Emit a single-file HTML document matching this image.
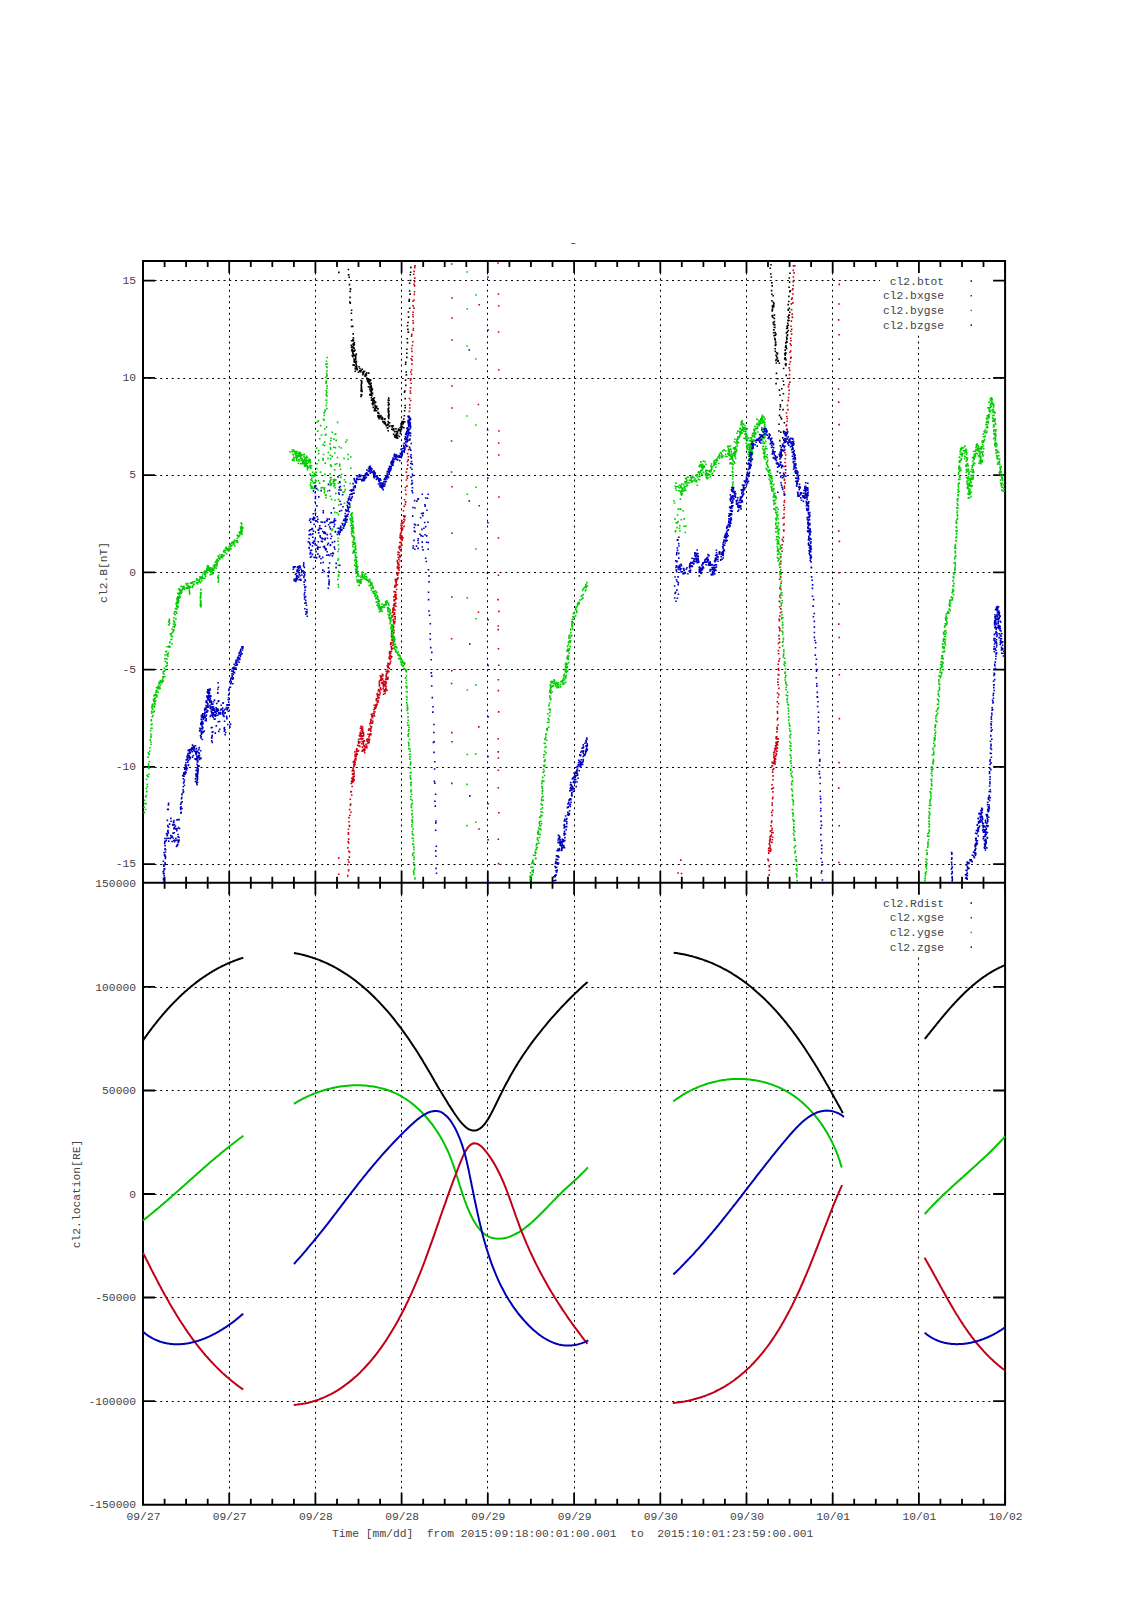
<!DOCTYPE html>
<html><head><meta charset="utf-8"><title>plot</title>
<style>html,body{margin:0;padding:0;background:#fff;}svg{display:block;}</style>
</head><body>
<svg width="1131" height="1600" viewBox="0 0 1131 1600"><path d="M229.5 261.0V882.8M229.5 882.8V1504.8M315.5 261.0V882.8M315.5 882.8V1504.8M401.5 261.0V882.8M401.5 882.8V1504.8M487.5 261.0V882.8M487.5 882.8V1504.8M574.5 261.0V882.8M574.5 882.8V1504.8M660.5 261.0V882.8M660.5 882.8V1504.8M746.5 261.0V882.8M746.5 882.8V1504.8M832.5 261.0V882.8M832.5 882.8V1504.8M918.5 261.0V882.8M918.5 882.8V1504.8M143.0 280.5H1005.1M143.0 378.5H1005.1M143.0 475.5H1005.1M143.0 572.5H1005.1M143.0 669.5H1005.1M143.0 767.5H1005.1M143.0 864.5H1005.1M143.0 987.5H1005.1M143.0 1090.5H1005.1M143.0 1194.5H1005.1M143.0 1297.5H1005.1M143.0 1401.5H1005.1" stroke="#000" stroke-width="1" stroke-dasharray="2 3.75" fill="none"/>
<rect x="880" y="270" width="124" height="62" fill="#fff"/>
<rect x="880" y="890" width="124" height="64" fill="#fff"/>
<path d="M143.0 261.0v12.0M143.0 882.8v-12.0M143.0 882.8v12.0M143.0 1504.8v-12.0M164.6 261.0v6.0M164.6 882.8v-6.0M164.6 882.8v6.0M164.6 1504.8v-6.0M186.1 261.0v6.0M186.1 882.8v-6.0M186.1 882.8v6.0M186.1 1504.8v-6.0M207.7 261.0v6.0M207.7 882.8v-6.0M207.7 882.8v6.0M207.7 1504.8v-6.0M229.2 261.0v12.0M229.2 882.8v-12.0M229.2 882.8v12.0M229.2 1504.8v-12.0M250.8 261.0v6.0M250.8 882.8v-6.0M250.8 882.8v6.0M250.8 1504.8v-6.0M272.3 261.0v6.0M272.3 882.8v-6.0M272.3 882.8v6.0M272.3 1504.8v-6.0M293.9 261.0v6.0M293.9 882.8v-6.0M293.9 882.8v6.0M293.9 1504.8v-6.0M315.4 261.0v12.0M315.4 882.8v-12.0M315.4 882.8v12.0M315.4 1504.8v-12.0M337.0 261.0v6.0M337.0 882.8v-6.0M337.0 882.8v6.0M337.0 1504.8v-6.0M358.5 261.0v6.0M358.5 882.8v-6.0M358.5 882.8v6.0M358.5 1504.8v-6.0M380.1 261.0v6.0M380.1 882.8v-6.0M380.1 882.8v6.0M380.1 1504.8v-6.0M401.6 261.0v12.0M401.6 882.8v-12.0M401.6 882.8v12.0M401.6 1504.8v-12.0M423.2 261.0v6.0M423.2 882.8v-6.0M423.2 882.8v6.0M423.2 1504.8v-6.0M444.7 261.0v6.0M444.7 882.8v-6.0M444.7 882.8v6.0M444.7 1504.8v-6.0M466.3 261.0v6.0M466.3 882.8v-6.0M466.3 882.8v6.0M466.3 1504.8v-6.0M487.8 261.0v12.0M487.8 882.8v-12.0M487.8 882.8v12.0M487.8 1504.8v-12.0M509.4 261.0v6.0M509.4 882.8v-6.0M509.4 882.8v6.0M509.4 1504.8v-6.0M530.9 261.0v6.0M530.9 882.8v-6.0M530.9 882.8v6.0M530.9 1504.8v-6.0M552.5 261.0v6.0M552.5 882.8v-6.0M552.5 882.8v6.0M552.5 1504.8v-6.0M574.1 261.0v12.0M574.1 882.8v-12.0M574.1 882.8v12.0M574.1 1504.8v-12.0M595.6 261.0v6.0M595.6 882.8v-6.0M595.6 882.8v6.0M595.6 1504.8v-6.0M617.2 261.0v6.0M617.2 882.8v-6.0M617.2 882.8v6.0M617.2 1504.8v-6.0M638.7 261.0v6.0M638.7 882.8v-6.0M638.7 882.8v6.0M638.7 1504.8v-6.0M660.3 261.0v12.0M660.3 882.8v-12.0M660.3 882.8v12.0M660.3 1504.8v-12.0M681.8 261.0v6.0M681.8 882.8v-6.0M681.8 882.8v6.0M681.8 1504.8v-6.0M703.4 261.0v6.0M703.4 882.8v-6.0M703.4 882.8v6.0M703.4 1504.8v-6.0M724.9 261.0v6.0M724.9 882.8v-6.0M724.9 882.8v6.0M724.9 1504.8v-6.0M746.5 261.0v12.0M746.5 882.8v-12.0M746.5 882.8v12.0M746.5 1504.8v-12.0M768.0 261.0v6.0M768.0 882.8v-6.0M768.0 882.8v6.0M768.0 1504.8v-6.0M789.6 261.0v6.0M789.6 882.8v-6.0M789.6 882.8v6.0M789.6 1504.8v-6.0M811.1 261.0v6.0M811.1 882.8v-6.0M811.1 882.8v6.0M811.1 1504.8v-6.0M832.7 261.0v12.0M832.7 882.8v-12.0M832.7 882.8v12.0M832.7 1504.8v-12.0M854.2 261.0v6.0M854.2 882.8v-6.0M854.2 882.8v6.0M854.2 1504.8v-6.0M875.8 261.0v6.0M875.8 882.8v-6.0M875.8 882.8v6.0M875.8 1504.8v-6.0M897.3 261.0v6.0M897.3 882.8v-6.0M897.3 882.8v6.0M897.3 1504.8v-6.0M918.9 261.0v12.0M918.9 882.8v-12.0M918.9 882.8v12.0M918.9 1504.8v-12.0M940.4 261.0v6.0M940.4 882.8v-6.0M940.4 882.8v6.0M940.4 1504.8v-6.0M962.0 261.0v6.0M962.0 882.8v-6.0M962.0 882.8v6.0M962.0 1504.8v-6.0M983.5 261.0v6.0M983.5 882.8v-6.0M983.5 882.8v6.0M983.5 1504.8v-6.0M1005.1 261.0v12.0M1005.1 882.8v-12.0M1005.1 882.8v12.0M1005.1 1504.8v-12.0M143.0 280.6h12M1005.1 280.6h-12M143.0 377.9h12M1005.1 377.9h-12M143.0 475.1h12M1005.1 475.1h-12M143.0 572.4h12M1005.1 572.4h-12M143.0 669.6h12M1005.1 669.6h-12M143.0 766.9h12M1005.1 766.9h-12M143.0 864.1h12M1005.1 864.1h-12M143.0 986.9h12M1005.1 986.9h-12M143.0 1090.5h12M1005.1 1090.5h-12M143.0 1194.0h12M1005.1 1194.0h-12M143.0 1297.5h12M1005.1 1297.5h-12M143.0 1401.1h12M1005.1 1401.1h-12" stroke="#000" stroke-width="1.8" fill="none"/>
<path d="M143.0 261.0H1005.1V1504.8H143.0ZM143.0 882.8H1005.1" stroke="#000" stroke-width="2" fill="none"/>
<g font-family="Liberation Mono, Courier New, monospace" font-size="11.3" fill="#444"><text x="136" y="283.8" text-anchor="end">15</text><text x="136" y="381.1" text-anchor="end">10</text><text x="136" y="478.3" text-anchor="end">5</text><text x="136" y="575.6" text-anchor="end">0</text><text x="136" y="672.9" text-anchor="end">-5</text><text x="136" y="770.1" text-anchor="end">-10</text><text x="136" y="867.4" text-anchor="end">-15</text><text x="136" y="887.0" text-anchor="end">150000</text><text x="136" y="990.5" text-anchor="end">100000</text><text x="136" y="1094.0" text-anchor="end">50000</text><text x="136" y="1197.6" text-anchor="end">0</text><text x="136" y="1301.1" text-anchor="end">-50000</text><text x="136" y="1404.7" text-anchor="end">-100000</text><text x="136" y="1508.2" text-anchor="end">-150000</text><text x="143.5" y="1520.2" text-anchor="middle">09/27</text><text x="229.7" y="1520.2" text-anchor="middle">09/27</text><text x="315.9" y="1520.2" text-anchor="middle">09/28</text><text x="402.1" y="1520.2" text-anchor="middle">09/28</text><text x="488.3" y="1520.2" text-anchor="middle">09/29</text><text x="574.6" y="1520.2" text-anchor="middle">09/29</text><text x="660.8" y="1520.2" text-anchor="middle">09/30</text><text x="747.0" y="1520.2" text-anchor="middle">09/30</text><text x="833.2" y="1520.2" text-anchor="middle">10/01</text><text x="919.4" y="1520.2" text-anchor="middle">10/01</text><text x="1005.6" y="1520.2" text-anchor="middle">10/02</text><text x="572.6" y="1537.3" text-anchor="middle" xml:space="preserve">Time [mm/dd]  from 2015:09:18:00:01:00.001  to  2015:10:01:23:59:00.001</text><text transform="translate(106.6 572.4) rotate(-90)" text-anchor="middle">cl2.B[nT]</text><text transform="translate(80 1194) rotate(-90)" text-anchor="middle">cl2.location[RE]</text><text transform="translate(568.7 246.1) scale(1.3 1)">-</text><text x="944" y="284.5" text-anchor="end">cl2.btot</text><text x="944" y="299.2" text-anchor="end">cl2.bxgse</text><text x="944" y="313.9" text-anchor="end">cl2.bygse</text><text x="944" y="328.6" text-anchor="end">cl2.bzgse</text><text x="944" y="906.5" text-anchor="end">cl2.Rdist</text><text x="944" y="921.2" text-anchor="end">cl2.xgse</text><text x="944" y="935.9" text-anchor="end">cl2.ygse</text><text x="944" y="950.6" text-anchor="end">cl2.zgse</text></g>
<rect x="970.5" y="280.3" width="1.5" height="1.5" fill="#000000"/>
<rect x="970.5" y="902.3" width="1.5" height="1.5" fill="#000000"/>
<rect x="970.5" y="295.0" width="1.5" height="1.5" fill="#c00018"/>
<rect x="970.5" y="917.0" width="1.5" height="1.5" fill="#c00018"/>
<rect x="970.5" y="309.7" width="1.5" height="1.5" fill="#00c400"/>
<rect x="970.5" y="931.7" width="1.5" height="1.5" fill="#00c400"/>
<rect x="970.5" y="324.4" width="1.5" height="1.5" fill="#0000b4"/>
<rect x="970.5" y="946.4" width="1.5" height="1.5" fill="#0000b4"/>
<path d="M142.8 1040.8L143.3 1040.1L143.7 1039.4L144.2 1038.7L144.7 1038.1L145.2 1037.4L145.6 1036.7L146.1 1036.0L146.6 1035.4L147.1 1034.7L147.6 1034.0L148.0 1033.4L148.5 1032.7L149.0 1032.0L149.5 1031.4L150.0 1030.7L150.5 1030.0L151.0 1029.4L151.5 1028.7L152.0 1028.0L152.5 1027.4L153.0 1026.7L153.5 1026.1L154.0 1025.4L154.6 1024.7L155.1 1024.1L155.6 1023.4L156.1 1022.8L156.6 1022.1L157.1 1021.5L157.7 1020.8L158.2 1020.2L158.7 1019.5L159.3 1018.9L159.8 1018.2L160.3 1017.6L160.9 1016.9L161.4 1016.3L161.9 1015.6L162.5 1015.0L163.0 1014.4L163.6 1013.7L164.1 1013.1L164.7 1012.5L165.2 1011.8L165.8 1011.2L166.4 1010.6L166.9 1009.9L167.5 1009.3L168.0 1008.7L168.6 1008.1L169.2 1007.5L169.7 1006.8L170.3 1006.2L170.9 1005.6L171.5 1005.0L172.1 1004.4L172.6 1003.8L173.2 1003.2L173.8 1002.6L174.4 1002.0L175.0 1001.4L175.6 1000.8L176.2 1000.2L176.8 999.6L177.4 999.0L178.0 998.4L178.6 997.8L179.2 997.2L179.8 996.6L180.4 996.1L181.0 995.5L181.6 994.9L182.2 994.3L182.8 993.8L183.5 993.2L184.1 992.6L184.7 992.1L185.3 991.5L185.9 991.0L186.6 990.4L187.2 989.9L187.8 989.3L188.5 988.8L189.1 988.2L189.8 987.7L190.4 987.1L191.0 986.6L191.7 986.1L192.3 985.5L193.0 985.0L193.6 984.5L194.3 984.0L195.0 983.5L195.6 982.9L196.3 982.4L197.0 981.9L197.6 981.4L198.3 980.9L199.0 980.4L199.6 979.9L200.3 979.4L201.0 978.9L201.7 978.5L202.3 978.0L203.0 977.5L203.7 977.0L204.4 976.6L205.1 976.1L205.8 975.6L206.5 975.2L207.2 974.7L207.9 974.3L208.6 973.8L209.3 973.4L210.0 972.9L210.7 972.5L211.4 972.1L212.1 971.6L212.8 971.2L213.6 970.8L214.3 970.4L215.0 969.9L215.7 969.5L216.5 969.1L217.2 968.7L217.9 968.3L218.7 967.9L219.4 967.5L220.1 967.2L220.9 966.8L221.6 966.4L222.4 966.0L223.1 965.7L223.9 965.3L224.6 964.9L225.4 964.6L226.1 964.2L226.9 963.9L227.6 963.5L228.4 963.2L229.2 962.9L229.9 962.5L230.7 962.2L231.5 961.9L232.3 961.6L233.0 961.3L233.8 961.0L234.6 960.7L235.4 960.4L236.2 960.1L237.0 959.8L237.7 959.5L238.5 959.2L239.3 959.0L240.1 958.7L240.9 958.4L241.7 958.2L242.5 957.9L243.3 957.7M293.9 953.0L296.8 953.6L299.7 954.1L302.5 954.8L305.3 955.5L308.1 956.3L310.8 957.1L313.5 958.0L316.2 958.9L318.9 959.9L321.5 961.0L324.2 962.1L326.7 963.2L329.3 964.5L331.8 965.7L334.4 967.0L336.8 968.4L339.3 969.8L341.7 971.3L344.1 972.8L346.5 974.3L348.8 975.9L351.2 977.5L353.5 979.2L355.8 980.9L358.0 982.7L360.2 984.5L362.4 986.3L364.6 988.2L366.8 990.1L368.9 992.0L371.0 994.0L373.1 996.0L375.1 998.0L377.2 1000.1L379.2 1002.1L381.2 1004.3L383.1 1006.4L385.1 1008.6L387.0 1010.7L388.9 1012.9L390.8 1015.2L392.6 1017.4L394.4 1019.7L396.2 1022.0L398.0 1024.3L399.8 1026.6L401.5 1028.9L403.2 1031.3L404.9 1033.6L406.6 1036.0L408.3 1038.4L409.9 1040.8L411.5 1043.2L413.1 1045.6L414.7 1048.0L416.3 1050.4L417.8 1052.8L419.3 1055.2L420.8 1057.6L422.3 1060.1L423.7 1062.5L425.2 1064.9L426.6 1067.3L428.0 1069.8L429.5 1072.2L430.9 1074.6L432.3 1077.1L433.7 1079.5L435.1 1082.0L436.6 1084.4L438.0 1086.9L439.5 1089.4L440.9 1091.8L442.4 1094.3L443.9 1096.8L445.5 1099.3L447.0 1101.8L448.6 1104.4L450.2 1106.9L451.8 1109.4L453.5 1112.0L455.2 1114.5L457.0 1117.0L458.8 1119.5L460.6 1121.8L462.4 1123.9L464.3 1125.8L466.2 1127.5L468.1 1128.8L470.1 1129.8L472.0 1130.4L474.0 1130.6L476.0 1130.4L477.9 1129.7L479.8 1128.6L481.7 1127.2L483.5 1125.4L485.2 1123.3L486.9 1120.9L488.5 1118.4L490.1 1115.6L491.6 1112.8L493.1 1109.9L494.6 1106.9L496.0 1104.0L497.4 1101.1L498.8 1098.3L500.1 1095.6L501.5 1092.9L502.8 1090.2L504.1 1087.6L505.4 1085.1L506.8 1082.6L508.1 1080.2L509.4 1077.7L510.7 1075.3L512.1 1073.0L513.5 1070.6L514.8 1068.3L516.2 1065.9L517.7 1063.6L519.1 1061.3L520.6 1059.0L522.1 1056.6L523.7 1054.3L525.3 1052.0L526.9 1049.7L528.5 1047.4L530.2 1045.0L531.9 1042.7L533.6 1040.4L535.3 1038.1L537.1 1035.9L538.9 1033.6L540.7 1031.3L542.5 1029.0L544.3 1026.8L546.2 1024.6L548.0 1022.3L549.9 1020.1L551.8 1017.9L553.7 1015.8L555.7 1013.6L557.6 1011.5L559.6 1009.3L561.5 1007.2L563.5 1005.1L565.5 1003.1L567.5 1001.0L569.5 999.0L571.5 997.0L573.5 995.0L575.5 993.1L577.5 991.2L579.5 989.3L581.5 987.4L583.5 985.6L585.6 983.8L587.6 982.0M673.7 952.7L675.3 952.9L676.9 953.1L678.5 953.4L680.1 953.7L681.7 954.0L683.3 954.3L684.8 954.6L686.4 954.9L687.9 955.3L689.5 955.7L691.0 956.0L692.5 956.4L694.0 956.9L695.5 957.3L697.0 957.7L698.5 958.2L700.0 958.7L701.4 959.1L702.9 959.6L704.3 960.2L705.8 960.7L707.2 961.2L708.6 961.8L710.1 962.4L711.5 962.9L712.9 963.5L714.2 964.1L715.6 964.8L717.0 965.4L718.4 966.1L719.7 966.7L721.1 967.4L722.4 968.1L723.7 968.8L725.1 969.5L726.4 970.2L727.7 970.9L729.0 971.7L730.3 972.4L731.6 973.2L732.8 974.0L734.1 974.8L735.4 975.6L736.6 976.4L737.9 977.2L739.1 978.1L740.3 978.9L741.6 979.8L742.8 980.7L744.0 981.5L745.2 982.4L746.4 983.3L747.6 984.2L748.8 985.2L749.9 986.1L751.1 987.0L752.3 988.0L753.4 988.9L754.6 989.9L755.7 990.9L756.8 991.9L758.0 992.9L759.1 993.9L760.2 994.9L761.3 995.9L762.4 996.9L763.5 998.0L764.6 999.0L765.7 1000.1L766.7 1001.1L767.8 1002.2L768.9 1003.3L769.9 1004.4L771.0 1005.5L772.0 1006.6L773.0 1007.7L774.1 1008.8L775.1 1009.9L776.1 1011.0L777.1 1012.2L778.1 1013.3L779.2 1014.5L780.1 1015.6L781.1 1016.8L782.1 1018.0L783.1 1019.1L784.1 1020.3L785.0 1021.5L786.0 1022.7L787.0 1023.9L787.9 1025.1L788.9 1026.3L789.8 1027.5L790.7 1028.7L791.7 1030.0L792.6 1031.2L793.5 1032.4L794.4 1033.6L795.4 1034.9L796.3 1036.1L797.2 1037.4L798.1 1038.6L799.0 1039.9L799.8 1041.2L800.7 1042.4L801.6 1043.7L802.5 1045.0L803.4 1046.2L804.2 1047.5L805.1 1048.8L805.9 1050.1L806.8 1051.4L807.6 1052.7L808.5 1054.0L809.3 1055.3L810.1 1056.6L811.0 1057.9L811.8 1059.2L812.6 1060.5L813.4 1061.8L814.3 1063.1L815.1 1064.4L815.9 1065.7L816.7 1067.0L817.5 1068.3L818.3 1069.7L819.1 1071.0L819.9 1072.3L820.6 1073.6L821.4 1074.9L822.2 1076.3L823.0 1077.6L823.8 1078.9L824.5 1080.2L825.3 1081.5L826.0 1082.9L826.8 1084.2L827.6 1085.5L828.3 1086.8L829.1 1088.1L829.8 1089.5L830.6 1090.8L831.3 1092.1L832.0 1093.4L832.8 1094.7L833.5 1096.0L834.2 1097.4L835.0 1098.7L835.7 1100.0L836.4 1101.3L837.1 1102.6L837.8 1103.9L838.6 1105.2L839.3 1106.5L840.0 1107.8L840.7 1109.1L841.4 1110.4L842.1 1111.7L842.8 1113.0M924.8 1039.0L925.2 1038.5L925.6 1037.9L926.0 1037.4L926.5 1036.8L926.9 1036.3L927.3 1035.8L927.8 1035.2L928.2 1034.7L928.6 1034.2L929.1 1033.6L929.5 1033.1L929.9 1032.5L930.3 1032.0L930.8 1031.5L931.2 1030.9L931.6 1030.4L932.1 1029.8L932.5 1029.3L932.9 1028.8L933.4 1028.2L933.8 1027.7L934.2 1027.1L934.7 1026.6L935.1 1026.1L935.6 1025.5L936.0 1025.0L936.4 1024.4L936.9 1023.9L937.3 1023.4L937.7 1022.8L938.2 1022.3L938.6 1021.7L939.1 1021.2L939.5 1020.7L939.9 1020.1L940.4 1019.6L940.8 1019.0L941.3 1018.5L941.7 1018.0L942.2 1017.4L942.6 1016.9L943.0 1016.4L943.5 1015.8L943.9 1015.3L944.4 1014.8L944.8 1014.2L945.3 1013.7L945.7 1013.2L946.2 1012.6L946.6 1012.1L947.1 1011.6L947.6 1011.0L948.0 1010.5L948.5 1010.0L948.9 1009.5L949.4 1008.9L949.8 1008.4L950.3 1007.9L950.8 1007.4L951.2 1006.9L951.7 1006.3L952.2 1005.8L952.6 1005.3L953.1 1004.8L953.6 1004.3L954.0 1003.8L954.5 1003.2L955.0 1002.7L955.4 1002.2L955.9 1001.7L956.4 1001.2L956.9 1000.7L957.3 1000.2L957.8 999.7L958.3 999.2L958.8 998.7L959.3 998.2L959.7 997.7L960.2 997.2L960.7 996.7L961.2 996.2L961.7 995.7L962.2 995.2L962.7 994.7L963.2 994.3L963.7 993.8L964.2 993.3L964.7 992.8L965.2 992.3L965.7 991.8L966.2 991.4L966.7 990.9L967.2 990.4L967.7 990.0L968.2 989.5L968.7 989.0L969.2 988.6L969.7 988.1L970.3 987.6L970.8 987.2L971.3 986.7L971.8 986.3L972.3 985.8L972.9 985.4L973.4 984.9L973.9 984.5L974.5 984.1L975.0 983.6L975.5 983.2L976.1 982.7L976.6 982.3L977.1 981.9L977.7 981.5L978.2 981.0L978.8 980.6L979.3 980.2L979.9 979.8L980.4 979.4L981.0 979.0L981.5 978.5L982.1 978.1L982.7 977.7L983.2 977.3L983.8 976.9L984.4 976.5L984.9 976.2L985.5 975.8L986.1 975.4L986.6 975.0L987.2 974.6L987.8 974.2L988.4 973.9L989.0 973.5L989.6 973.1L990.1 972.8L990.7 972.4L991.3 972.0L991.9 971.7L992.5 971.3L993.1 971.0L993.7 970.6L994.3 970.3L994.9 970.0L995.6 969.6L996.2 969.3L996.8 969.0L997.4 968.6L998.0 968.3L998.7 968.0L999.3 967.7L999.9 967.4L1000.5 967.1L1001.2 966.8L1001.8 966.5L1002.4 966.2L1003.1 965.9L1003.7 965.6L1004.4 965.3L1005.0 965.0" stroke="#000000" stroke-width="2" fill="none" stroke-linejoin="round"/>
<path d="M143.0 1220.5L143.6 1220.0L144.3 1219.5L144.9 1219.0L145.6 1218.4L146.2 1217.9L146.9 1217.4L147.5 1216.9L148.2 1216.4L148.8 1215.9L149.4 1215.3L150.1 1214.8L150.7 1214.3L151.4 1213.8L152.0 1213.2L152.6 1212.7L153.3 1212.2L153.9 1211.7L154.6 1211.1L155.2 1210.6L155.8 1210.1L156.5 1209.6L157.1 1209.0L157.7 1208.5L158.4 1208.0L159.0 1207.4L159.6 1206.9L160.2 1206.4L160.9 1205.8L161.5 1205.3L162.1 1204.8L162.8 1204.2L163.4 1203.7L164.0 1203.1L164.6 1202.6L165.3 1202.1L165.9 1201.5L166.5 1201.0L167.1 1200.4L167.8 1199.9L168.4 1199.4L169.0 1198.8L169.6 1198.3L170.2 1197.7L170.9 1197.2L171.5 1196.6L172.1 1196.1L172.7 1195.5L173.3 1195.0L174.0 1194.4L174.6 1193.9L175.2 1193.4L175.8 1192.8L176.4 1192.3L177.1 1191.7L177.7 1191.2L178.3 1190.6L178.9 1190.1L179.5 1189.5L180.2 1189.0L180.8 1188.4L181.4 1187.9L182.0 1187.3L182.6 1186.8L183.2 1186.2L183.9 1185.7L184.5 1185.1L185.1 1184.6L185.7 1184.0L186.3 1183.5L186.9 1182.9L187.5 1182.4L188.2 1181.8L188.8 1181.3L189.4 1180.7L190.0 1180.2L190.6 1179.6L191.2 1179.1L191.9 1178.5L192.5 1178.0L193.1 1177.4L193.7 1176.9L194.3 1176.3L194.9 1175.8L195.6 1175.2L196.2 1174.7L196.8 1174.1L197.4 1173.6L198.0 1173.0L198.7 1172.5L199.3 1171.9L199.9 1171.4L200.5 1170.8L201.1 1170.3L201.8 1169.7L202.4 1169.2L203.0 1168.6L203.6 1168.1L204.2 1167.6L204.9 1167.0L205.5 1166.5L206.1 1165.9L206.7 1165.4L207.3 1164.8L208.0 1164.3L208.6 1163.8L209.2 1163.2L209.8 1162.7L210.5 1162.1L211.1 1161.6L211.7 1161.1L212.4 1160.5L213.0 1160.0L213.6 1159.4L214.2 1158.9L214.9 1158.4L215.5 1157.8L216.1 1157.3L216.8 1156.8L217.4 1156.2L218.0 1155.7L218.7 1155.2L219.3 1154.7L219.9 1154.1L220.6 1153.6L221.2 1153.1L221.8 1152.6L222.5 1152.0L223.1 1151.5L223.7 1151.0L224.4 1150.5L225.0 1149.9L225.7 1149.4L226.3 1148.9L227.0 1148.4L227.6 1147.9L228.2 1147.4L228.9 1146.8L229.5 1146.3L230.2 1145.8L230.8 1145.3L231.5 1144.8L232.1 1144.3L232.8 1143.8L233.4 1143.3L234.1 1142.8L234.8 1142.3L235.4 1141.8L236.1 1141.3L236.7 1140.8L237.4 1140.3L238.0 1139.8L238.7 1139.3L239.4 1138.8L240.0 1138.3L240.7 1137.8L241.4 1137.3L242.0 1136.8L242.7 1136.3L243.4 1135.8M293.8 1103.9L296.0 1102.6L298.3 1101.2L300.6 1100.0L302.9 1098.7L305.2 1097.6L307.6 1096.4L310.0 1095.4L312.4 1094.3L314.8 1093.4L317.3 1092.5L319.8 1091.6L322.3 1090.8L324.8 1090.0L327.3 1089.3L329.9 1088.6L332.4 1088.0L335.0 1087.5L337.5 1087.0L340.1 1086.6L342.7 1086.2L345.3 1085.9L347.9 1085.7L350.4 1085.5L353.0 1085.3L355.6 1085.3L358.2 1085.3L360.7 1085.3L363.3 1085.4L365.9 1085.6L368.4 1085.9L370.9 1086.2L373.4 1086.6L375.9 1087.0L378.4 1087.6L380.9 1088.2L383.3 1088.8L385.7 1089.5L388.1 1090.3L390.5 1091.2L392.8 1092.1L395.1 1093.2L397.4 1094.2L399.7 1095.4L401.9 1096.6L404.1 1098.0L406.2 1099.3L408.3 1100.8L410.4 1102.3L412.5 1103.9L414.5 1105.5L416.4 1107.2L418.4 1109.0L420.3 1110.8L422.1 1112.6L423.9 1114.5L425.7 1116.5L427.4 1118.5L429.1 1120.5L430.8 1122.6L432.4 1124.7L433.9 1126.8L435.5 1129.0L436.9 1131.2L438.4 1133.4L439.8 1135.7L441.1 1138.0L442.4 1140.3L443.6 1142.6L444.8 1144.9L446.0 1147.2L447.1 1149.5L448.2 1151.9L449.2 1154.2L450.1 1156.6L451.1 1158.9L451.9 1161.3L452.8 1163.6L453.6 1166.0L454.4 1168.4L455.2 1170.8L456.0 1173.2L456.7 1175.6L457.5 1178.0L458.2 1180.4L459.0 1182.8L459.7 1185.2L460.5 1187.7L461.3 1190.1L462.1 1192.6L462.9 1195.1L463.8 1197.5L464.6 1200.0L465.6 1202.6L466.5 1205.1L467.5 1207.6L468.6 1210.2L469.7 1212.7L470.9 1215.2L472.1 1217.6L473.3 1220.0L474.7 1222.3L476.1 1224.6L477.5 1226.7L479.1 1228.7L480.7 1230.5L482.4 1232.2L484.1 1233.7L485.9 1235.1L487.8 1236.2L489.8 1237.1L491.9 1237.8L494.0 1238.3L496.2 1238.6L498.5 1238.7L500.7 1238.6L503.0 1238.4L505.3 1237.9L507.6 1237.4L509.8 1236.6L512.1 1235.7L514.3 1234.7L516.5 1233.5L518.7 1232.3L520.9 1230.9L523.1 1229.4L525.2 1227.8L527.3 1226.1L529.5 1224.4L531.6 1222.6L533.6 1220.7L535.7 1218.8L537.8 1216.8L539.8 1214.8L541.8 1212.8L543.8 1210.8L545.8 1208.7L547.8 1206.7L549.7 1204.6L551.7 1202.6L553.6 1200.6L555.5 1198.7L557.4 1196.7L559.2 1194.9L561.1 1193.1L562.9 1191.3L564.7 1189.6L566.5 1187.9L568.3 1186.3L570.1 1184.7L571.9 1183.1L573.7 1181.5L575.4 1179.8L577.2 1178.2L579.0 1176.5L580.7 1174.8L582.5 1173.1L584.3 1171.2L586.1 1169.4L587.9 1167.4M673.2 1101.5L674.3 1100.6L675.5 1099.8L676.7 1098.9L677.9 1098.1L679.1 1097.3L680.3 1096.5L681.6 1095.7L682.8 1094.9L684.0 1094.2L685.3 1093.4L686.5 1092.7L687.8 1092.0L689.0 1091.4L690.3 1090.7L691.6 1090.1L692.8 1089.5L694.1 1088.9L695.4 1088.3L696.7 1087.7L698.0 1087.2L699.3 1086.6L700.6 1086.1L701.9 1085.6L703.2 1085.2L704.5 1084.7L705.8 1084.3L707.1 1083.8L708.4 1083.4L709.8 1083.0L711.1 1082.7L712.4 1082.3L713.7 1082.0L715.1 1081.7L716.4 1081.4L717.7 1081.1L719.1 1080.8L720.4 1080.6L721.7 1080.3L723.1 1080.1L724.4 1079.9L725.8 1079.8L727.1 1079.6L728.4 1079.5L729.8 1079.3L731.1 1079.2L732.5 1079.1L733.8 1079.1L735.1 1079.0L736.5 1079.0L737.8 1079.0L739.2 1078.9L740.5 1079.0L741.8 1079.0L743.2 1079.0L744.5 1079.1L745.8 1079.2L747.1 1079.3L748.5 1079.4L749.8 1079.5L751.1 1079.7L752.4 1079.9L753.7 1080.1L755.0 1080.3L756.3 1080.5L757.6 1080.7L758.9 1081.0L760.2 1081.3L761.5 1081.5L762.8 1081.9L764.0 1082.2L765.3 1082.5L766.6 1082.9L767.8 1083.3L769.1 1083.7L770.3 1084.1L771.6 1084.5L772.8 1084.9L774.0 1085.4L775.2 1085.9L776.5 1086.4L777.7 1086.9L778.9 1087.4L780.1 1088.0L781.3 1088.5L782.4 1089.1L783.6 1089.7L784.8 1090.3L785.9 1090.9L787.1 1091.6L788.2 1092.3L789.3 1092.9L790.5 1093.6L791.6 1094.4L792.7 1095.1L793.8 1095.8L794.8 1096.6L795.9 1097.4L797.0 1098.2L798.0 1099.0L799.1 1099.8L800.1 1100.7L801.2 1101.5L802.2 1102.4L803.2 1103.3L804.2 1104.2L805.2 1105.1L806.1 1106.0L807.1 1107.0L808.1 1107.9L809.0 1108.9L809.9 1109.9L810.9 1110.9L811.8 1111.9L812.7 1112.9L813.6 1113.9L814.5 1114.9L815.4 1116.0L816.2 1117.1L817.1 1118.1L817.9 1119.2L818.7 1120.3L819.6 1121.4L820.4 1122.5L821.2 1123.7L822.0 1124.8L822.7 1125.9L823.5 1127.1L824.3 1128.3L825.0 1129.4L825.7 1130.6L826.5 1131.8L827.2 1133.0L827.9 1134.2L828.5 1135.4L829.2 1136.6L829.9 1137.9L830.5 1139.1L831.2 1140.3L831.8 1141.6L832.4 1142.8L833.0 1144.1L833.6 1145.4L834.2 1146.6L834.7 1147.9L835.3 1149.2L835.8 1150.5L836.4 1151.8L836.9 1153.1L837.4 1154.4L837.9 1155.7L838.4 1157.0L838.8 1158.3L839.3 1159.6L839.7 1160.9L840.1 1162.3L840.5 1163.6L840.9 1164.9L841.3 1166.2L841.7 1167.6M924.7 1214.1L925.2 1213.6L925.6 1213.0L926.1 1212.5L926.6 1212.0L927.1 1211.5L927.5 1211.0L928.0 1210.4L928.5 1209.9L929.0 1209.4L929.4 1208.9L929.9 1208.4L930.4 1207.9L930.9 1207.4L931.4 1206.9L931.9 1206.3L932.3 1205.8L932.8 1205.3L933.3 1204.8L933.8 1204.3L934.3 1203.8L934.8 1203.3L935.3 1202.8L935.8 1202.3L936.3 1201.8L936.8 1201.3L937.3 1200.8L937.8 1200.3L938.3 1199.8L938.8 1199.4L939.3 1198.9L939.8 1198.4L940.3 1197.9L940.8 1197.4L941.3 1196.9L941.8 1196.4L942.3 1195.9L942.8 1195.4L943.3 1195.0L943.8 1194.5L944.3 1194.0L944.8 1193.5L945.3 1193.0L945.9 1192.5L946.4 1192.1L946.9 1191.6L947.4 1191.1L947.9 1190.6L948.4 1190.1L948.9 1189.7L949.4 1189.2L950.0 1188.7L950.5 1188.2L951.0 1187.8L951.5 1187.3L952.0 1186.8L952.5 1186.3L953.1 1185.9L953.6 1185.4L954.1 1184.9L954.6 1184.4L955.1 1184.0L955.7 1183.5L956.2 1183.0L956.7 1182.6L957.2 1182.1L957.8 1181.6L958.3 1181.1L958.8 1180.7L959.3 1180.2L959.8 1179.7L960.4 1179.3L960.9 1178.8L961.4 1178.3L961.9 1177.9L962.5 1177.4L963.0 1176.9L963.5 1176.4L964.0 1176.0L964.5 1175.5L965.1 1175.0L965.6 1174.6L966.1 1174.1L966.6 1173.6L967.2 1173.2L967.7 1172.7L968.2 1172.2L968.7 1171.8L969.3 1171.3L969.8 1170.8L970.3 1170.3L970.8 1169.9L971.3 1169.4L971.9 1168.9L972.4 1168.5L972.9 1168.0L973.4 1167.5L974.0 1167.1L974.5 1166.6L975.0 1166.1L975.5 1165.6L976.0 1165.2L976.6 1164.7L977.1 1164.2L977.6 1163.7L978.1 1163.3L978.6 1162.8L979.1 1162.3L979.7 1161.8L980.2 1161.4L980.7 1160.9L981.2 1160.4L981.7 1159.9L982.2 1159.5L982.8 1159.0L983.3 1158.5L983.8 1158.0L984.3 1157.5L984.8 1157.1L985.3 1156.6L985.8 1156.1L986.3 1155.6L986.8 1155.1L987.4 1154.6L987.9 1154.2L988.4 1153.7L988.9 1153.2L989.4 1152.7L989.9 1152.2L990.4 1151.7L990.9 1151.2L991.4 1150.7L991.9 1150.2L992.4 1149.7L992.9 1149.2L993.4 1148.7L993.9 1148.2L994.4 1147.8L994.9 1147.3L995.4 1146.8L995.9 1146.3L996.3 1145.7L996.8 1145.2L997.3 1144.7L997.8 1144.2L998.3 1143.7L998.8 1143.2L999.3 1142.7L999.8 1142.2L1000.2 1141.7L1000.7 1141.2L1001.2 1140.7L1001.7 1140.1L1002.2 1139.6L1002.6 1139.1L1003.1 1138.6L1003.6 1138.1L1004.1 1137.5L1004.5 1137.0L1005.0 1136.5" stroke="#00c400" stroke-width="2" fill="none" stroke-linejoin="round"/>
<path d="M143.0 1252.7L143.5 1253.7L143.9 1254.6L144.4 1255.6L144.9 1256.5L145.4 1257.5L145.8 1258.4L146.3 1259.4L146.8 1260.3L147.3 1261.3L147.8 1262.2L148.2 1263.2L148.7 1264.1L149.2 1265.1L149.7 1266.1L150.2 1267.0L150.6 1268.0L151.1 1268.9L151.6 1269.9L152.1 1270.8L152.6 1271.8L153.1 1272.7L153.6 1273.7L154.1 1274.7L154.6 1275.6L155.1 1276.6L155.6 1277.5L156.1 1278.5L156.6 1279.4L157.1 1280.4L157.6 1281.4L158.1 1282.3L158.6 1283.3L159.1 1284.2L159.6 1285.2L160.1 1286.1L160.6 1287.1L161.1 1288.0L161.6 1289.0L162.1 1289.9L162.7 1290.9L163.2 1291.9L163.7 1292.8L164.2 1293.8L164.7 1294.7L165.3 1295.7L165.8 1296.6L166.3 1297.6L166.9 1298.5L167.4 1299.4L167.9 1300.4L168.5 1301.3L169.0 1302.3L169.5 1303.2L170.1 1304.2L170.6 1305.1L171.2 1306.0L171.7 1307.0L172.3 1307.9L172.8 1308.8L173.4 1309.8L173.9 1310.7L174.5 1311.6L175.1 1312.6L175.6 1313.5L176.2 1314.4L176.8 1315.4L177.3 1316.3L177.9 1317.2L178.5 1318.1L179.1 1319.0L179.6 1320.0L180.2 1320.9L180.8 1321.8L181.4 1322.7L182.0 1323.6L182.6 1324.5L183.2 1325.4L183.8 1326.3L184.4 1327.2L185.0 1328.1L185.6 1329.0L186.2 1329.9L186.8 1330.8L187.4 1331.7L188.0 1332.6L188.7 1333.5L189.3 1334.4L189.9 1335.2L190.5 1336.1L191.2 1337.0L191.8 1337.9L192.4 1338.8L193.1 1339.6L193.7 1340.5L194.4 1341.4L195.0 1342.2L195.7 1343.1L196.3 1343.9L197.0 1344.8L197.6 1345.6L198.3 1346.5L199.0 1347.3L199.6 1348.2L200.3 1349.0L201.0 1349.8L201.7 1350.7L202.4 1351.5L203.1 1352.3L203.7 1353.2L204.4 1354.0L205.1 1354.8L205.8 1355.6L206.5 1356.4L207.3 1357.2L208.0 1358.0L208.7 1358.8L209.4 1359.6L210.1 1360.4L210.8 1361.2L211.6 1362.0L212.3 1362.8L213.0 1363.6L213.8 1364.3L214.5 1365.1L215.3 1365.9L216.0 1366.6L216.8 1367.4L217.6 1368.2L218.3 1368.9L219.1 1369.7L219.9 1370.4L220.6 1371.2L221.4 1371.9L222.2 1372.6L223.0 1373.4L223.8 1374.1L224.6 1374.8L225.4 1375.5L226.2 1376.2L227.0 1376.9L227.8 1377.6L228.6 1378.3L229.4 1379.0L230.3 1379.7L231.1 1380.4L231.9 1381.1L232.8 1381.8L233.6 1382.4L234.4 1383.1L235.3 1383.8L236.1 1384.4L237.0 1385.1L237.9 1385.7L238.7 1386.4L239.6 1387.0L240.5 1387.6L241.4 1388.3L242.3 1388.9L243.2 1389.5M293.7 1405.0L297.5 1404.6L301.1 1404.1L304.8 1403.5L308.3 1402.7L311.8 1401.8L315.2 1400.7L318.6 1399.6L321.9 1398.3L325.2 1396.9L328.3 1395.4L331.5 1393.8L334.6 1392.1L337.6 1390.3L340.6 1388.4L343.5 1386.4L346.3 1384.3L349.2 1382.1L351.9 1379.9L354.6 1377.6L357.3 1375.2L359.9 1372.7L362.4 1370.1L364.9 1367.5L367.4 1364.8L369.8 1362.1L372.1 1359.3L374.4 1356.5L376.7 1353.6L378.9 1350.6L381.1 1347.6L383.2 1344.6L385.3 1341.6L387.3 1338.5L389.3 1335.3L391.2 1332.2L393.1 1329.0L395.0 1325.9L396.8 1322.7L398.6 1319.4L400.3 1316.2L402.0 1313.0L403.7 1309.8L405.3 1306.5L406.8 1303.3L408.4 1300.1L409.9 1296.8L411.4 1293.6L412.8 1290.4L414.2 1287.1L415.6 1283.9L417.0 1280.6L418.3 1277.3L419.7 1274.1L421.0 1270.8L422.3 1267.5L423.5 1264.3L424.8 1261.0L426.0 1257.7L427.2 1254.4L428.4 1251.1L429.6 1247.7L430.8 1244.4L432.0 1241.1L433.2 1237.7L434.4 1234.3L435.5 1231.0L436.7 1227.6L437.9 1224.2L439.1 1220.8L440.2 1217.4L441.4 1214.0L442.6 1210.5L443.8 1207.1L445.1 1203.6L446.3 1200.1L447.5 1196.6L448.8 1193.1L450.1 1189.6L451.4 1186.0L452.7 1182.4L454.0 1178.9L455.4 1175.3L456.8 1171.7L458.2 1168.0L459.6 1164.4L461.1 1160.7L462.6 1157.1L464.2 1153.7L465.9 1150.6L467.6 1147.9L469.5 1145.7L471.5 1144.1L473.7 1143.3L476.0 1143.4L478.4 1144.3L480.9 1146.0L483.3 1148.3L485.6 1151.1L487.8 1153.9L489.9 1156.9L491.9 1159.9L493.8 1162.9L495.6 1166.0L497.3 1169.2L498.9 1172.5L500.5 1175.7L502.0 1179.0L503.5 1182.4L504.9 1185.8L506.2 1189.2L507.5 1192.6L508.8 1196.1L510.1 1199.6L511.3 1203.0L512.5 1206.5L513.8 1210.0L515.0 1213.5L516.2 1217.0L517.5 1220.5L518.7 1223.9L520.0 1227.4L521.3 1230.8L522.7 1234.2L524.1 1237.6L525.5 1240.9L526.9 1244.3L528.4 1247.6L529.8 1250.9L531.4 1254.2L532.9 1257.4L534.5 1260.7L536.0 1263.9L537.7 1267.1L539.3 1270.3L541.0 1273.4L542.7 1276.6L544.4 1279.7L546.1 1282.8L547.9 1285.9L549.6 1288.9L551.4 1292.0L553.3 1295.0L555.1 1298.0L557.0 1301.0L558.9 1304.0L560.8 1306.9L562.7 1309.9L564.7 1312.8L566.7 1315.7L568.6 1318.6L570.7 1321.5L572.7 1324.3L574.7 1327.1L576.8 1329.9L578.9 1332.7L581.0 1335.5L583.1 1338.3L585.2 1341.0L587.4 1343.8M672.8 1403.0L674.8 1402.8L676.8 1402.6L678.8 1402.3L680.8 1402.0L682.7 1401.7L684.7 1401.4L686.6 1401.0L688.5 1400.7L690.3 1400.2L692.2 1399.8L694.0 1399.3L695.8 1398.8L697.6 1398.3L699.4 1397.8L701.2 1397.2L702.9 1396.6L704.7 1396.0L706.4 1395.4L708.1 1394.7L709.8 1394.0L711.4 1393.3L713.1 1392.6L714.7 1391.8L716.3 1391.0L717.9 1390.2L719.5 1389.4L721.1 1388.5L722.6 1387.7L724.2 1386.8L725.7 1385.9L727.2 1384.9L728.7 1384.0L730.2 1383.0L731.6 1382.0L733.1 1381.0L734.5 1380.0L735.9 1378.9L737.3 1377.8L738.7 1376.7L740.1 1375.6L741.4 1374.5L742.8 1373.3L744.1 1372.2L745.4 1371.0L746.7 1369.8L748.0 1368.6L749.3 1367.4L750.6 1366.1L751.8 1364.8L753.1 1363.6L754.3 1362.3L755.5 1360.9L756.7 1359.6L757.9 1358.3L759.1 1356.9L760.2 1355.5L761.4 1354.2L762.5 1352.8L763.7 1351.3L764.8 1349.9L765.9 1348.5L767.0 1347.0L768.1 1345.6L769.2 1344.1L770.2 1342.6L771.3 1341.1L772.3 1339.6L773.4 1338.0L774.4 1336.5L775.4 1335.0L776.4 1333.4L777.4 1331.8L778.4 1330.3L779.4 1328.7L780.3 1327.1L781.3 1325.5L782.2 1323.8L783.2 1322.2L784.1 1320.6L785.0 1319.0L785.9 1317.3L786.8 1315.6L787.7 1314.0L788.6 1312.3L789.5 1310.6L790.4 1308.9L791.2 1307.3L792.1 1305.6L792.9 1303.8L793.8 1302.1L794.6 1300.4L795.4 1298.7L796.3 1297.0L797.1 1295.2L797.9 1293.5L798.7 1291.8L799.5 1290.0L800.3 1288.3L801.0 1286.5L801.8 1284.8L802.6 1283.0L803.4 1281.3L804.1 1279.5L804.9 1277.7L805.6 1276.0L806.4 1274.2L807.1 1272.4L807.8 1270.7L808.6 1268.9L809.3 1267.1L810.0 1265.4L810.7 1263.6L811.4 1261.8L812.1 1260.1L812.8 1258.3L813.5 1256.5L814.2 1254.8L814.9 1253.0L815.6 1251.2L816.3 1249.5L817.0 1247.7L817.7 1246.0L818.3 1244.2L819.0 1242.4L819.7 1240.7L820.4 1239.0L821.0 1237.2L821.7 1235.5L822.4 1233.7L823.0 1232.0L823.7 1230.3L824.3 1228.6L825.0 1226.9L825.7 1225.2L826.3 1223.5L827.0 1221.8L827.6 1220.1L828.3 1218.4L828.9 1216.7L829.6 1215.1L830.2 1213.4L830.9 1211.7L831.5 1210.1L832.2 1208.5L832.8 1206.8L833.5 1205.2L834.1 1203.6L834.8 1202.0L835.4 1200.4L836.1 1198.8L836.7 1197.3L837.4 1195.7L838.1 1194.1L838.7 1192.6L839.4 1191.1L840.0 1189.6L840.7 1188.1L841.4 1186.6L842.0 1185.1M924.6 1257.6L925.0 1258.4L925.4 1259.1L925.9 1259.9L926.3 1260.6L926.7 1261.4L927.1 1262.1L927.6 1262.9L928.0 1263.7L928.4 1264.4L928.9 1265.2L929.3 1265.9L929.7 1266.7L930.1 1267.5L930.6 1268.2L931.0 1269.0L931.4 1269.7L931.8 1270.5L932.3 1271.3L932.7 1272.0L933.1 1272.8L933.5 1273.6L934.0 1274.3L934.4 1275.1L934.8 1275.9L935.2 1276.6L935.7 1277.4L936.1 1278.2L936.5 1279.0L936.9 1279.7L937.3 1280.5L937.8 1281.3L938.2 1282.0L938.6 1282.8L939.0 1283.6L939.5 1284.4L939.9 1285.1L940.3 1285.9L940.7 1286.7L941.2 1287.5L941.6 1288.2L942.0 1289.0L942.4 1289.8L942.9 1290.5L943.3 1291.3L943.7 1292.1L944.2 1292.9L944.6 1293.6L945.0 1294.4L945.4 1295.2L945.9 1295.9L946.3 1296.7L946.7 1297.5L947.2 1298.2L947.6 1299.0L948.0 1299.8L948.5 1300.6L948.9 1301.3L949.4 1302.1L949.8 1302.8L950.2 1303.6L950.7 1304.4L951.1 1305.1L951.6 1305.9L952.0 1306.7L952.5 1307.4L952.9 1308.2L953.4 1308.9L953.8 1309.7L954.3 1310.5L954.7 1311.2L955.2 1312.0L955.6 1312.7L956.1 1313.5L956.5 1314.2L957.0 1315.0L957.5 1315.7L957.9 1316.5L958.4 1317.2L958.9 1318.0L959.3 1318.7L959.8 1319.5L960.3 1320.2L960.8 1320.9L961.2 1321.7L961.7 1322.4L962.2 1323.1L962.7 1323.9L963.2 1324.6L963.6 1325.3L964.1 1326.1L964.6 1326.8L965.1 1327.5L965.6 1328.2L966.1 1329.0L966.6 1329.7L967.1 1330.4L967.6 1331.1L968.1 1331.8L968.6 1332.5L969.1 1333.3L969.7 1334.0L970.2 1334.7L970.7 1335.4L971.2 1336.1L971.7 1336.8L972.3 1337.5L972.8 1338.2L973.3 1338.9L973.9 1339.5L974.4 1340.2L975.0 1340.9L975.5 1341.6L976.0 1342.3L976.6 1343.0L977.1 1343.6L977.7 1344.3L978.3 1345.0L978.8 1345.6L979.4 1346.3L980.0 1347.0L980.5 1347.6L981.1 1348.3L981.7 1348.9L982.3 1349.6L982.8 1350.2L983.4 1350.9L984.0 1351.5L984.6 1352.2L985.2 1352.8L985.8 1353.4L986.4 1354.1L987.0 1354.7L987.6 1355.3L988.3 1355.9L988.9 1356.6L989.5 1357.2L990.1 1357.8L990.8 1358.4L991.4 1359.0L992.0 1359.6L992.7 1360.2L993.3 1360.8L994.0 1361.4L994.6 1362.0L995.3 1362.6L995.9 1363.1L996.6 1363.7L997.3 1364.3L998.0 1364.9L998.6 1365.4L999.3 1366.0L1000.0 1366.6L1000.7 1367.1L1001.4 1367.7L1002.1 1368.2L1002.8 1368.8L1003.5 1369.3L1004.2 1369.8L1004.9 1370.4" stroke="#c00018" stroke-width="2" fill="none" stroke-linejoin="round"/>
<path d="M142.8 1331.6L143.4 1332.1L144.0 1332.6L144.6 1333.1L145.2 1333.6L145.8 1334.0L146.4 1334.5L147.1 1334.9L147.7 1335.4L148.3 1335.8L148.9 1336.2L149.6 1336.6L150.2 1337.0L150.8 1337.3L151.5 1337.7L152.1 1338.1L152.7 1338.4L153.4 1338.7L154.0 1339.1L154.7 1339.4L155.3 1339.7L156.0 1340.0L156.6 1340.2L157.3 1340.5L157.9 1340.8L158.6 1341.0L159.2 1341.3L159.9 1341.5L160.5 1341.7L161.2 1341.9L161.9 1342.1L162.5 1342.3L163.2 1342.5L163.8 1342.7L164.5 1342.8L165.2 1343.0L165.8 1343.1L166.5 1343.3L167.2 1343.4L167.9 1343.5L168.5 1343.6L169.2 1343.7L169.9 1343.8L170.5 1343.9L171.2 1344.0L171.9 1344.0L172.6 1344.1L173.2 1344.2L173.9 1344.2L174.6 1344.2L175.3 1344.2L176.0 1344.3L176.6 1344.3L177.3 1344.3L178.0 1344.3L178.7 1344.3L179.3 1344.2L180.0 1344.2L180.7 1344.2L181.4 1344.1L182.1 1344.1L182.7 1344.0L183.4 1343.9L184.1 1343.9L184.8 1343.8L185.5 1343.7L186.1 1343.6L186.8 1343.5L187.5 1343.4L188.2 1343.3L188.9 1343.1L189.5 1343.0L190.2 1342.9L190.9 1342.7L191.6 1342.6L192.2 1342.4L192.9 1342.2L193.6 1342.1L194.3 1341.9L194.9 1341.7L195.6 1341.5L196.3 1341.3L197.0 1341.1L197.6 1340.9L198.3 1340.7L199.0 1340.5L199.6 1340.3L200.3 1340.0L201.0 1339.8L201.6 1339.6L202.3 1339.3L203.0 1339.1L203.6 1338.8L204.3 1338.6L205.0 1338.3L205.6 1338.0L206.3 1337.7L206.9 1337.5L207.6 1337.2L208.2 1336.9L208.9 1336.6L209.5 1336.3L210.2 1336.0L210.8 1335.7L211.5 1335.4L212.1 1335.1L212.8 1334.7L213.4 1334.4L214.0 1334.1L214.7 1333.8L215.3 1333.4L215.9 1333.1L216.6 1332.7L217.2 1332.4L217.8 1332.0L218.4 1331.7L219.1 1331.3L219.7 1331.0L220.3 1330.6L220.9 1330.2L221.5 1329.9L222.1 1329.5L222.7 1329.1L223.3 1328.7L223.9 1328.3L224.5 1327.9L225.1 1327.6L225.7 1327.2L226.3 1326.8L226.9 1326.4L227.5 1326.0L228.1 1325.6L228.7 1325.2L229.3 1324.8L229.8 1324.3L230.4 1323.9L231.0 1323.5L231.5 1323.1L232.1 1322.7L232.7 1322.3L233.2 1321.9L233.8 1321.4L234.3 1321.0L234.9 1320.6L235.4 1320.2L236.0 1319.7L236.5 1319.3L237.0 1318.9L237.6 1318.4L238.1 1318.0L238.6 1317.6L239.2 1317.1L239.7 1316.7L240.2 1316.2L240.7 1315.8L241.2 1315.4L241.7 1314.9L242.2 1314.5L242.7 1314.1L243.2 1313.6M294.0 1264.0L296.5 1261.1L299.0 1258.3L301.5 1255.6L303.8 1252.8L306.2 1250.1L308.4 1247.4L310.7 1244.7L312.9 1242.1L315.0 1239.5L317.1 1236.9L319.2 1234.3L321.2 1231.8L323.2 1229.3L325.2 1226.8L327.2 1224.3L329.1 1221.8L331.0 1219.4L332.9 1216.9L334.7 1214.5L336.6 1212.1L338.4 1209.7L340.2 1207.3L342.0 1204.9L343.8 1202.6L345.6 1200.2L347.4 1197.8L349.2 1195.5L351.0 1193.1L352.8 1190.8L354.7 1188.4L356.5 1186.1L358.3 1183.7L360.2 1181.4L362.1 1179.0L363.9 1176.6L365.9 1174.3L367.8 1171.9L369.8 1169.5L371.8 1167.1L373.8 1164.7L375.8 1162.3L377.9 1159.9L380.1 1157.4L382.2 1154.9L384.4 1152.5L386.7 1150.0L389.0 1147.4L391.4 1144.9L393.8 1142.3L396.3 1139.8L398.8 1137.1L401.4 1134.5L404.0 1131.9L406.7 1129.2L409.5 1126.5L412.3 1123.9L415.1 1121.4L417.9 1119.1L420.7 1117.0L423.5 1115.1L426.3 1113.5L429.1 1112.2L431.7 1111.4L434.4 1110.9L436.9 1110.9L439.3 1111.4L441.7 1112.4L443.9 1113.9L446.1 1115.7L448.2 1117.8L450.1 1120.2L452.0 1122.9L453.7 1125.8L455.4 1128.8L456.9 1131.9L458.3 1135.1L459.7 1138.3L460.9 1141.5L462.0 1144.7L463.0 1147.8L464.0 1151.0L464.9 1154.1L465.7 1157.3L466.5 1160.4L467.2 1163.5L467.9 1166.7L468.6 1169.8L469.2 1172.9L469.9 1176.1L470.5 1179.3L471.2 1182.5L471.8 1185.7L472.5 1188.9L473.1 1192.1L473.8 1195.3L474.4 1198.5L475.1 1201.7L475.8 1205.0L476.5 1208.2L477.2 1211.4L477.9 1214.7L478.6 1217.9L479.3 1221.1L480.1 1224.3L480.9 1227.5L481.7 1230.8L482.5 1234.0L483.3 1237.2L484.2 1240.3L485.1 1243.5L486.0 1246.7L487.0 1249.8L488.0 1253.0L489.0 1256.1L490.0 1259.2L491.1 1262.3L492.2 1265.3L493.4 1268.4L494.6 1271.4L495.8 1274.4L497.1 1277.4L498.4 1280.3L499.8 1283.3L501.2 1286.2L502.7 1289.0L504.2 1291.9L505.7 1294.7L507.4 1297.5L509.0 1300.2L510.8 1302.9L512.5 1305.6L514.4 1308.3L516.3 1310.9L518.2 1313.5L520.3 1316.0L522.4 1318.5L524.5 1320.9L526.7 1323.3L529.0 1325.7L531.4 1328.0L533.8 1330.2L536.3 1332.3L538.8 1334.4L541.5 1336.3L544.1 1338.0L546.9 1339.7L549.7 1341.1L552.6 1342.4L555.5 1343.5L558.5 1344.4L561.6 1345.0L564.7 1345.4L567.9 1345.6L571.2 1345.5L574.5 1345.1L577.8 1344.4L581.3 1343.4L584.8 1342.1L588.3 1340.4M673.4 1274.5L674.6 1273.3L675.8 1272.2L676.9 1271.0L678.1 1269.9L679.3 1268.7L680.4 1267.6L681.5 1266.4L682.7 1265.3L683.8 1264.1L684.9 1263.0L686.0 1261.8L687.1 1260.7L688.2 1259.5L689.3 1258.4L690.4 1257.2L691.5 1256.1L692.6 1254.9L693.6 1253.8L694.7 1252.6L695.7 1251.4L696.8 1250.3L697.8 1249.1L698.9 1248.0L699.9 1246.8L700.9 1245.7L702.0 1244.5L703.0 1243.3L704.0 1242.2L705.0 1241.0L706.0 1239.8L707.0 1238.7L708.0 1237.5L709.0 1236.3L710.0 1235.2L711.0 1234.0L712.0 1232.8L713.0 1231.7L713.9 1230.5L714.9 1229.3L715.9 1228.1L716.8 1227.0L717.8 1225.8L718.8 1224.6L719.7 1223.4L720.7 1222.3L721.6 1221.1L722.6 1219.9L723.5 1218.7L724.5 1217.5L725.4 1216.3L726.4 1215.2L727.3 1214.0L728.2 1212.8L729.2 1211.6L730.1 1210.4L731.1 1209.2L732.0 1208.0L732.9 1206.8L733.8 1205.7L734.8 1204.5L735.7 1203.3L736.6 1202.1L737.6 1200.9L738.5 1199.7L739.4 1198.5L740.4 1197.3L741.3 1196.1L742.2 1194.9L743.1 1193.7L744.1 1192.5L745.0 1191.2L745.9 1190.0L746.9 1188.8L747.8 1187.6L748.7 1186.4L749.7 1185.2L750.6 1184.0L751.5 1182.8L752.5 1181.5L753.4 1180.3L754.4 1179.1L755.3 1177.9L756.2 1176.7L757.2 1175.4L758.1 1174.2L759.1 1173.0L760.0 1171.8L761.0 1170.5L762.0 1169.3L762.9 1168.1L763.9 1166.8L764.9 1165.6L765.8 1164.4L766.8 1163.1L767.8 1161.9L768.8 1160.6L769.8 1159.4L770.8 1158.2L771.7 1156.9L772.7 1155.7L773.8 1154.4L774.8 1153.2L775.8 1151.9L776.8 1150.7L777.8 1149.4L778.8 1148.2L779.9 1146.9L780.9 1145.7L781.9 1144.4L783.0 1143.1L784.0 1141.9L785.1 1140.6L786.2 1139.3L787.2 1138.1L788.3 1136.8L789.4 1135.5L790.5 1134.3L791.6 1133.0L792.7 1131.8L793.8 1130.6L794.9 1129.4L796.0 1128.2L797.1 1127.0L798.3 1125.9L799.4 1124.8L800.5 1123.7L801.7 1122.6L802.9 1121.6L804.1 1120.6L805.2 1119.6L806.4 1118.7L807.6 1117.8L808.8 1116.9L810.1 1116.1L811.3 1115.4L812.5 1114.7L813.8 1114.0L815.1 1113.4L816.3 1112.8L817.6 1112.3L818.9 1111.9L820.2 1111.5L821.5 1111.2L822.8 1111.0L824.2 1110.8L825.5 1110.7L826.9 1110.6L828.3 1110.7L829.6 1110.8L831.0 1111.0L832.4 1111.2L833.9 1111.6L835.3 1112.1L836.7 1112.6L838.2 1113.2L839.6 1114.0L841.1 1114.8L842.5 1115.8L844.0 1116.8M924.7 1332.6L925.1 1333.0L925.6 1333.4L926.0 1333.8L926.4 1334.1L926.9 1334.5L927.4 1334.8L927.8 1335.1L928.3 1335.5L928.7 1335.8L929.2 1336.1L929.7 1336.4L930.1 1336.7L930.6 1337.0L931.1 1337.3L931.5 1337.6L932.0 1337.9L932.5 1338.1L933.0 1338.4L933.5 1338.7L933.9 1338.9L934.4 1339.1L934.9 1339.4L935.4 1339.6L935.9 1339.8L936.4 1340.1L936.9 1340.3L937.4 1340.5L937.9 1340.7L938.4 1340.9L938.9 1341.1L939.4 1341.3L939.9 1341.4L940.4 1341.6L940.9 1341.8L941.4 1341.9L942.0 1342.1L942.5 1342.2L943.0 1342.4L943.5 1342.5L944.0 1342.6L944.5 1342.8L945.1 1342.9L945.6 1343.0L946.1 1343.1L946.6 1343.2L947.2 1343.3L947.7 1343.4L948.2 1343.5L948.7 1343.6L949.3 1343.6L949.8 1343.7L950.3 1343.8L950.9 1343.8L951.4 1343.9L951.9 1343.9L952.5 1344.0L953.0 1344.0L953.5 1344.1L954.1 1344.1L954.6 1344.1L955.2 1344.1L955.7 1344.2L956.2 1344.2L956.8 1344.2L957.3 1344.2L957.9 1344.2L958.4 1344.1L958.9 1344.1L959.5 1344.1L960.0 1344.1L960.6 1344.1L961.1 1344.0L961.7 1344.0L962.2 1344.0L962.7 1343.9L963.3 1343.9L963.8 1343.8L964.4 1343.7L964.9 1343.7L965.5 1343.6L966.0 1343.5L966.5 1343.5L967.1 1343.4L967.6 1343.3L968.2 1343.2L968.7 1343.1L969.2 1343.0L969.8 1342.9L970.3 1342.8L970.9 1342.7L971.4 1342.6L971.9 1342.5L972.5 1342.3L973.0 1342.2L973.6 1342.1L974.1 1341.9L974.6 1341.8L975.2 1341.7L975.7 1341.5L976.2 1341.4L976.8 1341.2L977.3 1341.1L977.8 1340.9L978.4 1340.7L978.9 1340.6L979.4 1340.4L979.9 1340.2L980.5 1340.0L981.0 1339.9L981.5 1339.7L982.0 1339.5L982.6 1339.3L983.1 1339.1L983.6 1338.9L984.1 1338.7L984.6 1338.5L985.1 1338.3L985.7 1338.1L986.2 1337.9L986.7 1337.7L987.2 1337.5L987.7 1337.2L988.2 1337.0L988.7 1336.8L989.2 1336.6L989.7 1336.3L990.2 1336.1L990.7 1335.8L991.2 1335.6L991.7 1335.4L992.2 1335.1L992.7 1334.9L993.2 1334.6L993.6 1334.4L994.1 1334.1L994.6 1333.8L995.1 1333.6L995.6 1333.3L996.0 1333.1L996.5 1332.8L997.0 1332.5L997.4 1332.2L997.9 1332.0L998.4 1331.7L998.8 1331.4L999.3 1331.1L999.7 1330.8L1000.2 1330.6L1000.6 1330.3L1001.1 1330.0L1001.5 1329.7L1002.0 1329.4L1002.4 1329.1L1002.9 1328.8L1003.3 1328.5L1003.7 1328.2L1004.1 1327.9L1004.6 1327.6L1005.0 1327.3" stroke="#0000b4" stroke-width="2" fill="none" stroke-linejoin="round"/>
<path d="M347.6 268.7h1.6v1.6h-1.6zM347.8 274.1h1.6v1.6h-1.6zM348.4 276.5h1.6v1.6h-1.6zM348.7 283.8h1.6v1.6h-1.6zM349.7 288.1h1.6v1.6h-1.6zM349.4 290.6h1.6v1.6h-1.6zM349.3 296.6h1.6v1.6h-1.6zM349.0 301.3h1.6v1.6h-1.6zM349.5 302.3h1.6v1.6h-1.6zM350.8 309.4h1.6v1.6h-1.6zM350.6 312.4h1.6v1.6h-1.6zM350.8 319.1h1.6v1.6h-1.6zM350.7 325.7h1.6v1.6h-1.6zM351.9 325.6h1.6v1.6h-1.6zM352.4 333.1h1.6v1.6h-1.6zM350.8 339.9h1.6v1.6h-1.6zM352.6 337.1h1.6v1.6h-1.6zM352.2 339.0h1.6v1.6h-1.6zM352.1 339.3h1.6v1.6h-1.6zM352.5 340.1h1.6v1.6h-1.6zM352.6 343.1h1.6v1.6h-1.6zM352.7 339.6h1.6v1.6h-1.6zM350.5 344.4h1.6v1.6h-1.6zM353.0 344.7h1.6v1.6h-1.6zM352.2 343.6h1.6v1.6h-1.6zM353.5 341.9h1.6v1.6h-1.6zM353.3 347.6h1.6v1.6h-1.6zM353.5 343.6h1.6v1.6h-1.6zM350.9 349.8h1.6v1.6h-1.6zM351.5 348.8h1.6v1.6h-1.6zM351.2 345.7h1.6v1.6h-1.6zM352.9 347.7h1.6v1.6h-1.6zM351.2 348.6h1.6v1.6h-1.6zM350.8 346.5h1.6v1.6h-1.6zM352.8 347.6h1.6v1.6h-1.6zM352.5 346.5h1.6v1.6h-1.6zM352.4 350.0h1.6v1.6h-1.6zM354.2 349.5h1.6v1.6h-1.6zM352.9 354.3h1.6v1.6h-1.6zM351.4 354.7h1.6v1.6h-1.6zM351.8 350.9h1.6v1.6h-1.6zM355.0 354.6h1.6v1.6h-1.6zM353.3 354.8h1.6v1.6h-1.6zM353.5 350.4h1.6v1.6h-1.6zM352.0 351.9h1.6v1.6h-1.6zM353.7 354.4h1.6v1.6h-1.6zM352.2 352.7h1.6v1.6h-1.6zM355.5 353.3h1.6v1.6h-1.6zM352.5 352.9h1.6v1.6h-1.6zM354.9 358.8h1.6v1.6h-1.6zM352.0 356.0h1.6v1.6h-1.6zM353.7 359.2h1.6v1.6h-1.6zM354.7 355.9h1.6v1.6h-1.6zM354.9 356.8h1.6v1.6h-1.6zM353.2 358.2h1.6v1.6h-1.6zM353.5 359.0h1.6v1.6h-1.6zM355.6 360.8h1.6v1.6h-1.6zM354.6 358.5h1.6v1.6h-1.6zM353.3 361.1h1.6v1.6h-1.6zM355.5 364.6h1.6v1.6h-1.6zM354.3 361.1h1.6v1.6h-1.6zM352.3 364.2h1.6v1.6h-1.6zM353.4 360.3h1.6v1.6h-1.6zM354.2 361.4h1.6v1.6h-1.6zM352.7 364.0h1.6v1.6h-1.6zM355.1 362.3h1.6v1.6h-1.6zM353.5 364.3h1.6v1.6h-1.6zM355.8 365.4h1.6v1.6h-1.6zM354.5 368.1h1.6v1.6h-1.6zM356.0 367.4h1.6v1.6h-1.6zM355.6 363.8h1.6v1.6h-1.6zM356.2 368.7h1.6v1.6h-1.6zM355.9 366.8h1.6v1.6h-1.6zM354.4 370.4h1.6v1.6h-1.6zM356.2 368.9h1.6v1.6h-1.6zM354.7 366.1h1.6v1.6h-1.6zM356.2 368.1h1.6v1.6h-1.6zM358.2 365.9h1.6v1.6h-1.6zM356.6 368.8h1.6v1.6h-1.6zM357.6 371.4h1.6v1.6h-1.6zM359.1 367.7h1.6v1.6h-1.6zM358.8 370.7h1.6v1.6h-1.6zM360.5 369.3h1.6v1.6h-1.6zM359.0 370.1h1.6v1.6h-1.6zM361.5 368.5h1.6v1.6h-1.6zM362.6 371.6h1.6v1.6h-1.6zM362.8 371.9h1.6v1.6h-1.6zM360.0 370.9h1.6v1.6h-1.6zM362.1 374.0h1.6v1.6h-1.6zM362.4 373.0h1.6v1.6h-1.6zM362.0 371.9h1.6v1.6h-1.6zM361.9 372.0h1.6v1.6h-1.6zM362.5 370.8h1.6v1.6h-1.6zM365.6 374.1h1.6v1.6h-1.6zM363.8 370.4h1.6v1.6h-1.6zM364.8 373.3h1.6v1.6h-1.6zM365.3 374.0h1.6v1.6h-1.6zM364.2 375.5h1.6v1.6h-1.6zM366.0 377.3h1.6v1.6h-1.6zM364.9 375.1h1.6v1.6h-1.6zM365.9 372.1h1.6v1.6h-1.6zM367.9 372.3h1.6v1.6h-1.6zM364.4 374.9h1.6v1.6h-1.6zM364.5 373.9h1.6v1.6h-1.6zM366.8 378.3h1.6v1.6h-1.6zM367.8 378.4h1.6v1.6h-1.6zM366.3 378.0h1.6v1.6h-1.6zM366.4 378.2h1.6v1.6h-1.6zM369.1 380.7h1.6v1.6h-1.6zM367.0 381.0h1.6v1.6h-1.6zM369.3 379.1h1.6v1.6h-1.6zM368.6 380.2h1.6v1.6h-1.6zM367.6 378.5h1.6v1.6h-1.6zM368.1 382.7h1.6v1.6h-1.6zM369.9 379.2h1.6v1.6h-1.6zM367.0 379.8h1.6v1.6h-1.6zM370.0 386.1h1.6v1.6h-1.6zM366.6 380.0h1.6v1.6h-1.6zM370.3 382.4h1.6v1.6h-1.6zM368.2 381.2h1.6v1.6h-1.6zM369.7 385.4h1.6v1.6h-1.6zM369.7 382.9h1.6v1.6h-1.6zM368.6 382.9h1.6v1.6h-1.6zM369.3 383.7h1.6v1.6h-1.6zM367.6 385.9h1.6v1.6h-1.6zM370.4 384.7h1.6v1.6h-1.6zM370.7 386.4h1.6v1.6h-1.6zM370.5 390.7h1.6v1.6h-1.6zM370.9 388.6h1.6v1.6h-1.6zM369.0 386.4h1.6v1.6h-1.6zM371.6 388.2h1.6v1.6h-1.6zM370.4 387.0h1.6v1.6h-1.6zM371.3 389.1h1.6v1.6h-1.6zM369.6 390.1h1.6v1.6h-1.6zM369.1 388.3h1.6v1.6h-1.6zM370.8 391.6h1.6v1.6h-1.6zM369.0 393.8h1.6v1.6h-1.6zM370.4 392.3h1.6v1.6h-1.6zM369.5 394.5h1.6v1.6h-1.6zM371.0 394.8h1.6v1.6h-1.6zM371.8 392.6h1.6v1.6h-1.6zM371.0 393.2h1.6v1.6h-1.6zM372.3 398.1h1.6v1.6h-1.6zM372.6 399.2h1.6v1.6h-1.6zM371.7 398.1h1.6v1.6h-1.6zM369.7 393.8h1.6v1.6h-1.6zM373.5 397.1h1.6v1.6h-1.6zM370.7 399.3h1.6v1.6h-1.6zM370.5 396.9h1.6v1.6h-1.6zM372.2 400.2h1.6v1.6h-1.6zM373.5 399.8h1.6v1.6h-1.6zM373.6 402.2h1.6v1.6h-1.6zM374.4 401.2h1.6v1.6h-1.6zM372.7 403.0h1.6v1.6h-1.6zM372.3 402.3h1.6v1.6h-1.6zM374.2 404.4h1.6v1.6h-1.6zM374.5 405.6h1.6v1.6h-1.6zM372.1 401.2h1.6v1.6h-1.6zM374.4 405.7h1.6v1.6h-1.6zM371.5 402.8h1.6v1.6h-1.6zM374.8 401.6h1.6v1.6h-1.6zM374.7 406.8h1.6v1.6h-1.6zM375.5 406.7h1.6v1.6h-1.6zM375.6 405.6h1.6v1.6h-1.6zM374.1 408.1h1.6v1.6h-1.6zM372.1 403.9h1.6v1.6h-1.6zM372.5 406.6h1.6v1.6h-1.6zM375.9 405.4h1.6v1.6h-1.6zM376.0 407.2h1.6v1.6h-1.6zM373.5 409.8h1.6v1.6h-1.6zM376.9 408.1h1.6v1.6h-1.6zM374.6 406.9h1.6v1.6h-1.6zM374.3 408.3h1.6v1.6h-1.6zM377.3 407.9h1.6v1.6h-1.6zM377.7 411.7h1.6v1.6h-1.6zM374.6 409.5h1.6v1.6h-1.6zM374.8 409.9h1.6v1.6h-1.6zM377.7 414.9h1.6v1.6h-1.6zM375.9 410.0h1.6v1.6h-1.6zM378.1 412.9h1.6v1.6h-1.6zM377.1 412.1h1.6v1.6h-1.6zM378.8 415.8h1.6v1.6h-1.6zM378.1 415.8h1.6v1.6h-1.6zM380.1 414.7h1.6v1.6h-1.6zM377.1 414.9h1.6v1.6h-1.6zM378.6 415.7h1.6v1.6h-1.6zM378.4 415.2h1.6v1.6h-1.6zM379.3 416.6h1.6v1.6h-1.6zM377.5 416.3h1.6v1.6h-1.6zM379.8 416.0h1.6v1.6h-1.6zM380.6 418.0h1.6v1.6h-1.6zM378.2 417.8h1.6v1.6h-1.6zM381.8 418.8h1.6v1.6h-1.6zM381.7 417.1h1.6v1.6h-1.6zM382.1 421.0h1.6v1.6h-1.6zM381.4 418.5h1.6v1.6h-1.6zM381.4 416.4h1.6v1.6h-1.6zM382.0 417.9h1.6v1.6h-1.6zM382.2 421.2h1.6v1.6h-1.6zM383.4 421.0h1.6v1.6h-1.6zM384.7 423.7h1.6v1.6h-1.6zM384.1 418.0h1.6v1.6h-1.6zM384.0 418.6h1.6v1.6h-1.6zM384.5 421.8h1.6v1.6h-1.6zM383.4 422.7h1.6v1.6h-1.6zM384.5 422.2h1.6v1.6h-1.6zM387.3 420.8h1.6v1.6h-1.6zM386.3 424.6h1.6v1.6h-1.6zM385.4 425.0h1.6v1.6h-1.6zM386.5 427.0h1.6v1.6h-1.6zM388.4 425.7h1.6v1.6h-1.6zM386.9 423.5h1.6v1.6h-1.6zM388.1 422.2h1.6v1.6h-1.6zM388.8 422.0h1.6v1.6h-1.6zM386.9 427.2h1.6v1.6h-1.6zM389.2 425.2h1.6v1.6h-1.6zM387.4 430.0h1.6v1.6h-1.6zM387.6 424.0h1.6v1.6h-1.6zM391.4 426.2h1.6v1.6h-1.6zM391.2 425.1h1.6v1.6h-1.6zM391.6 428.5h1.6v1.6h-1.6zM392.3 425.1h1.6v1.6h-1.6zM392.5 429.2h1.6v1.6h-1.6zM392.5 429.3h1.6v1.6h-1.6zM392.8 427.8h1.6v1.6h-1.6zM393.8 430.9h1.6v1.6h-1.6zM391.0 428.5h1.6v1.6h-1.6zM393.1 428.6h1.6v1.6h-1.6zM393.8 430.7h1.6v1.6h-1.6zM395.1 428.1h1.6v1.6h-1.6zM395.3 433.8h1.6v1.6h-1.6zM392.8 433.5h1.6v1.6h-1.6zM395.9 432.9h1.6v1.6h-1.6zM394.2 436.5h1.6v1.6h-1.6zM395.5 431.0h1.6v1.6h-1.6zM393.9 435.2h1.6v1.6h-1.6zM394.4 434.8h1.6v1.6h-1.6zM393.9 434.6h1.6v1.6h-1.6zM396.8 437.5h1.6v1.6h-1.6zM395.7 437.1h1.6v1.6h-1.6zM396.5 436.8h1.6v1.6h-1.6zM395.7 435.5h1.6v1.6h-1.6zM398.6 435.7h1.6v1.6h-1.6zM396.7 432.1h1.6v1.6h-1.6zM396.3 430.4h1.6v1.6h-1.6zM395.6 434.4h1.6v1.6h-1.6zM397.0 434.6h1.6v1.6h-1.6zM399.3 430.0h1.6v1.6h-1.6zM399.9 430.6h1.6v1.6h-1.6zM397.6 428.3h1.6v1.6h-1.6zM399.5 432.6h1.6v1.6h-1.6zM400.4 426.0h1.6v1.6h-1.6zM397.9 429.8h1.6v1.6h-1.6zM400.7 428.7h1.6v1.6h-1.6zM399.1 428.8h1.6v1.6h-1.6zM398.1 429.6h1.6v1.6h-1.6zM401.1 423.9h1.6v1.6h-1.6zM400.9 426.8h1.6v1.6h-1.6zM401.0 426.6h1.6v1.6h-1.6zM399.4 426.7h1.6v1.6h-1.6zM400.2 423.0h1.6v1.6h-1.6zM401.7 425.9h1.6v1.6h-1.6zM402.4 422.8h1.6v1.6h-1.6zM403.1 427.0h1.6v1.6h-1.6zM400.5 424.6h1.6v1.6h-1.6zM402.7 421.7h1.6v1.6h-1.6zM400.3 425.4h1.6v1.6h-1.6zM401.5 422.7h1.6v1.6h-1.6zM404.0 421.0h1.6v1.6h-1.6zM401.2 421.8h1.6v1.6h-1.6zM401.2 420.7h1.6v1.6h-1.6zM402.5 420.8h1.6v1.6h-1.6zM402.7 421.0h1.6v1.6h-1.6zM402.9 418.2h1.6v1.6h-1.6zM360.3 379.7h1.6v1.6h-1.6zM360.8 381.4h1.6v1.6h-1.6zM361.0 380.4h1.6v1.6h-1.6zM360.6 383.3h1.6v1.6h-1.6zM361.0 382.2h1.6v1.6h-1.6zM360.4 384.7h1.6v1.6h-1.6zM360.8 386.0h1.6v1.6h-1.6zM360.8 388.1h1.6v1.6h-1.6zM360.5 386.8h1.6v1.6h-1.6zM360.5 388.6h1.6v1.6h-1.6zM361.0 389.6h1.6v1.6h-1.6zM360.2 390.2h1.6v1.6h-1.6zM361.3 390.6h1.6v1.6h-1.6zM360.4 393.7h1.6v1.6h-1.6zM360.9 394.3h1.6v1.6h-1.6zM360.2 395.6h1.6v1.6h-1.6zM387.9 397.3h1.6v1.6h-1.6zM388.2 399.4h1.6v1.6h-1.6zM387.4 399.2h1.6v1.6h-1.6zM387.7 401.6h1.6v1.6h-1.6zM387.5 401.6h1.6v1.6h-1.6zM388.2 403.3h1.6v1.6h-1.6zM388.3 403.2h1.6v1.6h-1.6zM387.6 404.0h1.6v1.6h-1.6zM387.7 405.0h1.6v1.6h-1.6zM388.0 407.2h1.6v1.6h-1.6zM387.5 408.2h1.6v1.6h-1.6zM387.3 408.5h1.6v1.6h-1.6zM387.5 409.3h1.6v1.6h-1.6zM388.3 410.6h1.6v1.6h-1.6zM387.5 411.3h1.6v1.6h-1.6zM388.1 413.1h1.6v1.6h-1.6zM387.8 414.3h1.6v1.6h-1.6zM388.2 414.8h1.6v1.6h-1.6zM387.5 415.6h1.6v1.6h-1.6zM387.9 416.3h1.6v1.6h-1.6zM388.0 417.5h1.6v1.6h-1.6zM388.0 417.7h1.6v1.6h-1.6zM403.5 415.0h1.6v1.6h-1.6zM403.8 409.9h1.6v1.6h-1.6zM404.5 407.0h1.6v1.6h-1.6zM404.3 404.7h1.6v1.6h-1.6zM404.4 397.8h1.6v1.6h-1.6zM403.6 391.3h1.6v1.6h-1.6zM404.1 390.2h1.6v1.6h-1.6zM405.0 384.6h1.6v1.6h-1.6zM404.8 379.3h1.6v1.6h-1.6zM405.6 374.1h1.6v1.6h-1.6zM405.4 371.2h1.6v1.6h-1.6zM404.7 363.4h1.6v1.6h-1.6zM405.0 361.6h1.6v1.6h-1.6zM406.0 356.6h1.6v1.6h-1.6zM406.0 352.5h1.6v1.6h-1.6zM406.1 348.4h1.6v1.6h-1.6zM406.7 341.8h1.6v1.6h-1.6zM406.5 338.0h1.6v1.6h-1.6zM407.5 331.3h1.6v1.6h-1.6zM407.1 328.6h1.6v1.6h-1.6zM406.7 325.0h1.6v1.6h-1.6zM407.2 321.7h1.6v1.6h-1.6zM407.8 316.3h1.6v1.6h-1.6zM407.6 311.2h1.6v1.6h-1.6zM408.9 307.5h1.6v1.6h-1.6zM408.3 300.4h1.6v1.6h-1.6zM408.5 298.8h1.6v1.6h-1.6zM409.3 293.3h1.6v1.6h-1.6zM408.8 290.2h1.6v1.6h-1.6zM408.8 282.5h1.6v1.6h-1.6zM409.7 279.7h1.6v1.6h-1.6zM409.5 274.0h1.6v1.6h-1.6zM409.8 271.5h1.6v1.6h-1.6zM410.1 266.6h1.6v1.6h-1.6zM338.0 271.6h1.6v1.6h-1.6zM770.2 264.0h1.6v1.6h-1.6zM769.4 267.5h1.6v1.6h-1.6zM770.0 273.2h1.6v1.6h-1.6zM770.5 276.2h1.6v1.6h-1.6zM771.0 282.1h1.6v1.6h-1.6zM771.4 285.1h1.6v1.6h-1.6zM770.8 289.8h1.6v1.6h-1.6zM771.0 293.5h1.6v1.6h-1.6zM772.4 294.9h1.6v1.6h-1.6zM771.0 300.0h1.6v1.6h-1.6zM773.1 302.5h1.6v1.6h-1.6zM772.5 301.5h1.6v1.6h-1.6zM772.9 304.1h1.6v1.6h-1.6zM771.6 305.1h1.6v1.6h-1.6zM773.0 305.8h1.6v1.6h-1.6zM771.5 308.7h1.6v1.6h-1.6zM771.8 306.8h1.6v1.6h-1.6zM771.7 308.9h1.6v1.6h-1.6zM771.4 310.2h1.6v1.6h-1.6zM773.6 314.3h1.6v1.6h-1.6zM771.4 315.1h1.6v1.6h-1.6zM771.6 314.7h1.6v1.6h-1.6zM771.9 316.5h1.6v1.6h-1.6zM773.6 317.7h1.6v1.6h-1.6zM773.4 317.4h1.6v1.6h-1.6zM773.6 320.8h1.6v1.6h-1.6zM772.7 323.6h1.6v1.6h-1.6zM772.4 321.7h1.6v1.6h-1.6zM773.5 323.6h1.6v1.6h-1.6zM773.9 324.1h1.6v1.6h-1.6zM774.1 326.6h1.6v1.6h-1.6zM773.5 326.4h1.6v1.6h-1.6zM772.9 329.0h1.6v1.6h-1.6zM773.1 329.1h1.6v1.6h-1.6zM772.8 331.9h1.6v1.6h-1.6zM774.4 331.7h1.6v1.6h-1.6zM773.3 334.8h1.6v1.6h-1.6zM775.2 333.2h1.6v1.6h-1.6zM774.6 334.3h1.6v1.6h-1.6zM774.3 338.6h1.6v1.6h-1.6zM774.4 339.2h1.6v1.6h-1.6zM773.9 337.6h1.6v1.6h-1.6zM774.7 341.7h1.6v1.6h-1.6zM774.7 341.9h1.6v1.6h-1.6zM774.9 341.3h1.6v1.6h-1.6zM775.1 343.8h1.6v1.6h-1.6zM774.5 344.6h1.6v1.6h-1.6zM774.4 347.9h1.6v1.6h-1.6zM774.5 350.4h1.6v1.6h-1.6zM775.7 351.9h1.6v1.6h-1.6zM776.7 352.4h1.6v1.6h-1.6zM775.2 354.4h1.6v1.6h-1.6zM775.9 355.8h1.6v1.6h-1.6zM776.6 353.1h1.6v1.6h-1.6zM776.6 357.6h1.6v1.6h-1.6zM775.1 359.6h1.6v1.6h-1.6zM775.6 358.7h1.6v1.6h-1.6zM777.5 359.8h1.6v1.6h-1.6zM777.0 360.5h1.6v1.6h-1.6zM775.5 362.2h1.6v1.6h-1.6zM778.5 362.4h1.6v1.6h-1.6zM775.7 372.6h1.6v1.6h-1.6zM776.9 378.0h1.6v1.6h-1.6zM775.3 382.8h1.6v1.6h-1.6zM778.6 389.3h1.6v1.6h-1.6zM779.1 394.5h1.6v1.6h-1.6zM779.6 404.1h1.6v1.6h-1.6zM779.6 406.0h1.6v1.6h-1.6zM779.0 408.7h1.6v1.6h-1.6zM778.7 414.6h1.6v1.6h-1.6zM778.3 423.4h1.6v1.6h-1.6zM778.1 430.2h1.6v1.6h-1.6zM780.0 431.5h1.6v1.6h-1.6zM779.0 439.8h1.6v1.6h-1.6zM779.5 444.9h1.6v1.6h-1.6zM781.1 454.3h1.6v1.6h-1.6zM778.6 454.1h1.6v1.6h-1.6zM779.2 464.5h1.6v1.6h-1.6zM781.1 465.7h1.6v1.6h-1.6zM789.1 272.5h1.6v1.6h-1.6zM788.5 277.2h1.6v1.6h-1.6zM788.8 281.3h1.6v1.6h-1.6zM788.3 286.4h1.6v1.6h-1.6zM789.5 289.9h1.6v1.6h-1.6zM789.0 290.8h1.6v1.6h-1.6zM788.1 295.6h1.6v1.6h-1.6zM788.0 300.7h1.6v1.6h-1.6zM787.4 303.8h1.6v1.6h-1.6zM788.6 307.6h1.6v1.6h-1.6zM787.5 308.8h1.6v1.6h-1.6zM787.5 309.5h1.6v1.6h-1.6zM789.0 311.4h1.6v1.6h-1.6zM788.0 314.5h1.6v1.6h-1.6zM788.5 314.3h1.6v1.6h-1.6zM787.3 316.0h1.6v1.6h-1.6zM788.0 317.1h1.6v1.6h-1.6zM787.2 319.4h1.6v1.6h-1.6zM788.2 319.7h1.6v1.6h-1.6zM787.2 319.8h1.6v1.6h-1.6zM786.9 322.6h1.6v1.6h-1.6zM787.5 324.5h1.6v1.6h-1.6zM786.4 325.3h1.6v1.6h-1.6zM786.6 327.3h1.6v1.6h-1.6zM786.7 326.5h1.6v1.6h-1.6zM785.8 327.7h1.6v1.6h-1.6zM787.5 329.7h1.6v1.6h-1.6zM785.6 332.1h1.6v1.6h-1.6zM786.6 331.1h1.6v1.6h-1.6zM786.7 334.0h1.6v1.6h-1.6zM785.8 336.4h1.6v1.6h-1.6zM786.6 334.6h1.6v1.6h-1.6zM786.0 338.5h1.6v1.6h-1.6zM786.2 337.7h1.6v1.6h-1.6zM785.8 340.5h1.6v1.6h-1.6zM785.1 342.1h1.6v1.6h-1.6zM785.7 340.5h1.6v1.6h-1.6zM786.2 341.5h1.6v1.6h-1.6zM785.5 346.4h1.6v1.6h-1.6zM785.1 344.7h1.6v1.6h-1.6zM785.0 345.7h1.6v1.6h-1.6zM784.7 346.5h1.6v1.6h-1.6zM785.8 348.0h1.6v1.6h-1.6zM784.4 349.3h1.6v1.6h-1.6zM784.8 351.9h1.6v1.6h-1.6zM785.1 352.6h1.6v1.6h-1.6zM783.9 352.9h1.6v1.6h-1.6zM784.4 354.4h1.6v1.6h-1.6zM784.4 357.1h1.6v1.6h-1.6zM785.1 359.2h1.6v1.6h-1.6zM785.0 358.5h1.6v1.6h-1.6zM783.9 358.1h1.6v1.6h-1.6zM785.3 363.1h1.6v1.6h-1.6zM785.1 364.6h1.6v1.6h-1.6zM784.6 363.6h1.6v1.6h-1.6zM782.8 367.7h1.6v1.6h-1.6zM785.4 374.6h1.6v1.6h-1.6zM782.5 380.4h1.6v1.6h-1.6zM783.0 384.0h1.6v1.6h-1.6zM781.0 388.0h1.6v1.6h-1.6zM782.6 393.0h1.6v1.6h-1.6zM781.5 399.7h1.6v1.6h-1.6zM782.2 408.8h1.6v1.6h-1.6zM779.9 416.4h1.6v1.6h-1.6zM780.7 418.1h1.6v1.6h-1.6zM783.6 422.0h1.6v1.6h-1.6zM782.8 430.6h1.6v1.6h-1.6zM781.9 437.1h1.6v1.6h-1.6z" fill="#000000"/>
<path d="M346.9 875.1h1.6v1.6h-1.6zM346.9 874.7h1.6v1.6h-1.6zM347.8 869.8h1.6v1.6h-1.6zM347.9 869.2h1.6v1.6h-1.6zM347.0 863.9h1.6v1.6h-1.6zM348.1 861.3h1.6v1.6h-1.6zM347.4 858.9h1.6v1.6h-1.6zM348.5 856.3h1.6v1.6h-1.6zM348.8 851.5h1.6v1.6h-1.6zM348.1 850.4h1.6v1.6h-1.6zM347.1 847.1h1.6v1.6h-1.6zM347.8 842.1h1.6v1.6h-1.6zM347.4 840.8h1.6v1.6h-1.6zM347.9 838.3h1.6v1.6h-1.6zM347.6 833.5h1.6v1.6h-1.6zM347.6 832.1h1.6v1.6h-1.6zM347.7 828.5h1.6v1.6h-1.6zM348.7 825.3h1.6v1.6h-1.6zM348.6 824.8h1.6v1.6h-1.6zM348.1 820.9h1.6v1.6h-1.6zM348.2 816.8h1.6v1.6h-1.6zM349.1 814.5h1.6v1.6h-1.6zM350.2 811.4h1.6v1.6h-1.6zM348.8 808.8h1.6v1.6h-1.6zM349.5 804.4h1.6v1.6h-1.6zM349.9 803.3h1.6v1.6h-1.6zM349.5 798.4h1.6v1.6h-1.6zM350.9 794.2h1.6v1.6h-1.6zM350.1 791.1h1.6v1.6h-1.6zM350.5 790.7h1.6v1.6h-1.6zM351.4 785.7h1.6v1.6h-1.6zM350.4 782.7h1.6v1.6h-1.6zM350.8 780.3h1.6v1.6h-1.6zM351.8 780.5h1.6v1.6h-1.6zM351.2 781.9h1.6v1.6h-1.6zM352.6 781.0h1.6v1.6h-1.6zM351.8 779.0h1.6v1.6h-1.6zM350.9 777.4h1.6v1.6h-1.6zM353.3 778.4h1.6v1.6h-1.6zM353.2 779.5h1.6v1.6h-1.6zM353.4 775.4h1.6v1.6h-1.6zM352.6 776.0h1.6v1.6h-1.6zM352.2 777.4h1.6v1.6h-1.6zM352.4 776.1h1.6v1.6h-1.6zM353.3 772.2h1.6v1.6h-1.6zM352.1 773.6h1.6v1.6h-1.6zM353.1 773.7h1.6v1.6h-1.6zM351.7 773.0h1.6v1.6h-1.6zM353.0 772.9h1.6v1.6h-1.6zM351.5 770.1h1.6v1.6h-1.6zM352.3 769.9h1.6v1.6h-1.6zM352.3 768.9h1.6v1.6h-1.6zM353.3 770.2h1.6v1.6h-1.6zM352.3 767.3h1.6v1.6h-1.6zM353.1 765.6h1.6v1.6h-1.6zM353.4 764.1h1.6v1.6h-1.6zM353.4 764.9h1.6v1.6h-1.6zM354.3 763.7h1.6v1.6h-1.6zM353.2 763.6h1.6v1.6h-1.6zM354.4 761.4h1.6v1.6h-1.6zM353.1 763.6h1.6v1.6h-1.6zM353.5 761.3h1.6v1.6h-1.6zM353.7 759.7h1.6v1.6h-1.6zM353.8 762.2h1.6v1.6h-1.6zM352.5 761.1h1.6v1.6h-1.6zM354.8 757.5h1.6v1.6h-1.6zM354.3 758.6h1.6v1.6h-1.6zM355.1 758.0h1.6v1.6h-1.6zM354.9 759.2h1.6v1.6h-1.6zM355.3 755.6h1.6v1.6h-1.6zM355.9 752.8h1.6v1.6h-1.6zM355.2 754.6h1.6v1.6h-1.6zM354.3 755.6h1.6v1.6h-1.6zM354.1 751.1h1.6v1.6h-1.6zM354.2 753.7h1.6v1.6h-1.6zM356.5 753.6h1.6v1.6h-1.6zM356.0 750.6h1.6v1.6h-1.6zM355.5 752.7h1.6v1.6h-1.6zM357.6 749.8h1.6v1.6h-1.6zM357.1 750.5h1.6v1.6h-1.6zM355.5 748.7h1.6v1.6h-1.6zM357.8 749.7h1.6v1.6h-1.6zM356.1 748.1h1.6v1.6h-1.6zM355.7 748.8h1.6v1.6h-1.6zM358.1 744.9h1.6v1.6h-1.6zM356.9 744.6h1.6v1.6h-1.6zM359.1 745.6h1.6v1.6h-1.6zM358.3 741.9h1.6v1.6h-1.6zM358.3 742.0h1.6v1.6h-1.6zM357.7 744.7h1.6v1.6h-1.6zM359.1 741.3h1.6v1.6h-1.6zM357.8 742.5h1.6v1.6h-1.6zM357.9 741.1h1.6v1.6h-1.6zM357.8 738.7h1.6v1.6h-1.6zM357.6 740.7h1.6v1.6h-1.6zM359.4 735.4h1.6v1.6h-1.6zM359.3 738.0h1.6v1.6h-1.6zM358.6 734.8h1.6v1.6h-1.6zM360.7 738.0h1.6v1.6h-1.6zM359.9 735.7h1.6v1.6h-1.6zM359.8 734.2h1.6v1.6h-1.6zM359.5 733.5h1.6v1.6h-1.6zM359.4 731.9h1.6v1.6h-1.6zM359.5 734.3h1.6v1.6h-1.6zM359.8 732.2h1.6v1.6h-1.6zM359.7 731.9h1.6v1.6h-1.6zM361.7 732.3h1.6v1.6h-1.6zM359.6 727.4h1.6v1.6h-1.6zM361.5 726.6h1.6v1.6h-1.6zM361.9 728.5h1.6v1.6h-1.6zM361.6 729.3h1.6v1.6h-1.6zM361.1 727.9h1.6v1.6h-1.6zM360.2 725.7h1.6v1.6h-1.6zM361.1 728.3h1.6v1.6h-1.6zM361.4 726.9h1.6v1.6h-1.6zM360.6 725.4h1.6v1.6h-1.6zM361.8 726.2h1.6v1.6h-1.6zM361.5 730.0h1.6v1.6h-1.6zM362.0 730.7h1.6v1.6h-1.6zM362.6 732.0h1.6v1.6h-1.6zM361.9 730.3h1.6v1.6h-1.6zM360.3 733.1h1.6v1.6h-1.6zM362.8 734.8h1.6v1.6h-1.6zM360.3 730.2h1.6v1.6h-1.6zM361.3 735.0h1.6v1.6h-1.6zM362.1 735.7h1.6v1.6h-1.6zM362.9 733.5h1.6v1.6h-1.6zM361.3 734.9h1.6v1.6h-1.6zM360.8 737.8h1.6v1.6h-1.6zM360.5 735.6h1.6v1.6h-1.6zM362.1 737.9h1.6v1.6h-1.6zM361.5 740.8h1.6v1.6h-1.6zM363.2 739.9h1.6v1.6h-1.6zM362.7 742.8h1.6v1.6h-1.6zM360.7 738.6h1.6v1.6h-1.6zM360.9 743.0h1.6v1.6h-1.6zM363.6 740.3h1.6v1.6h-1.6zM362.3 741.1h1.6v1.6h-1.6zM362.4 741.0h1.6v1.6h-1.6zM362.7 743.3h1.6v1.6h-1.6zM363.7 745.5h1.6v1.6h-1.6zM361.6 746.3h1.6v1.6h-1.6zM363.2 745.1h1.6v1.6h-1.6zM362.3 750.0h1.6v1.6h-1.6zM361.3 750.3h1.6v1.6h-1.6zM364.2 749.2h1.6v1.6h-1.6zM362.3 748.6h1.6v1.6h-1.6zM363.9 751.9h1.6v1.6h-1.6zM363.7 748.2h1.6v1.6h-1.6zM363.5 750.2h1.6v1.6h-1.6zM364.4 746.6h1.6v1.6h-1.6zM363.8 748.9h1.6v1.6h-1.6zM363.5 745.4h1.6v1.6h-1.6zM363.9 745.3h1.6v1.6h-1.6zM364.1 745.2h1.6v1.6h-1.6zM366.1 746.8h1.6v1.6h-1.6zM364.3 746.8h1.6v1.6h-1.6zM365.9 745.3h1.6v1.6h-1.6zM365.2 743.4h1.6v1.6h-1.6zM366.3 740.3h1.6v1.6h-1.6zM367.4 742.0h1.6v1.6h-1.6zM367.0 742.7h1.6v1.6h-1.6zM367.7 740.2h1.6v1.6h-1.6zM366.1 738.6h1.6v1.6h-1.6zM368.4 741.6h1.6v1.6h-1.6zM368.5 739.5h1.6v1.6h-1.6zM367.4 738.3h1.6v1.6h-1.6zM368.2 736.1h1.6v1.6h-1.6zM368.7 738.4h1.6v1.6h-1.6zM367.3 733.4h1.6v1.6h-1.6zM369.4 733.3h1.6v1.6h-1.6zM368.9 734.2h1.6v1.6h-1.6zM369.0 733.4h1.6v1.6h-1.6zM370.0 733.1h1.6v1.6h-1.6zM368.7 734.6h1.6v1.6h-1.6zM370.2 733.8h1.6v1.6h-1.6zM368.0 728.9h1.6v1.6h-1.6zM367.8 729.3h1.6v1.6h-1.6zM370.0 729.3h1.6v1.6h-1.6zM370.0 730.5h1.6v1.6h-1.6zM368.1 729.4h1.6v1.6h-1.6zM368.4 727.9h1.6v1.6h-1.6zM369.7 725.2h1.6v1.6h-1.6zM369.1 727.8h1.6v1.6h-1.6zM370.1 727.5h1.6v1.6h-1.6zM370.7 726.1h1.6v1.6h-1.6zM371.6 722.4h1.6v1.6h-1.6zM371.8 722.3h1.6v1.6h-1.6zM369.1 722.9h1.6v1.6h-1.6zM372.1 720.5h1.6v1.6h-1.6zM370.7 722.1h1.6v1.6h-1.6zM370.7 719.7h1.6v1.6h-1.6zM370.1 719.8h1.6v1.6h-1.6zM369.7 721.4h1.6v1.6h-1.6zM370.6 719.6h1.6v1.6h-1.6zM370.1 718.5h1.6v1.6h-1.6zM371.0 715.6h1.6v1.6h-1.6zM371.8 716.8h1.6v1.6h-1.6zM371.6 715.3h1.6v1.6h-1.6zM370.5 713.6h1.6v1.6h-1.6zM372.3 712.7h1.6v1.6h-1.6zM373.7 715.2h1.6v1.6h-1.6zM373.2 714.7h1.6v1.6h-1.6zM371.5 714.4h1.6v1.6h-1.6zM373.3 712.9h1.6v1.6h-1.6zM372.9 708.9h1.6v1.6h-1.6zM373.4 711.1h1.6v1.6h-1.6zM373.8 707.1h1.6v1.6h-1.6zM374.0 711.1h1.6v1.6h-1.6zM374.5 707.5h1.6v1.6h-1.6zM374.1 708.1h1.6v1.6h-1.6zM375.6 705.4h1.6v1.6h-1.6zM373.5 704.5h1.6v1.6h-1.6zM375.1 706.8h1.6v1.6h-1.6zM376.1 703.3h1.6v1.6h-1.6zM374.3 704.9h1.6v1.6h-1.6zM376.6 701.1h1.6v1.6h-1.6zM376.3 704.0h1.6v1.6h-1.6zM377.2 701.3h1.6v1.6h-1.6zM375.2 703.7h1.6v1.6h-1.6zM375.5 699.6h1.6v1.6h-1.6zM377.3 699.9h1.6v1.6h-1.6zM377.1 697.8h1.6v1.6h-1.6zM378.0 696.4h1.6v1.6h-1.6zM377.1 697.8h1.6v1.6h-1.6zM378.3 696.9h1.6v1.6h-1.6zM375.6 698.0h1.6v1.6h-1.6zM376.7 694.6h1.6v1.6h-1.6zM376.8 696.0h1.6v1.6h-1.6zM376.3 693.5h1.6v1.6h-1.6zM378.8 694.1h1.6v1.6h-1.6zM376.6 692.7h1.6v1.6h-1.6zM377.4 694.1h1.6v1.6h-1.6zM378.8 690.7h1.6v1.6h-1.6zM379.4 692.2h1.6v1.6h-1.6zM378.1 688.8h1.6v1.6h-1.6zM377.5 689.8h1.6v1.6h-1.6zM378.7 690.9h1.6v1.6h-1.6zM380.1 689.0h1.6v1.6h-1.6zM378.3 689.8h1.6v1.6h-1.6zM379.8 687.3h1.6v1.6h-1.6zM378.7 684.5h1.6v1.6h-1.6zM378.6 682.9h1.6v1.6h-1.6zM379.8 687.1h1.6v1.6h-1.6zM378.6 685.2h1.6v1.6h-1.6zM378.8 680.2h1.6v1.6h-1.6zM378.5 680.9h1.6v1.6h-1.6zM378.6 684.1h1.6v1.6h-1.6zM378.6 682.7h1.6v1.6h-1.6zM379.6 679.3h1.6v1.6h-1.6zM381.4 681.7h1.6v1.6h-1.6zM380.8 676.0h1.6v1.6h-1.6zM381.1 675.7h1.6v1.6h-1.6zM380.3 675.4h1.6v1.6h-1.6zM380.7 675.4h1.6v1.6h-1.6zM380.1 676.8h1.6v1.6h-1.6zM379.6 675.1h1.6v1.6h-1.6zM382.1 674.8h1.6v1.6h-1.6zM381.5 673.4h1.6v1.6h-1.6zM382.1 674.1h1.6v1.6h-1.6zM379.9 675.9h1.6v1.6h-1.6zM382.1 675.0h1.6v1.6h-1.6zM381.3 678.3h1.6v1.6h-1.6zM380.3 679.4h1.6v1.6h-1.6zM381.8 678.1h1.6v1.6h-1.6zM381.8 678.8h1.6v1.6h-1.6zM380.5 678.2h1.6v1.6h-1.6zM380.8 681.8h1.6v1.6h-1.6zM382.9 680.6h1.6v1.6h-1.6zM383.5 684.3h1.6v1.6h-1.6zM383.3 683.2h1.6v1.6h-1.6zM381.6 682.9h1.6v1.6h-1.6zM382.6 683.9h1.6v1.6h-1.6zM383.0 682.6h1.6v1.6h-1.6zM383.5 684.7h1.6v1.6h-1.6zM382.5 685.0h1.6v1.6h-1.6zM382.7 686.2h1.6v1.6h-1.6zM383.6 689.1h1.6v1.6h-1.6zM384.8 690.5h1.6v1.6h-1.6zM382.2 687.9h1.6v1.6h-1.6zM385.0 687.8h1.6v1.6h-1.6zM384.4 690.1h1.6v1.6h-1.6zM383.2 690.7h1.6v1.6h-1.6zM382.7 693.5h1.6v1.6h-1.6zM384.3 692.6h1.6v1.6h-1.6zM384.1 690.0h1.6v1.6h-1.6zM384.4 688.9h1.6v1.6h-1.6zM385.2 687.9h1.6v1.6h-1.6zM386.2 689.4h1.6v1.6h-1.6zM385.0 688.4h1.6v1.6h-1.6zM385.3 685.8h1.6v1.6h-1.6zM385.1 687.9h1.6v1.6h-1.6zM384.7 683.5h1.6v1.6h-1.6zM384.8 685.3h1.6v1.6h-1.6zM384.7 683.3h1.6v1.6h-1.6zM384.3 680.8h1.6v1.6h-1.6zM385.2 682.6h1.6v1.6h-1.6zM385.5 681.2h1.6v1.6h-1.6zM385.0 678.3h1.6v1.6h-1.6zM386.2 677.8h1.6v1.6h-1.6zM385.8 676.8h1.6v1.6h-1.6zM386.6 678.4h1.6v1.6h-1.6zM384.9 678.7h1.6v1.6h-1.6zM386.9 678.4h1.6v1.6h-1.6zM385.2 674.8h1.6v1.6h-1.6zM386.2 678.3h1.6v1.6h-1.6zM385.7 673.1h1.6v1.6h-1.6zM387.3 676.8h1.6v1.6h-1.6zM385.6 675.3h1.6v1.6h-1.6zM386.4 671.0h1.6v1.6h-1.6zM385.4 670.7h1.6v1.6h-1.6zM388.1 670.8h1.6v1.6h-1.6zM386.5 672.2h1.6v1.6h-1.6zM387.5 670.6h1.6v1.6h-1.6zM387.3 670.6h1.6v1.6h-1.6zM386.6 671.2h1.6v1.6h-1.6zM386.7 669.4h1.6v1.6h-1.6zM387.0 666.7h1.6v1.6h-1.6zM388.5 667.6h1.6v1.6h-1.6zM386.4 664.9h1.6v1.6h-1.6zM387.3 663.1h1.6v1.6h-1.6zM387.2 662.5h1.6v1.6h-1.6zM387.5 665.8h1.6v1.6h-1.6zM387.8 663.9h1.6v1.6h-1.6zM389.6 662.2h1.6v1.6h-1.6zM387.9 663.1h1.6v1.6h-1.6zM388.8 663.6h1.6v1.6h-1.6zM389.8 660.5h1.6v1.6h-1.6zM389.6 657.8h1.6v1.6h-1.6zM388.4 657.7h1.6v1.6h-1.6zM389.2 658.3h1.6v1.6h-1.6zM388.3 656.4h1.6v1.6h-1.6zM390.5 656.6h1.6v1.6h-1.6zM389.7 654.4h1.6v1.6h-1.6zM389.1 655.1h1.6v1.6h-1.6zM390.0 655.5h1.6v1.6h-1.6zM391.0 656.0h1.6v1.6h-1.6zM388.7 651.4h1.6v1.6h-1.6zM388.7 652.9h1.6v1.6h-1.6zM390.7 650.4h1.6v1.6h-1.6zM389.1 650.7h1.6v1.6h-1.6zM389.9 652.3h1.6v1.6h-1.6zM389.9 652.4h1.6v1.6h-1.6zM391.1 648.0h1.6v1.6h-1.6zM390.7 646.0h1.6v1.6h-1.6zM392.0 647.7h1.6v1.6h-1.6zM390.5 646.6h1.6v1.6h-1.6zM390.8 648.5h1.6v1.6h-1.6zM389.8 643.8h1.6v1.6h-1.6zM390.2 643.6h1.6v1.6h-1.6zM392.0 644.5h1.6v1.6h-1.6zM390.0 642.6h1.6v1.6h-1.6zM392.2 642.1h1.6v1.6h-1.6zM392.6 641.1h1.6v1.6h-1.6zM390.3 641.9h1.6v1.6h-1.6zM391.4 639.6h1.6v1.6h-1.6zM392.6 638.5h1.6v1.6h-1.6zM391.3 639.5h1.6v1.6h-1.6zM391.2 639.0h1.6v1.6h-1.6zM392.1 637.1h1.6v1.6h-1.6zM393.0 638.8h1.6v1.6h-1.6zM390.7 635.5h1.6v1.6h-1.6zM392.1 635.4h1.6v1.6h-1.6zM391.2 633.6h1.6v1.6h-1.6zM393.0 632.1h1.6v1.6h-1.6zM391.0 632.9h1.6v1.6h-1.6zM392.5 635.1h1.6v1.6h-1.6zM391.4 630.6h1.6v1.6h-1.6zM391.0 630.8h1.6v1.6h-1.6zM393.3 629.7h1.6v1.6h-1.6zM391.8 628.9h1.6v1.6h-1.6zM392.1 629.3h1.6v1.6h-1.6zM392.1 629.6h1.6v1.6h-1.6zM392.8 626.9h1.6v1.6h-1.6zM391.7 629.3h1.6v1.6h-1.6zM392.0 624.9h1.6v1.6h-1.6zM392.8 625.6h1.6v1.6h-1.6zM391.3 624.6h1.6v1.6h-1.6zM391.4 624.7h1.6v1.6h-1.6zM393.0 621.2h1.6v1.6h-1.6zM393.4 621.5h1.6v1.6h-1.6zM392.6 620.0h1.6v1.6h-1.6zM393.6 622.8h1.6v1.6h-1.6zM392.5 618.8h1.6v1.6h-1.6zM392.8 622.0h1.6v1.6h-1.6zM394.2 620.8h1.6v1.6h-1.6zM393.9 616.1h1.6v1.6h-1.6zM394.4 615.9h1.6v1.6h-1.6zM394.4 618.2h1.6v1.6h-1.6zM392.0 614.8h1.6v1.6h-1.6zM394.3 617.9h1.6v1.6h-1.6zM393.0 613.6h1.6v1.6h-1.6zM391.8 616.0h1.6v1.6h-1.6zM393.8 613.3h1.6v1.6h-1.6zM391.8 611.7h1.6v1.6h-1.6zM391.9 611.0h1.6v1.6h-1.6zM393.7 612.1h1.6v1.6h-1.6zM392.4 610.0h1.6v1.6h-1.6zM392.2 607.6h1.6v1.6h-1.6zM392.1 607.8h1.6v1.6h-1.6zM393.0 606.7h1.6v1.6h-1.6zM394.2 609.3h1.6v1.6h-1.6zM392.2 608.5h1.6v1.6h-1.6zM393.4 608.5h1.6v1.6h-1.6zM394.0 604.8h1.6v1.6h-1.6zM393.5 603.1h1.6v1.6h-1.6zM393.9 603.6h1.6v1.6h-1.6zM394.8 602.3h1.6v1.6h-1.6zM395.1 605.5h1.6v1.6h-1.6zM392.8 604.6h1.6v1.6h-1.6zM393.6 600.1h1.6v1.6h-1.6zM394.4 598.9h1.6v1.6h-1.6zM394.1 598.8h1.6v1.6h-1.6zM393.2 599.3h1.6v1.6h-1.6zM395.1 597.1h1.6v1.6h-1.6zM395.3 597.0h1.6v1.6h-1.6zM395.8 598.0h1.6v1.6h-1.6zM395.0 596.3h1.6v1.6h-1.6zM394.8 593.4h1.6v1.6h-1.6zM393.0 596.1h1.6v1.6h-1.6zM394.3 595.1h1.6v1.6h-1.6zM394.8 595.7h1.6v1.6h-1.6zM394.1 594.0h1.6v1.6h-1.6zM395.4 593.9h1.6v1.6h-1.6zM393.4 590.8h1.6v1.6h-1.6zM394.2 591.1h1.6v1.6h-1.6zM394.8 591.3h1.6v1.6h-1.6zM395.8 588.7h1.6v1.6h-1.6zM393.9 586.4h1.6v1.6h-1.6zM394.4 585.6h1.6v1.6h-1.6zM394.9 585.6h1.6v1.6h-1.6zM394.1 584.7h1.6v1.6h-1.6zM395.1 584.7h1.6v1.6h-1.6zM394.3 585.0h1.6v1.6h-1.6zM395.5 582.7h1.6v1.6h-1.6zM394.6 585.9h1.6v1.6h-1.6zM395.0 580.7h1.6v1.6h-1.6zM396.5 584.0h1.6v1.6h-1.6zM395.5 583.9h1.6v1.6h-1.6zM395.4 582.6h1.6v1.6h-1.6zM395.6 579.5h1.6v1.6h-1.6zM395.7 580.4h1.6v1.6h-1.6zM395.2 581.1h1.6v1.6h-1.6zM395.6 578.6h1.6v1.6h-1.6zM394.5 579.1h1.6v1.6h-1.6zM394.8 578.5h1.6v1.6h-1.6zM396.7 578.3h1.6v1.6h-1.6zM397.2 577.1h1.6v1.6h-1.6zM396.3 572.7h1.6v1.6h-1.6zM396.0 572.9h1.6v1.6h-1.6zM397.6 572.1h1.6v1.6h-1.6zM396.8 574.3h1.6v1.6h-1.6zM396.8 572.8h1.6v1.6h-1.6zM396.7 572.0h1.6v1.6h-1.6zM397.9 571.9h1.6v1.6h-1.6zM397.6 568.0h1.6v1.6h-1.6zM398.3 569.4h1.6v1.6h-1.6zM396.6 565.9h1.6v1.6h-1.6zM398.0 566.8h1.6v1.6h-1.6zM398.2 564.3h1.6v1.6h-1.6zM396.6 567.1h1.6v1.6h-1.6zM398.6 566.8h1.6v1.6h-1.6zM397.7 563.4h1.6v1.6h-1.6zM397.0 562.4h1.6v1.6h-1.6zM397.0 565.6h1.6v1.6h-1.6zM397.4 563.3h1.6v1.6h-1.6zM396.5 559.8h1.6v1.6h-1.6zM397.7 562.2h1.6v1.6h-1.6zM396.6 560.4h1.6v1.6h-1.6zM396.6 560.8h1.6v1.6h-1.6zM399.2 560.2h1.6v1.6h-1.6zM399.1 556.2h1.6v1.6h-1.6zM399.2 555.1h1.6v1.6h-1.6zM398.9 554.6h1.6v1.6h-1.6zM398.2 558.4h1.6v1.6h-1.6zM399.4 556.0h1.6v1.6h-1.6zM397.5 556.7h1.6v1.6h-1.6zM399.1 556.0h1.6v1.6h-1.6zM398.9 555.3h1.6v1.6h-1.6zM397.2 553.8h1.6v1.6h-1.6zM398.3 552.0h1.6v1.6h-1.6zM397.3 551.3h1.6v1.6h-1.6zM400.3 549.4h1.6v1.6h-1.6zM400.3 550.2h1.6v1.6h-1.6zM399.2 548.8h1.6v1.6h-1.6zM399.9 549.0h1.6v1.6h-1.6zM399.0 546.3h1.6v1.6h-1.6zM398.3 547.2h1.6v1.6h-1.6zM398.4 546.1h1.6v1.6h-1.6zM400.0 546.2h1.6v1.6h-1.6zM398.9 545.5h1.6v1.6h-1.6zM400.7 544.5h1.6v1.6h-1.6zM400.7 544.3h1.6v1.6h-1.6zM401.1 544.4h1.6v1.6h-1.6zM399.0 541.7h1.6v1.6h-1.6zM400.6 542.9h1.6v1.6h-1.6zM400.2 541.5h1.6v1.6h-1.6zM401.5 539.3h1.6v1.6h-1.6zM399.7 537.3h1.6v1.6h-1.6zM401.3 535.5h1.6v1.6h-1.6zM400.9 538.4h1.6v1.6h-1.6zM401.2 537.4h1.6v1.6h-1.6zM400.5 538.7h1.6v1.6h-1.6zM399.2 536.5h1.6v1.6h-1.6zM402.2 536.9h1.6v1.6h-1.6zM400.3 535.1h1.6v1.6h-1.6zM399.5 534.6h1.6v1.6h-1.6zM400.8 530.1h1.6v1.6h-1.6zM399.7 533.0h1.6v1.6h-1.6zM400.4 531.9h1.6v1.6h-1.6zM401.7 528.8h1.6v1.6h-1.6zM401.4 527.8h1.6v1.6h-1.6zM401.8 527.3h1.6v1.6h-1.6zM400.2 527.5h1.6v1.6h-1.6zM400.7 525.5h1.6v1.6h-1.6zM400.8 529.0h1.6v1.6h-1.6zM400.9 528.0h1.6v1.6h-1.6zM400.4 524.3h1.6v1.6h-1.6zM401.0 524.5h1.6v1.6h-1.6zM403.2 525.6h1.6v1.6h-1.6zM400.7 522.3h1.6v1.6h-1.6zM401.8 522.3h1.6v1.6h-1.6zM401.2 520.0h1.6v1.6h-1.6zM403.1 520.9h1.6v1.6h-1.6zM402.2 521.9h1.6v1.6h-1.6zM403.1 518.5h1.6v1.6h-1.6zM403.7 516.4h1.6v1.6h-1.6zM403.9 519.2h1.6v1.6h-1.6zM403.7 516.3h1.6v1.6h-1.6zM402.9 515.1h1.6v1.6h-1.6zM404.3 515.5h1.6v1.6h-1.6zM403.4 515.3h1.6v1.6h-1.6zM402.8 515.2h1.6v1.6h-1.6zM402.7 509.9h1.6v1.6h-1.6zM403.4 505.6h1.6v1.6h-1.6zM404.6 503.6h1.6v1.6h-1.6zM404.9 501.1h1.6v1.6h-1.6zM403.7 499.0h1.6v1.6h-1.6zM405.2 493.6h1.6v1.6h-1.6zM404.8 489.5h1.6v1.6h-1.6zM404.6 486.7h1.6v1.6h-1.6zM406.2 485.3h1.6v1.6h-1.6zM405.6 479.2h1.6v1.6h-1.6zM406.6 477.3h1.6v1.6h-1.6zM406.3 475.2h1.6v1.6h-1.6zM405.6 471.3h1.6v1.6h-1.6zM406.3 468.1h1.6v1.6h-1.6zM407.0 464.3h1.6v1.6h-1.6zM406.6 460.7h1.6v1.6h-1.6zM407.4 459.1h1.6v1.6h-1.6zM407.6 455.9h1.6v1.6h-1.6zM406.7 452.8h1.6v1.6h-1.6zM407.8 448.8h1.6v1.6h-1.6zM406.7 445.3h1.6v1.6h-1.6zM407.1 439.4h1.6v1.6h-1.6zM408.4 439.1h1.6v1.6h-1.6zM407.9 433.0h1.6v1.6h-1.6zM407.9 429.7h1.6v1.6h-1.6zM408.4 425.7h1.6v1.6h-1.6zM408.1 424.9h1.6v1.6h-1.6zM408.3 421.1h1.6v1.6h-1.6zM408.4 415.6h1.6v1.6h-1.6zM408.8 416.2h1.6v1.6h-1.6zM408.6 410.6h1.6v1.6h-1.6zM409.1 407.2h1.6v1.6h-1.6zM408.9 404.1h1.6v1.6h-1.6zM409.8 399.7h1.6v1.6h-1.6zM408.7 397.7h1.6v1.6h-1.6zM409.7 392.3h1.6v1.6h-1.6zM409.6 390.2h1.6v1.6h-1.6zM409.8 387.1h1.6v1.6h-1.6zM410.3 382.4h1.6v1.6h-1.6zM409.7 379.3h1.6v1.6h-1.6zM410.2 378.0h1.6v1.6h-1.6zM410.7 373.4h1.6v1.6h-1.6zM409.9 371.2h1.6v1.6h-1.6zM410.8 369.2h1.6v1.6h-1.6zM411.1 363.3h1.6v1.6h-1.6zM411.3 359.3h1.6v1.6h-1.6zM410.3 357.9h1.6v1.6h-1.6zM411.4 355.7h1.6v1.6h-1.6zM411.2 350.6h1.6v1.6h-1.6zM410.8 347.7h1.6v1.6h-1.6zM411.6 344.7h1.6v1.6h-1.6zM412.0 340.9h1.6v1.6h-1.6zM410.8 335.3h1.6v1.6h-1.6zM411.0 333.6h1.6v1.6h-1.6zM412.5 329.5h1.6v1.6h-1.6zM412.6 327.7h1.6v1.6h-1.6zM412.5 322.3h1.6v1.6h-1.6zM412.2 320.0h1.6v1.6h-1.6zM412.3 315.9h1.6v1.6h-1.6zM412.0 313.9h1.6v1.6h-1.6zM412.3 311.4h1.6v1.6h-1.6zM413.2 307.3h1.6v1.6h-1.6zM412.3 305.1h1.6v1.6h-1.6zM412.1 300.5h1.6v1.6h-1.6zM413.2 299.2h1.6v1.6h-1.6zM413.5 293.6h1.6v1.6h-1.6zM413.7 291.0h1.6v1.6h-1.6zM413.8 285.1h1.6v1.6h-1.6zM413.3 283.6h1.6v1.6h-1.6zM413.8 280.9h1.6v1.6h-1.6zM413.9 277.3h1.6v1.6h-1.6zM412.9 273.4h1.6v1.6h-1.6zM413.3 270.6h1.6v1.6h-1.6zM413.9 266.8h1.6v1.6h-1.6zM414.2 265.1h1.6v1.6h-1.6zM337.9 857.3h1.6v1.6h-1.6zM337.9 873.4h1.6v1.6h-1.6zM450.9 263.2h1.6v1.6h-1.6zM451.3 297.2h1.6v1.6h-1.6zM451.3 317.2h1.6v1.6h-1.6zM451.3 339.2h1.6v1.6h-1.6zM451.3 385.2h1.6v1.6h-1.6zM451.3 407.2h1.6v1.6h-1.6zM450.8 440.2h1.6v1.6h-1.6zM450.7 471.2h1.6v1.6h-1.6zM451.3 485.9h1.6v1.6h-1.6zM451.1 532.4h1.6v1.6h-1.6zM451.0 596.2h1.6v1.6h-1.6zM450.8 638.0h1.6v1.6h-1.6zM451.0 669.9h1.6v1.6h-1.6zM450.8 682.7h1.6v1.6h-1.6zM451.0 731.8h1.6v1.6h-1.6zM451.3 740.9h1.6v1.6h-1.6zM451.0 782.6h1.6v1.6h-1.6zM497.3 262.2h1.6v1.6h-1.6zM497.7 293.2h1.6v1.6h-1.6zM497.9 305.2h1.6v1.6h-1.6zM497.8 331.2h1.6v1.6h-1.6zM498.0 369.2h1.6v1.6h-1.6zM498.1 430.2h1.6v1.6h-1.6zM497.9 442.2h1.6v1.6h-1.6zM497.9 454.2h1.6v1.6h-1.6zM498.1 496.2h1.6v1.6h-1.6zM497.6 537.2h1.6v1.6h-1.6zM497.6 574.4h1.6v1.6h-1.6zM497.3 598.8h1.6v1.6h-1.6zM498.1 610.6h1.6v1.6h-1.6zM497.5 625.2h1.6v1.6h-1.6zM497.4 628.8h1.6v1.6h-1.6zM497.7 647.9h1.6v1.6h-1.6zM498.0 664.4h1.6v1.6h-1.6zM497.6 679.0h1.6v1.6h-1.6zM497.6 689.8h1.6v1.6h-1.6zM497.9 711.1h1.6v1.6h-1.6zM497.4 737.9h1.6v1.6h-1.6zM497.4 751.1h1.6v1.6h-1.6zM497.6 757.2h1.6v1.6h-1.6zM497.5 769.4h1.6v1.6h-1.6zM497.5 787.0h1.6v1.6h-1.6zM498.0 812.0h1.6v1.6h-1.6zM497.5 838.4h1.6v1.6h-1.6zM497.8 862.8h1.6v1.6h-1.6zM478.4 303.9h1.6v1.6h-1.6zM477.6 403.7h1.6v1.6h-1.6zM478.4 504.9h1.6v1.6h-1.6zM477.6 611.4h1.6v1.6h-1.6zM478.0 726.1h1.6v1.6h-1.6zM478.3 828.2h1.6v1.6h-1.6zM794.1 265.0h1.6v1.6h-1.6zM792.7 265.1h1.6v1.6h-1.6zM792.5 269.6h1.6v1.6h-1.6zM793.3 272.1h1.6v1.6h-1.6zM792.6 276.2h1.6v1.6h-1.6zM793.1 279.7h1.6v1.6h-1.6zM792.5 281.0h1.6v1.6h-1.6zM792.4 284.7h1.6v1.6h-1.6zM792.2 288.0h1.6v1.6h-1.6zM791.7 289.0h1.6v1.6h-1.6zM792.1 293.2h1.6v1.6h-1.6zM791.4 297.3h1.6v1.6h-1.6zM790.8 298.3h1.6v1.6h-1.6zM792.1 302.1h1.6v1.6h-1.6zM790.5 303.1h1.6v1.6h-1.6zM790.9 309.0h1.6v1.6h-1.6zM791.4 313.3h1.6v1.6h-1.6zM791.7 316.7h1.6v1.6h-1.6zM791.5 316.3h1.6v1.6h-1.6zM790.6 320.3h1.6v1.6h-1.6zM790.2 325.4h1.6v1.6h-1.6zM790.9 328.5h1.6v1.6h-1.6zM790.1 330.5h1.6v1.6h-1.6zM790.8 333.3h1.6v1.6h-1.6zM789.9 337.4h1.6v1.6h-1.6zM790.2 340.0h1.6v1.6h-1.6zM789.5 342.9h1.6v1.6h-1.6zM790.4 344.5h1.6v1.6h-1.6zM790.0 350.2h1.6v1.6h-1.6zM789.1 351.5h1.6v1.6h-1.6zM790.3 356.6h1.6v1.6h-1.6zM789.9 357.3h1.6v1.6h-1.6zM789.5 360.9h1.6v1.6h-1.6zM788.7 363.5h1.6v1.6h-1.6zM788.4 367.1h1.6v1.6h-1.6zM788.9 369.6h1.6v1.6h-1.6zM788.7 373.8h1.6v1.6h-1.6zM788.7 377.4h1.6v1.6h-1.6zM789.1 381.3h1.6v1.6h-1.6zM788.2 383.6h1.6v1.6h-1.6zM787.6 385.8h1.6v1.6h-1.6zM788.4 389.6h1.6v1.6h-1.6zM788.2 393.2h1.6v1.6h-1.6zM787.7 396.7h1.6v1.6h-1.6zM787.6 399.6h1.6v1.6h-1.6zM787.5 400.0h1.6v1.6h-1.6zM786.6 404.6h1.6v1.6h-1.6zM787.2 408.8h1.6v1.6h-1.6zM785.7 412.2h1.6v1.6h-1.6zM786.0 415.7h1.6v1.6h-1.6zM786.5 417.7h1.6v1.6h-1.6zM786.3 420.5h1.6v1.6h-1.6zM785.8 424.3h1.6v1.6h-1.6zM785.5 425.0h1.6v1.6h-1.6zM785.9 428.7h1.6v1.6h-1.6zM786.0 432.8h1.6v1.6h-1.6zM785.4 434.6h1.6v1.6h-1.6zM785.3 438.6h1.6v1.6h-1.6zM784.9 440.3h1.6v1.6h-1.6zM784.3 445.4h1.6v1.6h-1.6zM784.1 449.1h1.6v1.6h-1.6zM784.2 451.9h1.6v1.6h-1.6zM784.9 454.2h1.6v1.6h-1.6zM784.5 458.0h1.6v1.6h-1.6zM784.2 461.7h1.6v1.6h-1.6zM784.9 465.3h1.6v1.6h-1.6zM783.5 465.7h1.6v1.6h-1.6zM784.7 472.1h1.6v1.6h-1.6zM783.9 474.7h1.6v1.6h-1.6zM783.6 478.4h1.6v1.6h-1.6zM783.6 479.4h1.6v1.6h-1.6zM784.3 482.1h1.6v1.6h-1.6zM783.6 485.6h1.6v1.6h-1.6zM783.6 487.3h1.6v1.6h-1.6zM783.2 491.0h1.6v1.6h-1.6zM783.5 494.3h1.6v1.6h-1.6zM783.7 499.7h1.6v1.6h-1.6zM783.5 501.5h1.6v1.6h-1.6zM782.9 504.4h1.6v1.6h-1.6zM783.7 506.8h1.6v1.6h-1.6zM783.3 508.9h1.6v1.6h-1.6zM783.2 513.2h1.6v1.6h-1.6zM783.4 516.6h1.6v1.6h-1.6zM782.0 517.5h1.6v1.6h-1.6zM783.3 523.3h1.6v1.6h-1.6zM782.8 524.2h1.6v1.6h-1.6zM782.9 529.3h1.6v1.6h-1.6zM783.1 530.1h1.6v1.6h-1.6zM782.6 536.6h1.6v1.6h-1.6zM781.5 538.8h1.6v1.6h-1.6zM782.5 540.5h1.6v1.6h-1.6zM781.4 543.9h1.6v1.6h-1.6zM780.7 547.1h1.6v1.6h-1.6zM781.3 550.4h1.6v1.6h-1.6zM779.9 553.4h1.6v1.6h-1.6zM780.1 556.1h1.6v1.6h-1.6zM780.1 560.4h1.6v1.6h-1.6zM780.0 562.8h1.6v1.6h-1.6zM779.3 566.4h1.6v1.6h-1.6zM779.3 570.9h1.6v1.6h-1.6zM780.2 573.1h1.6v1.6h-1.6zM779.8 576.1h1.6v1.6h-1.6zM778.9 578.4h1.6v1.6h-1.6zM780.3 582.4h1.6v1.6h-1.6zM779.8 588.5h1.6v1.6h-1.6zM779.0 587.2h1.6v1.6h-1.6zM779.1 594.4h1.6v1.6h-1.6zM779.1 596.2h1.6v1.6h-1.6zM778.5 600.5h1.6v1.6h-1.6zM778.9 600.8h1.6v1.6h-1.6zM778.9 606.0h1.6v1.6h-1.6zM779.8 607.9h1.6v1.6h-1.6zM779.6 611.9h1.6v1.6h-1.6zM779.0 615.2h1.6v1.6h-1.6zM778.4 618.5h1.6v1.6h-1.6zM778.6 619.8h1.6v1.6h-1.6zM778.3 626.6h1.6v1.6h-1.6zM779.1 628.1h1.6v1.6h-1.6zM779.0 629.9h1.6v1.6h-1.6zM778.1 634.8h1.6v1.6h-1.6zM778.5 638.1h1.6v1.6h-1.6zM778.9 641.4h1.6v1.6h-1.6zM777.6 642.6h1.6v1.6h-1.6zM778.8 646.7h1.6v1.6h-1.6zM777.6 649.8h1.6v1.6h-1.6zM777.8 653.0h1.6v1.6h-1.6zM778.8 658.0h1.6v1.6h-1.6zM778.1 660.3h1.6v1.6h-1.6zM777.3 663.5h1.6v1.6h-1.6zM777.6 667.8h1.6v1.6h-1.6zM777.9 669.4h1.6v1.6h-1.6zM777.4 673.7h1.6v1.6h-1.6zM778.1 674.2h1.6v1.6h-1.6zM777.2 678.4h1.6v1.6h-1.6zM777.0 681.3h1.6v1.6h-1.6zM777.4 683.9h1.6v1.6h-1.6zM778.1 687.6h1.6v1.6h-1.6zM776.7 692.2h1.6v1.6h-1.6zM778.0 693.8h1.6v1.6h-1.6zM777.2 696.4h1.6v1.6h-1.6zM776.6 701.1h1.6v1.6h-1.6zM777.8 703.0h1.6v1.6h-1.6zM776.7 706.0h1.6v1.6h-1.6zM776.6 710.8h1.6v1.6h-1.6zM776.8 712.5h1.6v1.6h-1.6zM777.0 717.4h1.6v1.6h-1.6zM776.5 718.9h1.6v1.6h-1.6zM777.3 724.2h1.6v1.6h-1.6zM776.3 726.6h1.6v1.6h-1.6zM776.4 728.3h1.6v1.6h-1.6zM776.1 731.1h1.6v1.6h-1.6zM775.9 735.9h1.6v1.6h-1.6zM776.8 738.3h1.6v1.6h-1.6zM775.9 742.5h1.6v1.6h-1.6zM775.5 736.0h1.6v1.6h-1.6zM777.0 738.1h1.6v1.6h-1.6zM775.3 737.6h1.6v1.6h-1.6zM777.3 737.9h1.6v1.6h-1.6zM776.0 737.8h1.6v1.6h-1.6zM776.5 737.9h1.6v1.6h-1.6zM776.1 741.2h1.6v1.6h-1.6zM775.4 742.9h1.6v1.6h-1.6zM776.3 742.0h1.6v1.6h-1.6zM777.4 741.0h1.6v1.6h-1.6zM775.2 741.8h1.6v1.6h-1.6zM776.8 744.1h1.6v1.6h-1.6zM774.7 745.0h1.6v1.6h-1.6zM776.2 742.9h1.6v1.6h-1.6zM776.0 743.5h1.6v1.6h-1.6zM775.6 744.9h1.6v1.6h-1.6zM776.6 747.1h1.6v1.6h-1.6zM774.8 747.6h1.6v1.6h-1.6zM774.8 748.5h1.6v1.6h-1.6zM775.0 745.7h1.6v1.6h-1.6zM775.7 747.7h1.6v1.6h-1.6zM775.5 748.0h1.6v1.6h-1.6zM773.9 747.7h1.6v1.6h-1.6zM774.1 749.8h1.6v1.6h-1.6zM773.9 751.9h1.6v1.6h-1.6zM776.2 750.3h1.6v1.6h-1.6zM775.6 752.9h1.6v1.6h-1.6zM775.9 750.7h1.6v1.6h-1.6zM775.6 753.6h1.6v1.6h-1.6zM773.1 751.6h1.6v1.6h-1.6zM772.9 751.8h1.6v1.6h-1.6zM773.1 754.0h1.6v1.6h-1.6zM774.1 755.7h1.6v1.6h-1.6zM773.2 755.8h1.6v1.6h-1.6zM773.2 757.2h1.6v1.6h-1.6zM773.7 757.6h1.6v1.6h-1.6zM775.0 755.1h1.6v1.6h-1.6zM773.9 759.3h1.6v1.6h-1.6zM774.8 758.5h1.6v1.6h-1.6zM774.6 757.9h1.6v1.6h-1.6zM773.7 757.7h1.6v1.6h-1.6zM774.6 760.9h1.6v1.6h-1.6zM773.4 760.2h1.6v1.6h-1.6zM773.3 761.3h1.6v1.6h-1.6zM774.3 763.1h1.6v1.6h-1.6zM771.4 761.6h1.6v1.6h-1.6zM773.2 761.7h1.6v1.6h-1.6zM772.6 762.4h1.6v1.6h-1.6zM773.5 762.9h1.6v1.6h-1.6zM771.2 765.1h1.6v1.6h-1.6zM772.1 762.4h1.6v1.6h-1.6zM771.7 765.1h1.6v1.6h-1.6zM772.9 768.1h1.6v1.6h-1.6zM771.9 768.9h1.6v1.6h-1.6zM771.9 771.3h1.6v1.6h-1.6zM772.3 775.1h1.6v1.6h-1.6zM772.1 779.0h1.6v1.6h-1.6zM771.2 783.9h1.6v1.6h-1.6zM771.1 788.1h1.6v1.6h-1.6zM772.6 787.1h1.6v1.6h-1.6zM772.1 791.1h1.6v1.6h-1.6zM772.1 796.6h1.6v1.6h-1.6zM771.8 798.0h1.6v1.6h-1.6zM771.4 802.2h1.6v1.6h-1.6zM771.4 804.3h1.6v1.6h-1.6zM771.8 809.6h1.6v1.6h-1.6zM770.8 811.6h1.6v1.6h-1.6zM771.3 814.6h1.6v1.6h-1.6zM770.9 820.2h1.6v1.6h-1.6zM770.7 821.6h1.6v1.6h-1.6zM770.2 825.1h1.6v1.6h-1.6zM771.3 827.6h1.6v1.6h-1.6zM771.0 831.9h1.6v1.6h-1.6zM770.5 834.3h1.6v1.6h-1.6zM769.6 839.0h1.6v1.6h-1.6zM768.9 839.5h1.6v1.6h-1.6zM769.2 844.6h1.6v1.6h-1.6zM767.8 847.6h1.6v1.6h-1.6zM767.9 849.7h1.6v1.6h-1.6zM767.9 851.8h1.6v1.6h-1.6zM767.1 858.5h1.6v1.6h-1.6zM767.6 859.8h1.6v1.6h-1.6zM768.3 865.0h1.6v1.6h-1.6zM768.6 865.8h1.6v1.6h-1.6zM768.5 869.5h1.6v1.6h-1.6zM768.3 874.3h1.6v1.6h-1.6zM766.9 879.1h1.6v1.6h-1.6zM771.1 829.5h1.6v1.6h-1.6zM769.6 830.2h1.6v1.6h-1.6zM769.8 830.6h1.6v1.6h-1.6zM772.2 831.8h1.6v1.6h-1.6zM770.5 834.6h1.6v1.6h-1.6zM769.9 835.3h1.6v1.6h-1.6zM769.3 835.9h1.6v1.6h-1.6zM771.8 836.5h1.6v1.6h-1.6zM769.3 837.7h1.6v1.6h-1.6zM771.6 839.0h1.6v1.6h-1.6zM769.1 840.9h1.6v1.6h-1.6zM771.1 841.5h1.6v1.6h-1.6zM769.0 841.2h1.6v1.6h-1.6zM771.0 841.6h1.6v1.6h-1.6zM768.5 843.1h1.6v1.6h-1.6zM769.3 845.2h1.6v1.6h-1.6zM769.2 845.1h1.6v1.6h-1.6zM769.4 847.7h1.6v1.6h-1.6zM769.0 847.0h1.6v1.6h-1.6zM770.2 848.8h1.6v1.6h-1.6zM769.5 850.3h1.6v1.6h-1.6zM769.7 849.9h1.6v1.6h-1.6zM768.1 852.5h1.6v1.6h-1.6zM680.0 859.3h1.6v1.6h-1.6zM677.2 872.2h1.6v1.6h-1.6zM680.7 872.7h1.6v1.6h-1.6zM838.4 283.6h1.6v1.6h-1.6zM838.2 303.2h1.6v1.6h-1.6zM837.8 319.1h1.6v1.6h-1.6zM838.3 334.0h1.6v1.6h-1.6zM838.4 358.3h1.6v1.6h-1.6zM837.8 388.2h1.6v1.6h-1.6zM837.9 401.3h1.6v1.6h-1.6zM838.3 423.8h1.6v1.6h-1.6zM838.0 464.9h1.6v1.6h-1.6zM838.3 496.6h1.6v1.6h-1.6zM837.9 530.3h1.6v1.6h-1.6zM838.6 540.6h1.6v1.6h-1.6zM838.0 572.0h1.6v1.6h-1.6zM838.4 603.2h1.6v1.6h-1.6zM837.9 623.3h1.6v1.6h-1.6zM838.4 636.7h1.6v1.6h-1.6zM838.5 674.0h1.6v1.6h-1.6zM838.6 717.8h1.6v1.6h-1.6zM838.2 761.8h1.6v1.6h-1.6zM837.9 787.3h1.6v1.6h-1.6zM838.4 825.0h1.6v1.6h-1.6zM838.1 861.7h1.6v1.6h-1.6z" fill="#cc0010"/>
<path d="M143.6 812.0h1.6v1.6h-1.6zM143.4 811.6h1.6v1.6h-1.6zM144.8 808.7h1.6v1.6h-1.6zM143.4 806.4h1.6v1.6h-1.6zM143.9 802.7h1.6v1.6h-1.6zM145.4 802.9h1.6v1.6h-1.6zM143.8 799.5h1.6v1.6h-1.6zM145.6 794.7h1.6v1.6h-1.6zM144.9 796.2h1.6v1.6h-1.6zM145.9 790.9h1.6v1.6h-1.6zM146.1 790.5h1.6v1.6h-1.6zM145.4 787.7h1.6v1.6h-1.6zM146.6 785.8h1.6v1.6h-1.6zM146.4 783.5h1.6v1.6h-1.6zM145.7 778.4h1.6v1.6h-1.6zM147.6 776.0h1.6v1.6h-1.6zM147.0 775.4h1.6v1.6h-1.6zM146.2 774.6h1.6v1.6h-1.6zM148.2 773.5h1.6v1.6h-1.6zM148.0 767.9h1.6v1.6h-1.6zM148.1 766.2h1.6v1.6h-1.6zM147.9 764.8h1.6v1.6h-1.6zM147.7 763.2h1.6v1.6h-1.6zM148.5 761.0h1.6v1.6h-1.6zM147.3 756.3h1.6v1.6h-1.6zM147.9 753.1h1.6v1.6h-1.6zM148.5 753.4h1.6v1.6h-1.6zM147.6 751.8h1.6v1.6h-1.6zM149.0 750.2h1.6v1.6h-1.6zM149.0 747.0h1.6v1.6h-1.6zM150.2 743.4h1.6v1.6h-1.6zM150.2 741.2h1.6v1.6h-1.6zM149.4 739.3h1.6v1.6h-1.6zM149.9 736.6h1.6v1.6h-1.6zM150.4 735.2h1.6v1.6h-1.6zM150.1 733.4h1.6v1.6h-1.6zM149.8 729.9h1.6v1.6h-1.6zM150.3 727.6h1.6v1.6h-1.6zM151.2 727.4h1.6v1.6h-1.6zM150.5 724.0h1.6v1.6h-1.6zM151.1 723.3h1.6v1.6h-1.6zM150.4 720.0h1.6v1.6h-1.6zM150.5 718.9h1.6v1.6h-1.6zM151.4 715.9h1.6v1.6h-1.6zM152.2 714.8h1.6v1.6h-1.6zM150.9 712.3h1.6v1.6h-1.6zM152.6 711.3h1.6v1.6h-1.6zM150.8 710.5h1.6v1.6h-1.6zM151.9 708.3h1.6v1.6h-1.6zM153.5 710.3h1.6v1.6h-1.6zM151.2 707.3h1.6v1.6h-1.6zM151.2 706.1h1.6v1.6h-1.6zM153.6 706.2h1.6v1.6h-1.6zM151.3 704.7h1.6v1.6h-1.6zM153.7 705.2h1.6v1.6h-1.6zM151.6 703.5h1.6v1.6h-1.6zM152.1 705.4h1.6v1.6h-1.6zM154.6 703.2h1.6v1.6h-1.6zM152.1 703.5h1.6v1.6h-1.6zM153.8 702.5h1.6v1.6h-1.6zM154.3 700.6h1.6v1.6h-1.6zM153.8 703.1h1.6v1.6h-1.6zM153.4 699.0h1.6v1.6h-1.6zM154.9 699.7h1.6v1.6h-1.6zM154.4 697.3h1.6v1.6h-1.6zM152.6 698.4h1.6v1.6h-1.6zM153.0 698.9h1.6v1.6h-1.6zM152.9 700.6h1.6v1.6h-1.6zM153.2 699.9h1.6v1.6h-1.6zM153.5 695.0h1.6v1.6h-1.6zM153.1 694.9h1.6v1.6h-1.6zM155.3 694.1h1.6v1.6h-1.6zM153.9 697.5h1.6v1.6h-1.6zM156.1 696.2h1.6v1.6h-1.6zM156.1 694.5h1.6v1.6h-1.6zM155.6 695.2h1.6v1.6h-1.6zM154.1 694.3h1.6v1.6h-1.6zM155.4 690.0h1.6v1.6h-1.6zM154.4 694.0h1.6v1.6h-1.6zM155.0 691.9h1.6v1.6h-1.6zM155.9 690.9h1.6v1.6h-1.6zM157.3 687.6h1.6v1.6h-1.6zM157.4 691.5h1.6v1.6h-1.6zM156.2 689.6h1.6v1.6h-1.6zM155.6 686.9h1.6v1.6h-1.6zM157.2 686.0h1.6v1.6h-1.6zM158.8 686.3h1.6v1.6h-1.6zM158.1 687.9h1.6v1.6h-1.6zM158.0 686.9h1.6v1.6h-1.6zM159.4 687.6h1.6v1.6h-1.6zM157.6 685.3h1.6v1.6h-1.6zM158.3 683.1h1.6v1.6h-1.6zM158.3 681.6h1.6v1.6h-1.6zM158.7 683.2h1.6v1.6h-1.6zM159.7 684.2h1.6v1.6h-1.6zM159.5 679.9h1.6v1.6h-1.6zM159.6 680.2h1.6v1.6h-1.6zM160.1 681.8h1.6v1.6h-1.6zM161.2 681.4h1.6v1.6h-1.6zM161.3 681.9h1.6v1.6h-1.6zM161.4 679.8h1.6v1.6h-1.6zM162.4 680.3h1.6v1.6h-1.6zM161.6 679.1h1.6v1.6h-1.6zM163.3 676.0h1.6v1.6h-1.6zM162.2 676.3h1.6v1.6h-1.6zM162.3 677.1h1.6v1.6h-1.6zM162.3 676.1h1.6v1.6h-1.6zM162.3 672.5h1.6v1.6h-1.6zM164.0 675.7h1.6v1.6h-1.6zM163.2 673.2h1.6v1.6h-1.6zM162.5 670.7h1.6v1.6h-1.6zM164.1 669.7h1.6v1.6h-1.6zM163.3 670.5h1.6v1.6h-1.6zM165.1 668.7h1.6v1.6h-1.6zM165.7 665.4h1.6v1.6h-1.6zM163.5 667.4h1.6v1.6h-1.6zM166.5 664.5h1.6v1.6h-1.6zM165.2 665.6h1.6v1.6h-1.6zM166.4 662.3h1.6v1.6h-1.6zM164.4 660.7h1.6v1.6h-1.6zM166.0 661.8h1.6v1.6h-1.6zM164.4 657.9h1.6v1.6h-1.6zM164.1 658.0h1.6v1.6h-1.6zM166.1 658.1h1.6v1.6h-1.6zM167.2 655.4h1.6v1.6h-1.6zM164.3 654.2h1.6v1.6h-1.6zM166.3 653.5h1.6v1.6h-1.6zM166.5 654.5h1.6v1.6h-1.6zM165.0 651.0h1.6v1.6h-1.6zM167.2 653.1h1.6v1.6h-1.6zM167.6 652.2h1.6v1.6h-1.6zM165.7 650.5h1.6v1.6h-1.6zM166.1 645.9h1.6v1.6h-1.6zM167.9 645.4h1.6v1.6h-1.6zM169.5 646.0h1.6v1.6h-1.6zM168.2 646.5h1.6v1.6h-1.6zM168.4 645.5h1.6v1.6h-1.6zM171.2 643.0h1.6v1.6h-1.6zM169.0 642.0h1.6v1.6h-1.6zM169.0 641.6h1.6v1.6h-1.6zM170.3 638.7h1.6v1.6h-1.6zM169.1 641.2h1.6v1.6h-1.6zM170.8 638.6h1.6v1.6h-1.6zM171.6 635.8h1.6v1.6h-1.6zM170.4 635.1h1.6v1.6h-1.6zM169.6 633.3h1.6v1.6h-1.6zM171.4 631.9h1.6v1.6h-1.6zM170.3 632.9h1.6v1.6h-1.6zM172.3 631.0h1.6v1.6h-1.6zM172.5 629.6h1.6v1.6h-1.6zM171.2 628.2h1.6v1.6h-1.6zM173.2 629.1h1.6v1.6h-1.6zM172.4 626.0h1.6v1.6h-1.6zM173.5 626.3h1.6v1.6h-1.6zM174.0 625.1h1.6v1.6h-1.6zM172.8 623.3h1.6v1.6h-1.6zM174.6 623.8h1.6v1.6h-1.6zM173.4 621.4h1.6v1.6h-1.6zM173.6 621.3h1.6v1.6h-1.6zM173.9 621.6h1.6v1.6h-1.6zM172.8 619.7h1.6v1.6h-1.6zM175.1 618.1h1.6v1.6h-1.6zM173.2 617.0h1.6v1.6h-1.6zM173.4 612.7h1.6v1.6h-1.6zM176.0 612.4h1.6v1.6h-1.6zM174.3 613.8h1.6v1.6h-1.6zM175.3 611.1h1.6v1.6h-1.6zM173.8 611.0h1.6v1.6h-1.6zM175.2 608.1h1.6v1.6h-1.6zM174.6 607.7h1.6v1.6h-1.6zM176.2 608.2h1.6v1.6h-1.6zM176.9 606.5h1.6v1.6h-1.6zM176.4 605.9h1.6v1.6h-1.6zM175.7 603.2h1.6v1.6h-1.6zM177.4 605.6h1.6v1.6h-1.6zM175.8 605.7h1.6v1.6h-1.6zM175.3 602.7h1.6v1.6h-1.6zM175.8 604.7h1.6v1.6h-1.6zM175.6 602.5h1.6v1.6h-1.6zM175.3 603.0h1.6v1.6h-1.6zM175.7 602.3h1.6v1.6h-1.6zM176.9 602.3h1.6v1.6h-1.6zM176.4 600.9h1.6v1.6h-1.6zM175.9 602.9h1.6v1.6h-1.6zM178.1 600.2h1.6v1.6h-1.6zM177.7 600.7h1.6v1.6h-1.6zM177.5 602.0h1.6v1.6h-1.6zM176.9 597.8h1.6v1.6h-1.6zM176.2 597.6h1.6v1.6h-1.6zM177.5 596.1h1.6v1.6h-1.6zM177.1 600.4h1.6v1.6h-1.6zM177.6 596.7h1.6v1.6h-1.6zM176.3 599.2h1.6v1.6h-1.6zM178.4 597.5h1.6v1.6h-1.6zM177.0 595.9h1.6v1.6h-1.6zM177.4 598.7h1.6v1.6h-1.6zM178.6 595.9h1.6v1.6h-1.6zM177.6 593.1h1.6v1.6h-1.6zM178.1 597.3h1.6v1.6h-1.6zM178.5 594.0h1.6v1.6h-1.6zM177.6 593.1h1.6v1.6h-1.6zM179.4 596.2h1.6v1.6h-1.6zM177.1 592.5h1.6v1.6h-1.6zM178.6 594.1h1.6v1.6h-1.6zM179.4 593.0h1.6v1.6h-1.6zM179.1 592.7h1.6v1.6h-1.6zM177.6 592.5h1.6v1.6h-1.6zM179.6 589.1h1.6v1.6h-1.6zM178.7 589.5h1.6v1.6h-1.6zM180.4 592.4h1.6v1.6h-1.6zM178.2 588.1h1.6v1.6h-1.6zM179.1 591.3h1.6v1.6h-1.6zM180.9 591.4h1.6v1.6h-1.6zM181.8 588.3h1.6v1.6h-1.6zM180.5 590.8h1.6v1.6h-1.6zM180.3 585.5h1.6v1.6h-1.6zM179.8 588.7h1.6v1.6h-1.6zM181.0 589.8h1.6v1.6h-1.6zM181.9 585.9h1.6v1.6h-1.6zM181.5 586.0h1.6v1.6h-1.6zM182.3 586.4h1.6v1.6h-1.6zM183.6 588.4h1.6v1.6h-1.6zM182.2 587.2h1.6v1.6h-1.6zM183.5 587.0h1.6v1.6h-1.6zM183.1 585.4h1.6v1.6h-1.6zM185.5 587.4h1.6v1.6h-1.6zM185.3 582.7h1.6v1.6h-1.6zM185.7 583.9h1.6v1.6h-1.6zM185.7 586.7h1.6v1.6h-1.6zM187.0 584.8h1.6v1.6h-1.6zM186.8 587.3h1.6v1.6h-1.6zM187.2 582.7h1.6v1.6h-1.6zM187.6 586.7h1.6v1.6h-1.6zM188.8 585.4h1.6v1.6h-1.6zM187.5 585.9h1.6v1.6h-1.6zM188.4 586.9h1.6v1.6h-1.6zM190.7 582.7h1.6v1.6h-1.6zM189.7 582.3h1.6v1.6h-1.6zM191.5 586.7h1.6v1.6h-1.6zM189.5 586.3h1.6v1.6h-1.6zM192.2 584.9h1.6v1.6h-1.6zM192.1 585.2h1.6v1.6h-1.6zM191.6 585.6h1.6v1.6h-1.6zM193.3 583.4h1.6v1.6h-1.6zM191.0 582.0h1.6v1.6h-1.6zM191.2 581.7h1.6v1.6h-1.6zM191.9 581.2h1.6v1.6h-1.6zM192.9 583.3h1.6v1.6h-1.6zM192.7 583.2h1.6v1.6h-1.6zM193.3 580.9h1.6v1.6h-1.6zM196.1 579.3h1.6v1.6h-1.6zM194.1 580.7h1.6v1.6h-1.6zM196.9 579.0h1.6v1.6h-1.6zM195.8 582.1h1.6v1.6h-1.6zM196.7 583.2h1.6v1.6h-1.6zM195.9 578.1h1.6v1.6h-1.6zM197.1 581.7h1.6v1.6h-1.6zM198.4 581.1h1.6v1.6h-1.6zM198.5 579.5h1.6v1.6h-1.6zM199.5 581.9h1.6v1.6h-1.6zM199.4 577.3h1.6v1.6h-1.6zM199.0 578.5h1.6v1.6h-1.6zM199.1 581.2h1.6v1.6h-1.6zM201.2 576.3h1.6v1.6h-1.6zM200.9 580.1h1.6v1.6h-1.6zM199.2 576.1h1.6v1.6h-1.6zM199.6 577.3h1.6v1.6h-1.6zM199.8 576.9h1.6v1.6h-1.6zM201.5 576.3h1.6v1.6h-1.6zM201.0 578.0h1.6v1.6h-1.6zM201.8 573.9h1.6v1.6h-1.6zM201.3 576.1h1.6v1.6h-1.6zM202.4 577.5h1.6v1.6h-1.6zM203.7 577.4h1.6v1.6h-1.6zM203.7 572.6h1.6v1.6h-1.6zM204.8 575.7h1.6v1.6h-1.6zM204.2 571.9h1.6v1.6h-1.6zM202.6 572.2h1.6v1.6h-1.6zM204.6 573.0h1.6v1.6h-1.6zM204.3 574.6h1.6v1.6h-1.6zM205.7 571.4h1.6v1.6h-1.6zM203.5 570.4h1.6v1.6h-1.6zM204.0 573.3h1.6v1.6h-1.6zM205.9 570.4h1.6v1.6h-1.6zM206.4 572.0h1.6v1.6h-1.6zM204.3 570.3h1.6v1.6h-1.6zM206.0 568.9h1.6v1.6h-1.6zM207.2 568.4h1.6v1.6h-1.6zM207.6 569.3h1.6v1.6h-1.6zM206.0 567.8h1.6v1.6h-1.6zM207.8 567.3h1.6v1.6h-1.6zM208.3 567.8h1.6v1.6h-1.6zM206.1 569.7h1.6v1.6h-1.6zM206.7 566.2h1.6v1.6h-1.6zM206.5 569.0h1.6v1.6h-1.6zM208.7 567.5h1.6v1.6h-1.6zM206.7 565.1h1.6v1.6h-1.6zM206.8 566.7h1.6v1.6h-1.6zM207.7 565.8h1.6v1.6h-1.6zM207.6 565.3h1.6v1.6h-1.6zM209.6 567.0h1.6v1.6h-1.6zM209.2 570.3h1.6v1.6h-1.6zM209.1 569.3h1.6v1.6h-1.6zM210.0 568.8h1.6v1.6h-1.6zM210.0 571.1h1.6v1.6h-1.6zM208.8 568.5h1.6v1.6h-1.6zM211.0 571.2h1.6v1.6h-1.6zM209.6 568.2h1.6v1.6h-1.6zM211.8 572.2h1.6v1.6h-1.6zM209.4 573.8h1.6v1.6h-1.6zM211.8 569.7h1.6v1.6h-1.6zM212.5 572.8h1.6v1.6h-1.6zM210.7 573.3h1.6v1.6h-1.6zM210.9 568.4h1.6v1.6h-1.6zM212.1 569.4h1.6v1.6h-1.6zM211.1 569.9h1.6v1.6h-1.6zM212.0 567.4h1.6v1.6h-1.6zM212.8 569.3h1.6v1.6h-1.6zM212.2 568.0h1.6v1.6h-1.6zM213.1 569.3h1.6v1.6h-1.6zM211.4 567.3h1.6v1.6h-1.6zM212.7 565.1h1.6v1.6h-1.6zM211.9 567.9h1.6v1.6h-1.6zM213.1 568.8h1.6v1.6h-1.6zM213.6 565.2h1.6v1.6h-1.6zM214.0 566.9h1.6v1.6h-1.6zM214.3 566.7h1.6v1.6h-1.6zM215.5 567.3h1.6v1.6h-1.6zM215.3 564.7h1.6v1.6h-1.6zM213.6 565.6h1.6v1.6h-1.6zM213.6 564.6h1.6v1.6h-1.6zM214.0 563.7h1.6v1.6h-1.6zM214.6 561.4h1.6v1.6h-1.6zM216.3 565.2h1.6v1.6h-1.6zM214.3 564.1h1.6v1.6h-1.6zM215.9 563.3h1.6v1.6h-1.6zM216.2 559.4h1.6v1.6h-1.6zM216.4 562.6h1.6v1.6h-1.6zM216.5 558.4h1.6v1.6h-1.6zM215.3 560.5h1.6v1.6h-1.6zM216.1 559.6h1.6v1.6h-1.6zM216.4 558.7h1.6v1.6h-1.6zM218.8 557.7h1.6v1.6h-1.6zM216.2 561.4h1.6v1.6h-1.6zM219.0 556.5h1.6v1.6h-1.6zM218.7 558.4h1.6v1.6h-1.6zM217.6 560.1h1.6v1.6h-1.6zM219.0 558.0h1.6v1.6h-1.6zM217.5 555.3h1.6v1.6h-1.6zM217.9 557.3h1.6v1.6h-1.6zM219.9 556.0h1.6v1.6h-1.6zM219.0 553.9h1.6v1.6h-1.6zM221.0 554.0h1.6v1.6h-1.6zM221.2 556.9h1.6v1.6h-1.6zM221.4 554.4h1.6v1.6h-1.6zM221.8 555.9h1.6v1.6h-1.6zM222.3 554.5h1.6v1.6h-1.6zM221.4 554.1h1.6v1.6h-1.6zM220.9 555.6h1.6v1.6h-1.6zM223.3 554.7h1.6v1.6h-1.6zM222.8 550.5h1.6v1.6h-1.6zM222.1 555.1h1.6v1.6h-1.6zM223.5 550.2h1.6v1.6h-1.6zM224.4 551.9h1.6v1.6h-1.6zM222.8 550.9h1.6v1.6h-1.6zM223.5 549.4h1.6v1.6h-1.6zM224.3 550.1h1.6v1.6h-1.6zM225.9 553.2h1.6v1.6h-1.6zM224.7 547.8h1.6v1.6h-1.6zM226.3 549.3h1.6v1.6h-1.6zM226.9 548.2h1.6v1.6h-1.6zM225.7 547.3h1.6v1.6h-1.6zM227.1 549.3h1.6v1.6h-1.6zM225.3 546.4h1.6v1.6h-1.6zM227.3 547.9h1.6v1.6h-1.6zM228.1 550.1h1.6v1.6h-1.6zM226.5 549.0h1.6v1.6h-1.6zM228.6 548.6h1.6v1.6h-1.6zM227.9 548.9h1.6v1.6h-1.6zM230.0 545.5h1.6v1.6h-1.6zM227.9 547.5h1.6v1.6h-1.6zM228.6 545.6h1.6v1.6h-1.6zM229.3 546.0h1.6v1.6h-1.6zM230.1 548.1h1.6v1.6h-1.6zM231.6 544.5h1.6v1.6h-1.6zM229.5 543.3h1.6v1.6h-1.6zM230.1 544.6h1.6v1.6h-1.6zM231.0 542.5h1.6v1.6h-1.6zM233.0 541.2h1.6v1.6h-1.6zM233.3 542.2h1.6v1.6h-1.6zM231.2 541.5h1.6v1.6h-1.6zM232.4 541.6h1.6v1.6h-1.6zM234.0 545.2h1.6v1.6h-1.6zM232.4 540.9h1.6v1.6h-1.6zM234.8 539.9h1.6v1.6h-1.6zM233.1 543.4h1.6v1.6h-1.6zM235.6 540.5h1.6v1.6h-1.6zM232.9 542.6h1.6v1.6h-1.6zM233.7 539.3h1.6v1.6h-1.6zM236.2 539.9h1.6v1.6h-1.6zM234.5 539.9h1.6v1.6h-1.6zM237.0 541.6h1.6v1.6h-1.6zM236.3 540.3h1.6v1.6h-1.6zM235.9 541.1h1.6v1.6h-1.6zM236.3 537.7h1.6v1.6h-1.6zM235.4 540.8h1.6v1.6h-1.6zM238.0 536.0h1.6v1.6h-1.6zM237.5 535.5h1.6v1.6h-1.6zM236.5 534.2h1.6v1.6h-1.6zM238.8 534.9h1.6v1.6h-1.6zM237.7 536.2h1.6v1.6h-1.6zM236.8 534.8h1.6v1.6h-1.6zM238.8 534.8h1.6v1.6h-1.6zM239.3 532.9h1.6v1.6h-1.6zM238.9 531.9h1.6v1.6h-1.6zM238.6 531.2h1.6v1.6h-1.6zM238.4 531.4h1.6v1.6h-1.6zM239.7 532.5h1.6v1.6h-1.6zM240.8 531.9h1.6v1.6h-1.6zM241.1 531.0h1.6v1.6h-1.6zM240.0 531.2h1.6v1.6h-1.6zM241.2 533.6h1.6v1.6h-1.6zM239.8 532.6h1.6v1.6h-1.6zM240.0 530.3h1.6v1.6h-1.6zM240.8 528.7h1.6v1.6h-1.6zM240.0 527.6h1.6v1.6h-1.6zM240.3 528.3h1.6v1.6h-1.6zM241.7 527.3h1.6v1.6h-1.6zM241.0 525.4h1.6v1.6h-1.6zM239.8 526.6h1.6v1.6h-1.6zM241.3 529.9h1.6v1.6h-1.6zM240.7 525.5h1.6v1.6h-1.6zM242.1 527.1h1.6v1.6h-1.6zM241.3 527.9h1.6v1.6h-1.6zM240.2 526.3h1.6v1.6h-1.6zM241.0 523.2h1.6v1.6h-1.6zM240.4 522.3h1.6v1.6h-1.6zM168.6 618.6h1.6v1.6h-1.6zM168.6 619.8h1.6v1.6h-1.6zM168.4 619.6h1.6v1.6h-1.6zM168.4 620.6h1.6v1.6h-1.6zM167.9 621.0h1.6v1.6h-1.6zM168.8 622.4h1.6v1.6h-1.6zM168.1 624.1h1.6v1.6h-1.6zM200.2 588.8h1.6v1.6h-1.6zM200.0 589.0h1.6v1.6h-1.6zM200.2 592.1h1.6v1.6h-1.6zM199.7 592.4h1.6v1.6h-1.6zM200.1 594.1h1.6v1.6h-1.6zM199.6 595.3h1.6v1.6h-1.6zM199.5 597.6h1.6v1.6h-1.6zM200.0 596.5h1.6v1.6h-1.6zM199.7 599.7h1.6v1.6h-1.6zM199.9 600.6h1.6v1.6h-1.6zM200.1 600.9h1.6v1.6h-1.6zM199.9 602.0h1.6v1.6h-1.6zM199.5 604.0h1.6v1.6h-1.6zM199.8 604.9h1.6v1.6h-1.6zM188.3 587.1h1.6v1.6h-1.6zM188.6 587.7h1.6v1.6h-1.6zM188.5 589.4h1.6v1.6h-1.6zM188.7 591.1h1.6v1.6h-1.6zM188.7 591.4h1.6v1.6h-1.6zM188.9 593.1h1.6v1.6h-1.6zM217.7 574.4h1.6v1.6h-1.6zM217.1 575.9h1.6v1.6h-1.6zM217.7 577.1h1.6v1.6h-1.6zM217.3 577.7h1.6v1.6h-1.6zM217.7 579.4h1.6v1.6h-1.6zM217.5 581.3h1.6v1.6h-1.6zM199.7 599.8h1.6v1.6h-1.6zM199.7 600.5h1.6v1.6h-1.6zM200.3 603.4h1.6v1.6h-1.6zM199.7 603.1h1.6v1.6h-1.6zM200.3 604.8h1.6v1.6h-1.6zM199.9 605.9h1.6v1.6h-1.6zM289.3 451.2h1.6v1.6h-1.6zM291.4 450.9h1.6v1.6h-1.6zM292.8 456.5h1.6v1.6h-1.6zM291.8 459.4h1.6v1.6h-1.6zM291.6 449.2h1.6v1.6h-1.6zM292.7 454.2h1.6v1.6h-1.6zM294.0 451.0h1.6v1.6h-1.6zM292.9 449.3h1.6v1.6h-1.6zM294.0 452.1h1.6v1.6h-1.6zM293.4 457.9h1.6v1.6h-1.6zM293.6 457.5h1.6v1.6h-1.6zM291.9 459.0h1.6v1.6h-1.6zM292.2 453.5h1.6v1.6h-1.6zM292.8 450.3h1.6v1.6h-1.6zM293.0 450.1h1.6v1.6h-1.6zM292.4 450.4h1.6v1.6h-1.6zM295.2 452.1h1.6v1.6h-1.6zM295.5 451.8h1.6v1.6h-1.6zM292.5 458.6h1.6v1.6h-1.6zM293.2 459.9h1.6v1.6h-1.6zM294.9 454.1h1.6v1.6h-1.6zM296.0 459.8h1.6v1.6h-1.6zM296.1 455.0h1.6v1.6h-1.6zM295.4 451.5h1.6v1.6h-1.6zM296.0 452.9h1.6v1.6h-1.6zM296.0 458.2h1.6v1.6h-1.6zM295.3 456.5h1.6v1.6h-1.6zM295.7 455.1h1.6v1.6h-1.6zM295.0 456.2h1.6v1.6h-1.6zM296.1 450.7h1.6v1.6h-1.6zM295.0 450.7h1.6v1.6h-1.6zM296.0 457.0h1.6v1.6h-1.6zM298.0 454.8h1.6v1.6h-1.6zM295.0 453.4h1.6v1.6h-1.6zM298.1 458.9h1.6v1.6h-1.6zM298.5 458.8h1.6v1.6h-1.6zM298.2 452.3h1.6v1.6h-1.6zM296.7 456.6h1.6v1.6h-1.6zM298.0 455.5h1.6v1.6h-1.6zM299.2 451.7h1.6v1.6h-1.6zM296.8 452.8h1.6v1.6h-1.6zM299.1 453.2h1.6v1.6h-1.6zM297.6 453.1h1.6v1.6h-1.6zM299.8 456.2h1.6v1.6h-1.6zM298.7 452.4h1.6v1.6h-1.6zM296.9 454.9h1.6v1.6h-1.6zM298.5 451.5h1.6v1.6h-1.6zM299.3 455.1h1.6v1.6h-1.6zM299.7 452.5h1.6v1.6h-1.6zM297.6 462.5h1.6v1.6h-1.6zM298.9 459.7h1.6v1.6h-1.6zM300.9 454.0h1.6v1.6h-1.6zM299.4 454.6h1.6v1.6h-1.6zM299.0 452.3h1.6v1.6h-1.6zM298.2 460.1h1.6v1.6h-1.6zM300.8 454.2h1.6v1.6h-1.6zM298.7 459.8h1.6v1.6h-1.6zM301.3 462.9h1.6v1.6h-1.6zM301.1 459.0h1.6v1.6h-1.6zM300.7 457.9h1.6v1.6h-1.6zM300.7 453.8h1.6v1.6h-1.6zM299.8 463.0h1.6v1.6h-1.6zM302.6 460.4h1.6v1.6h-1.6zM301.1 459.4h1.6v1.6h-1.6zM299.5 452.8h1.6v1.6h-1.6zM299.5 454.6h1.6v1.6h-1.6zM303.2 456.1h1.6v1.6h-1.6zM302.8 459.5h1.6v1.6h-1.6zM300.8 462.8h1.6v1.6h-1.6zM300.1 457.6h1.6v1.6h-1.6zM302.9 454.2h1.6v1.6h-1.6zM302.5 461.2h1.6v1.6h-1.6zM302.2 461.6h1.6v1.6h-1.6zM301.0 454.9h1.6v1.6h-1.6zM303.4 453.6h1.6v1.6h-1.6zM304.7 462.8h1.6v1.6h-1.6zM301.3 457.7h1.6v1.6h-1.6zM302.1 459.2h1.6v1.6h-1.6zM301.8 460.8h1.6v1.6h-1.6zM301.9 459.5h1.6v1.6h-1.6zM302.6 460.9h1.6v1.6h-1.6zM304.0 458.2h1.6v1.6h-1.6zM304.7 461.6h1.6v1.6h-1.6zM304.5 461.3h1.6v1.6h-1.6zM305.8 455.6h1.6v1.6h-1.6zM304.0 464.6h1.6v1.6h-1.6zM305.8 459.4h1.6v1.6h-1.6zM305.3 465.1h1.6v1.6h-1.6zM304.1 465.3h1.6v1.6h-1.6zM305.0 461.2h1.6v1.6h-1.6zM302.9 462.3h1.6v1.6h-1.6zM306.4 464.8h1.6v1.6h-1.6zM305.2 463.6h1.6v1.6h-1.6zM303.1 463.0h1.6v1.6h-1.6zM304.8 457.3h1.6v1.6h-1.6zM305.5 460.2h1.6v1.6h-1.6zM305.6 459.3h1.6v1.6h-1.6zM303.6 464.8h1.6v1.6h-1.6zM306.5 456.8h1.6v1.6h-1.6zM304.7 459.3h1.6v1.6h-1.6zM305.4 457.0h1.6v1.6h-1.6zM304.3 459.7h1.6v1.6h-1.6zM306.6 462.5h1.6v1.6h-1.6zM304.4 463.7h1.6v1.6h-1.6zM308.2 458.6h1.6v1.6h-1.6zM308.2 466.6h1.6v1.6h-1.6zM304.6 457.5h1.6v1.6h-1.6zM306.7 467.4h1.6v1.6h-1.6zM306.0 462.6h1.6v1.6h-1.6zM308.7 460.5h1.6v1.6h-1.6zM307.8 461.6h1.6v1.6h-1.6zM307.3 459.8h1.6v1.6h-1.6zM309.2 458.8h1.6v1.6h-1.6zM307.8 461.0h1.6v1.6h-1.6zM308.3 459.7h1.6v1.6h-1.6zM306.5 466.0h1.6v1.6h-1.6zM309.7 462.0h1.6v1.6h-1.6zM306.6 469.0h1.6v1.6h-1.6zM308.6 460.6h1.6v1.6h-1.6zM309.5 460.1h1.6v1.6h-1.6zM309.6 464.6h1.6v1.6h-1.6zM310.1 467.4h1.6v1.6h-1.6zM307.1 466.7h1.6v1.6h-1.6zM310.0 467.1h1.6v1.6h-1.6zM309.1 465.9h1.6v1.6h-1.6zM310.8 465.0h1.6v1.6h-1.6zM309.5 465.0h1.6v1.6h-1.6zM307.8 461.4h1.6v1.6h-1.6zM308.8 465.3h1.6v1.6h-1.6zM313.6 474.2h1.6v1.6h-1.6zM310.8 485.4h1.6v1.6h-1.6zM311.0 477.6h1.6v1.6h-1.6zM314.6 471.5h1.6v1.6h-1.6zM311.4 474.4h1.6v1.6h-1.6zM315.1 488.0h1.6v1.6h-1.6zM314.6 480.4h1.6v1.6h-1.6zM312.6 482.1h1.6v1.6h-1.6zM313.6 485.4h1.6v1.6h-1.6zM314.4 482.1h1.6v1.6h-1.6zM309.6 484.1h1.6v1.6h-1.6zM311.7 480.5h1.6v1.6h-1.6zM313.7 487.7h1.6v1.6h-1.6zM313.2 482.4h1.6v1.6h-1.6zM315.2 471.5h1.6v1.6h-1.6zM313.5 473.0h1.6v1.6h-1.6zM312.5 475.8h1.6v1.6h-1.6zM311.4 486.2h1.6v1.6h-1.6zM311.1 487.4h1.6v1.6h-1.6zM313.0 487.5h1.6v1.6h-1.6zM313.0 482.2h1.6v1.6h-1.6zM312.5 487.7h1.6v1.6h-1.6zM309.3 473.2h1.6v1.6h-1.6zM310.5 487.3h1.6v1.6h-1.6zM315.0 474.3h1.6v1.6h-1.6zM310.9 479.7h1.6v1.6h-1.6zM310.6 475.0h1.6v1.6h-1.6zM310.3 485.7h1.6v1.6h-1.6zM310.0 482.0h1.6v1.6h-1.6zM314.3 475.2h1.6v1.6h-1.6zM311.8 471.5h1.6v1.6h-1.6zM309.9 479.0h1.6v1.6h-1.6zM312.9 474.9h1.6v1.6h-1.6zM314.7 481.5h1.6v1.6h-1.6zM315.2 480.0h1.6v1.6h-1.6zM329.3 473.1h1.6v1.6h-1.6zM330.6 465.6h1.6v1.6h-1.6zM330.0 439.8h1.6v1.6h-1.6zM332.7 479.1h1.6v1.6h-1.6zM329.7 447.0h1.6v1.6h-1.6zM323.8 441.3h1.6v1.6h-1.6zM316.2 463.0h1.6v1.6h-1.6zM336.1 462.9h1.6v1.6h-1.6zM338.7 465.5h1.6v1.6h-1.6zM316.0 467.7h1.6v1.6h-1.6zM315.8 447.3h1.6v1.6h-1.6zM339.0 487.9h1.6v1.6h-1.6zM324.6 434.5h1.6v1.6h-1.6zM316.9 430.3h1.6v1.6h-1.6zM320.5 487.1h1.6v1.6h-1.6zM323.4 488.6h1.6v1.6h-1.6zM337.6 498.6h1.6v1.6h-1.6zM322.8 480.3h1.6v1.6h-1.6zM331.4 431.4h1.6v1.6h-1.6zM333.9 469.1h1.6v1.6h-1.6zM317.8 452.8h1.6v1.6h-1.6zM322.3 457.8h1.6v1.6h-1.6zM320.7 434.2h1.6v1.6h-1.6zM315.4 471.6h1.6v1.6h-1.6zM322.3 443.8h1.6v1.6h-1.6zM330.5 477.0h1.6v1.6h-1.6zM325.1 496.8h1.6v1.6h-1.6zM318.9 437.9h1.6v1.6h-1.6zM334.1 452.2h1.6v1.6h-1.6zM318.8 482.3h1.6v1.6h-1.6zM317.1 489.1h1.6v1.6h-1.6zM323.1 480.0h1.6v1.6h-1.6zM324.4 462.3h1.6v1.6h-1.6zM322.2 486.8h1.6v1.6h-1.6zM324.0 428.2h1.6v1.6h-1.6zM337.6 482.4h1.6v1.6h-1.6zM322.8 453.7h1.6v1.6h-1.6zM325.1 433.4h1.6v1.6h-1.6zM334.2 479.6h1.6v1.6h-1.6zM334.3 433.5h1.6v1.6h-1.6zM324.0 473.5h1.6v1.6h-1.6zM317.6 479.9h1.6v1.6h-1.6zM323.4 419.3h1.6v1.6h-1.6zM323.5 492.2h1.6v1.6h-1.6zM323.9 444.7h1.6v1.6h-1.6zM317.9 449.8h1.6v1.6h-1.6zM317.5 420.1h1.6v1.6h-1.6zM330.7 482.9h1.6v1.6h-1.6zM324.7 494.3h1.6v1.6h-1.6zM327.2 457.7h1.6v1.6h-1.6zM326.8 490.3h1.6v1.6h-1.6zM327.5 451.7h1.6v1.6h-1.6zM322.3 459.4h1.6v1.6h-1.6zM329.5 454.5h1.6v1.6h-1.6zM336.8 421.6h1.6v1.6h-1.6zM325.8 426.3h1.6v1.6h-1.6zM324.0 487.2h1.6v1.6h-1.6zM338.5 446.0h1.6v1.6h-1.6zM330.3 437.4h1.6v1.6h-1.6zM316.3 421.2h1.6v1.6h-1.6zM329.8 465.0h1.6v1.6h-1.6zM335.0 479.1h1.6v1.6h-1.6zM319.9 424.8h1.6v1.6h-1.6zM333.1 438.3h1.6v1.6h-1.6zM334.4 463.5h1.6v1.6h-1.6zM334.9 433.2h1.6v1.6h-1.6zM323.8 490.4h1.6v1.6h-1.6zM317.9 459.6h1.6v1.6h-1.6zM325.4 494.2h1.6v1.6h-1.6zM319.7 471.3h1.6v1.6h-1.6zM332.6 482.6h1.6v1.6h-1.6zM336.7 456.7h1.6v1.6h-1.6zM344.8 481.3h1.6v1.6h-1.6zM344.5 523.4h1.6v1.6h-1.6zM331.7 528.2h1.6v1.6h-1.6zM349.4 482.7h1.6v1.6h-1.6zM329.9 464.1h1.6v1.6h-1.6zM331.4 455.6h1.6v1.6h-1.6zM335.0 492.6h1.6v1.6h-1.6zM331.2 529.6h1.6v1.6h-1.6zM339.0 463.6h1.6v1.6h-1.6zM329.7 495.5h1.6v1.6h-1.6zM346.1 521.4h1.6v1.6h-1.6zM342.2 491.5h1.6v1.6h-1.6zM329.6 477.0h1.6v1.6h-1.6zM350.0 456.2h1.6v1.6h-1.6zM346.6 500.8h1.6v1.6h-1.6zM343.4 485.0h1.6v1.6h-1.6zM337.6 513.8h1.6v1.6h-1.6zM344.4 488.8h1.6v1.6h-1.6zM329.2 481.2h1.6v1.6h-1.6zM334.5 447.0h1.6v1.6h-1.6zM340.1 476.6h1.6v1.6h-1.6zM350.0 467.4h1.6v1.6h-1.6zM347.4 453.7h1.6v1.6h-1.6zM340.7 473.4h1.6v1.6h-1.6zM329.8 448.5h1.6v1.6h-1.6zM341.2 522.5h1.6v1.6h-1.6zM329.8 457.8h1.6v1.6h-1.6zM346.3 501.0h1.6v1.6h-1.6zM343.6 490.8h1.6v1.6h-1.6zM334.3 486.8h1.6v1.6h-1.6zM330.1 521.5h1.6v1.6h-1.6zM329.3 443.1h1.6v1.6h-1.6zM340.5 447.2h1.6v1.6h-1.6zM336.1 512.0h1.6v1.6h-1.6zM338.0 504.2h1.6v1.6h-1.6zM334.6 531.3h1.6v1.6h-1.6zM330.8 498.6h1.6v1.6h-1.6zM333.6 478.5h1.6v1.6h-1.6zM335.5 439.6h1.6v1.6h-1.6zM349.5 505.7h1.6v1.6h-1.6zM346.0 439.2h1.6v1.6h-1.6zM343.6 502.5h1.6v1.6h-1.6zM333.1 446.4h1.6v1.6h-1.6zM343.7 478.9h1.6v1.6h-1.6zM336.7 527.4h1.6v1.6h-1.6zM347.3 458.5h1.6v1.6h-1.6zM344.9 441.2h1.6v1.6h-1.6zM335.3 439.7h1.6v1.6h-1.6zM343.3 457.6h1.6v1.6h-1.6zM339.7 468.4h1.6v1.6h-1.6zM334.0 511.6h1.6v1.6h-1.6zM334.2 499.5h1.6v1.6h-1.6zM341.6 527.0h1.6v1.6h-1.6zM330.0 479.0h1.6v1.6h-1.6zM332.9 480.7h1.6v1.6h-1.6zM333.1 480.3h1.6v1.6h-1.6zM329.5 484.6h1.6v1.6h-1.6zM332.9 485.1h1.6v1.6h-1.6zM334.2 479.5h1.6v1.6h-1.6zM329.3 479.9h1.6v1.6h-1.6zM330.4 483.7h1.6v1.6h-1.6zM332.6 479.8h1.6v1.6h-1.6zM332.6 480.8h1.6v1.6h-1.6zM333.9 484.1h1.6v1.6h-1.6zM329.6 482.1h1.6v1.6h-1.6zM329.9 484.3h1.6v1.6h-1.6zM334.0 483.3h1.6v1.6h-1.6zM333.0 479.4h1.6v1.6h-1.6zM326.5 356.7h1.6v1.6h-1.6zM325.7 360.5h1.6v1.6h-1.6zM326.3 362.9h1.6v1.6h-1.6zM325.1 363.5h1.6v1.6h-1.6zM325.6 365.7h1.6v1.6h-1.6zM326.4 366.7h1.6v1.6h-1.6zM326.2 370.2h1.6v1.6h-1.6zM325.8 372.5h1.6v1.6h-1.6zM326.3 374.3h1.6v1.6h-1.6zM325.9 375.3h1.6v1.6h-1.6zM324.9 376.7h1.6v1.6h-1.6zM325.3 380.2h1.6v1.6h-1.6zM325.4 380.8h1.6v1.6h-1.6zM325.2 382.3h1.6v1.6h-1.6zM326.1 385.3h1.6v1.6h-1.6zM326.3 387.4h1.6v1.6h-1.6zM325.5 389.8h1.6v1.6h-1.6zM326.0 391.6h1.6v1.6h-1.6zM325.3 393.4h1.6v1.6h-1.6zM325.7 394.8h1.6v1.6h-1.6zM326.2 395.2h1.6v1.6h-1.6zM325.4 399.2h1.6v1.6h-1.6zM325.8 399.7h1.6v1.6h-1.6zM325.8 402.2h1.6v1.6h-1.6zM325.3 404.7h1.6v1.6h-1.6zM326.1 407.7h1.6v1.6h-1.6zM324.6 409.3h1.6v1.6h-1.6zM324.1 410.7h1.6v1.6h-1.6zM323.3 412.1h1.6v1.6h-1.6zM323.4 414.7h1.6v1.6h-1.6zM322.6 418.5h1.6v1.6h-1.6zM337.6 537.4h1.6v1.6h-1.6zM337.2 540.3h1.6v1.6h-1.6zM337.7 544.0h1.6v1.6h-1.6zM337.9 548.5h1.6v1.6h-1.6zM337.3 550.7h1.6v1.6h-1.6zM337.6 558.0h1.6v1.6h-1.6zM337.1 559.4h1.6v1.6h-1.6zM337.4 564.5h1.6v1.6h-1.6zM337.8 570.6h1.6v1.6h-1.6zM337.9 573.9h1.6v1.6h-1.6zM337.7 575.5h1.6v1.6h-1.6zM337.0 578.6h1.6v1.6h-1.6zM337.4 583.8h1.6v1.6h-1.6zM337.7 586.2h1.6v1.6h-1.6zM350.2 513.5h1.6v1.6h-1.6zM350.9 514.9h1.6v1.6h-1.6zM351.6 512.2h1.6v1.6h-1.6zM350.9 512.5h1.6v1.6h-1.6zM350.9 513.8h1.6v1.6h-1.6zM351.3 516.2h1.6v1.6h-1.6zM350.1 514.4h1.6v1.6h-1.6zM351.7 517.4h1.6v1.6h-1.6zM351.1 516.8h1.6v1.6h-1.6zM349.5 518.6h1.6v1.6h-1.6zM349.3 517.5h1.6v1.6h-1.6zM351.2 518.7h1.6v1.6h-1.6zM351.6 519.5h1.6v1.6h-1.6zM351.4 521.3h1.6v1.6h-1.6zM352.3 520.8h1.6v1.6h-1.6zM350.3 522.2h1.6v1.6h-1.6zM350.0 520.0h1.6v1.6h-1.6zM352.3 524.5h1.6v1.6h-1.6zM351.0 523.2h1.6v1.6h-1.6zM351.5 524.4h1.6v1.6h-1.6zM349.8 525.0h1.6v1.6h-1.6zM352.6 527.3h1.6v1.6h-1.6zM352.2 526.0h1.6v1.6h-1.6zM351.3 524.2h1.6v1.6h-1.6zM350.8 526.9h1.6v1.6h-1.6zM351.8 529.1h1.6v1.6h-1.6zM352.2 527.3h1.6v1.6h-1.6zM352.9 527.2h1.6v1.6h-1.6zM351.0 527.0h1.6v1.6h-1.6zM350.6 530.7h1.6v1.6h-1.6zM351.0 528.1h1.6v1.6h-1.6zM350.7 532.9h1.6v1.6h-1.6zM350.9 528.6h1.6v1.6h-1.6zM352.3 529.9h1.6v1.6h-1.6zM351.8 530.9h1.6v1.6h-1.6zM352.9 531.8h1.6v1.6h-1.6zM351.4 531.4h1.6v1.6h-1.6zM351.3 534.7h1.6v1.6h-1.6zM353.4 536.2h1.6v1.6h-1.6zM352.2 535.2h1.6v1.6h-1.6zM352.1 535.7h1.6v1.6h-1.6zM353.6 537.6h1.6v1.6h-1.6zM353.3 536.5h1.6v1.6h-1.6zM351.7 535.3h1.6v1.6h-1.6zM353.3 538.6h1.6v1.6h-1.6zM352.8 536.5h1.6v1.6h-1.6zM353.8 537.0h1.6v1.6h-1.6zM352.8 539.3h1.6v1.6h-1.6zM351.8 541.2h1.6v1.6h-1.6zM353.7 541.8h1.6v1.6h-1.6zM352.3 543.9h1.6v1.6h-1.6zM353.3 541.4h1.6v1.6h-1.6zM353.8 543.4h1.6v1.6h-1.6zM354.4 543.0h1.6v1.6h-1.6zM352.6 542.6h1.6v1.6h-1.6zM352.1 545.8h1.6v1.6h-1.6zM354.4 542.7h1.6v1.6h-1.6zM354.7 547.5h1.6v1.6h-1.6zM354.9 548.6h1.6v1.6h-1.6zM354.9 545.3h1.6v1.6h-1.6zM353.8 549.0h1.6v1.6h-1.6zM352.7 550.1h1.6v1.6h-1.6zM354.1 546.3h1.6v1.6h-1.6zM352.3 552.1h1.6v1.6h-1.6zM353.7 550.7h1.6v1.6h-1.6zM355.2 552.1h1.6v1.6h-1.6zM353.7 549.9h1.6v1.6h-1.6zM353.5 551.1h1.6v1.6h-1.6zM354.2 551.7h1.6v1.6h-1.6zM352.6 551.2h1.6v1.6h-1.6zM354.9 555.6h1.6v1.6h-1.6zM352.9 551.6h1.6v1.6h-1.6zM355.5 556.8h1.6v1.6h-1.6zM354.4 554.5h1.6v1.6h-1.6zM354.4 554.2h1.6v1.6h-1.6zM355.8 556.5h1.6v1.6h-1.6zM354.5 557.0h1.6v1.6h-1.6zM355.1 559.0h1.6v1.6h-1.6zM355.5 559.5h1.6v1.6h-1.6zM354.5 559.5h1.6v1.6h-1.6zM356.0 560.8h1.6v1.6h-1.6zM355.4 562.2h1.6v1.6h-1.6zM355.2 562.3h1.6v1.6h-1.6zM353.8 559.6h1.6v1.6h-1.6zM354.7 559.3h1.6v1.6h-1.6zM354.3 560.0h1.6v1.6h-1.6zM353.9 564.3h1.6v1.6h-1.6zM355.0 565.0h1.6v1.6h-1.6zM354.8 561.9h1.6v1.6h-1.6zM356.0 567.0h1.6v1.6h-1.6zM356.4 566.0h1.6v1.6h-1.6zM356.1 564.1h1.6v1.6h-1.6zM356.4 568.5h1.6v1.6h-1.6zM354.9 565.9h1.6v1.6h-1.6zM357.1 566.0h1.6v1.6h-1.6zM356.0 566.3h1.6v1.6h-1.6zM355.7 568.4h1.6v1.6h-1.6zM354.8 568.6h1.6v1.6h-1.6zM355.8 570.0h1.6v1.6h-1.6zM356.2 568.7h1.6v1.6h-1.6zM355.1 570.5h1.6v1.6h-1.6zM355.8 570.6h1.6v1.6h-1.6zM355.1 572.6h1.6v1.6h-1.6zM357.3 570.7h1.6v1.6h-1.6zM357.1 573.9h1.6v1.6h-1.6zM355.8 575.8h1.6v1.6h-1.6zM356.9 573.0h1.6v1.6h-1.6zM357.5 573.5h1.6v1.6h-1.6zM358.3 575.5h1.6v1.6h-1.6zM357.1 574.7h1.6v1.6h-1.6zM356.2 579.1h1.6v1.6h-1.6zM358.9 579.8h1.6v1.6h-1.6zM358.0 579.4h1.6v1.6h-1.6zM358.4 579.5h1.6v1.6h-1.6zM356.5 581.2h1.6v1.6h-1.6zM358.8 580.4h1.6v1.6h-1.6zM359.5 582.1h1.6v1.6h-1.6zM357.0 580.1h1.6v1.6h-1.6zM358.3 580.7h1.6v1.6h-1.6zM360.0 582.1h1.6v1.6h-1.6zM358.1 584.6h1.6v1.6h-1.6zM358.3 581.6h1.6v1.6h-1.6zM358.5 584.4h1.6v1.6h-1.6zM360.4 580.7h1.6v1.6h-1.6zM360.0 582.4h1.6v1.6h-1.6zM359.9 580.3h1.6v1.6h-1.6zM359.7 580.1h1.6v1.6h-1.6zM358.8 581.6h1.6v1.6h-1.6zM361.3 578.4h1.6v1.6h-1.6zM360.4 578.4h1.6v1.6h-1.6zM360.2 576.4h1.6v1.6h-1.6zM359.7 579.1h1.6v1.6h-1.6zM360.6 575.2h1.6v1.6h-1.6zM361.4 574.7h1.6v1.6h-1.6zM363.0 577.6h1.6v1.6h-1.6zM362.1 576.3h1.6v1.6h-1.6zM360.8 574.8h1.6v1.6h-1.6zM361.7 573.4h1.6v1.6h-1.6zM361.3 572.2h1.6v1.6h-1.6zM363.8 575.7h1.6v1.6h-1.6zM361.8 571.2h1.6v1.6h-1.6zM363.5 574.6h1.6v1.6h-1.6zM365.1 572.9h1.6v1.6h-1.6zM364.5 573.3h1.6v1.6h-1.6zM365.9 576.9h1.6v1.6h-1.6zM365.7 575.9h1.6v1.6h-1.6zM364.0 578.0h1.6v1.6h-1.6zM365.0 578.5h1.6v1.6h-1.6zM364.8 576.0h1.6v1.6h-1.6zM367.1 578.9h1.6v1.6h-1.6zM366.6 579.7h1.6v1.6h-1.6zM366.0 579.1h1.6v1.6h-1.6zM368.7 580.7h1.6v1.6h-1.6zM367.7 580.0h1.6v1.6h-1.6zM369.4 580.8h1.6v1.6h-1.6zM368.9 578.4h1.6v1.6h-1.6zM367.8 581.1h1.6v1.6h-1.6zM370.2 582.1h1.6v1.6h-1.6zM369.4 580.6h1.6v1.6h-1.6zM369.5 584.7h1.6v1.6h-1.6zM368.5 584.8h1.6v1.6h-1.6zM370.3 583.4h1.6v1.6h-1.6zM371.2 582.5h1.6v1.6h-1.6zM369.8 583.2h1.6v1.6h-1.6zM371.2 584.3h1.6v1.6h-1.6zM370.5 587.3h1.6v1.6h-1.6zM372.4 586.5h1.6v1.6h-1.6zM370.6 589.2h1.6v1.6h-1.6zM372.3 587.6h1.6v1.6h-1.6zM371.8 585.5h1.6v1.6h-1.6zM371.8 586.2h1.6v1.6h-1.6zM372.9 590.7h1.6v1.6h-1.6zM373.3 590.4h1.6v1.6h-1.6zM371.9 591.0h1.6v1.6h-1.6zM372.7 592.4h1.6v1.6h-1.6zM373.9 592.9h1.6v1.6h-1.6zM375.0 593.4h1.6v1.6h-1.6zM375.3 593.8h1.6v1.6h-1.6zM374.7 590.2h1.6v1.6h-1.6zM376.0 591.4h1.6v1.6h-1.6zM374.1 592.3h1.6v1.6h-1.6zM374.1 595.4h1.6v1.6h-1.6zM374.4 594.4h1.6v1.6h-1.6zM375.5 597.6h1.6v1.6h-1.6zM377.0 596.5h1.6v1.6h-1.6zM376.5 594.9h1.6v1.6h-1.6zM375.1 597.9h1.6v1.6h-1.6zM377.6 598.7h1.6v1.6h-1.6zM375.3 596.7h1.6v1.6h-1.6zM377.2 598.5h1.6v1.6h-1.6zM376.9 598.3h1.6v1.6h-1.6zM375.5 601.3h1.6v1.6h-1.6zM378.0 602.6h1.6v1.6h-1.6zM377.1 600.7h1.6v1.6h-1.6zM378.5 600.1h1.6v1.6h-1.6zM378.1 600.6h1.6v1.6h-1.6zM376.4 604.3h1.6v1.6h-1.6zM378.5 604.2h1.6v1.6h-1.6zM377.2 602.4h1.6v1.6h-1.6zM377.4 605.2h1.6v1.6h-1.6zM378.2 604.8h1.6v1.6h-1.6zM378.4 603.9h1.6v1.6h-1.6zM377.7 606.9h1.6v1.6h-1.6zM378.5 608.7h1.6v1.6h-1.6zM379.5 608.0h1.6v1.6h-1.6zM378.2 606.8h1.6v1.6h-1.6zM379.3 608.7h1.6v1.6h-1.6zM379.7 609.6h1.6v1.6h-1.6zM379.3 608.5h1.6v1.6h-1.6zM380.6 608.3h1.6v1.6h-1.6zM379.8 610.2h1.6v1.6h-1.6zM378.6 611.2h1.6v1.6h-1.6zM379.6 608.9h1.6v1.6h-1.6zM381.5 610.5h1.6v1.6h-1.6zM379.2 606.3h1.6v1.6h-1.6zM380.0 607.8h1.6v1.6h-1.6zM379.9 610.0h1.6v1.6h-1.6zM380.6 605.9h1.6v1.6h-1.6zM380.9 606.8h1.6v1.6h-1.6zM381.9 605.9h1.6v1.6h-1.6zM381.4 603.3h1.6v1.6h-1.6zM383.7 606.5h1.6v1.6h-1.6zM381.9 606.3h1.6v1.6h-1.6zM382.9 604.7h1.6v1.6h-1.6zM383.4 604.1h1.6v1.6h-1.6zM385.1 600.9h1.6v1.6h-1.6zM384.1 604.3h1.6v1.6h-1.6zM386.4 601.5h1.6v1.6h-1.6zM385.2 601.5h1.6v1.6h-1.6zM386.0 600.1h1.6v1.6h-1.6zM385.5 603.5h1.6v1.6h-1.6zM385.8 602.5h1.6v1.6h-1.6zM386.2 601.9h1.6v1.6h-1.6zM384.9 600.9h1.6v1.6h-1.6zM385.1 602.8h1.6v1.6h-1.6zM385.4 603.9h1.6v1.6h-1.6zM386.7 607.0h1.6v1.6h-1.6zM387.8 602.6h1.6v1.6h-1.6zM387.8 603.2h1.6v1.6h-1.6zM387.2 607.8h1.6v1.6h-1.6zM388.1 604.7h1.6v1.6h-1.6zM387.7 607.3h1.6v1.6h-1.6zM389.1 609.8h1.6v1.6h-1.6zM387.1 609.1h1.6v1.6h-1.6zM388.5 608.0h1.6v1.6h-1.6zM387.3 610.9h1.6v1.6h-1.6zM389.1 611.6h1.6v1.6h-1.6zM389.3 608.9h1.6v1.6h-1.6zM387.2 610.3h1.6v1.6h-1.6zM390.0 612.6h1.6v1.6h-1.6zM387.4 613.8h1.6v1.6h-1.6zM388.8 613.9h1.6v1.6h-1.6zM388.2 613.7h1.6v1.6h-1.6zM388.8 614.8h1.6v1.6h-1.6zM387.9 616.8h1.6v1.6h-1.6zM390.9 615.1h1.6v1.6h-1.6zM389.0 613.6h1.6v1.6h-1.6zM389.0 618.2h1.6v1.6h-1.6zM391.0 616.3h1.6v1.6h-1.6zM390.4 617.5h1.6v1.6h-1.6zM389.7 620.0h1.6v1.6h-1.6zM389.4 619.0h1.6v1.6h-1.6zM389.4 617.1h1.6v1.6h-1.6zM389.7 618.9h1.6v1.6h-1.6zM390.1 619.6h1.6v1.6h-1.6zM389.5 620.9h1.6v1.6h-1.6zM391.8 624.0h1.6v1.6h-1.6zM389.9 620.8h1.6v1.6h-1.6zM391.2 625.3h1.6v1.6h-1.6zM389.2 622.7h1.6v1.6h-1.6zM390.6 624.2h1.6v1.6h-1.6zM390.6 626.1h1.6v1.6h-1.6zM391.4 625.6h1.6v1.6h-1.6zM392.0 624.4h1.6v1.6h-1.6zM391.6 624.3h1.6v1.6h-1.6zM390.8 629.3h1.6v1.6h-1.6zM390.6 625.8h1.6v1.6h-1.6zM389.9 627.5h1.6v1.6h-1.6zM392.8 630.0h1.6v1.6h-1.6zM391.6 629.7h1.6v1.6h-1.6zM391.6 627.4h1.6v1.6h-1.6zM392.6 629.2h1.6v1.6h-1.6zM391.0 629.6h1.6v1.6h-1.6zM391.9 633.7h1.6v1.6h-1.6zM390.7 629.7h1.6v1.6h-1.6zM390.7 631.9h1.6v1.6h-1.6zM390.6 634.5h1.6v1.6h-1.6zM391.9 634.6h1.6v1.6h-1.6zM390.8 636.8h1.6v1.6h-1.6zM392.7 635.7h1.6v1.6h-1.6zM392.8 637.6h1.6v1.6h-1.6zM391.6 636.7h1.6v1.6h-1.6zM394.1 638.7h1.6v1.6h-1.6zM393.8 638.5h1.6v1.6h-1.6zM393.6 636.2h1.6v1.6h-1.6zM393.3 637.0h1.6v1.6h-1.6zM391.8 636.5h1.6v1.6h-1.6zM392.0 638.0h1.6v1.6h-1.6zM393.6 638.5h1.6v1.6h-1.6zM393.9 638.8h1.6v1.6h-1.6zM392.7 639.6h1.6v1.6h-1.6zM393.6 640.3h1.6v1.6h-1.6zM393.0 642.8h1.6v1.6h-1.6zM394.5 643.6h1.6v1.6h-1.6zM392.8 644.4h1.6v1.6h-1.6zM395.2 646.4h1.6v1.6h-1.6zM392.9 642.3h1.6v1.6h-1.6zM392.9 647.5h1.6v1.6h-1.6zM395.3 646.5h1.6v1.6h-1.6zM394.1 645.8h1.6v1.6h-1.6zM393.3 647.2h1.6v1.6h-1.6zM395.2 646.0h1.6v1.6h-1.6zM394.3 646.2h1.6v1.6h-1.6zM396.0 646.8h1.6v1.6h-1.6zM393.9 648.3h1.6v1.6h-1.6zM394.9 651.2h1.6v1.6h-1.6zM395.2 649.7h1.6v1.6h-1.6zM394.8 649.6h1.6v1.6h-1.6zM397.2 653.6h1.6v1.6h-1.6zM395.1 650.9h1.6v1.6h-1.6zM396.4 652.2h1.6v1.6h-1.6zM398.1 653.7h1.6v1.6h-1.6zM397.3 651.3h1.6v1.6h-1.6zM398.8 654.5h1.6v1.6h-1.6zM397.5 654.4h1.6v1.6h-1.6zM398.3 654.0h1.6v1.6h-1.6zM397.9 654.7h1.6v1.6h-1.6zM397.9 657.8h1.6v1.6h-1.6zM399.4 657.2h1.6v1.6h-1.6zM400.4 658.1h1.6v1.6h-1.6zM399.3 655.3h1.6v1.6h-1.6zM399.6 658.7h1.6v1.6h-1.6zM400.9 660.9h1.6v1.6h-1.6zM401.7 659.5h1.6v1.6h-1.6zM400.6 660.5h1.6v1.6h-1.6zM401.6 659.9h1.6v1.6h-1.6zM400.2 661.3h1.6v1.6h-1.6zM400.6 663.4h1.6v1.6h-1.6zM403.1 661.5h1.6v1.6h-1.6zM401.0 664.2h1.6v1.6h-1.6zM402.8 662.6h1.6v1.6h-1.6zM401.4 661.6h1.6v1.6h-1.6zM404.1 662.5h1.6v1.6h-1.6zM402.4 664.9h1.6v1.6h-1.6zM403.6 663.9h1.6v1.6h-1.6zM402.3 665.1h1.6v1.6h-1.6zM402.3 665.3h1.6v1.6h-1.6zM403.1 667.5h1.6v1.6h-1.6zM404.9 669.9h1.6v1.6h-1.6zM403.9 668.4h1.6v1.6h-1.6zM405.6 670.0h1.6v1.6h-1.6zM404.9 668.5h1.6v1.6h-1.6zM405.3 670.1h1.6v1.6h-1.6zM405.5 670.8h1.6v1.6h-1.6zM405.6 675.2h1.6v1.6h-1.6zM404.8 677.0h1.6v1.6h-1.6zM404.8 677.5h1.6v1.6h-1.6zM405.6 679.5h1.6v1.6h-1.6zM405.4 682.0h1.6v1.6h-1.6zM405.1 685.7h1.6v1.6h-1.6zM405.9 685.6h1.6v1.6h-1.6zM406.1 687.1h1.6v1.6h-1.6zM405.6 690.7h1.6v1.6h-1.6zM406.4 691.0h1.6v1.6h-1.6zM405.7 695.7h1.6v1.6h-1.6zM406.3 696.7h1.6v1.6h-1.6zM406.0 699.0h1.6v1.6h-1.6zM406.0 702.1h1.6v1.6h-1.6zM406.5 704.3h1.6v1.6h-1.6zM406.8 706.3h1.6v1.6h-1.6zM406.5 706.8h1.6v1.6h-1.6zM407.0 708.4h1.6v1.6h-1.6zM406.2 709.6h1.6v1.6h-1.6zM407.1 712.5h1.6v1.6h-1.6zM407.3 716.5h1.6v1.6h-1.6zM407.2 716.3h1.6v1.6h-1.6zM407.4 719.6h1.6v1.6h-1.6zM406.8 722.0h1.6v1.6h-1.6zM406.9 724.5h1.6v1.6h-1.6zM407.9 724.6h1.6v1.6h-1.6zM408.2 726.7h1.6v1.6h-1.6zM408.1 728.9h1.6v1.6h-1.6zM407.6 730.4h1.6v1.6h-1.6zM407.9 733.0h1.6v1.6h-1.6zM407.3 734.1h1.6v1.6h-1.6zM407.5 735.7h1.6v1.6h-1.6zM408.8 738.7h1.6v1.6h-1.6zM407.7 741.4h1.6v1.6h-1.6zM408.0 743.0h1.6v1.6h-1.6zM408.0 744.8h1.6v1.6h-1.6zM408.0 747.8h1.6v1.6h-1.6zM409.1 748.2h1.6v1.6h-1.6zM409.4 750.4h1.6v1.6h-1.6zM408.7 753.6h1.6v1.6h-1.6zM409.3 753.5h1.6v1.6h-1.6zM409.2 756.1h1.6v1.6h-1.6zM409.1 758.3h1.6v1.6h-1.6zM409.8 761.2h1.6v1.6h-1.6zM409.9 762.5h1.6v1.6h-1.6zM409.6 763.8h1.6v1.6h-1.6zM409.4 767.3h1.6v1.6h-1.6zM409.4 767.5h1.6v1.6h-1.6zM409.5 772.0h1.6v1.6h-1.6zM410.2 771.8h1.6v1.6h-1.6zM409.6 775.0h1.6v1.6h-1.6zM409.6 776.8h1.6v1.6h-1.6zM410.1 778.3h1.6v1.6h-1.6zM410.6 781.4h1.6v1.6h-1.6zM410.0 781.9h1.6v1.6h-1.6zM410.0 783.8h1.6v1.6h-1.6zM410.2 784.7h1.6v1.6h-1.6zM410.3 789.3h1.6v1.6h-1.6zM410.7 789.7h1.6v1.6h-1.6zM409.9 791.0h1.6v1.6h-1.6zM410.8 793.4h1.6v1.6h-1.6zM410.1 796.0h1.6v1.6h-1.6zM410.1 798.4h1.6v1.6h-1.6zM411.3 799.6h1.6v1.6h-1.6zM411.6 802.6h1.6v1.6h-1.6zM410.5 803.7h1.6v1.6h-1.6zM410.6 805.4h1.6v1.6h-1.6zM410.6 806.6h1.6v1.6h-1.6zM411.4 809.8h1.6v1.6h-1.6zM411.3 812.9h1.6v1.6h-1.6zM411.0 814.0h1.6v1.6h-1.6zM411.8 816.3h1.6v1.6h-1.6zM411.5 818.8h1.6v1.6h-1.6zM411.1 820.0h1.6v1.6h-1.6zM411.8 821.6h1.6v1.6h-1.6zM411.1 823.8h1.6v1.6h-1.6zM411.1 825.9h1.6v1.6h-1.6zM412.2 828.3h1.6v1.6h-1.6zM411.4 830.8h1.6v1.6h-1.6zM411.7 833.1h1.6v1.6h-1.6zM412.4 834.4h1.6v1.6h-1.6zM411.5 837.5h1.6v1.6h-1.6zM412.5 837.7h1.6v1.6h-1.6zM412.6 840.2h1.6v1.6h-1.6zM412.8 843.6h1.6v1.6h-1.6zM412.0 843.3h1.6v1.6h-1.6zM413.0 846.3h1.6v1.6h-1.6zM413.2 848.6h1.6v1.6h-1.6zM413.2 851.7h1.6v1.6h-1.6zM412.0 853.0h1.6v1.6h-1.6zM412.0 854.6h1.6v1.6h-1.6zM413.3 856.4h1.6v1.6h-1.6zM413.1 858.6h1.6v1.6h-1.6zM412.9 862.1h1.6v1.6h-1.6zM412.8 862.0h1.6v1.6h-1.6zM413.7 864.8h1.6v1.6h-1.6zM413.8 867.4h1.6v1.6h-1.6zM413.6 868.9h1.6v1.6h-1.6zM412.7 870.6h1.6v1.6h-1.6zM413.1 871.7h1.6v1.6h-1.6zM413.1 873.6h1.6v1.6h-1.6zM414.1 877.3h1.6v1.6h-1.6zM414.1 878.2h1.6v1.6h-1.6zM466.3 271.2h1.6v1.6h-1.6zM466.4 308.2h1.6v1.6h-1.6zM466.2 345.2h1.6v1.6h-1.6zM466.2 415.2h1.6v1.6h-1.6zM466.5 493.5h1.6v1.6h-1.6zM466.4 597.1h1.6v1.6h-1.6zM466.5 689.2h1.6v1.6h-1.6zM466.5 753.7h1.6v1.6h-1.6zM466.1 783.6h1.6v1.6h-1.6zM466.2 824.8h1.6v1.6h-1.6zM475.3 294.2h1.6v1.6h-1.6zM475.0 358.2h1.6v1.6h-1.6zM475.0 424.2h1.6v1.6h-1.6zM475.1 486.4h1.6v1.6h-1.6zM475.0 548.2h1.6v1.6h-1.6zM475.2 618.0h1.6v1.6h-1.6zM475.0 684.1h1.6v1.6h-1.6zM474.9 753.1h1.6v1.6h-1.6zM475.0 821.5h1.6v1.6h-1.6zM529.3 879.1h1.6v1.6h-1.6zM529.5 877.9h1.6v1.6h-1.6zM530.5 874.9h1.6v1.6h-1.6zM529.2 875.6h1.6v1.6h-1.6zM531.8 873.6h1.6v1.6h-1.6zM529.7 872.1h1.6v1.6h-1.6zM531.3 874.1h1.6v1.6h-1.6zM532.5 871.4h1.6v1.6h-1.6zM532.4 870.3h1.6v1.6h-1.6zM531.3 870.1h1.6v1.6h-1.6zM532.6 868.9h1.6v1.6h-1.6zM530.2 866.5h1.6v1.6h-1.6zM531.9 866.4h1.6v1.6h-1.6zM531.0 862.6h1.6v1.6h-1.6zM533.3 863.1h1.6v1.6h-1.6zM532.0 861.9h1.6v1.6h-1.6zM532.4 861.6h1.6v1.6h-1.6zM532.1 859.6h1.6v1.6h-1.6zM531.7 861.3h1.6v1.6h-1.6zM534.8 858.0h1.6v1.6h-1.6zM532.7 854.5h1.6v1.6h-1.6zM535.1 857.6h1.6v1.6h-1.6zM534.4 854.4h1.6v1.6h-1.6zM535.0 852.4h1.6v1.6h-1.6zM534.6 851.4h1.6v1.6h-1.6zM534.7 852.1h1.6v1.6h-1.6zM534.2 851.2h1.6v1.6h-1.6zM535.5 848.9h1.6v1.6h-1.6zM536.5 846.8h1.6v1.6h-1.6zM534.8 848.9h1.6v1.6h-1.6zM535.7 847.1h1.6v1.6h-1.6zM535.4 844.7h1.6v1.6h-1.6zM536.2 843.4h1.6v1.6h-1.6zM535.9 842.7h1.6v1.6h-1.6zM537.3 839.9h1.6v1.6h-1.6zM538.0 842.3h1.6v1.6h-1.6zM536.7 838.5h1.6v1.6h-1.6zM538.8 836.7h1.6v1.6h-1.6zM536.8 838.5h1.6v1.6h-1.6zM536.6 837.3h1.6v1.6h-1.6zM539.3 833.7h1.6v1.6h-1.6zM539.1 833.6h1.6v1.6h-1.6zM537.9 831.4h1.6v1.6h-1.6zM537.3 833.3h1.6v1.6h-1.6zM536.9 831.9h1.6v1.6h-1.6zM539.2 827.9h1.6v1.6h-1.6zM537.3 830.3h1.6v1.6h-1.6zM540.2 829.0h1.6v1.6h-1.6zM538.4 828.5h1.6v1.6h-1.6zM537.8 826.7h1.6v1.6h-1.6zM539.8 825.1h1.6v1.6h-1.6zM538.9 824.3h1.6v1.6h-1.6zM538.6 822.3h1.6v1.6h-1.6zM540.7 822.9h1.6v1.6h-1.6zM538.8 821.0h1.6v1.6h-1.6zM540.1 820.5h1.6v1.6h-1.6zM538.8 816.7h1.6v1.6h-1.6zM539.6 816.1h1.6v1.6h-1.6zM539.5 816.2h1.6v1.6h-1.6zM541.3 814.9h1.6v1.6h-1.6zM541.7 811.5h1.6v1.6h-1.6zM540.2 814.4h1.6v1.6h-1.6zM540.3 811.0h1.6v1.6h-1.6zM541.7 807.1h1.6v1.6h-1.6zM540.3 808.5h1.6v1.6h-1.6zM541.4 804.3h1.6v1.6h-1.6zM540.5 803.1h1.6v1.6h-1.6zM540.9 799.8h1.6v1.6h-1.6zM542.6 799.5h1.6v1.6h-1.6zM540.8 798.5h1.6v1.6h-1.6zM542.1 795.6h1.6v1.6h-1.6zM541.3 796.4h1.6v1.6h-1.6zM541.4 792.6h1.6v1.6h-1.6zM541.4 790.4h1.6v1.6h-1.6zM542.0 789.9h1.6v1.6h-1.6zM541.7 788.0h1.6v1.6h-1.6zM541.4 786.6h1.6v1.6h-1.6zM541.1 785.7h1.6v1.6h-1.6zM541.0 782.8h1.6v1.6h-1.6zM541.5 780.9h1.6v1.6h-1.6zM543.1 780.5h1.6v1.6h-1.6zM541.5 779.9h1.6v1.6h-1.6zM541.9 776.6h1.6v1.6h-1.6zM543.8 774.7h1.6v1.6h-1.6zM542.4 771.7h1.6v1.6h-1.6zM542.5 771.3h1.6v1.6h-1.6zM543.5 770.4h1.6v1.6h-1.6zM542.8 768.4h1.6v1.6h-1.6zM543.7 765.6h1.6v1.6h-1.6zM542.7 764.8h1.6v1.6h-1.6zM544.0 764.4h1.6v1.6h-1.6zM543.5 760.6h1.6v1.6h-1.6zM544.2 760.0h1.6v1.6h-1.6zM544.4 759.0h1.6v1.6h-1.6zM543.0 756.5h1.6v1.6h-1.6zM543.8 753.9h1.6v1.6h-1.6zM543.1 754.0h1.6v1.6h-1.6zM545.2 752.0h1.6v1.6h-1.6zM543.8 750.6h1.6v1.6h-1.6zM544.2 746.7h1.6v1.6h-1.6zM545.3 746.0h1.6v1.6h-1.6zM544.3 742.7h1.6v1.6h-1.6zM543.6 742.4h1.6v1.6h-1.6zM546.1 739.5h1.6v1.6h-1.6zM544.1 738.6h1.6v1.6h-1.6zM544.6 738.0h1.6v1.6h-1.6zM545.0 736.5h1.6v1.6h-1.6zM545.3 733.3h1.6v1.6h-1.6zM545.0 733.8h1.6v1.6h-1.6zM546.5 729.5h1.6v1.6h-1.6zM546.3 728.7h1.6v1.6h-1.6zM545.9 728.3h1.6v1.6h-1.6zM546.4 727.8h1.6v1.6h-1.6zM548.0 726.5h1.6v1.6h-1.6zM546.7 721.4h1.6v1.6h-1.6zM548.0 721.4h1.6v1.6h-1.6zM547.5 721.5h1.6v1.6h-1.6zM548.2 719.1h1.6v1.6h-1.6zM547.4 717.8h1.6v1.6h-1.6zM548.8 714.9h1.6v1.6h-1.6zM547.1 713.0h1.6v1.6h-1.6zM549.1 711.6h1.6v1.6h-1.6zM549.3 709.2h1.6v1.6h-1.6zM549.6 708.4h1.6v1.6h-1.6zM548.3 708.4h1.6v1.6h-1.6zM548.3 704.3h1.6v1.6h-1.6zM548.2 705.0h1.6v1.6h-1.6zM548.8 702.2h1.6v1.6h-1.6zM549.7 698.8h1.6v1.6h-1.6zM549.1 696.6h1.6v1.6h-1.6zM550.0 698.0h1.6v1.6h-1.6zM549.0 695.2h1.6v1.6h-1.6zM550.1 692.3h1.6v1.6h-1.6zM548.8 691.4h1.6v1.6h-1.6zM549.9 688.7h1.6v1.6h-1.6zM550.0 689.5h1.6v1.6h-1.6zM549.5 691.1h1.6v1.6h-1.6zM549.8 687.5h1.6v1.6h-1.6zM549.1 689.6h1.6v1.6h-1.6zM551.4 691.0h1.6v1.6h-1.6zM550.5 686.5h1.6v1.6h-1.6zM551.4 685.6h1.6v1.6h-1.6zM549.8 686.4h1.6v1.6h-1.6zM549.7 683.7h1.6v1.6h-1.6zM549.6 684.7h1.6v1.6h-1.6zM550.5 685.6h1.6v1.6h-1.6zM551.9 685.1h1.6v1.6h-1.6zM551.2 682.1h1.6v1.6h-1.6zM550.4 685.4h1.6v1.6h-1.6zM550.1 681.1h1.6v1.6h-1.6zM551.1 680.4h1.6v1.6h-1.6zM552.7 685.1h1.6v1.6h-1.6zM551.5 681.4h1.6v1.6h-1.6zM553.2 683.0h1.6v1.6h-1.6zM553.3 679.0h1.6v1.6h-1.6zM552.1 680.8h1.6v1.6h-1.6zM553.9 679.9h1.6v1.6h-1.6zM553.9 682.5h1.6v1.6h-1.6zM554.9 683.5h1.6v1.6h-1.6zM554.7 683.4h1.6v1.6h-1.6zM553.3 681.0h1.6v1.6h-1.6zM555.0 685.2h1.6v1.6h-1.6zM555.4 681.7h1.6v1.6h-1.6zM556.2 686.6h1.6v1.6h-1.6zM556.8 682.3h1.6v1.6h-1.6zM556.2 684.7h1.6v1.6h-1.6zM556.2 686.9h1.6v1.6h-1.6zM556.4 682.7h1.6v1.6h-1.6zM557.9 686.6h1.6v1.6h-1.6zM557.0 683.1h1.6v1.6h-1.6zM557.6 685.9h1.6v1.6h-1.6zM557.7 682.0h1.6v1.6h-1.6zM558.1 684.2h1.6v1.6h-1.6zM559.9 683.5h1.6v1.6h-1.6zM559.8 686.1h1.6v1.6h-1.6zM560.9 680.7h1.6v1.6h-1.6zM559.8 685.4h1.6v1.6h-1.6zM561.4 680.1h1.6v1.6h-1.6zM560.0 680.8h1.6v1.6h-1.6zM561.9 681.1h1.6v1.6h-1.6zM563.7 678.8h1.6v1.6h-1.6zM562.3 682.9h1.6v1.6h-1.6zM562.4 683.4h1.6v1.6h-1.6zM562.2 682.7h1.6v1.6h-1.6zM562.0 679.2h1.6v1.6h-1.6zM563.7 682.6h1.6v1.6h-1.6zM564.9 681.4h1.6v1.6h-1.6zM564.9 676.5h1.6v1.6h-1.6zM562.6 679.7h1.6v1.6h-1.6zM564.4 676.1h1.6v1.6h-1.6zM562.8 679.5h1.6v1.6h-1.6zM564.9 677.5h1.6v1.6h-1.6zM563.4 673.6h1.6v1.6h-1.6zM562.8 674.9h1.6v1.6h-1.6zM562.7 677.3h1.6v1.6h-1.6zM564.5 675.6h1.6v1.6h-1.6zM565.6 671.8h1.6v1.6h-1.6zM565.6 671.2h1.6v1.6h-1.6zM565.5 674.8h1.6v1.6h-1.6zM565.3 670.4h1.6v1.6h-1.6zM565.2 670.8h1.6v1.6h-1.6zM563.6 673.5h1.6v1.6h-1.6zM565.1 671.0h1.6v1.6h-1.6zM564.5 670.8h1.6v1.6h-1.6zM564.2 668.9h1.6v1.6h-1.6zM565.5 667.1h1.6v1.6h-1.6zM564.1 668.5h1.6v1.6h-1.6zM565.3 669.2h1.6v1.6h-1.6zM566.7 670.3h1.6v1.6h-1.6zM564.8 666.3h1.6v1.6h-1.6zM565.0 665.3h1.6v1.6h-1.6zM566.5 666.1h1.6v1.6h-1.6zM566.1 667.1h1.6v1.6h-1.6zM564.6 663.5h1.6v1.6h-1.6zM564.8 665.3h1.6v1.6h-1.6zM566.0 663.1h1.6v1.6h-1.6zM566.2 664.0h1.6v1.6h-1.6zM565.6 662.2h1.6v1.6h-1.6zM565.1 662.7h1.6v1.6h-1.6zM567.8 662.0h1.6v1.6h-1.6zM567.4 658.5h1.6v1.6h-1.6zM566.5 658.1h1.6v1.6h-1.6zM566.2 656.4h1.6v1.6h-1.6zM567.9 655.2h1.6v1.6h-1.6zM567.3 656.9h1.6v1.6h-1.6zM567.1 656.2h1.6v1.6h-1.6zM567.2 655.0h1.6v1.6h-1.6zM568.4 652.4h1.6v1.6h-1.6zM567.3 650.6h1.6v1.6h-1.6zM566.0 650.0h1.6v1.6h-1.6zM568.6 649.1h1.6v1.6h-1.6zM568.6 648.0h1.6v1.6h-1.6zM566.9 648.6h1.6v1.6h-1.6zM567.4 649.0h1.6v1.6h-1.6zM566.7 645.6h1.6v1.6h-1.6zM567.6 643.6h1.6v1.6h-1.6zM569.4 645.8h1.6v1.6h-1.6zM569.3 641.6h1.6v1.6h-1.6zM568.6 640.8h1.6v1.6h-1.6zM567.6 641.5h1.6v1.6h-1.6zM568.9 639.8h1.6v1.6h-1.6zM570.0 640.2h1.6v1.6h-1.6zM569.1 636.8h1.6v1.6h-1.6zM568.1 635.2h1.6v1.6h-1.6zM568.5 636.9h1.6v1.6h-1.6zM568.2 637.3h1.6v1.6h-1.6zM570.3 635.7h1.6v1.6h-1.6zM568.9 634.2h1.6v1.6h-1.6zM571.0 634.4h1.6v1.6h-1.6zM570.0 632.0h1.6v1.6h-1.6zM572.0 628.3h1.6v1.6h-1.6zM569.9 629.2h1.6v1.6h-1.6zM569.9 628.3h1.6v1.6h-1.6zM569.9 628.2h1.6v1.6h-1.6zM571.5 624.8h1.6v1.6h-1.6zM571.2 626.2h1.6v1.6h-1.6zM571.2 625.0h1.6v1.6h-1.6zM572.4 622.0h1.6v1.6h-1.6zM571.2 623.3h1.6v1.6h-1.6zM571.4 622.5h1.6v1.6h-1.6zM571.0 621.0h1.6v1.6h-1.6zM571.5 618.5h1.6v1.6h-1.6zM571.5 620.4h1.6v1.6h-1.6zM572.1 616.0h1.6v1.6h-1.6zM572.9 618.4h1.6v1.6h-1.6zM573.2 616.3h1.6v1.6h-1.6zM572.7 612.8h1.6v1.6h-1.6zM574.8 615.1h1.6v1.6h-1.6zM573.1 612.0h1.6v1.6h-1.6zM576.0 611.6h1.6v1.6h-1.6zM573.8 612.7h1.6v1.6h-1.6zM574.6 608.9h1.6v1.6h-1.6zM575.9 609.8h1.6v1.6h-1.6zM575.0 607.8h1.6v1.6h-1.6zM576.0 605.8h1.6v1.6h-1.6zM575.5 606.1h1.6v1.6h-1.6zM575.4 605.8h1.6v1.6h-1.6zM578.2 603.1h1.6v1.6h-1.6zM577.0 604.1h1.6v1.6h-1.6zM576.7 603.5h1.6v1.6h-1.6zM577.2 602.2h1.6v1.6h-1.6zM578.4 602.3h1.6v1.6h-1.6zM577.8 601.5h1.6v1.6h-1.6zM579.1 599.2h1.6v1.6h-1.6zM580.8 598.6h1.6v1.6h-1.6zM582.0 597.0h1.6v1.6h-1.6zM582.0 597.4h1.6v1.6h-1.6zM580.4 595.4h1.6v1.6h-1.6zM581.3 594.7h1.6v1.6h-1.6zM582.3 594.0h1.6v1.6h-1.6zM582.6 593.7h1.6v1.6h-1.6zM581.8 589.7h1.6v1.6h-1.6zM584.6 589.9h1.6v1.6h-1.6zM582.4 588.2h1.6v1.6h-1.6zM583.2 587.2h1.6v1.6h-1.6zM584.9 588.9h1.6v1.6h-1.6zM584.1 586.5h1.6v1.6h-1.6zM584.9 585.3h1.6v1.6h-1.6zM585.4 586.6h1.6v1.6h-1.6zM586.6 585.2h1.6v1.6h-1.6zM585.1 583.8h1.6v1.6h-1.6zM586.1 581.8h1.6v1.6h-1.6zM674.5 485.4h1.6v1.6h-1.6zM677.5 485.6h1.6v1.6h-1.6zM675.5 489.4h1.6v1.6h-1.6zM674.8 487.5h1.6v1.6h-1.6zM677.9 489.9h1.6v1.6h-1.6zM675.2 482.3h1.6v1.6h-1.6zM678.3 489.9h1.6v1.6h-1.6zM675.8 486.0h1.6v1.6h-1.6zM679.1 484.2h1.6v1.6h-1.6zM678.5 486.9h1.6v1.6h-1.6zM680.2 486.6h1.6v1.6h-1.6zM679.9 491.6h1.6v1.6h-1.6zM680.0 484.9h1.6v1.6h-1.6zM681.4 492.4h1.6v1.6h-1.6zM680.1 490.4h1.6v1.6h-1.6zM681.9 488.6h1.6v1.6h-1.6zM680.3 493.4h1.6v1.6h-1.6zM680.8 494.5h1.6v1.6h-1.6zM681.1 489.8h1.6v1.6h-1.6zM681.6 492.9h1.6v1.6h-1.6zM680.2 490.9h1.6v1.6h-1.6zM680.4 487.0h1.6v1.6h-1.6zM680.0 486.2h1.6v1.6h-1.6zM683.0 490.5h1.6v1.6h-1.6zM681.6 487.8h1.6v1.6h-1.6zM683.6 485.6h1.6v1.6h-1.6zM681.0 483.2h1.6v1.6h-1.6zM681.5 490.2h1.6v1.6h-1.6zM681.1 487.2h1.6v1.6h-1.6zM681.6 487.9h1.6v1.6h-1.6zM685.6 481.1h1.6v1.6h-1.6zM684.8 482.1h1.6v1.6h-1.6zM682.1 488.1h1.6v1.6h-1.6zM684.2 487.7h1.6v1.6h-1.6zM683.4 486.4h1.6v1.6h-1.6zM682.9 483.5h1.6v1.6h-1.6zM684.2 481.1h1.6v1.6h-1.6zM685.1 485.5h1.6v1.6h-1.6zM685.3 477.9h1.6v1.6h-1.6zM686.7 484.7h1.6v1.6h-1.6zM684.7 482.0h1.6v1.6h-1.6zM684.9 478.0h1.6v1.6h-1.6zM687.3 482.0h1.6v1.6h-1.6zM687.3 476.2h1.6v1.6h-1.6zM688.6 479.4h1.6v1.6h-1.6zM685.9 483.5h1.6v1.6h-1.6zM685.1 477.6h1.6v1.6h-1.6zM686.1 479.5h1.6v1.6h-1.6zM686.5 476.7h1.6v1.6h-1.6zM688.7 481.9h1.6v1.6h-1.6zM689.8 476.3h1.6v1.6h-1.6zM691.0 476.7h1.6v1.6h-1.6zM690.7 480.3h1.6v1.6h-1.6zM690.7 479.9h1.6v1.6h-1.6zM689.7 479.7h1.6v1.6h-1.6zM690.4 478.2h1.6v1.6h-1.6zM691.2 481.4h1.6v1.6h-1.6zM691.6 480.5h1.6v1.6h-1.6zM691.9 475.3h1.6v1.6h-1.6zM693.0 476.8h1.6v1.6h-1.6zM692.3 477.0h1.6v1.6h-1.6zM693.5 479.3h1.6v1.6h-1.6zM696.5 484.5h1.6v1.6h-1.6zM693.2 479.8h1.6v1.6h-1.6zM695.0 480.6h1.6v1.6h-1.6zM695.7 480.1h1.6v1.6h-1.6zM696.7 476.2h1.6v1.6h-1.6zM694.6 478.2h1.6v1.6h-1.6zM697.5 478.6h1.6v1.6h-1.6zM695.2 474.8h1.6v1.6h-1.6zM695.9 480.9h1.6v1.6h-1.6zM696.4 474.1h1.6v1.6h-1.6zM696.1 473.9h1.6v1.6h-1.6zM698.6 471.9h1.6v1.6h-1.6zM698.8 478.9h1.6v1.6h-1.6zM698.2 474.9h1.6v1.6h-1.6zM697.8 471.4h1.6v1.6h-1.6zM698.8 476.0h1.6v1.6h-1.6zM699.9 470.0h1.6v1.6h-1.6zM698.2 471.7h1.6v1.6h-1.6zM698.8 473.4h1.6v1.6h-1.6zM697.7 471.3h1.6v1.6h-1.6zM699.4 471.0h1.6v1.6h-1.6zM699.4 471.4h1.6v1.6h-1.6zM700.2 469.8h1.6v1.6h-1.6zM697.5 471.7h1.6v1.6h-1.6zM698.6 465.9h1.6v1.6h-1.6zM701.4 474.1h1.6v1.6h-1.6zM700.4 466.2h1.6v1.6h-1.6zM700.9 472.8h1.6v1.6h-1.6zM698.5 464.9h1.6v1.6h-1.6zM700.4 464.7h1.6v1.6h-1.6zM701.8 468.6h1.6v1.6h-1.6zM699.4 463.8h1.6v1.6h-1.6zM702.4 466.9h1.6v1.6h-1.6zM702.6 465.8h1.6v1.6h-1.6zM700.0 461.1h1.6v1.6h-1.6zM701.2 465.0h1.6v1.6h-1.6zM701.6 463.5h1.6v1.6h-1.6zM702.4 460.5h1.6v1.6h-1.6zM701.6 468.3h1.6v1.6h-1.6zM701.1 463.4h1.6v1.6h-1.6zM704.1 460.8h1.6v1.6h-1.6zM700.8 465.6h1.6v1.6h-1.6zM700.8 465.7h1.6v1.6h-1.6zM701.3 469.6h1.6v1.6h-1.6zM703.3 466.5h1.6v1.6h-1.6zM701.3 467.1h1.6v1.6h-1.6zM703.7 466.0h1.6v1.6h-1.6zM705.2 463.4h1.6v1.6h-1.6zM702.5 466.9h1.6v1.6h-1.6zM702.0 464.2h1.6v1.6h-1.6zM702.8 471.4h1.6v1.6h-1.6zM703.5 465.2h1.6v1.6h-1.6zM705.0 470.2h1.6v1.6h-1.6zM704.8 473.1h1.6v1.6h-1.6zM705.6 470.0h1.6v1.6h-1.6zM705.8 472.4h1.6v1.6h-1.6zM705.1 469.4h1.6v1.6h-1.6zM705.6 472.1h1.6v1.6h-1.6zM706.7 469.7h1.6v1.6h-1.6zM705.1 474.3h1.6v1.6h-1.6zM706.3 477.9h1.6v1.6h-1.6zM707.1 476.8h1.6v1.6h-1.6zM705.0 470.6h1.6v1.6h-1.6zM706.9 477.6h1.6v1.6h-1.6zM705.8 475.0h1.6v1.6h-1.6zM705.9 474.4h1.6v1.6h-1.6zM707.4 472.9h1.6v1.6h-1.6zM706.4 476.8h1.6v1.6h-1.6zM705.5 476.6h1.6v1.6h-1.6zM707.5 474.2h1.6v1.6h-1.6zM707.8 473.4h1.6v1.6h-1.6zM706.8 473.3h1.6v1.6h-1.6zM707.0 473.8h1.6v1.6h-1.6zM708.3 470.1h1.6v1.6h-1.6zM709.5 475.8h1.6v1.6h-1.6zM710.1 470.7h1.6v1.6h-1.6zM710.8 468.5h1.6v1.6h-1.6zM709.7 469.7h1.6v1.6h-1.6zM710.4 469.2h1.6v1.6h-1.6zM710.7 467.8h1.6v1.6h-1.6zM709.1 471.1h1.6v1.6h-1.6zM709.0 474.0h1.6v1.6h-1.6zM711.3 473.1h1.6v1.6h-1.6zM711.7 472.4h1.6v1.6h-1.6zM710.8 466.4h1.6v1.6h-1.6zM710.1 464.9h1.6v1.6h-1.6zM713.2 470.2h1.6v1.6h-1.6zM711.2 466.8h1.6v1.6h-1.6zM710.8 463.2h1.6v1.6h-1.6zM711.0 465.9h1.6v1.6h-1.6zM713.5 469.9h1.6v1.6h-1.6zM712.7 464.9h1.6v1.6h-1.6zM713.5 460.4h1.6v1.6h-1.6zM714.5 462.7h1.6v1.6h-1.6zM713.4 463.8h1.6v1.6h-1.6zM714.9 463.4h1.6v1.6h-1.6zM713.3 460.2h1.6v1.6h-1.6zM715.0 466.4h1.6v1.6h-1.6zM713.3 461.9h1.6v1.6h-1.6zM715.2 461.5h1.6v1.6h-1.6zM713.5 462.2h1.6v1.6h-1.6zM713.4 460.8h1.6v1.6h-1.6zM716.2 460.0h1.6v1.6h-1.6zM715.9 458.2h1.6v1.6h-1.6zM717.9 462.7h1.6v1.6h-1.6zM714.5 459.3h1.6v1.6h-1.6zM715.9 459.4h1.6v1.6h-1.6zM718.5 453.9h1.6v1.6h-1.6zM716.1 459.2h1.6v1.6h-1.6zM718.8 454.9h1.6v1.6h-1.6zM717.0 456.6h1.6v1.6h-1.6zM716.7 459.7h1.6v1.6h-1.6zM718.3 454.7h1.6v1.6h-1.6zM718.2 455.7h1.6v1.6h-1.6zM718.7 457.4h1.6v1.6h-1.6zM720.8 456.7h1.6v1.6h-1.6zM721.6 455.3h1.6v1.6h-1.6zM720.8 453.3h1.6v1.6h-1.6zM720.2 451.8h1.6v1.6h-1.6zM722.0 450.1h1.6v1.6h-1.6zM720.6 455.6h1.6v1.6h-1.6zM719.4 452.1h1.6v1.6h-1.6zM720.9 455.3h1.6v1.6h-1.6zM721.6 456.6h1.6v1.6h-1.6zM720.9 456.5h1.6v1.6h-1.6zM724.5 455.7h1.6v1.6h-1.6zM723.3 448.9h1.6v1.6h-1.6zM722.2 455.0h1.6v1.6h-1.6zM724.8 453.6h1.6v1.6h-1.6zM724.5 449.9h1.6v1.6h-1.6zM726.2 455.7h1.6v1.6h-1.6zM727.8 449.8h1.6v1.6h-1.6zM725.1 449.9h1.6v1.6h-1.6zM728.1 454.3h1.6v1.6h-1.6zM728.5 454.2h1.6v1.6h-1.6zM727.6 445.3h1.6v1.6h-1.6zM727.0 452.8h1.6v1.6h-1.6zM728.4 445.9h1.6v1.6h-1.6zM727.6 448.0h1.6v1.6h-1.6zM729.8 445.2h1.6v1.6h-1.6zM726.9 445.8h1.6v1.6h-1.6zM728.4 452.3h1.6v1.6h-1.6zM728.9 454.3h1.6v1.6h-1.6zM728.6 448.9h1.6v1.6h-1.6zM729.9 448.3h1.6v1.6h-1.6zM730.5 450.3h1.6v1.6h-1.6zM731.1 453.3h1.6v1.6h-1.6zM728.3 450.6h1.6v1.6h-1.6zM730.4 451.2h1.6v1.6h-1.6zM728.4 452.6h1.6v1.6h-1.6zM728.8 454.3h1.6v1.6h-1.6zM731.9 455.0h1.6v1.6h-1.6zM731.1 453.7h1.6v1.6h-1.6zM732.3 459.9h1.6v1.6h-1.6zM730.5 453.3h1.6v1.6h-1.6zM729.4 454.3h1.6v1.6h-1.6zM729.1 458.5h1.6v1.6h-1.6zM731.4 458.1h1.6v1.6h-1.6zM729.6 455.8h1.6v1.6h-1.6zM729.1 463.0h1.6v1.6h-1.6zM730.5 462.1h1.6v1.6h-1.6zM732.7 460.9h1.6v1.6h-1.6zM731.1 456.7h1.6v1.6h-1.6zM729.6 462.3h1.6v1.6h-1.6zM731.7 457.7h1.6v1.6h-1.6zM732.4 463.8h1.6v1.6h-1.6zM733.8 462.3h1.6v1.6h-1.6zM733.5 461.0h1.6v1.6h-1.6zM730.4 458.2h1.6v1.6h-1.6zM731.8 458.1h1.6v1.6h-1.6zM730.9 457.4h1.6v1.6h-1.6zM730.5 458.2h1.6v1.6h-1.6zM733.5 453.6h1.6v1.6h-1.6zM734.3 455.8h1.6v1.6h-1.6zM733.1 452.8h1.6v1.6h-1.6zM731.2 455.5h1.6v1.6h-1.6zM731.8 459.0h1.6v1.6h-1.6zM734.5 453.9h1.6v1.6h-1.6zM732.7 452.4h1.6v1.6h-1.6zM734.9 457.7h1.6v1.6h-1.6zM733.5 454.4h1.6v1.6h-1.6zM734.1 452.8h1.6v1.6h-1.6zM731.6 456.1h1.6v1.6h-1.6zM733.1 452.3h1.6v1.6h-1.6zM735.7 449.4h1.6v1.6h-1.6zM733.5 451.5h1.6v1.6h-1.6zM733.1 452.6h1.6v1.6h-1.6zM735.8 448.5h1.6v1.6h-1.6zM734.0 450.4h1.6v1.6h-1.6zM734.8 446.0h1.6v1.6h-1.6zM733.2 447.0h1.6v1.6h-1.6zM732.7 447.4h1.6v1.6h-1.6zM735.1 452.0h1.6v1.6h-1.6zM736.1 450.0h1.6v1.6h-1.6zM733.4 448.2h1.6v1.6h-1.6zM735.0 451.0h1.6v1.6h-1.6zM734.5 447.5h1.6v1.6h-1.6zM735.2 441.8h1.6v1.6h-1.6zM733.6 441.0h1.6v1.6h-1.6zM733.6 447.2h1.6v1.6h-1.6zM734.2 448.4h1.6v1.6h-1.6zM736.2 443.1h1.6v1.6h-1.6zM736.5 445.2h1.6v1.6h-1.6zM734.1 438.5h1.6v1.6h-1.6zM737.2 441.3h1.6v1.6h-1.6zM736.3 445.2h1.6v1.6h-1.6zM737.3 437.3h1.6v1.6h-1.6zM737.8 437.0h1.6v1.6h-1.6zM736.1 439.0h1.6v1.6h-1.6zM737.1 438.5h1.6v1.6h-1.6zM737.5 436.7h1.6v1.6h-1.6zM738.0 436.7h1.6v1.6h-1.6zM737.0 436.0h1.6v1.6h-1.6zM737.8 442.0h1.6v1.6h-1.6zM737.7 436.3h1.6v1.6h-1.6zM736.0 440.6h1.6v1.6h-1.6zM738.9 435.6h1.6v1.6h-1.6zM736.2 432.4h1.6v1.6h-1.6zM738.9 431.3h1.6v1.6h-1.6zM738.3 436.3h1.6v1.6h-1.6zM738.4 436.6h1.6v1.6h-1.6zM737.0 430.3h1.6v1.6h-1.6zM736.5 438.2h1.6v1.6h-1.6zM739.0 434.4h1.6v1.6h-1.6zM739.4 431.7h1.6v1.6h-1.6zM740.3 432.6h1.6v1.6h-1.6zM739.3 433.3h1.6v1.6h-1.6zM741.3 432.1h1.6v1.6h-1.6zM740.3 430.4h1.6v1.6h-1.6zM740.0 432.3h1.6v1.6h-1.6zM739.2 427.5h1.6v1.6h-1.6zM740.4 432.1h1.6v1.6h-1.6zM741.7 427.8h1.6v1.6h-1.6zM739.4 428.4h1.6v1.6h-1.6zM741.8 429.1h1.6v1.6h-1.6zM740.5 423.5h1.6v1.6h-1.6zM738.8 430.7h1.6v1.6h-1.6zM741.9 425.8h1.6v1.6h-1.6zM741.2 421.5h1.6v1.6h-1.6zM741.0 428.8h1.6v1.6h-1.6zM742.1 429.3h1.6v1.6h-1.6zM741.4 420.4h1.6v1.6h-1.6zM740.5 422.1h1.6v1.6h-1.6zM741.3 420.1h1.6v1.6h-1.6zM740.2 424.0h1.6v1.6h-1.6zM740.5 421.2h1.6v1.6h-1.6zM742.7 427.1h1.6v1.6h-1.6zM744.0 427.6h1.6v1.6h-1.6zM743.2 428.0h1.6v1.6h-1.6zM741.9 425.5h1.6v1.6h-1.6zM741.9 428.9h1.6v1.6h-1.6zM742.0 423.1h1.6v1.6h-1.6zM741.6 425.2h1.6v1.6h-1.6zM742.9 430.5h1.6v1.6h-1.6zM743.3 427.6h1.6v1.6h-1.6zM743.0 423.4h1.6v1.6h-1.6zM743.7 430.4h1.6v1.6h-1.6zM743.1 427.3h1.6v1.6h-1.6zM744.3 424.9h1.6v1.6h-1.6zM745.1 431.1h1.6v1.6h-1.6zM745.0 429.2h1.6v1.6h-1.6zM744.3 427.0h1.6v1.6h-1.6zM746.3 428.1h1.6v1.6h-1.6zM745.3 434.0h1.6v1.6h-1.6zM744.3 434.0h1.6v1.6h-1.6zM744.2 428.4h1.6v1.6h-1.6zM745.0 435.9h1.6v1.6h-1.6zM743.2 437.6h1.6v1.6h-1.6zM745.1 438.2h1.6v1.6h-1.6zM745.0 437.6h1.6v1.6h-1.6zM744.3 433.7h1.6v1.6h-1.6zM746.4 439.8h1.6v1.6h-1.6zM744.3 437.6h1.6v1.6h-1.6zM744.5 432.9h1.6v1.6h-1.6zM746.2 438.2h1.6v1.6h-1.6zM746.4 435.4h1.6v1.6h-1.6zM745.9 433.7h1.6v1.6h-1.6zM744.5 437.7h1.6v1.6h-1.6zM745.2 438.1h1.6v1.6h-1.6zM745.8 435.9h1.6v1.6h-1.6zM748.3 443.7h1.6v1.6h-1.6zM747.5 437.3h1.6v1.6h-1.6zM745.3 442.4h1.6v1.6h-1.6zM748.6 445.7h1.6v1.6h-1.6zM746.8 444.5h1.6v1.6h-1.6zM746.4 444.6h1.6v1.6h-1.6zM748.6 445.0h1.6v1.6h-1.6zM748.5 439.7h1.6v1.6h-1.6zM746.1 445.0h1.6v1.6h-1.6zM747.3 443.4h1.6v1.6h-1.6zM749.4 447.2h1.6v1.6h-1.6zM748.3 446.5h1.6v1.6h-1.6zM746.0 446.7h1.6v1.6h-1.6zM746.3 448.6h1.6v1.6h-1.6zM748.6 448.8h1.6v1.6h-1.6zM746.9 448.4h1.6v1.6h-1.6zM748.4 448.6h1.6v1.6h-1.6zM746.5 446.8h1.6v1.6h-1.6zM748.8 448.8h1.6v1.6h-1.6zM750.2 446.8h1.6v1.6h-1.6zM748.7 446.5h1.6v1.6h-1.6zM747.2 453.5h1.6v1.6h-1.6zM749.3 448.3h1.6v1.6h-1.6zM749.0 453.9h1.6v1.6h-1.6zM750.6 450.1h1.6v1.6h-1.6zM750.2 453.1h1.6v1.6h-1.6zM747.8 451.5h1.6v1.6h-1.6zM750.4 454.4h1.6v1.6h-1.6zM750.1 457.6h1.6v1.6h-1.6zM751.1 458.3h1.6v1.6h-1.6zM750.6 455.6h1.6v1.6h-1.6zM749.3 457.7h1.6v1.6h-1.6zM749.2 457.9h1.6v1.6h-1.6zM749.6 458.8h1.6v1.6h-1.6zM750.6 452.7h1.6v1.6h-1.6zM748.6 451.5h1.6v1.6h-1.6zM750.3 450.9h1.6v1.6h-1.6zM750.7 453.8h1.6v1.6h-1.6zM749.9 456.8h1.6v1.6h-1.6zM751.3 449.2h1.6v1.6h-1.6zM749.7 456.9h1.6v1.6h-1.6zM751.3 451.3h1.6v1.6h-1.6zM748.1 455.6h1.6v1.6h-1.6zM748.1 450.9h1.6v1.6h-1.6zM748.6 453.4h1.6v1.6h-1.6zM749.0 453.6h1.6v1.6h-1.6zM749.3 448.0h1.6v1.6h-1.6zM751.8 451.8h1.6v1.6h-1.6zM749.1 447.8h1.6v1.6h-1.6zM749.7 447.1h1.6v1.6h-1.6zM751.1 445.8h1.6v1.6h-1.6zM749.7 449.9h1.6v1.6h-1.6zM749.0 447.8h1.6v1.6h-1.6zM748.7 450.3h1.6v1.6h-1.6zM749.7 449.7h1.6v1.6h-1.6zM748.9 446.4h1.6v1.6h-1.6zM751.1 447.7h1.6v1.6h-1.6zM749.1 444.3h1.6v1.6h-1.6zM752.1 442.8h1.6v1.6h-1.6zM750.7 441.0h1.6v1.6h-1.6zM750.7 442.8h1.6v1.6h-1.6zM751.7 445.6h1.6v1.6h-1.6zM750.0 445.5h1.6v1.6h-1.6zM752.1 444.6h1.6v1.6h-1.6zM749.5 439.8h1.6v1.6h-1.6zM751.5 442.6h1.6v1.6h-1.6zM751.1 439.1h1.6v1.6h-1.6zM750.8 439.3h1.6v1.6h-1.6zM749.5 437.2h1.6v1.6h-1.6zM751.6 441.6h1.6v1.6h-1.6zM749.6 442.9h1.6v1.6h-1.6zM753.0 439.3h1.6v1.6h-1.6zM753.7 440.4h1.6v1.6h-1.6zM752.3 435.3h1.6v1.6h-1.6zM749.8 440.4h1.6v1.6h-1.6zM753.7 434.2h1.6v1.6h-1.6zM750.5 437.1h1.6v1.6h-1.6zM752.8 432.2h1.6v1.6h-1.6zM754.0 436.3h1.6v1.6h-1.6zM753.4 435.4h1.6v1.6h-1.6zM751.0 437.0h1.6v1.6h-1.6zM752.3 432.8h1.6v1.6h-1.6zM751.5 434.8h1.6v1.6h-1.6zM753.6 435.4h1.6v1.6h-1.6zM751.7 433.0h1.6v1.6h-1.6zM753.5 431.1h1.6v1.6h-1.6zM754.8 433.3h1.6v1.6h-1.6zM753.3 428.5h1.6v1.6h-1.6zM753.0 429.2h1.6v1.6h-1.6zM755.0 432.3h1.6v1.6h-1.6zM753.5 432.3h1.6v1.6h-1.6zM754.8 427.4h1.6v1.6h-1.6zM754.3 429.4h1.6v1.6h-1.6zM755.5 427.8h1.6v1.6h-1.6zM754.2 425.5h1.6v1.6h-1.6zM757.2 431.2h1.6v1.6h-1.6zM756.8 427.3h1.6v1.6h-1.6zM754.2 429.4h1.6v1.6h-1.6zM757.5 423.9h1.6v1.6h-1.6zM755.9 427.8h1.6v1.6h-1.6zM758.6 421.0h1.6v1.6h-1.6zM756.4 425.7h1.6v1.6h-1.6zM756.4 426.0h1.6v1.6h-1.6zM756.0 423.3h1.6v1.6h-1.6zM758.3 425.0h1.6v1.6h-1.6zM756.1 418.4h1.6v1.6h-1.6zM760.1 419.6h1.6v1.6h-1.6zM759.5 421.0h1.6v1.6h-1.6zM758.9 423.6h1.6v1.6h-1.6zM757.5 422.2h1.6v1.6h-1.6zM760.6 419.8h1.6v1.6h-1.6zM757.7 419.5h1.6v1.6h-1.6zM759.0 420.4h1.6v1.6h-1.6zM760.0 418.0h1.6v1.6h-1.6zM760.8 422.5h1.6v1.6h-1.6zM761.7 420.2h1.6v1.6h-1.6zM759.2 422.2h1.6v1.6h-1.6zM762.7 421.9h1.6v1.6h-1.6zM761.7 414.6h1.6v1.6h-1.6zM762.7 420.7h1.6v1.6h-1.6zM763.1 419.8h1.6v1.6h-1.6zM761.0 417.5h1.6v1.6h-1.6zM761.1 416.3h1.6v1.6h-1.6zM683.3 525.5h1.6v1.6h-1.6zM684.5 531.7h1.6v1.6h-1.6zM676.6 522.1h1.6v1.6h-1.6zM685.0 489.5h1.6v1.6h-1.6zM679.4 507.9h1.6v1.6h-1.6zM679.0 525.0h1.6v1.6h-1.6zM677.2 520.8h1.6v1.6h-1.6zM679.6 498.3h1.6v1.6h-1.6zM685.1 525.2h1.6v1.6h-1.6zM673.0 499.9h1.6v1.6h-1.6zM676.2 526.8h1.6v1.6h-1.6zM683.4 518.1h1.6v1.6h-1.6zM683.8 489.5h1.6v1.6h-1.6zM675.5 521.9h1.6v1.6h-1.6zM674.2 518.3h1.6v1.6h-1.6zM682.3 510.0h1.6v1.6h-1.6zM680.6 519.0h1.6v1.6h-1.6zM677.5 508.3h1.6v1.6h-1.6zM678.7 527.4h1.6v1.6h-1.6zM676.8 514.2h1.6v1.6h-1.6zM673.8 502.2h1.6v1.6h-1.6zM679.1 529.9h1.6v1.6h-1.6zM674.8 530.1h1.6v1.6h-1.6zM680.0 508.4h1.6v1.6h-1.6zM674.6 531.0h1.6v1.6h-1.6zM731.2 462.9h1.6v1.6h-1.6zM731.5 463.4h1.6v1.6h-1.6zM731.7 466.4h1.6v1.6h-1.6zM732.0 468.2h1.6v1.6h-1.6zM731.5 470.8h1.6v1.6h-1.6zM732.1 471.4h1.6v1.6h-1.6zM732.0 474.0h1.6v1.6h-1.6zM732.3 475.8h1.6v1.6h-1.6zM731.8 478.2h1.6v1.6h-1.6zM732.4 481.2h1.6v1.6h-1.6zM731.8 482.2h1.6v1.6h-1.6zM732.1 484.1h1.6v1.6h-1.6zM731.9 486.0h1.6v1.6h-1.6zM732.2 487.4h1.6v1.6h-1.6zM763.1 416.3h1.6v1.6h-1.6zM761.4 415.8h1.6v1.6h-1.6zM760.7 417.7h1.6v1.6h-1.6zM761.2 418.5h1.6v1.6h-1.6zM761.6 418.0h1.6v1.6h-1.6zM764.3 418.1h1.6v1.6h-1.6zM761.4 418.2h1.6v1.6h-1.6zM762.0 421.1h1.6v1.6h-1.6zM762.5 419.7h1.6v1.6h-1.6zM763.7 425.2h1.6v1.6h-1.6zM761.7 422.0h1.6v1.6h-1.6zM763.6 426.8h1.6v1.6h-1.6zM764.0 421.8h1.6v1.6h-1.6zM764.0 423.8h1.6v1.6h-1.6zM764.6 426.8h1.6v1.6h-1.6zM763.2 428.6h1.6v1.6h-1.6zM761.4 429.8h1.6v1.6h-1.6zM764.5 430.3h1.6v1.6h-1.6zM764.6 426.6h1.6v1.6h-1.6zM762.9 431.4h1.6v1.6h-1.6zM764.2 430.4h1.6v1.6h-1.6zM763.2 430.9h1.6v1.6h-1.6zM763.9 434.2h1.6v1.6h-1.6zM763.8 436.1h1.6v1.6h-1.6zM764.8 433.7h1.6v1.6h-1.6zM762.2 436.6h1.6v1.6h-1.6zM764.0 435.8h1.6v1.6h-1.6zM761.9 435.3h1.6v1.6h-1.6zM764.1 436.5h1.6v1.6h-1.6zM761.5 438.0h1.6v1.6h-1.6zM762.3 440.5h1.6v1.6h-1.6zM763.3 437.6h1.6v1.6h-1.6zM764.9 440.6h1.6v1.6h-1.6zM763.6 442.7h1.6v1.6h-1.6zM763.8 442.0h1.6v1.6h-1.6zM763.8 442.1h1.6v1.6h-1.6zM762.6 445.5h1.6v1.6h-1.6zM762.7 445.4h1.6v1.6h-1.6zM762.1 442.5h1.6v1.6h-1.6zM762.1 448.1h1.6v1.6h-1.6zM764.0 448.9h1.6v1.6h-1.6zM762.2 445.8h1.6v1.6h-1.6zM765.0 445.7h1.6v1.6h-1.6zM763.1 449.8h1.6v1.6h-1.6zM764.5 447.7h1.6v1.6h-1.6zM766.0 448.0h1.6v1.6h-1.6zM764.2 451.3h1.6v1.6h-1.6zM762.6 452.3h1.6v1.6h-1.6zM763.0 449.8h1.6v1.6h-1.6zM763.5 452.0h1.6v1.6h-1.6zM766.4 453.9h1.6v1.6h-1.6zM763.2 455.7h1.6v1.6h-1.6zM763.8 453.3h1.6v1.6h-1.6zM763.4 457.2h1.6v1.6h-1.6zM764.0 455.3h1.6v1.6h-1.6zM765.5 456.1h1.6v1.6h-1.6zM766.9 459.6h1.6v1.6h-1.6zM766.6 456.8h1.6v1.6h-1.6zM764.5 458.5h1.6v1.6h-1.6zM766.3 461.2h1.6v1.6h-1.6zM765.7 461.8h1.6v1.6h-1.6zM765.7 462.9h1.6v1.6h-1.6zM766.6 464.3h1.6v1.6h-1.6zM767.0 465.6h1.6v1.6h-1.6zM766.4 464.2h1.6v1.6h-1.6zM765.4 467.7h1.6v1.6h-1.6zM768.8 469.4h1.6v1.6h-1.6zM767.6 466.7h1.6v1.6h-1.6zM765.8 468.1h1.6v1.6h-1.6zM768.9 469.0h1.6v1.6h-1.6zM767.9 471.3h1.6v1.6h-1.6zM767.4 469.8h1.6v1.6h-1.6zM766.6 469.8h1.6v1.6h-1.6zM769.7 472.4h1.6v1.6h-1.6zM769.2 470.0h1.6v1.6h-1.6zM767.9 474.1h1.6v1.6h-1.6zM769.3 476.6h1.6v1.6h-1.6zM768.4 474.4h1.6v1.6h-1.6zM771.1 478.0h1.6v1.6h-1.6zM768.3 478.7h1.6v1.6h-1.6zM771.2 475.7h1.6v1.6h-1.6zM770.4 478.2h1.6v1.6h-1.6zM768.7 476.0h1.6v1.6h-1.6zM770.7 477.0h1.6v1.6h-1.6zM771.3 477.9h1.6v1.6h-1.6zM771.4 480.3h1.6v1.6h-1.6zM771.1 483.3h1.6v1.6h-1.6zM769.6 482.8h1.6v1.6h-1.6zM769.6 480.3h1.6v1.6h-1.6zM770.4 482.0h1.6v1.6h-1.6zM770.4 485.9h1.6v1.6h-1.6zM773.1 488.1h1.6v1.6h-1.6zM773.1 483.8h1.6v1.6h-1.6zM771.6 485.7h1.6v1.6h-1.6zM772.8 488.6h1.6v1.6h-1.6zM771.0 488.1h1.6v1.6h-1.6zM770.9 490.0h1.6v1.6h-1.6zM772.6 489.2h1.6v1.6h-1.6zM770.6 486.7h1.6v1.6h-1.6zM772.5 490.9h1.6v1.6h-1.6zM771.2 489.4h1.6v1.6h-1.6zM773.4 493.1h1.6v1.6h-1.6zM773.0 494.5h1.6v1.6h-1.6zM773.7 495.3h1.6v1.6h-1.6zM775.3 496.6h1.6v1.6h-1.6zM774.3 492.5h1.6v1.6h-1.6zM773.6 495.3h1.6v1.6h-1.6zM774.7 495.3h1.6v1.6h-1.6zM773.9 496.3h1.6v1.6h-1.6zM772.6 496.1h1.6v1.6h-1.6zM774.1 499.5h1.6v1.6h-1.6zM774.0 499.5h1.6v1.6h-1.6zM775.3 497.9h1.6v1.6h-1.6zM772.6 499.4h1.6v1.6h-1.6zM774.5 502.6h1.6v1.6h-1.6zM773.2 500.8h1.6v1.6h-1.6zM773.1 503.3h1.6v1.6h-1.6zM775.8 506.8h1.6v1.6h-1.6zM773.5 503.0h1.6v1.6h-1.6zM773.0 508.1h1.6v1.6h-1.6zM775.4 506.7h1.6v1.6h-1.6zM774.1 508.6h1.6v1.6h-1.6zM775.2 506.8h1.6v1.6h-1.6zM775.0 509.4h1.6v1.6h-1.6zM776.1 506.6h1.6v1.6h-1.6zM776.7 511.2h1.6v1.6h-1.6zM777.4 508.4h1.6v1.6h-1.6zM774.9 511.4h1.6v1.6h-1.6zM776.7 515.6h1.6v1.6h-1.6zM775.2 512.2h1.6v1.6h-1.6zM775.9 513.8h1.6v1.6h-1.6zM777.6 517.9h1.6v1.6h-1.6zM775.5 517.3h1.6v1.6h-1.6zM776.9 514.3h1.6v1.6h-1.6zM776.5 515.8h1.6v1.6h-1.6zM775.6 518.4h1.6v1.6h-1.6zM774.9 518.0h1.6v1.6h-1.6zM775.7 518.5h1.6v1.6h-1.6zM775.0 522.8h1.6v1.6h-1.6zM775.2 522.0h1.6v1.6h-1.6zM777.7 522.7h1.6v1.6h-1.6zM775.6 519.5h1.6v1.6h-1.6zM777.6 521.9h1.6v1.6h-1.6zM775.2 522.1h1.6v1.6h-1.6zM775.4 527.7h1.6v1.6h-1.6zM774.9 527.7h1.6v1.6h-1.6zM777.0 525.3h1.6v1.6h-1.6zM775.0 524.0h1.6v1.6h-1.6zM778.6 528.8h1.6v1.6h-1.6zM775.8 525.9h1.6v1.6h-1.6zM776.7 527.4h1.6v1.6h-1.6zM777.2 530.0h1.6v1.6h-1.6zM777.6 528.5h1.6v1.6h-1.6zM777.2 531.2h1.6v1.6h-1.6zM775.1 531.1h1.6v1.6h-1.6zM777.5 533.1h1.6v1.6h-1.6zM777.9 532.4h1.6v1.6h-1.6zM775.8 536.1h1.6v1.6h-1.6zM778.4 537.1h1.6v1.6h-1.6zM777.4 535.9h1.6v1.6h-1.6zM776.2 538.5h1.6v1.6h-1.6zM777.9 540.7h1.6v1.6h-1.6zM776.6 541.2h1.6v1.6h-1.6zM777.7 542.0h1.6v1.6h-1.6zM775.5 539.0h1.6v1.6h-1.6zM777.3 539.4h1.6v1.6h-1.6zM778.2 543.2h1.6v1.6h-1.6zM777.3 540.1h1.6v1.6h-1.6zM779.7 544.7h1.6v1.6h-1.6zM776.5 543.1h1.6v1.6h-1.6zM776.9 547.6h1.6v1.6h-1.6zM779.5 548.5h1.6v1.6h-1.6zM779.6 546.0h1.6v1.6h-1.6zM776.5 545.7h1.6v1.6h-1.6zM777.9 550.4h1.6v1.6h-1.6zM779.4 547.9h1.6v1.6h-1.6zM776.6 550.2h1.6v1.6h-1.6zM776.9 549.4h1.6v1.6h-1.6zM776.8 553.7h1.6v1.6h-1.6zM777.5 549.3h1.6v1.6h-1.6zM777.3 553.2h1.6v1.6h-1.6zM778.5 551.9h1.6v1.6h-1.6zM779.5 556.8h1.6v1.6h-1.6zM779.7 553.7h1.6v1.6h-1.6zM777.4 557.7h1.6v1.6h-1.6zM776.5 556.7h1.6v1.6h-1.6zM777.4 560.1h1.6v1.6h-1.6zM778.3 558.4h1.6v1.6h-1.6zM779.1 562.3h1.6v1.6h-1.6zM779.2 562.6h1.6v1.6h-1.6zM778.5 564.0h1.6v1.6h-1.6zM779.7 566.7h1.6v1.6h-1.6zM780.0 569.1h1.6v1.6h-1.6zM779.4 571.8h1.6v1.6h-1.6zM779.5 572.7h1.6v1.6h-1.6zM779.1 573.8h1.6v1.6h-1.6zM779.7 577.1h1.6v1.6h-1.6zM780.6 580.6h1.6v1.6h-1.6zM780.6 580.4h1.6v1.6h-1.6zM779.7 584.5h1.6v1.6h-1.6zM779.7 585.4h1.6v1.6h-1.6zM779.8 586.1h1.6v1.6h-1.6zM780.4 588.9h1.6v1.6h-1.6zM781.0 591.9h1.6v1.6h-1.6zM780.1 592.8h1.6v1.6h-1.6zM781.3 594.4h1.6v1.6h-1.6zM780.0 597.2h1.6v1.6h-1.6zM781.4 599.9h1.6v1.6h-1.6zM781.3 602.2h1.6v1.6h-1.6zM780.3 602.9h1.6v1.6h-1.6zM780.5 604.8h1.6v1.6h-1.6zM780.4 608.5h1.6v1.6h-1.6zM780.7 611.2h1.6v1.6h-1.6zM781.0 610.9h1.6v1.6h-1.6zM781.2 613.8h1.6v1.6h-1.6zM781.0 616.8h1.6v1.6h-1.6zM782.0 617.1h1.6v1.6h-1.6zM780.7 618.2h1.6v1.6h-1.6zM781.6 621.4h1.6v1.6h-1.6zM782.0 623.6h1.6v1.6h-1.6zM781.6 624.5h1.6v1.6h-1.6zM781.9 627.0h1.6v1.6h-1.6zM781.1 630.2h1.6v1.6h-1.6zM782.0 631.3h1.6v1.6h-1.6zM782.0 633.4h1.6v1.6h-1.6zM782.7 637.6h1.6v1.6h-1.6zM782.5 638.2h1.6v1.6h-1.6zM782.4 640.5h1.6v1.6h-1.6zM781.8 641.6h1.6v1.6h-1.6zM781.9 644.7h1.6v1.6h-1.6zM781.8 645.1h1.6v1.6h-1.6zM783.0 649.1h1.6v1.6h-1.6zM783.1 651.0h1.6v1.6h-1.6zM782.9 653.2h1.6v1.6h-1.6zM782.7 654.4h1.6v1.6h-1.6zM782.4 656.2h1.6v1.6h-1.6zM783.9 657.4h1.6v1.6h-1.6zM783.6 660.9h1.6v1.6h-1.6zM784.4 662.3h1.6v1.6h-1.6zM783.2 663.6h1.6v1.6h-1.6zM784.0 664.9h1.6v1.6h-1.6zM784.8 668.2h1.6v1.6h-1.6zM784.1 672.3h1.6v1.6h-1.6zM784.5 671.2h1.6v1.6h-1.6zM785.0 674.8h1.6v1.6h-1.6zM784.5 676.8h1.6v1.6h-1.6zM784.3 679.2h1.6v1.6h-1.6zM785.0 681.3h1.6v1.6h-1.6zM785.1 682.9h1.6v1.6h-1.6zM786.1 684.6h1.6v1.6h-1.6zM785.3 686.7h1.6v1.6h-1.6zM785.3 689.0h1.6v1.6h-1.6zM786.8 691.5h1.6v1.6h-1.6zM786.9 694.9h1.6v1.6h-1.6zM785.6 694.3h1.6v1.6h-1.6zM786.6 697.4h1.6v1.6h-1.6zM786.2 699.0h1.6v1.6h-1.6zM786.5 701.3h1.6v1.6h-1.6zM787.1 703.6h1.6v1.6h-1.6zM787.7 704.1h1.6v1.6h-1.6zM787.5 707.5h1.6v1.6h-1.6zM787.9 710.2h1.6v1.6h-1.6zM787.7 709.8h1.6v1.6h-1.6zM787.6 712.9h1.6v1.6h-1.6zM787.9 716.4h1.6v1.6h-1.6zM788.3 716.3h1.6v1.6h-1.6zM787.9 719.3h1.6v1.6h-1.6zM788.4 722.2h1.6v1.6h-1.6zM788.7 724.1h1.6v1.6h-1.6zM789.0 725.1h1.6v1.6h-1.6zM788.7 728.0h1.6v1.6h-1.6zM789.7 730.3h1.6v1.6h-1.6zM789.0 730.2h1.6v1.6h-1.6zM790.0 733.5h1.6v1.6h-1.6zM788.9 735.1h1.6v1.6h-1.6zM789.5 736.9h1.6v1.6h-1.6zM788.8 741.0h1.6v1.6h-1.6zM790.0 742.6h1.6v1.6h-1.6zM790.0 745.3h1.6v1.6h-1.6zM789.3 744.9h1.6v1.6h-1.6zM789.1 747.7h1.6v1.6h-1.6zM790.5 749.6h1.6v1.6h-1.6zM789.9 749.7h1.6v1.6h-1.6zM789.4 754.1h1.6v1.6h-1.6zM790.0 755.2h1.6v1.6h-1.6zM790.5 757.3h1.6v1.6h-1.6zM790.2 760.0h1.6v1.6h-1.6zM789.6 760.7h1.6v1.6h-1.6zM790.3 762.5h1.6v1.6h-1.6zM790.8 765.2h1.6v1.6h-1.6zM790.0 768.2h1.6v1.6h-1.6zM790.0 769.4h1.6v1.6h-1.6zM791.5 771.0h1.6v1.6h-1.6zM790.2 772.8h1.6v1.6h-1.6zM790.7 775.1h1.6v1.6h-1.6zM791.7 776.6h1.6v1.6h-1.6zM791.7 780.1h1.6v1.6h-1.6zM791.2 781.0h1.6v1.6h-1.6zM790.8 782.9h1.6v1.6h-1.6zM791.1 784.0h1.6v1.6h-1.6zM791.0 788.7h1.6v1.6h-1.6zM790.7 788.3h1.6v1.6h-1.6zM791.7 790.2h1.6v1.6h-1.6zM791.7 795.4h1.6v1.6h-1.6zM791.5 794.0h1.6v1.6h-1.6zM791.6 798.8h1.6v1.6h-1.6zM792.6 799.7h1.6v1.6h-1.6zM792.5 801.2h1.6v1.6h-1.6zM792.5 803.3h1.6v1.6h-1.6zM792.5 803.9h1.6v1.6h-1.6zM792.1 808.9h1.6v1.6h-1.6zM791.5 808.7h1.6v1.6h-1.6zM791.8 812.1h1.6v1.6h-1.6zM792.4 813.3h1.6v1.6h-1.6zM792.2 815.2h1.6v1.6h-1.6zM792.1 818.7h1.6v1.6h-1.6zM793.4 819.9h1.6v1.6h-1.6zM792.8 820.6h1.6v1.6h-1.6zM793.1 823.5h1.6v1.6h-1.6zM793.1 826.0h1.6v1.6h-1.6zM792.9 827.2h1.6v1.6h-1.6zM792.9 829.3h1.6v1.6h-1.6zM793.9 830.8h1.6v1.6h-1.6zM792.6 832.7h1.6v1.6h-1.6zM793.2 834.5h1.6v1.6h-1.6zM793.6 837.5h1.6v1.6h-1.6zM793.5 839.3h1.6v1.6h-1.6zM794.4 839.5h1.6v1.6h-1.6zM794.7 845.0h1.6v1.6h-1.6zM794.5 845.2h1.6v1.6h-1.6zM793.6 846.8h1.6v1.6h-1.6zM794.5 850.6h1.6v1.6h-1.6zM794.6 850.2h1.6v1.6h-1.6zM794.1 852.1h1.6v1.6h-1.6zM795.3 855.9h1.6v1.6h-1.6zM794.6 858.8h1.6v1.6h-1.6zM795.4 859.1h1.6v1.6h-1.6zM795.7 860.5h1.6v1.6h-1.6zM795.8 864.1h1.6v1.6h-1.6zM796.0 864.9h1.6v1.6h-1.6zM796.2 867.7h1.6v1.6h-1.6zM795.2 868.5h1.6v1.6h-1.6zM796.4 870.1h1.6v1.6h-1.6zM795.6 873.3h1.6v1.6h-1.6zM796.1 874.4h1.6v1.6h-1.6zM796.0 876.2h1.6v1.6h-1.6zM796.4 880.0h1.6v1.6h-1.6zM924.2 879.9h1.6v1.6h-1.6zM924.4 877.6h1.6v1.6h-1.6zM924.2 878.0h1.6v1.6h-1.6zM924.4 875.2h1.6v1.6h-1.6zM925.1 873.5h1.6v1.6h-1.6zM924.5 872.2h1.6v1.6h-1.6zM925.5 871.1h1.6v1.6h-1.6zM925.7 867.8h1.6v1.6h-1.6zM925.4 865.5h1.6v1.6h-1.6zM925.1 865.9h1.6v1.6h-1.6zM925.6 864.6h1.6v1.6h-1.6zM926.1 862.6h1.6v1.6h-1.6zM925.0 861.0h1.6v1.6h-1.6zM926.2 859.0h1.6v1.6h-1.6zM925.2 858.2h1.6v1.6h-1.6zM926.0 853.6h1.6v1.6h-1.6zM926.4 852.9h1.6v1.6h-1.6zM926.5 851.9h1.6v1.6h-1.6zM925.6 849.5h1.6v1.6h-1.6zM926.0 849.6h1.6v1.6h-1.6zM926.9 846.5h1.6v1.6h-1.6zM927.1 845.5h1.6v1.6h-1.6zM927.2 843.7h1.6v1.6h-1.6zM927.1 842.4h1.6v1.6h-1.6zM927.3 841.2h1.6v1.6h-1.6zM927.8 839.0h1.6v1.6h-1.6zM928.2 835.4h1.6v1.6h-1.6zM926.8 835.3h1.6v1.6h-1.6zM927.9 832.1h1.6v1.6h-1.6zM927.0 832.9h1.6v1.6h-1.6zM928.6 830.5h1.6v1.6h-1.6zM928.3 829.2h1.6v1.6h-1.6zM928.3 826.1h1.6v1.6h-1.6zM928.7 823.9h1.6v1.6h-1.6zM928.2 822.9h1.6v1.6h-1.6zM928.6 820.6h1.6v1.6h-1.6zM928.1 820.6h1.6v1.6h-1.6zM928.2 817.7h1.6v1.6h-1.6zM928.4 816.9h1.6v1.6h-1.6zM929.1 813.7h1.6v1.6h-1.6zM928.2 815.2h1.6v1.6h-1.6zM928.8 812.6h1.6v1.6h-1.6zM928.3 810.9h1.6v1.6h-1.6zM928.9 807.9h1.6v1.6h-1.6zM928.5 807.7h1.6v1.6h-1.6zM928.6 804.7h1.6v1.6h-1.6zM930.0 804.3h1.6v1.6h-1.6zM929.2 802.5h1.6v1.6h-1.6zM929.1 800.7h1.6v1.6h-1.6zM929.4 799.1h1.6v1.6h-1.6zM930.3 797.6h1.6v1.6h-1.6zM930.1 795.3h1.6v1.6h-1.6zM929.9 793.1h1.6v1.6h-1.6zM930.0 792.1h1.6v1.6h-1.6zM929.3 791.0h1.6v1.6h-1.6zM930.6 788.2h1.6v1.6h-1.6zM930.1 788.0h1.6v1.6h-1.6zM931.1 784.4h1.6v1.6h-1.6zM930.9 784.8h1.6v1.6h-1.6zM930.7 782.8h1.6v1.6h-1.6zM930.9 780.4h1.6v1.6h-1.6zM930.9 778.4h1.6v1.6h-1.6zM930.3 778.6h1.6v1.6h-1.6zM931.4 774.9h1.6v1.6h-1.6zM930.5 772.8h1.6v1.6h-1.6zM930.8 772.6h1.6v1.6h-1.6zM931.1 770.5h1.6v1.6h-1.6zM930.6 768.6h1.6v1.6h-1.6zM932.1 768.3h1.6v1.6h-1.6zM930.9 766.1h1.6v1.6h-1.6zM932.2 763.1h1.6v1.6h-1.6zM932.1 761.6h1.6v1.6h-1.6zM932.7 760.6h1.6v1.6h-1.6zM932.8 759.8h1.6v1.6h-1.6zM932.5 758.8h1.6v1.6h-1.6zM931.6 754.2h1.6v1.6h-1.6zM933.0 753.7h1.6v1.6h-1.6zM932.9 753.0h1.6v1.6h-1.6zM933.0 751.3h1.6v1.6h-1.6zM932.3 748.9h1.6v1.6h-1.6zM932.2 747.2h1.6v1.6h-1.6zM933.9 745.7h1.6v1.6h-1.6zM933.8 744.3h1.6v1.6h-1.6zM933.0 742.4h1.6v1.6h-1.6zM933.3 739.8h1.6v1.6h-1.6zM934.0 739.1h1.6v1.6h-1.6zM933.4 737.3h1.6v1.6h-1.6zM934.4 737.6h1.6v1.6h-1.6zM934.4 735.1h1.6v1.6h-1.6zM934.3 733.0h1.6v1.6h-1.6zM934.9 731.6h1.6v1.6h-1.6zM934.0 729.2h1.6v1.6h-1.6zM934.5 726.6h1.6v1.6h-1.6zM934.3 726.0h1.6v1.6h-1.6zM934.4 724.8h1.6v1.6h-1.6zM934.8 724.0h1.6v1.6h-1.6zM936.2 720.9h1.6v1.6h-1.6zM935.1 720.0h1.6v1.6h-1.6zM935.0 717.6h1.6v1.6h-1.6zM935.2 715.3h1.6v1.6h-1.6zM935.9 714.3h1.6v1.6h-1.6zM936.8 712.6h1.6v1.6h-1.6zM935.6 710.5h1.6v1.6h-1.6zM936.6 708.8h1.6v1.6h-1.6zM936.9 707.9h1.6v1.6h-1.6zM937.6 706.8h1.6v1.6h-1.6zM937.5 703.3h1.6v1.6h-1.6zM936.7 703.7h1.6v1.6h-1.6zM938.0 700.6h1.6v1.6h-1.6zM937.4 698.9h1.6v1.6h-1.6zM936.7 698.4h1.6v1.6h-1.6zM938.4 695.4h1.6v1.6h-1.6zM937.5 692.9h1.6v1.6h-1.6zM937.5 693.9h1.6v1.6h-1.6zM937.6 690.6h1.6v1.6h-1.6zM938.6 689.2h1.6v1.6h-1.6zM938.8 687.7h1.6v1.6h-1.6zM938.6 686.5h1.6v1.6h-1.6zM938.9 683.8h1.6v1.6h-1.6zM938.6 683.4h1.6v1.6h-1.6zM938.2 682.7h1.6v1.6h-1.6zM938.1 680.6h1.6v1.6h-1.6zM938.2 679.1h1.6v1.6h-1.6zM939.8 675.3h1.6v1.6h-1.6zM938.3 675.1h1.6v1.6h-1.6zM939.5 676.8h1.6v1.6h-1.6zM940.2 675.4h1.6v1.6h-1.6zM939.6 671.3h1.6v1.6h-1.6zM939.2 671.5h1.6v1.6h-1.6zM941.0 671.7h1.6v1.6h-1.6zM940.7 673.2h1.6v1.6h-1.6zM939.6 669.2h1.6v1.6h-1.6zM941.7 668.9h1.6v1.6h-1.6zM939.5 667.5h1.6v1.6h-1.6zM940.8 664.9h1.6v1.6h-1.6zM942.1 669.0h1.6v1.6h-1.6zM939.8 663.7h1.6v1.6h-1.6zM940.7 666.6h1.6v1.6h-1.6zM941.8 665.7h1.6v1.6h-1.6zM941.4 663.3h1.6v1.6h-1.6zM941.5 660.9h1.6v1.6h-1.6zM940.3 661.1h1.6v1.6h-1.6zM941.3 661.2h1.6v1.6h-1.6zM942.3 662.1h1.6v1.6h-1.6zM941.5 657.2h1.6v1.6h-1.6zM942.2 657.7h1.6v1.6h-1.6zM940.6 657.9h1.6v1.6h-1.6zM941.4 656.2h1.6v1.6h-1.6zM941.8 654.9h1.6v1.6h-1.6zM942.5 657.9h1.6v1.6h-1.6zM941.6 656.8h1.6v1.6h-1.6zM940.9 654.9h1.6v1.6h-1.6zM943.3 650.7h1.6v1.6h-1.6zM941.8 651.2h1.6v1.6h-1.6zM943.9 650.6h1.6v1.6h-1.6zM943.4 650.5h1.6v1.6h-1.6zM943.3 647.8h1.6v1.6h-1.6zM943.3 650.8h1.6v1.6h-1.6zM943.5 646.2h1.6v1.6h-1.6zM942.0 646.0h1.6v1.6h-1.6zM941.9 647.0h1.6v1.6h-1.6zM941.8 643.0h1.6v1.6h-1.6zM944.1 642.3h1.6v1.6h-1.6zM944.1 642.7h1.6v1.6h-1.6zM942.1 643.7h1.6v1.6h-1.6zM944.7 644.2h1.6v1.6h-1.6zM942.6 640.4h1.6v1.6h-1.6zM944.7 638.8h1.6v1.6h-1.6zM943.9 640.7h1.6v1.6h-1.6zM943.2 638.5h1.6v1.6h-1.6zM943.2 637.7h1.6v1.6h-1.6zM943.8 635.7h1.6v1.6h-1.6zM942.4 638.8h1.6v1.6h-1.6zM942.9 633.5h1.6v1.6h-1.6zM944.4 633.4h1.6v1.6h-1.6zM944.7 635.7h1.6v1.6h-1.6zM942.8 631.6h1.6v1.6h-1.6zM943.0 632.3h1.6v1.6h-1.6zM945.5 632.2h1.6v1.6h-1.6zM945.1 629.9h1.6v1.6h-1.6zM945.1 630.0h1.6v1.6h-1.6zM944.0 630.6h1.6v1.6h-1.6zM944.9 629.9h1.6v1.6h-1.6zM943.8 626.1h1.6v1.6h-1.6zM944.2 624.9h1.6v1.6h-1.6zM944.2 625.4h1.6v1.6h-1.6zM944.4 622.9h1.6v1.6h-1.6zM946.1 623.3h1.6v1.6h-1.6zM946.2 622.3h1.6v1.6h-1.6zM945.4 624.0h1.6v1.6h-1.6zM946.1 620.8h1.6v1.6h-1.6zM945.1 618.9h1.6v1.6h-1.6zM945.5 618.4h1.6v1.6h-1.6zM944.7 617.5h1.6v1.6h-1.6zM945.0 619.4h1.6v1.6h-1.6zM945.3 616.0h1.6v1.6h-1.6zM946.2 617.4h1.6v1.6h-1.6zM945.6 613.1h1.6v1.6h-1.6zM945.3 615.2h1.6v1.6h-1.6zM945.8 612.9h1.6v1.6h-1.6zM947.5 612.4h1.6v1.6h-1.6zM948.1 612.0h1.6v1.6h-1.6zM947.4 611.1h1.6v1.6h-1.6zM947.4 610.7h1.6v1.6h-1.6zM946.8 611.4h1.6v1.6h-1.6zM949.4 609.5h1.6v1.6h-1.6zM948.4 608.3h1.6v1.6h-1.6zM949.3 609.8h1.6v1.6h-1.6zM949.0 605.4h1.6v1.6h-1.6zM949.3 604.4h1.6v1.6h-1.6zM948.5 604.3h1.6v1.6h-1.6zM948.7 602.6h1.6v1.6h-1.6zM949.0 605.1h1.6v1.6h-1.6zM949.8 602.0h1.6v1.6h-1.6zM949.0 600.5h1.6v1.6h-1.6zM949.0 599.5h1.6v1.6h-1.6zM949.6 599.2h1.6v1.6h-1.6zM949.1 599.7h1.6v1.6h-1.6zM951.0 599.5h1.6v1.6h-1.6zM951.4 597.1h1.6v1.6h-1.6zM951.7 598.7h1.6v1.6h-1.6zM951.9 596.9h1.6v1.6h-1.6zM950.4 596.2h1.6v1.6h-1.6zM952.7 593.8h1.6v1.6h-1.6zM951.3 591.9h1.6v1.6h-1.6zM951.9 590.9h1.6v1.6h-1.6zM951.8 589.8h1.6v1.6h-1.6zM952.1 590.8h1.6v1.6h-1.6zM952.9 589.9h1.6v1.6h-1.6zM952.1 588.6h1.6v1.6h-1.6zM952.8 585.6h1.6v1.6h-1.6zM952.2 584.9h1.6v1.6h-1.6zM953.2 582.8h1.6v1.6h-1.6zM952.2 580.1h1.6v1.6h-1.6zM952.3 579.8h1.6v1.6h-1.6zM952.9 577.2h1.6v1.6h-1.6zM952.7 576.2h1.6v1.6h-1.6zM952.5 575.8h1.6v1.6h-1.6zM953.1 573.5h1.6v1.6h-1.6zM952.7 572.1h1.6v1.6h-1.6zM954.0 569.6h1.6v1.6h-1.6zM954.3 568.3h1.6v1.6h-1.6zM954.1 566.9h1.6v1.6h-1.6zM954.5 565.2h1.6v1.6h-1.6zM954.6 563.5h1.6v1.6h-1.6zM953.3 562.2h1.6v1.6h-1.6zM954.5 561.7h1.6v1.6h-1.6zM954.0 557.8h1.6v1.6h-1.6zM954.0 557.1h1.6v1.6h-1.6zM954.9 555.7h1.6v1.6h-1.6zM954.7 555.0h1.6v1.6h-1.6zM954.6 552.1h1.6v1.6h-1.6zM954.4 550.5h1.6v1.6h-1.6zM954.1 547.3h1.6v1.6h-1.6zM954.9 547.4h1.6v1.6h-1.6zM954.2 546.5h1.6v1.6h-1.6zM954.5 545.0h1.6v1.6h-1.6zM954.6 543.8h1.6v1.6h-1.6zM955.4 540.0h1.6v1.6h-1.6zM954.9 540.0h1.6v1.6h-1.6zM955.0 537.0h1.6v1.6h-1.6zM955.8 535.8h1.6v1.6h-1.6zM955.6 533.2h1.6v1.6h-1.6zM955.8 532.6h1.6v1.6h-1.6zM956.3 530.1h1.6v1.6h-1.6zM955.3 530.1h1.6v1.6h-1.6zM955.9 526.9h1.6v1.6h-1.6zM955.4 526.1h1.6v1.6h-1.6zM956.0 522.5h1.6v1.6h-1.6zM955.4 521.9h1.6v1.6h-1.6zM955.5 520.3h1.6v1.6h-1.6zM956.2 518.5h1.6v1.6h-1.6zM956.9 517.8h1.6v1.6h-1.6zM956.7 515.1h1.6v1.6h-1.6zM956.7 514.1h1.6v1.6h-1.6zM956.3 511.9h1.6v1.6h-1.6zM956.4 510.2h1.6v1.6h-1.6zM955.9 507.2h1.6v1.6h-1.6zM957.1 507.5h1.6v1.6h-1.6zM956.4 506.8h1.6v1.6h-1.6zM957.1 504.3h1.6v1.6h-1.6zM956.3 502.7h1.6v1.6h-1.6zM956.9 500.2h1.6v1.6h-1.6zM956.4 498.6h1.6v1.6h-1.6zM957.1 498.1h1.6v1.6h-1.6zM957.2 494.0h1.6v1.6h-1.6zM957.5 495.0h1.6v1.6h-1.6zM957.4 491.4h1.6v1.6h-1.6zM958.2 490.4h1.6v1.6h-1.6zM957.3 489.1h1.6v1.6h-1.6zM957.8 487.2h1.6v1.6h-1.6zM957.6 485.4h1.6v1.6h-1.6zM957.5 483.7h1.6v1.6h-1.6zM957.8 482.7h1.6v1.6h-1.6zM958.4 482.3h1.6v1.6h-1.6zM957.9 478.6h1.6v1.6h-1.6zM959.0 478.5h1.6v1.6h-1.6zM959.0 476.3h1.6v1.6h-1.6zM958.8 475.7h1.6v1.6h-1.6zM957.6 473.7h1.6v1.6h-1.6zM958.6 470.4h1.6v1.6h-1.6zM959.3 470.0h1.6v1.6h-1.6zM957.9 472.1h1.6v1.6h-1.6zM958.5 468.4h1.6v1.6h-1.6zM960.3 469.2h1.6v1.6h-1.6zM958.2 466.5h1.6v1.6h-1.6zM960.0 467.2h1.6v1.6h-1.6zM958.4 465.8h1.6v1.6h-1.6zM958.1 466.2h1.6v1.6h-1.6zM958.0 467.3h1.6v1.6h-1.6zM958.7 465.2h1.6v1.6h-1.6zM958.5 461.2h1.6v1.6h-1.6zM958.5 460.8h1.6v1.6h-1.6zM958.8 460.3h1.6v1.6h-1.6zM959.1 461.3h1.6v1.6h-1.6zM958.8 461.0h1.6v1.6h-1.6zM960.4 459.5h1.6v1.6h-1.6zM960.4 458.4h1.6v1.6h-1.6zM958.6 456.6h1.6v1.6h-1.6zM959.1 459.9h1.6v1.6h-1.6zM961.2 455.2h1.6v1.6h-1.6zM958.8 456.3h1.6v1.6h-1.6zM960.7 457.8h1.6v1.6h-1.6zM961.4 453.6h1.6v1.6h-1.6zM959.5 453.4h1.6v1.6h-1.6zM961.5 452.7h1.6v1.6h-1.6zM959.3 451.0h1.6v1.6h-1.6zM960.4 453.8h1.6v1.6h-1.6zM960.8 452.3h1.6v1.6h-1.6zM959.8 448.0h1.6v1.6h-1.6zM960.7 447.8h1.6v1.6h-1.6zM961.2 447.3h1.6v1.6h-1.6zM959.9 449.3h1.6v1.6h-1.6zM960.8 446.8h1.6v1.6h-1.6zM962.5 449.9h1.6v1.6h-1.6zM962.9 447.0h1.6v1.6h-1.6zM964.0 445.3h1.6v1.6h-1.6zM965.1 448.4h1.6v1.6h-1.6zM965.3 451.1h1.6v1.6h-1.6zM965.7 449.2h1.6v1.6h-1.6zM963.9 450.1h1.6v1.6h-1.6zM965.2 449.6h1.6v1.6h-1.6zM966.0 452.3h1.6v1.6h-1.6zM963.5 452.6h1.6v1.6h-1.6zM964.7 451.2h1.6v1.6h-1.6zM965.7 453.6h1.6v1.6h-1.6zM964.3 456.1h1.6v1.6h-1.6zM965.9 456.9h1.6v1.6h-1.6zM963.9 455.4h1.6v1.6h-1.6zM963.9 458.2h1.6v1.6h-1.6zM966.0 457.2h1.6v1.6h-1.6zM966.2 459.4h1.6v1.6h-1.6zM965.5 460.4h1.6v1.6h-1.6zM966.7 457.7h1.6v1.6h-1.6zM966.4 458.3h1.6v1.6h-1.6zM966.8 462.8h1.6v1.6h-1.6zM966.5 463.3h1.6v1.6h-1.6zM966.9 464.6h1.6v1.6h-1.6zM965.0 465.2h1.6v1.6h-1.6zM966.6 464.8h1.6v1.6h-1.6zM966.7 464.8h1.6v1.6h-1.6zM965.3 464.2h1.6v1.6h-1.6zM965.6 465.6h1.6v1.6h-1.6zM967.6 465.0h1.6v1.6h-1.6zM965.8 469.3h1.6v1.6h-1.6zM967.3 468.3h1.6v1.6h-1.6zM965.6 468.7h1.6v1.6h-1.6zM968.0 469.8h1.6v1.6h-1.6zM965.5 471.4h1.6v1.6h-1.6zM968.2 473.6h1.6v1.6h-1.6zM966.4 470.4h1.6v1.6h-1.6zM968.2 471.8h1.6v1.6h-1.6zM967.8 475.9h1.6v1.6h-1.6zM965.8 476.8h1.6v1.6h-1.6zM968.1 477.9h1.6v1.6h-1.6zM968.3 477.9h1.6v1.6h-1.6zM966.9 478.0h1.6v1.6h-1.6zM966.7 477.0h1.6v1.6h-1.6zM965.9 480.7h1.6v1.6h-1.6zM967.2 479.8h1.6v1.6h-1.6zM966.4 482.6h1.6v1.6h-1.6zM966.5 483.7h1.6v1.6h-1.6zM968.5 482.3h1.6v1.6h-1.6zM968.2 483.9h1.6v1.6h-1.6zM967.4 484.6h1.6v1.6h-1.6zM966.5 482.8h1.6v1.6h-1.6zM967.8 483.3h1.6v1.6h-1.6zM966.4 487.1h1.6v1.6h-1.6zM969.3 484.9h1.6v1.6h-1.6zM967.0 485.8h1.6v1.6h-1.6zM968.0 490.3h1.6v1.6h-1.6zM967.4 488.0h1.6v1.6h-1.6zM967.2 487.2h1.6v1.6h-1.6zM968.9 488.7h1.6v1.6h-1.6zM969.2 489.4h1.6v1.6h-1.6zM968.6 493.2h1.6v1.6h-1.6zM968.0 493.6h1.6v1.6h-1.6zM967.7 493.2h1.6v1.6h-1.6zM967.1 492.9h1.6v1.6h-1.6zM968.5 497.2h1.6v1.6h-1.6zM967.7 497.1h1.6v1.6h-1.6zM967.5 497.2h1.6v1.6h-1.6zM968.5 493.6h1.6v1.6h-1.6zM970.1 495.8h1.6v1.6h-1.6zM969.1 493.3h1.6v1.6h-1.6zM968.5 490.9h1.6v1.6h-1.6zM968.2 490.8h1.6v1.6h-1.6zM968.8 491.2h1.6v1.6h-1.6zM969.4 492.3h1.6v1.6h-1.6zM968.6 491.8h1.6v1.6h-1.6zM970.6 491.4h1.6v1.6h-1.6zM968.6 488.2h1.6v1.6h-1.6zM968.5 484.5h1.6v1.6h-1.6zM970.4 485.6h1.6v1.6h-1.6zM968.7 485.1h1.6v1.6h-1.6zM971.5 485.1h1.6v1.6h-1.6zM968.7 483.7h1.6v1.6h-1.6zM970.4 482.0h1.6v1.6h-1.6zM969.8 484.2h1.6v1.6h-1.6zM970.0 481.2h1.6v1.6h-1.6zM970.1 478.8h1.6v1.6h-1.6zM970.5 481.4h1.6v1.6h-1.6zM969.4 479.6h1.6v1.6h-1.6zM971.4 478.6h1.6v1.6h-1.6zM969.5 477.7h1.6v1.6h-1.6zM972.4 478.0h1.6v1.6h-1.6zM970.6 477.0h1.6v1.6h-1.6zM972.3 477.0h1.6v1.6h-1.6zM970.3 474.8h1.6v1.6h-1.6zM971.7 471.7h1.6v1.6h-1.6zM972.6 475.4h1.6v1.6h-1.6zM972.5 474.6h1.6v1.6h-1.6zM972.2 470.5h1.6v1.6h-1.6zM970.2 470.6h1.6v1.6h-1.6zM972.9 471.6h1.6v1.6h-1.6zM971.1 468.5h1.6v1.6h-1.6zM972.8 471.0h1.6v1.6h-1.6zM971.5 466.7h1.6v1.6h-1.6zM972.4 469.0h1.6v1.6h-1.6zM971.5 465.1h1.6v1.6h-1.6zM972.8 464.5h1.6v1.6h-1.6zM972.5 463.6h1.6v1.6h-1.6zM971.6 465.2h1.6v1.6h-1.6zM973.9 462.7h1.6v1.6h-1.6zM972.2 460.4h1.6v1.6h-1.6zM972.6 463.4h1.6v1.6h-1.6zM972.6 462.4h1.6v1.6h-1.6zM973.6 462.4h1.6v1.6h-1.6zM973.0 457.7h1.6v1.6h-1.6zM972.8 456.7h1.6v1.6h-1.6zM973.4 458.6h1.6v1.6h-1.6zM971.8 456.8h1.6v1.6h-1.6zM973.4 454.2h1.6v1.6h-1.6zM973.9 456.6h1.6v1.6h-1.6zM973.2 456.1h1.6v1.6h-1.6zM974.7 455.1h1.6v1.6h-1.6zM973.8 453.6h1.6v1.6h-1.6zM972.8 450.7h1.6v1.6h-1.6zM974.5 450.3h1.6v1.6h-1.6zM975.3 452.4h1.6v1.6h-1.6zM974.7 453.3h1.6v1.6h-1.6zM975.3 448.9h1.6v1.6h-1.6zM976.4 449.2h1.6v1.6h-1.6zM975.6 449.1h1.6v1.6h-1.6zM975.1 446.8h1.6v1.6h-1.6zM976.8 447.3h1.6v1.6h-1.6zM977.2 447.8h1.6v1.6h-1.6zM976.4 443.3h1.6v1.6h-1.6zM975.9 443.7h1.6v1.6h-1.6zM975.6 444.2h1.6v1.6h-1.6zM977.9 446.0h1.6v1.6h-1.6zM977.1 444.6h1.6v1.6h-1.6zM978.4 447.7h1.6v1.6h-1.6zM975.9 445.4h1.6v1.6h-1.6zM978.7 447.9h1.6v1.6h-1.6zM977.3 449.4h1.6v1.6h-1.6zM977.8 449.0h1.6v1.6h-1.6zM976.7 450.0h1.6v1.6h-1.6zM978.0 449.8h1.6v1.6h-1.6zM978.0 450.0h1.6v1.6h-1.6zM979.0 454.5h1.6v1.6h-1.6zM978.6 451.4h1.6v1.6h-1.6zM976.8 452.9h1.6v1.6h-1.6zM977.7 454.9h1.6v1.6h-1.6zM978.8 455.9h1.6v1.6h-1.6zM980.0 458.3h1.6v1.6h-1.6zM977.9 455.1h1.6v1.6h-1.6zM978.8 460.4h1.6v1.6h-1.6zM979.7 460.5h1.6v1.6h-1.6zM979.6 460.0h1.6v1.6h-1.6zM978.3 462.3h1.6v1.6h-1.6zM979.5 459.2h1.6v1.6h-1.6zM980.1 461.5h1.6v1.6h-1.6zM980.0 462.9h1.6v1.6h-1.6zM981.1 460.1h1.6v1.6h-1.6zM979.8 458.8h1.6v1.6h-1.6zM980.9 459.4h1.6v1.6h-1.6zM981.5 461.2h1.6v1.6h-1.6zM981.6 459.8h1.6v1.6h-1.6zM981.7 454.8h1.6v1.6h-1.6zM979.7 457.4h1.6v1.6h-1.6zM981.9 454.1h1.6v1.6h-1.6zM981.6 452.7h1.6v1.6h-1.6zM979.9 456.0h1.6v1.6h-1.6zM982.2 455.1h1.6v1.6h-1.6zM979.4 452.8h1.6v1.6h-1.6zM982.3 450.9h1.6v1.6h-1.6zM979.6 450.8h1.6v1.6h-1.6zM980.7 448.3h1.6v1.6h-1.6zM980.3 447.1h1.6v1.6h-1.6zM980.8 451.2h1.6v1.6h-1.6zM982.8 447.7h1.6v1.6h-1.6zM981.5 446.1h1.6v1.6h-1.6zM983.0 447.9h1.6v1.6h-1.6zM980.1 447.8h1.6v1.6h-1.6zM981.7 443.4h1.6v1.6h-1.6zM981.2 445.9h1.6v1.6h-1.6zM980.5 446.1h1.6v1.6h-1.6zM982.8 445.0h1.6v1.6h-1.6zM982.9 440.5h1.6v1.6h-1.6zM981.4 441.4h1.6v1.6h-1.6zM981.9 441.3h1.6v1.6h-1.6zM981.6 439.9h1.6v1.6h-1.6zM982.6 441.4h1.6v1.6h-1.6zM983.1 439.8h1.6v1.6h-1.6zM983.9 438.8h1.6v1.6h-1.6zM983.7 436.1h1.6v1.6h-1.6zM982.6 436.0h1.6v1.6h-1.6zM984.4 435.5h1.6v1.6h-1.6zM982.6 433.3h1.6v1.6h-1.6zM983.9 431.3h1.6v1.6h-1.6zM985.5 432.2h1.6v1.6h-1.6zM985.7 431.6h1.6v1.6h-1.6zM985.9 431.2h1.6v1.6h-1.6zM983.3 430.7h1.6v1.6h-1.6zM985.7 430.4h1.6v1.6h-1.6zM984.4 429.2h1.6v1.6h-1.6zM985.5 426.6h1.6v1.6h-1.6zM985.6 427.0h1.6v1.6h-1.6zM986.7 427.0h1.6v1.6h-1.6zM986.6 423.8h1.6v1.6h-1.6zM986.8 426.1h1.6v1.6h-1.6zM985.3 423.8h1.6v1.6h-1.6zM986.0 423.6h1.6v1.6h-1.6zM985.7 421.5h1.6v1.6h-1.6zM987.3 420.5h1.6v1.6h-1.6zM987.7 422.0h1.6v1.6h-1.6zM986.1 420.8h1.6v1.6h-1.6zM985.7 417.5h1.6v1.6h-1.6zM985.9 418.2h1.6v1.6h-1.6zM986.8 418.1h1.6v1.6h-1.6zM987.5 416.4h1.6v1.6h-1.6zM988.3 417.0h1.6v1.6h-1.6zM986.5 415.1h1.6v1.6h-1.6zM987.5 414.4h1.6v1.6h-1.6zM988.3 415.5h1.6v1.6h-1.6zM988.0 414.6h1.6v1.6h-1.6zM988.2 413.8h1.6v1.6h-1.6zM988.5 410.7h1.6v1.6h-1.6zM989.5 411.1h1.6v1.6h-1.6zM988.6 410.7h1.6v1.6h-1.6zM988.5 409.8h1.6v1.6h-1.6zM989.3 409.4h1.6v1.6h-1.6zM987.2 406.9h1.6v1.6h-1.6zM989.4 406.8h1.6v1.6h-1.6zM988.2 407.8h1.6v1.6h-1.6zM987.9 407.0h1.6v1.6h-1.6zM990.1 403.1h1.6v1.6h-1.6zM989.8 404.8h1.6v1.6h-1.6zM989.6 404.6h1.6v1.6h-1.6zM990.1 405.3h1.6v1.6h-1.6zM990.9 401.0h1.6v1.6h-1.6zM988.2 401.3h1.6v1.6h-1.6zM991.1 402.3h1.6v1.6h-1.6zM990.0 398.4h1.6v1.6h-1.6zM990.8 399.2h1.6v1.6h-1.6zM991.2 398.2h1.6v1.6h-1.6zM990.7 396.9h1.6v1.6h-1.6zM989.6 399.5h1.6v1.6h-1.6zM989.9 399.2h1.6v1.6h-1.6zM989.6 397.7h1.6v1.6h-1.6zM991.6 399.2h1.6v1.6h-1.6zM990.7 401.0h1.6v1.6h-1.6zM990.9 402.9h1.6v1.6h-1.6zM992.1 402.3h1.6v1.6h-1.6zM990.1 402.7h1.6v1.6h-1.6zM990.3 405.9h1.6v1.6h-1.6zM992.7 406.1h1.6v1.6h-1.6zM992.1 404.0h1.6v1.6h-1.6zM993.1 404.3h1.6v1.6h-1.6zM992.8 406.1h1.6v1.6h-1.6zM991.2 409.4h1.6v1.6h-1.6zM992.3 408.4h1.6v1.6h-1.6zM992.2 411.3h1.6v1.6h-1.6zM992.6 408.7h1.6v1.6h-1.6zM993.2 411.7h1.6v1.6h-1.6zM993.3 411.1h1.6v1.6h-1.6zM992.8 410.4h1.6v1.6h-1.6zM992.4 411.2h1.6v1.6h-1.6zM994.2 412.1h1.6v1.6h-1.6zM993.8 411.7h1.6v1.6h-1.6zM993.2 414.6h1.6v1.6h-1.6zM992.1 414.7h1.6v1.6h-1.6zM992.4 418.1h1.6v1.6h-1.6zM991.7 416.8h1.6v1.6h-1.6zM993.7 418.8h1.6v1.6h-1.6zM992.0 420.3h1.6v1.6h-1.6zM994.1 420.5h1.6v1.6h-1.6zM994.5 418.3h1.6v1.6h-1.6zM993.0 419.7h1.6v1.6h-1.6zM992.7 420.3h1.6v1.6h-1.6zM994.7 423.3h1.6v1.6h-1.6zM994.6 422.6h1.6v1.6h-1.6zM992.8 426.2h1.6v1.6h-1.6zM992.6 426.2h1.6v1.6h-1.6zM993.5 425.2h1.6v1.6h-1.6zM992.8 424.2h1.6v1.6h-1.6zM994.6 429.0h1.6v1.6h-1.6zM993.1 430.5h1.6v1.6h-1.6zM995.0 430.1h1.6v1.6h-1.6zM995.1 429.1h1.6v1.6h-1.6zM993.0 429.2h1.6v1.6h-1.6zM994.6 432.6h1.6v1.6h-1.6zM993.0 432.8h1.6v1.6h-1.6zM994.2 432.5h1.6v1.6h-1.6zM994.8 433.1h1.6v1.6h-1.6zM993.7 433.9h1.6v1.6h-1.6zM992.9 437.4h1.6v1.6h-1.6zM995.2 434.7h1.6v1.6h-1.6zM994.3 437.2h1.6v1.6h-1.6zM994.6 435.8h1.6v1.6h-1.6zM994.8 438.6h1.6v1.6h-1.6zM994.3 440.0h1.6v1.6h-1.6zM992.9 438.0h1.6v1.6h-1.6zM995.4 442.4h1.6v1.6h-1.6zM994.7 442.0h1.6v1.6h-1.6zM994.7 443.2h1.6v1.6h-1.6zM994.0 443.0h1.6v1.6h-1.6zM994.0 444.3h1.6v1.6h-1.6zM996.3 443.8h1.6v1.6h-1.6zM994.6 445.2h1.6v1.6h-1.6zM995.0 445.7h1.6v1.6h-1.6zM995.2 449.0h1.6v1.6h-1.6zM995.7 445.9h1.6v1.6h-1.6zM995.6 449.2h1.6v1.6h-1.6zM996.8 450.4h1.6v1.6h-1.6zM995.4 449.7h1.6v1.6h-1.6zM995.8 449.1h1.6v1.6h-1.6zM997.9 451.6h1.6v1.6h-1.6zM996.0 449.8h1.6v1.6h-1.6zM995.3 452.3h1.6v1.6h-1.6zM996.9 451.7h1.6v1.6h-1.6zM995.8 454.8h1.6v1.6h-1.6zM996.4 455.6h1.6v1.6h-1.6zM996.5 456.8h1.6v1.6h-1.6zM997.9 455.0h1.6v1.6h-1.6zM998.9 458.6h1.6v1.6h-1.6zM997.8 458.2h1.6v1.6h-1.6zM996.4 457.8h1.6v1.6h-1.6zM998.5 458.5h1.6v1.6h-1.6zM998.6 460.8h1.6v1.6h-1.6zM996.8 463.5h1.6v1.6h-1.6zM998.6 461.7h1.6v1.6h-1.6zM997.1 462.7h1.6v1.6h-1.6zM997.7 461.3h1.6v1.6h-1.6zM998.9 463.6h1.6v1.6h-1.6zM999.5 466.4h1.6v1.6h-1.6zM1000.1 467.1h1.6v1.6h-1.6zM1000.4 465.7h1.6v1.6h-1.6zM999.2 466.5h1.6v1.6h-1.6zM999.8 468.3h1.6v1.6h-1.6zM999.4 467.6h1.6v1.6h-1.6zM999.4 470.1h1.6v1.6h-1.6zM999.8 471.8h1.6v1.6h-1.6zM998.4 471.5h1.6v1.6h-1.6zM1000.3 470.8h1.6v1.6h-1.6zM999.5 474.9h1.6v1.6h-1.6zM1000.1 471.7h1.6v1.6h-1.6zM998.9 472.3h1.6v1.6h-1.6zM1000.9 476.3h1.6v1.6h-1.6zM1001.2 477.0h1.6v1.6h-1.6zM1001.6 474.6h1.6v1.6h-1.6zM1001.7 477.7h1.6v1.6h-1.6zM1001.6 477.7h1.6v1.6h-1.6zM1001.0 477.9h1.6v1.6h-1.6zM999.7 479.3h1.6v1.6h-1.6zM1001.9 479.6h1.6v1.6h-1.6zM999.9 482.6h1.6v1.6h-1.6zM1001.5 482.6h1.6v1.6h-1.6zM1002.8 484.0h1.6v1.6h-1.6zM1000.2 482.4h1.6v1.6h-1.6zM1000.5 484.8h1.6v1.6h-1.6zM1001.3 486.5h1.6v1.6h-1.6zM1000.8 483.1h1.6v1.6h-1.6zM1002.1 486.5h1.6v1.6h-1.6zM1003.1 488.0h1.6v1.6h-1.6zM1003.2 490.5h1.6v1.6h-1.6zM1001.9 490.2h1.6v1.6h-1.6zM1001.2 489.3h1.6v1.6h-1.6z" fill="#00cc00"/>
<path d="M163.3 880.1h1.6v1.6h-1.6zM162.7 878.7h1.6v1.6h-1.6zM162.7 877.7h1.6v1.6h-1.6zM163.4 874.8h1.6v1.6h-1.6zM163.3 872.4h1.6v1.6h-1.6zM162.3 871.0h1.6v1.6h-1.6zM162.7 873.0h1.6v1.6h-1.6zM163.1 869.8h1.6v1.6h-1.6zM163.5 868.1h1.6v1.6h-1.6zM164.0 868.2h1.6v1.6h-1.6zM163.1 865.4h1.6v1.6h-1.6zM162.9 864.3h1.6v1.6h-1.6zM164.4 863.7h1.6v1.6h-1.6zM164.3 862.1h1.6v1.6h-1.6zM162.6 860.5h1.6v1.6h-1.6zM164.6 857.6h1.6v1.6h-1.6zM164.7 855.8h1.6v1.6h-1.6zM164.2 855.5h1.6v1.6h-1.6zM164.1 854.1h1.6v1.6h-1.6zM163.6 854.5h1.6v1.6h-1.6zM163.3 851.9h1.6v1.6h-1.6zM164.6 851.2h1.6v1.6h-1.6zM164.4 848.6h1.6v1.6h-1.6zM164.9 849.0h1.6v1.6h-1.6zM164.2 847.9h1.6v1.6h-1.6zM164.3 844.9h1.6v1.6h-1.6zM163.9 842.8h1.6v1.6h-1.6zM164.0 841.3h1.6v1.6h-1.6zM165.4 839.8h1.6v1.6h-1.6zM164.2 840.4h1.6v1.6h-1.6zM164.2 837.7h1.6v1.6h-1.6zM165.9 837.7h1.6v1.6h-1.6zM166.3 834.9h1.6v1.6h-1.6zM165.7 832.8h1.6v1.6h-1.6zM166.6 833.8h1.6v1.6h-1.6zM167.5 832.1h1.6v1.6h-1.6zM166.9 830.7h1.6v1.6h-1.6zM167.3 830.2h1.6v1.6h-1.6zM167.7 826.5h1.6v1.6h-1.6zM166.9 824.8h1.6v1.6h-1.6zM173.5 831.9h1.6v1.6h-1.6zM172.3 837.2h1.6v1.6h-1.6zM176.0 829.8h1.6v1.6h-1.6zM177.7 826.8h1.6v1.6h-1.6zM171.3 840.7h1.6v1.6h-1.6zM170.3 820.4h1.6v1.6h-1.6zM177.3 833.7h1.6v1.6h-1.6zM170.4 836.6h1.6v1.6h-1.6zM175.0 828.1h1.6v1.6h-1.6zM173.1 840.0h1.6v1.6h-1.6zM173.2 819.7h1.6v1.6h-1.6zM171.9 824.5h1.6v1.6h-1.6zM178.7 827.7h1.6v1.6h-1.6zM171.4 835.6h1.6v1.6h-1.6zM176.2 819.1h1.6v1.6h-1.6zM175.0 839.6h1.6v1.6h-1.6zM173.7 823.9h1.6v1.6h-1.6zM178.3 818.8h1.6v1.6h-1.6zM172.6 821.9h1.6v1.6h-1.6zM173.4 826.8h1.6v1.6h-1.6zM177.7 818.9h1.6v1.6h-1.6zM172.2 824.1h1.6v1.6h-1.6zM167.6 837.5h1.6v1.6h-1.6zM174.6 825.6h1.6v1.6h-1.6zM173.1 827.9h1.6v1.6h-1.6zM167.0 825.1h1.6v1.6h-1.6zM166.6 819.6h1.6v1.6h-1.6zM177.2 836.0h1.6v1.6h-1.6zM170.1 817.6h1.6v1.6h-1.6zM177.7 818.8h1.6v1.6h-1.6zM169.4 837.6h1.6v1.6h-1.6zM173.7 827.7h1.6v1.6h-1.6zM176.4 839.2h1.6v1.6h-1.6zM173.7 839.3h1.6v1.6h-1.6zM167.1 829.7h1.6v1.6h-1.6zM175.1 837.5h1.6v1.6h-1.6zM172.4 832.3h1.6v1.6h-1.6zM170.0 834.7h1.6v1.6h-1.6zM173.7 841.0h1.6v1.6h-1.6zM173.1 821.8h1.6v1.6h-1.6zM176.5 828.0h1.6v1.6h-1.6zM167.9 840.3h1.6v1.6h-1.6zM172.6 821.2h1.6v1.6h-1.6zM168.8 823.3h1.6v1.6h-1.6zM178.3 836.7h1.6v1.6h-1.6zM175.7 845.7h1.6v1.6h-1.6zM176.2 844.4h1.6v1.6h-1.6zM176.7 844.6h1.6v1.6h-1.6zM177.0 843.5h1.6v1.6h-1.6zM177.4 841.3h1.6v1.6h-1.6zM177.9 841.0h1.6v1.6h-1.6zM177.4 839.9h1.6v1.6h-1.6zM178.3 839.3h1.6v1.6h-1.6zM167.8 802.6h1.6v1.6h-1.6zM167.6 804.2h1.6v1.6h-1.6zM166.8 808.6h1.6v1.6h-1.6zM167.5 808.6h1.6v1.6h-1.6zM180.1 812.3h1.6v1.6h-1.6zM180.4 811.5h1.6v1.6h-1.6zM179.9 808.6h1.6v1.6h-1.6zM179.7 807.1h1.6v1.6h-1.6zM181.2 807.7h1.6v1.6h-1.6zM180.2 805.9h1.6v1.6h-1.6zM179.9 803.4h1.6v1.6h-1.6zM180.5 801.8h1.6v1.6h-1.6zM181.4 801.0h1.6v1.6h-1.6zM180.7 798.0h1.6v1.6h-1.6zM181.1 796.7h1.6v1.6h-1.6zM181.1 794.0h1.6v1.6h-1.6zM181.1 793.3h1.6v1.6h-1.6zM182.3 791.7h1.6v1.6h-1.6zM182.8 790.9h1.6v1.6h-1.6zM182.3 789.1h1.6v1.6h-1.6zM182.5 785.9h1.6v1.6h-1.6zM183.6 784.4h1.6v1.6h-1.6zM182.7 782.2h1.6v1.6h-1.6zM183.3 781.1h1.6v1.6h-1.6zM183.6 779.2h1.6v1.6h-1.6zM182.5 777.9h1.6v1.6h-1.6zM183.3 775.4h1.6v1.6h-1.6zM181.9 774.8h1.6v1.6h-1.6zM183.0 775.3h1.6v1.6h-1.6zM183.5 772.5h1.6v1.6h-1.6zM182.9 771.9h1.6v1.6h-1.6zM184.3 772.8h1.6v1.6h-1.6zM184.2 773.3h1.6v1.6h-1.6zM183.0 773.5h1.6v1.6h-1.6zM184.5 770.9h1.6v1.6h-1.6zM183.9 768.5h1.6v1.6h-1.6zM185.2 771.8h1.6v1.6h-1.6zM185.8 769.1h1.6v1.6h-1.6zM184.0 767.2h1.6v1.6h-1.6zM184.8 768.1h1.6v1.6h-1.6zM184.4 764.9h1.6v1.6h-1.6zM185.6 769.2h1.6v1.6h-1.6zM185.4 765.9h1.6v1.6h-1.6zM186.5 767.4h1.6v1.6h-1.6zM185.6 766.9h1.6v1.6h-1.6zM185.2 764.2h1.6v1.6h-1.6zM185.2 764.8h1.6v1.6h-1.6zM184.7 764.1h1.6v1.6h-1.6zM187.5 764.6h1.6v1.6h-1.6zM187.7 764.1h1.6v1.6h-1.6zM185.0 761.9h1.6v1.6h-1.6zM187.7 759.7h1.6v1.6h-1.6zM186.9 761.3h1.6v1.6h-1.6zM186.5 757.2h1.6v1.6h-1.6zM185.5 759.1h1.6v1.6h-1.6zM186.8 758.9h1.6v1.6h-1.6zM187.9 756.5h1.6v1.6h-1.6zM187.0 757.7h1.6v1.6h-1.6zM186.9 754.4h1.6v1.6h-1.6zM186.3 755.6h1.6v1.6h-1.6zM187.2 754.1h1.6v1.6h-1.6zM189.1 756.2h1.6v1.6h-1.6zM188.4 754.9h1.6v1.6h-1.6zM188.7 751.3h1.6v1.6h-1.6zM189.3 752.0h1.6v1.6h-1.6zM187.3 752.8h1.6v1.6h-1.6zM187.4 749.6h1.6v1.6h-1.6zM189.0 752.7h1.6v1.6h-1.6zM189.1 750.2h1.6v1.6h-1.6zM190.4 748.2h1.6v1.6h-1.6zM191.2 750.8h1.6v1.6h-1.6zM190.6 748.9h1.6v1.6h-1.6zM190.7 749.2h1.6v1.6h-1.6zM192.8 747.3h1.6v1.6h-1.6zM191.8 748.5h1.6v1.6h-1.6zM192.3 748.5h1.6v1.6h-1.6zM191.7 744.6h1.6v1.6h-1.6zM192.8 746.4h1.6v1.6h-1.6zM193.2 745.6h1.6v1.6h-1.6zM193.4 746.8h1.6v1.6h-1.6zM193.0 749.1h1.6v1.6h-1.6zM195.2 748.2h1.6v1.6h-1.6zM195.3 750.7h1.6v1.6h-1.6zM195.7 747.9h1.6v1.6h-1.6zM195.7 747.7h1.6v1.6h-1.6zM195.0 752.1h1.6v1.6h-1.6zM194.8 751.7h1.6v1.6h-1.6zM195.2 752.7h1.6v1.6h-1.6zM196.8 751.1h1.6v1.6h-1.6zM195.3 753.8h1.6v1.6h-1.6zM195.3 752.6h1.6v1.6h-1.6zM197.9 751.9h1.6v1.6h-1.6zM198.5 752.6h1.6v1.6h-1.6zM196.1 755.8h1.6v1.6h-1.6zM198.0 754.8h1.6v1.6h-1.6zM198.8 754.7h1.6v1.6h-1.6zM196.9 755.6h1.6v1.6h-1.6zM198.2 756.5h1.6v1.6h-1.6zM196.7 757.2h1.6v1.6h-1.6zM196.8 759.3h1.6v1.6h-1.6zM197.7 757.1h1.6v1.6h-1.6zM196.5 761.2h1.6v1.6h-1.6zM198.8 758.6h1.6v1.6h-1.6zM196.2 763.4h1.6v1.6h-1.6zM197.0 760.3h1.6v1.6h-1.6zM196.9 760.9h1.6v1.6h-1.6zM196.9 764.7h1.6v1.6h-1.6zM198.1 765.5h1.6v1.6h-1.6zM197.7 765.3h1.6v1.6h-1.6zM198.2 765.0h1.6v1.6h-1.6zM197.2 765.4h1.6v1.6h-1.6zM197.1 766.2h1.6v1.6h-1.6zM197.5 768.7h1.6v1.6h-1.6zM196.4 767.6h1.6v1.6h-1.6zM196.1 769.9h1.6v1.6h-1.6zM197.2 769.3h1.6v1.6h-1.6zM197.0 770.9h1.6v1.6h-1.6zM197.4 768.3h1.6v1.6h-1.6zM197.0 772.8h1.6v1.6h-1.6zM195.4 769.6h1.6v1.6h-1.6zM196.7 771.2h1.6v1.6h-1.6zM196.7 773.7h1.6v1.6h-1.6zM197.3 771.0h1.6v1.6h-1.6zM196.6 774.8h1.6v1.6h-1.6zM195.3 774.5h1.6v1.6h-1.6zM195.2 772.9h1.6v1.6h-1.6zM195.1 773.2h1.6v1.6h-1.6zM196.5 776.8h1.6v1.6h-1.6zM195.4 775.9h1.6v1.6h-1.6zM194.7 778.1h1.6v1.6h-1.6zM196.8 775.9h1.6v1.6h-1.6zM195.3 781.0h1.6v1.6h-1.6zM196.8 777.9h1.6v1.6h-1.6zM196.4 779.5h1.6v1.6h-1.6zM196.0 782.3h1.6v1.6h-1.6zM196.8 781.4h1.6v1.6h-1.6zM196.2 783.9h1.6v1.6h-1.6zM194.7 780.7h1.6v1.6h-1.6zM200.4 735.7h1.6v1.6h-1.6zM201.6 738.7h1.6v1.6h-1.6zM200.2 737.1h1.6v1.6h-1.6zM200.6 733.0h1.6v1.6h-1.6zM200.6 733.3h1.6v1.6h-1.6zM200.2 737.0h1.6v1.6h-1.6zM201.0 732.5h1.6v1.6h-1.6zM201.7 732.0h1.6v1.6h-1.6zM201.1 731.4h1.6v1.6h-1.6zM199.7 734.9h1.6v1.6h-1.6zM200.5 732.0h1.6v1.6h-1.6zM201.5 728.1h1.6v1.6h-1.6zM198.9 730.1h1.6v1.6h-1.6zM200.1 730.2h1.6v1.6h-1.6zM199.5 728.5h1.6v1.6h-1.6zM201.0 730.6h1.6v1.6h-1.6zM201.4 727.5h1.6v1.6h-1.6zM201.0 727.5h1.6v1.6h-1.6zM201.3 725.3h1.6v1.6h-1.6zM200.0 723.7h1.6v1.6h-1.6zM202.1 726.7h1.6v1.6h-1.6zM199.1 727.4h1.6v1.6h-1.6zM201.7 727.5h1.6v1.6h-1.6zM201.7 723.4h1.6v1.6h-1.6zM201.1 722.7h1.6v1.6h-1.6zM202.0 722.8h1.6v1.6h-1.6zM201.7 721.0h1.6v1.6h-1.6zM200.4 722.9h1.6v1.6h-1.6zM200.0 722.6h1.6v1.6h-1.6zM200.7 718.7h1.6v1.6h-1.6zM200.4 718.5h1.6v1.6h-1.6zM200.7 721.5h1.6v1.6h-1.6zM201.3 720.4h1.6v1.6h-1.6zM201.4 716.7h1.6v1.6h-1.6zM203.0 717.1h1.6v1.6h-1.6zM202.6 717.1h1.6v1.6h-1.6zM202.3 715.5h1.6v1.6h-1.6zM201.5 714.6h1.6v1.6h-1.6zM202.6 718.5h1.6v1.6h-1.6zM202.8 717.1h1.6v1.6h-1.6zM204.2 716.3h1.6v1.6h-1.6zM203.4 715.3h1.6v1.6h-1.6zM205.1 715.5h1.6v1.6h-1.6zM203.5 714.5h1.6v1.6h-1.6zM204.5 716.7h1.6v1.6h-1.6zM203.7 713.0h1.6v1.6h-1.6zM205.6 714.3h1.6v1.6h-1.6zM205.9 710.9h1.6v1.6h-1.6zM204.0 712.5h1.6v1.6h-1.6zM205.7 709.0h1.6v1.6h-1.6zM206.1 711.5h1.6v1.6h-1.6zM204.2 711.8h1.6v1.6h-1.6zM203.9 709.6h1.6v1.6h-1.6zM205.8 708.8h1.6v1.6h-1.6zM205.6 708.5h1.6v1.6h-1.6zM204.8 707.5h1.6v1.6h-1.6zM207.0 710.1h1.6v1.6h-1.6zM205.2 708.9h1.6v1.6h-1.6zM207.1 704.6h1.6v1.6h-1.6zM206.1 706.3h1.6v1.6h-1.6zM207.1 703.1h1.6v1.6h-1.6zM207.2 706.3h1.6v1.6h-1.6zM207.4 706.2h1.6v1.6h-1.6zM207.0 705.9h1.6v1.6h-1.6zM205.3 701.5h1.6v1.6h-1.6zM205.3 704.8h1.6v1.6h-1.6zM205.8 700.2h1.6v1.6h-1.6zM205.5 700.1h1.6v1.6h-1.6zM207.0 698.2h1.6v1.6h-1.6zM207.4 698.6h1.6v1.6h-1.6zM205.9 701.9h1.6v1.6h-1.6zM206.3 701.6h1.6v1.6h-1.6zM206.4 696.6h1.6v1.6h-1.6zM206.2 695.3h1.6v1.6h-1.6zM208.1 699.2h1.6v1.6h-1.6zM206.5 695.6h1.6v1.6h-1.6zM206.4 695.3h1.6v1.6h-1.6zM206.2 695.9h1.6v1.6h-1.6zM206.1 695.6h1.6v1.6h-1.6zM208.0 694.6h1.6v1.6h-1.6zM207.9 692.6h1.6v1.6h-1.6zM206.7 691.5h1.6v1.6h-1.6zM206.6 691.5h1.6v1.6h-1.6zM207.2 691.7h1.6v1.6h-1.6zM208.7 694.6h1.6v1.6h-1.6zM207.3 691.8h1.6v1.6h-1.6zM209.1 689.4h1.6v1.6h-1.6zM208.7 688.7h1.6v1.6h-1.6zM208.5 691.3h1.6v1.6h-1.6zM206.9 689.0h1.6v1.6h-1.6zM209.3 688.2h1.6v1.6h-1.6zM206.7 691.0h1.6v1.6h-1.6zM207.8 688.8h1.6v1.6h-1.6zM207.4 690.0h1.6v1.6h-1.6zM207.2 692.4h1.6v1.6h-1.6zM207.3 690.2h1.6v1.6h-1.6zM209.2 694.9h1.6v1.6h-1.6zM207.9 694.9h1.6v1.6h-1.6zM208.9 696.1h1.6v1.6h-1.6zM208.7 692.3h1.6v1.6h-1.6zM207.2 697.0h1.6v1.6h-1.6zM207.2 697.6h1.6v1.6h-1.6zM209.8 695.4h1.6v1.6h-1.6zM208.1 694.5h1.6v1.6h-1.6zM210.1 695.3h1.6v1.6h-1.6zM208.0 696.5h1.6v1.6h-1.6zM209.6 697.8h1.6v1.6h-1.6zM209.4 695.7h1.6v1.6h-1.6zM207.6 697.3h1.6v1.6h-1.6zM208.9 700.5h1.6v1.6h-1.6zM210.2 700.2h1.6v1.6h-1.6zM209.8 700.5h1.6v1.6h-1.6zM208.1 698.9h1.6v1.6h-1.6zM208.8 699.6h1.6v1.6h-1.6zM209.7 700.1h1.6v1.6h-1.6zM209.0 701.5h1.6v1.6h-1.6zM210.6 703.0h1.6v1.6h-1.6zM210.8 701.5h1.6v1.6h-1.6zM209.1 704.7h1.6v1.6h-1.6zM209.8 707.8h1.6v1.6h-1.6zM209.5 707.1h1.6v1.6h-1.6zM210.7 706.5h1.6v1.6h-1.6zM210.7 703.6h1.6v1.6h-1.6zM211.2 708.4h1.6v1.6h-1.6zM211.0 706.3h1.6v1.6h-1.6zM211.9 706.6h1.6v1.6h-1.6zM212.1 706.1h1.6v1.6h-1.6zM212.0 707.9h1.6v1.6h-1.6zM210.4 710.3h1.6v1.6h-1.6zM212.6 712.9h1.6v1.6h-1.6zM213.2 708.0h1.6v1.6h-1.6zM211.2 712.3h1.6v1.6h-1.6zM212.3 714.2h1.6v1.6h-1.6zM213.5 709.5h1.6v1.6h-1.6zM213.0 714.2h1.6v1.6h-1.6zM211.8 713.8h1.6v1.6h-1.6zM212.5 716.6h1.6v1.6h-1.6zM211.7 715.4h1.6v1.6h-1.6zM213.9 714.4h1.6v1.6h-1.6zM214.6 715.4h1.6v1.6h-1.6zM214.9 711.3h1.6v1.6h-1.6zM215.3 714.6h1.6v1.6h-1.6zM214.4 714.3h1.6v1.6h-1.6zM215.7 712.5h1.6v1.6h-1.6zM216.5 710.4h1.6v1.6h-1.6zM214.5 713.8h1.6v1.6h-1.6zM215.6 710.5h1.6v1.6h-1.6zM216.7 710.3h1.6v1.6h-1.6zM217.0 708.2h1.6v1.6h-1.6zM216.7 708.5h1.6v1.6h-1.6zM218.0 711.8h1.6v1.6h-1.6zM217.7 709.3h1.6v1.6h-1.6zM219.7 711.7h1.6v1.6h-1.6zM220.1 709.1h1.6v1.6h-1.6zM221.2 708.3h1.6v1.6h-1.6zM220.0 708.8h1.6v1.6h-1.6zM222.0 713.4h1.6v1.6h-1.6zM222.0 710.2h1.6v1.6h-1.6zM221.8 712.0h1.6v1.6h-1.6zM223.8 712.4h1.6v1.6h-1.6zM221.9 707.2h1.6v1.6h-1.6zM224.4 712.1h1.6v1.6h-1.6zM222.5 711.2h1.6v1.6h-1.6zM223.3 709.7h1.6v1.6h-1.6zM224.3 708.5h1.6v1.6h-1.6zM225.6 706.8h1.6v1.6h-1.6zM227.0 707.8h1.6v1.6h-1.6zM226.2 708.8h1.6v1.6h-1.6zM227.5 706.9h1.6v1.6h-1.6zM226.1 704.1h1.6v1.6h-1.6zM226.2 717.2h1.6v1.6h-1.6zM217.5 720.9h1.6v1.6h-1.6zM213.7 699.3h1.6v1.6h-1.6zM225.8 715.9h1.6v1.6h-1.6zM212.8 706.2h1.6v1.6h-1.6zM210.8 711.4h1.6v1.6h-1.6zM219.8 713.1h1.6v1.6h-1.6zM226.1 717.8h1.6v1.6h-1.6zM216.1 708.4h1.6v1.6h-1.6zM212.2 712.0h1.6v1.6h-1.6zM217.0 714.5h1.6v1.6h-1.6zM215.3 707.1h1.6v1.6h-1.6zM222.2 702.5h1.6v1.6h-1.6zM213.9 711.5h1.6v1.6h-1.6zM222.5 701.9h1.6v1.6h-1.6zM217.4 709.2h1.6v1.6h-1.6zM217.3 700.7h1.6v1.6h-1.6zM222.9 714.6h1.6v1.6h-1.6zM214.1 711.0h1.6v1.6h-1.6zM225.8 715.5h1.6v1.6h-1.6zM209.4 706.2h1.6v1.6h-1.6zM213.6 718.3h1.6v1.6h-1.6zM223.2 715.7h1.6v1.6h-1.6zM209.5 715.6h1.6v1.6h-1.6zM212.0 703.3h1.6v1.6h-1.6zM218.5 712.6h1.6v1.6h-1.6zM214.3 718.2h1.6v1.6h-1.6zM223.8 720.4h1.6v1.6h-1.6zM212.1 709.6h1.6v1.6h-1.6zM216.5 707.9h1.6v1.6h-1.6zM212.2 730.9h1.6v1.6h-1.6zM212.7 701.0h1.6v1.6h-1.6zM210.5 726.9h1.6v1.6h-1.6zM227.6 710.5h1.6v1.6h-1.6zM214.0 709.0h1.6v1.6h-1.6zM218.8 720.7h1.6v1.6h-1.6zM215.5 725.1h1.6v1.6h-1.6zM224.9 731.7h1.6v1.6h-1.6zM229.0 725.3h1.6v1.6h-1.6zM229.0 726.5h1.6v1.6h-1.6zM217.9 700.1h1.6v1.6h-1.6zM214.5 732.3h1.6v1.6h-1.6zM223.4 727.8h1.6v1.6h-1.6zM211.3 726.7h1.6v1.6h-1.6zM215.8 709.5h1.6v1.6h-1.6zM218.9 728.4h1.6v1.6h-1.6zM224.4 733.8h1.6v1.6h-1.6zM210.3 714.5h1.6v1.6h-1.6zM222.6 714.9h1.6v1.6h-1.6zM218.0 730.6h1.6v1.6h-1.6zM220.4 704.5h1.6v1.6h-1.6zM218.0 713.1h1.6v1.6h-1.6zM215.9 702.7h1.6v1.6h-1.6zM226.9 723.7h1.6v1.6h-1.6zM229.7 723.3h1.6v1.6h-1.6zM202.7 731.1h1.6v1.6h-1.6zM203.5 730.2h1.6v1.6h-1.6zM205.4 719.8h1.6v1.6h-1.6zM200.7 716.1h1.6v1.6h-1.6zM205.4 718.1h1.6v1.6h-1.6zM202.0 712.9h1.6v1.6h-1.6zM204.6 707.2h1.6v1.6h-1.6zM205.3 711.4h1.6v1.6h-1.6zM200.7 714.4h1.6v1.6h-1.6zM202.2 722.3h1.6v1.6h-1.6zM204.4 719.7h1.6v1.6h-1.6zM203.9 708.2h1.6v1.6h-1.6zM211.4 731.4h1.6v1.6h-1.6zM211.4 734.6h1.6v1.6h-1.6zM211.3 735.8h1.6v1.6h-1.6zM210.9 737.3h1.6v1.6h-1.6zM210.9 740.1h1.6v1.6h-1.6zM211.5 741.7h1.6v1.6h-1.6zM223.7 726.7h1.6v1.6h-1.6zM224.1 728.9h1.6v1.6h-1.6zM223.5 730.4h1.6v1.6h-1.6zM217.3 681.9h1.6v1.6h-1.6zM217.6 686.5h1.6v1.6h-1.6zM217.1 688.5h1.6v1.6h-1.6zM216.9 691.8h1.6v1.6h-1.6zM217.0 692.3h1.6v1.6h-1.6zM227.1 704.7h1.6v1.6h-1.6zM227.4 704.0h1.6v1.6h-1.6zM227.9 701.3h1.6v1.6h-1.6zM227.5 699.0h1.6v1.6h-1.6zM227.8 697.0h1.6v1.6h-1.6zM227.8 694.1h1.6v1.6h-1.6zM228.1 693.6h1.6v1.6h-1.6zM228.1 689.6h1.6v1.6h-1.6zM228.2 688.2h1.6v1.6h-1.6zM229.6 686.4h1.6v1.6h-1.6zM229.8 683.0h1.6v1.6h-1.6zM230.3 682.1h1.6v1.6h-1.6zM232.0 683.0h1.6v1.6h-1.6zM230.4 680.9h1.6v1.6h-1.6zM230.4 681.1h1.6v1.6h-1.6zM230.4 681.2h1.6v1.6h-1.6zM230.0 678.0h1.6v1.6h-1.6zM229.9 679.6h1.6v1.6h-1.6zM230.6 677.0h1.6v1.6h-1.6zM230.1 677.9h1.6v1.6h-1.6zM232.1 678.4h1.6v1.6h-1.6zM231.3 675.0h1.6v1.6h-1.6zM232.3 677.3h1.6v1.6h-1.6zM232.3 677.0h1.6v1.6h-1.6zM232.4 677.4h1.6v1.6h-1.6zM231.5 676.0h1.6v1.6h-1.6zM232.5 673.6h1.6v1.6h-1.6zM231.2 672.9h1.6v1.6h-1.6zM231.7 670.5h1.6v1.6h-1.6zM232.4 670.2h1.6v1.6h-1.6zM232.7 671.5h1.6v1.6h-1.6zM232.7 670.6h1.6v1.6h-1.6zM230.8 670.2h1.6v1.6h-1.6zM231.2 673.0h1.6v1.6h-1.6zM231.6 667.9h1.6v1.6h-1.6zM233.7 671.8h1.6v1.6h-1.6zM233.3 668.3h1.6v1.6h-1.6zM232.7 667.8h1.6v1.6h-1.6zM232.0 667.3h1.6v1.6h-1.6zM233.8 667.9h1.6v1.6h-1.6zM234.6 667.8h1.6v1.6h-1.6zM234.7 667.3h1.6v1.6h-1.6zM234.4 667.4h1.6v1.6h-1.6zM233.0 666.4h1.6v1.6h-1.6zM235.2 667.6h1.6v1.6h-1.6zM235.6 663.5h1.6v1.6h-1.6zM233.3 663.4h1.6v1.6h-1.6zM235.8 664.3h1.6v1.6h-1.6zM234.9 661.8h1.6v1.6h-1.6zM234.5 664.7h1.6v1.6h-1.6zM235.9 662.9h1.6v1.6h-1.6zM236.5 664.0h1.6v1.6h-1.6zM236.0 661.8h1.6v1.6h-1.6zM235.3 659.4h1.6v1.6h-1.6zM236.4 659.3h1.6v1.6h-1.6zM235.2 660.5h1.6v1.6h-1.6zM238.3 661.4h1.6v1.6h-1.6zM237.4 657.4h1.6v1.6h-1.6zM237.2 659.9h1.6v1.6h-1.6zM238.9 658.0h1.6v1.6h-1.6zM236.8 657.3h1.6v1.6h-1.6zM239.0 658.7h1.6v1.6h-1.6zM237.0 657.2h1.6v1.6h-1.6zM237.6 657.1h1.6v1.6h-1.6zM238.9 657.2h1.6v1.6h-1.6zM237.4 656.2h1.6v1.6h-1.6zM238.0 658.1h1.6v1.6h-1.6zM239.6 655.1h1.6v1.6h-1.6zM238.2 654.4h1.6v1.6h-1.6zM238.4 652.3h1.6v1.6h-1.6zM239.6 655.5h1.6v1.6h-1.6zM238.8 652.3h1.6v1.6h-1.6zM238.8 651.6h1.6v1.6h-1.6zM240.2 653.4h1.6v1.6h-1.6zM239.8 653.7h1.6v1.6h-1.6zM241.3 653.0h1.6v1.6h-1.6zM239.7 649.9h1.6v1.6h-1.6zM241.7 649.2h1.6v1.6h-1.6zM240.0 648.4h1.6v1.6h-1.6zM240.4 651.2h1.6v1.6h-1.6zM241.3 646.9h1.6v1.6h-1.6zM241.1 646.1h1.6v1.6h-1.6zM242.1 646.1h1.6v1.6h-1.6zM241.8 646.0h1.6v1.6h-1.6zM242.0 647.5h1.6v1.6h-1.6zM191.7 756.3h1.6v1.6h-1.6zM194.3 758.1h1.6v1.6h-1.6zM191.7 750.9h1.6v1.6h-1.6zM198.0 748.8h1.6v1.6h-1.6zM197.1 755.9h1.6v1.6h-1.6zM195.7 753.2h1.6v1.6h-1.6zM198.5 746.8h1.6v1.6h-1.6zM199.7 757.2h1.6v1.6h-1.6zM191.7 744.2h1.6v1.6h-1.6zM200.2 757.6h1.6v1.6h-1.6zM195.5 758.8h1.6v1.6h-1.6zM189.2 748.8h1.6v1.6h-1.6zM192.3 746.7h1.6v1.6h-1.6zM189.5 757.1h1.6v1.6h-1.6zM193.8 750.3h1.6v1.6h-1.6zM192.5 754.7h1.6v1.6h-1.6zM196.3 750.2h1.6v1.6h-1.6zM188.5 749.1h1.6v1.6h-1.6zM191.1 746.9h1.6v1.6h-1.6zM194.8 758.5h1.6v1.6h-1.6zM194.7 745.0h1.6v1.6h-1.6zM189.0 758.2h1.6v1.6h-1.6zM199.9 749.9h1.6v1.6h-1.6zM193.1 748.2h1.6v1.6h-1.6zM196.0 757.8h1.6v1.6h-1.6zM294.6 578.2h1.6v1.6h-1.6zM295.8 577.7h1.6v1.6h-1.6zM299.5 566.3h1.6v1.6h-1.6zM297.2 570.6h1.6v1.6h-1.6zM298.6 573.3h1.6v1.6h-1.6zM296.1 578.8h1.6v1.6h-1.6zM299.9 578.4h1.6v1.6h-1.6zM300.3 568.5h1.6v1.6h-1.6zM295.2 579.8h1.6v1.6h-1.6zM297.1 566.1h1.6v1.6h-1.6zM300.9 571.7h1.6v1.6h-1.6zM296.1 576.2h1.6v1.6h-1.6zM301.1 574.2h1.6v1.6h-1.6zM296.5 568.9h1.6v1.6h-1.6zM293.1 566.5h1.6v1.6h-1.6zM292.6 566.3h1.6v1.6h-1.6zM296.2 575.0h1.6v1.6h-1.6zM296.9 575.1h1.6v1.6h-1.6zM293.4 579.8h1.6v1.6h-1.6zM299.8 579.3h1.6v1.6h-1.6zM297.6 572.0h1.6v1.6h-1.6zM298.4 578.8h1.6v1.6h-1.6zM292.8 566.1h1.6v1.6h-1.6zM293.2 566.6h1.6v1.6h-1.6zM298.4 565.2h1.6v1.6h-1.6zM299.3 574.9h1.6v1.6h-1.6zM297.5 571.7h1.6v1.6h-1.6zM294.4 566.0h1.6v1.6h-1.6zM299.3 565.4h1.6v1.6h-1.6zM296.6 566.6h1.6v1.6h-1.6zM293.4 578.4h1.6v1.6h-1.6zM296.2 570.3h1.6v1.6h-1.6zM298.9 566.8h1.6v1.6h-1.6zM294.7 573.7h1.6v1.6h-1.6zM295.4 572.8h1.6v1.6h-1.6zM297.7 567.7h1.6v1.6h-1.6zM298.4 569.6h1.6v1.6h-1.6zM296.4 578.0h1.6v1.6h-1.6zM294.9 580.7h1.6v1.6h-1.6zM296.0 575.6h1.6v1.6h-1.6zM300.1 579.4h1.6v1.6h-1.6zM292.5 568.4h1.6v1.6h-1.6zM301.0 570.1h1.6v1.6h-1.6zM295.7 576.2h1.6v1.6h-1.6zM297.8 576.5h1.6v1.6h-1.6zM302.9 562.0h1.6v1.6h-1.6zM302.9 563.7h1.6v1.6h-1.6zM302.7 564.9h1.6v1.6h-1.6zM303.6 566.6h1.6v1.6h-1.6zM302.2 569.9h1.6v1.6h-1.6zM303.2 571.0h1.6v1.6h-1.6zM303.1 572.5h1.6v1.6h-1.6zM303.2 575.3h1.6v1.6h-1.6zM304.0 573.8h1.6v1.6h-1.6zM303.1 576.6h1.6v1.6h-1.6zM304.3 578.9h1.6v1.6h-1.6zM304.6 580.0h1.6v1.6h-1.6zM303.3 581.3h1.6v1.6h-1.6zM303.5 584.0h1.6v1.6h-1.6zM304.3 585.9h1.6v1.6h-1.6zM304.9 586.0h1.6v1.6h-1.6zM304.1 586.9h1.6v1.6h-1.6zM304.3 589.4h1.6v1.6h-1.6zM303.9 591.8h1.6v1.6h-1.6zM303.5 593.8h1.6v1.6h-1.6zM304.8 595.8h1.6v1.6h-1.6zM303.8 596.3h1.6v1.6h-1.6zM303.8 598.2h1.6v1.6h-1.6zM304.9 599.7h1.6v1.6h-1.6zM305.2 602.1h1.6v1.6h-1.6zM304.1 602.5h1.6v1.6h-1.6zM305.7 604.4h1.6v1.6h-1.6zM304.1 608.0h1.6v1.6h-1.6zM306.1 608.8h1.6v1.6h-1.6zM306.1 611.0h1.6v1.6h-1.6zM305.2 611.0h1.6v1.6h-1.6zM306.2 612.1h1.6v1.6h-1.6zM305.0 613.4h1.6v1.6h-1.6zM306.5 615.4h1.6v1.6h-1.6zM314.5 485.0h1.6v1.6h-1.6zM315.9 487.7h1.6v1.6h-1.6zM314.4 492.0h1.6v1.6h-1.6zM314.7 495.7h1.6v1.6h-1.6zM314.6 497.7h1.6v1.6h-1.6zM314.4 501.4h1.6v1.6h-1.6zM316.1 505.1h1.6v1.6h-1.6zM314.5 509.8h1.6v1.6h-1.6zM314.7 512.6h1.6v1.6h-1.6zM308.4 546.7h1.6v1.6h-1.6zM316.4 547.6h1.6v1.6h-1.6zM323.8 521.2h1.6v1.6h-1.6zM314.6 556.6h1.6v1.6h-1.6zM333.5 520.4h1.6v1.6h-1.6zM324.7 533.0h1.6v1.6h-1.6zM315.3 550.8h1.6v1.6h-1.6zM311.7 545.2h1.6v1.6h-1.6zM309.9 521.3h1.6v1.6h-1.6zM308.8 519.5h1.6v1.6h-1.6zM334.0 548.2h1.6v1.6h-1.6zM332.6 552.8h1.6v1.6h-1.6zM309.6 552.3h1.6v1.6h-1.6zM316.8 521.2h1.6v1.6h-1.6zM328.5 518.3h1.6v1.6h-1.6zM317.4 546.7h1.6v1.6h-1.6zM324.8 549.2h1.6v1.6h-1.6zM329.7 544.0h1.6v1.6h-1.6zM308.3 537.7h1.6v1.6h-1.6zM317.5 541.0h1.6v1.6h-1.6zM324.5 532.1h1.6v1.6h-1.6zM330.4 521.7h1.6v1.6h-1.6zM313.0 542.4h1.6v1.6h-1.6zM332.9 521.6h1.6v1.6h-1.6zM325.4 548.6h1.6v1.6h-1.6zM317.1 553.3h1.6v1.6h-1.6zM324.4 538.1h1.6v1.6h-1.6zM312.0 536.5h1.6v1.6h-1.6zM320.2 557.9h1.6v1.6h-1.6zM322.7 546.2h1.6v1.6h-1.6zM328.9 554.7h1.6v1.6h-1.6zM313.3 523.6h1.6v1.6h-1.6zM328.9 526.2h1.6v1.6h-1.6zM313.0 516.4h1.6v1.6h-1.6zM321.3 537.5h1.6v1.6h-1.6zM313.3 556.6h1.6v1.6h-1.6zM311.6 527.8h1.6v1.6h-1.6zM312.7 530.3h1.6v1.6h-1.6zM331.6 555.1h1.6v1.6h-1.6zM311.4 527.8h1.6v1.6h-1.6zM308.9 542.7h1.6v1.6h-1.6zM324.0 547.2h1.6v1.6h-1.6zM320.3 521.2h1.6v1.6h-1.6zM315.6 556.7h1.6v1.6h-1.6zM316.8 547.9h1.6v1.6h-1.6zM326.4 550.9h1.6v1.6h-1.6zM322.0 530.7h1.6v1.6h-1.6zM329.6 528.1h1.6v1.6h-1.6zM331.5 541.6h1.6v1.6h-1.6zM315.8 520.1h1.6v1.6h-1.6zM320.6 528.0h1.6v1.6h-1.6zM313.9 517.3h1.6v1.6h-1.6zM310.6 555.7h1.6v1.6h-1.6zM333.5 546.3h1.6v1.6h-1.6zM316.4 515.9h1.6v1.6h-1.6zM329.7 533.2h1.6v1.6h-1.6zM330.9 535.4h1.6v1.6h-1.6zM321.7 521.5h1.6v1.6h-1.6zM326.5 533.8h1.6v1.6h-1.6zM308.3 534.0h1.6v1.6h-1.6zM333.9 523.7h1.6v1.6h-1.6zM321.6 540.8h1.6v1.6h-1.6zM326.5 520.2h1.6v1.6h-1.6zM333.2 525.8h1.6v1.6h-1.6zM330.0 537.7h1.6v1.6h-1.6zM325.7 519.9h1.6v1.6h-1.6zM318.6 527.3h1.6v1.6h-1.6zM312.8 516.4h1.6v1.6h-1.6zM316.9 547.2h1.6v1.6h-1.6zM308.7 541.7h1.6v1.6h-1.6zM326.5 518.3h1.6v1.6h-1.6zM329.5 544.7h1.6v1.6h-1.6zM325.9 554.5h1.6v1.6h-1.6zM324.1 521.7h1.6v1.6h-1.6zM323.1 532.3h1.6v1.6h-1.6zM317.0 548.5h1.6v1.6h-1.6zM308.3 547.4h1.6v1.6h-1.6zM308.5 529.9h1.6v1.6h-1.6zM309.7 533.3h1.6v1.6h-1.6zM314.3 544.0h1.6v1.6h-1.6zM319.2 546.4h1.6v1.6h-1.6zM313.0 519.2h1.6v1.6h-1.6zM313.9 540.3h1.6v1.6h-1.6zM321.9 556.6h1.6v1.6h-1.6zM311.6 553.6h1.6v1.6h-1.6zM330.2 552.9h1.6v1.6h-1.6zM309.5 543.9h1.6v1.6h-1.6zM309.6 556.4h1.6v1.6h-1.6zM312.0 533.1h1.6v1.6h-1.6zM317.2 518.4h1.6v1.6h-1.6zM320.6 540.4h1.6v1.6h-1.6zM311.9 518.6h1.6v1.6h-1.6zM309.4 529.0h1.6v1.6h-1.6zM331.4 521.6h1.6v1.6h-1.6zM320.8 537.6h1.6v1.6h-1.6zM318.8 555.3h1.6v1.6h-1.6zM317.4 529.3h1.6v1.6h-1.6zM333.8 517.9h1.6v1.6h-1.6zM327.6 542.5h1.6v1.6h-1.6zM324.3 537.5h1.6v1.6h-1.6zM319.0 525.0h1.6v1.6h-1.6zM323.7 531.3h1.6v1.6h-1.6zM325.0 547.9h1.6v1.6h-1.6zM324.1 538.9h1.6v1.6h-1.6zM310.1 534.0h1.6v1.6h-1.6zM319.3 527.6h1.6v1.6h-1.6zM317.9 532.1h1.6v1.6h-1.6zM323.7 545.6h1.6v1.6h-1.6zM326.8 543.8h1.6v1.6h-1.6zM309.3 553.2h1.6v1.6h-1.6zM327.8 523.9h1.6v1.6h-1.6zM332.0 552.3h1.6v1.6h-1.6zM312.8 517.8h1.6v1.6h-1.6zM309.9 551.8h1.6v1.6h-1.6zM309.6 549.7h1.6v1.6h-1.6zM319.3 535.1h1.6v1.6h-1.6zM315.8 544.5h1.6v1.6h-1.6zM333.8 540.8h1.6v1.6h-1.6zM319.6 536.4h1.6v1.6h-1.6zM322.1 538.1h1.6v1.6h-1.6zM317.0 546.2h1.6v1.6h-1.6zM322.5 509.9h1.6v1.6h-1.6zM323.0 546.2h1.6v1.6h-1.6zM329.2 522.2h1.6v1.6h-1.6zM340.2 489.3h1.6v1.6h-1.6zM322.5 511.8h1.6v1.6h-1.6zM339.0 564.4h1.6v1.6h-1.6zM322.0 569.3h1.6v1.6h-1.6zM334.8 519.7h1.6v1.6h-1.6zM327.6 554.1h1.6v1.6h-1.6zM314.3 538.2h1.6v1.6h-1.6zM310.8 549.4h1.6v1.6h-1.6zM330.5 512.1h1.6v1.6h-1.6zM326.7 537.5h1.6v1.6h-1.6zM324.7 525.4h1.6v1.6h-1.6zM312.7 567.7h1.6v1.6h-1.6zM334.6 530.8h1.6v1.6h-1.6zM312.7 490.1h1.6v1.6h-1.6zM335.3 566.8h1.6v1.6h-1.6zM327.7 483.6h1.6v1.6h-1.6zM318.0 529.0h1.6v1.6h-1.6zM314.1 486.5h1.6v1.6h-1.6zM328.8 562.2h1.6v1.6h-1.6zM311.8 518.3h1.6v1.6h-1.6zM337.9 492.0h1.6v1.6h-1.6zM314.9 485.1h1.6v1.6h-1.6zM338.9 510.4h1.6v1.6h-1.6zM309.6 517.9h1.6v1.6h-1.6zM320.0 562.2h1.6v1.6h-1.6zM312.5 512.9h1.6v1.6h-1.6zM312.8 540.6h1.6v1.6h-1.6zM311.0 528.6h1.6v1.6h-1.6zM322.4 561.7h1.6v1.6h-1.6zM333.3 519.7h1.6v1.6h-1.6zM307.4 541.0h1.6v1.6h-1.6zM315.8 557.2h1.6v1.6h-1.6zM318.0 496.1h1.6v1.6h-1.6zM323.5 570.8h1.6v1.6h-1.6zM335.4 562.6h1.6v1.6h-1.6zM328.7 489.7h1.6v1.6h-1.6zM318.6 556.1h1.6v1.6h-1.6zM311.8 542.0h1.6v1.6h-1.6zM337.9 527.5h1.6v1.6h-1.6zM320.4 489.8h1.6v1.6h-1.6zM333.0 507.4h1.6v1.6h-1.6zM327.7 567.1h1.6v1.6h-1.6zM328.3 570.4h1.6v1.6h-1.6zM328.3 571.9h1.6v1.6h-1.6zM327.5 575.0h1.6v1.6h-1.6zM327.6 575.9h1.6v1.6h-1.6zM328.2 579.2h1.6v1.6h-1.6zM328.4 580.9h1.6v1.6h-1.6zM328.1 582.6h1.6v1.6h-1.6zM328.2 583.9h1.6v1.6h-1.6zM327.5 587.5h1.6v1.6h-1.6zM337.2 476.1h1.6v1.6h-1.6zM339.0 481.1h1.6v1.6h-1.6zM339.1 481.6h1.6v1.6h-1.6zM338.6 486.5h1.6v1.6h-1.6zM339.6 485.7h1.6v1.6h-1.6zM338.2 489.2h1.6v1.6h-1.6zM341.8 493.9h1.6v1.6h-1.6zM338.4 493.5h1.6v1.6h-1.6zM339.2 500.5h1.6v1.6h-1.6zM340.2 503.4h1.6v1.6h-1.6zM342.2 506.0h1.6v1.6h-1.6zM340.7 509.7h1.6v1.6h-1.6zM337.3 531.7h1.6v1.6h-1.6zM338.6 533.6h1.6v1.6h-1.6zM337.6 531.6h1.6v1.6h-1.6zM338.2 532.2h1.6v1.6h-1.6zM336.6 533.7h1.6v1.6h-1.6zM337.8 530.4h1.6v1.6h-1.6zM339.9 529.1h1.6v1.6h-1.6zM339.4 531.3h1.6v1.6h-1.6zM341.2 529.1h1.6v1.6h-1.6zM339.7 527.2h1.6v1.6h-1.6zM340.3 529.7h1.6v1.6h-1.6zM339.9 526.9h1.6v1.6h-1.6zM339.2 528.7h1.6v1.6h-1.6zM339.9 525.6h1.6v1.6h-1.6zM342.8 527.3h1.6v1.6h-1.6zM343.1 525.2h1.6v1.6h-1.6zM341.9 524.2h1.6v1.6h-1.6zM342.0 523.1h1.6v1.6h-1.6zM343.2 525.5h1.6v1.6h-1.6zM344.0 524.1h1.6v1.6h-1.6zM342.8 519.6h1.6v1.6h-1.6zM344.2 522.7h1.6v1.6h-1.6zM345.1 518.8h1.6v1.6h-1.6zM343.8 519.9h1.6v1.6h-1.6zM345.1 521.1h1.6v1.6h-1.6zM343.6 518.2h1.6v1.6h-1.6zM345.1 520.3h1.6v1.6h-1.6zM345.3 515.8h1.6v1.6h-1.6zM346.4 518.8h1.6v1.6h-1.6zM345.6 515.3h1.6v1.6h-1.6zM344.9 517.5h1.6v1.6h-1.6zM346.2 514.6h1.6v1.6h-1.6zM347.4 513.5h1.6v1.6h-1.6zM344.4 515.3h1.6v1.6h-1.6zM346.8 515.5h1.6v1.6h-1.6zM344.5 512.7h1.6v1.6h-1.6zM345.7 510.3h1.6v1.6h-1.6zM347.1 509.9h1.6v1.6h-1.6zM345.0 509.1h1.6v1.6h-1.6zM348.2 510.8h1.6v1.6h-1.6zM347.1 509.8h1.6v1.6h-1.6zM348.7 506.6h1.6v1.6h-1.6zM346.9 506.4h1.6v1.6h-1.6zM346.4 504.7h1.6v1.6h-1.6zM347.4 508.8h1.6v1.6h-1.6zM347.3 507.6h1.6v1.6h-1.6zM347.1 506.3h1.6v1.6h-1.6zM348.4 506.6h1.6v1.6h-1.6zM348.8 504.0h1.6v1.6h-1.6zM346.8 501.8h1.6v1.6h-1.6zM347.9 502.9h1.6v1.6h-1.6zM349.0 503.2h1.6v1.6h-1.6zM348.4 502.2h1.6v1.6h-1.6zM347.7 499.4h1.6v1.6h-1.6zM348.3 498.2h1.6v1.6h-1.6zM350.8 497.3h1.6v1.6h-1.6zM349.8 498.2h1.6v1.6h-1.6zM347.6 497.7h1.6v1.6h-1.6zM350.1 499.7h1.6v1.6h-1.6zM351.5 495.8h1.6v1.6h-1.6zM349.1 494.0h1.6v1.6h-1.6zM350.4 493.5h1.6v1.6h-1.6zM348.7 496.1h1.6v1.6h-1.6zM351.4 492.9h1.6v1.6h-1.6zM352.6 492.5h1.6v1.6h-1.6zM350.9 493.3h1.6v1.6h-1.6zM350.2 493.2h1.6v1.6h-1.6zM349.4 489.7h1.6v1.6h-1.6zM350.9 490.5h1.6v1.6h-1.6zM353.2 492.3h1.6v1.6h-1.6zM352.6 488.2h1.6v1.6h-1.6zM353.0 489.4h1.6v1.6h-1.6zM352.0 489.5h1.6v1.6h-1.6zM350.5 488.9h1.6v1.6h-1.6zM352.4 489.2h1.6v1.6h-1.6zM352.8 488.4h1.6v1.6h-1.6zM353.7 485.4h1.6v1.6h-1.6zM354.4 485.1h1.6v1.6h-1.6zM352.3 482.8h1.6v1.6h-1.6zM354.5 486.7h1.6v1.6h-1.6zM352.8 486.2h1.6v1.6h-1.6zM354.5 481.1h1.6v1.6h-1.6zM354.3 480.4h1.6v1.6h-1.6zM355.6 481.3h1.6v1.6h-1.6zM355.3 482.1h1.6v1.6h-1.6zM353.6 479.1h1.6v1.6h-1.6zM355.5 482.2h1.6v1.6h-1.6zM354.5 481.0h1.6v1.6h-1.6zM353.3 477.8h1.6v1.6h-1.6zM355.6 480.2h1.6v1.6h-1.6zM356.0 477.6h1.6v1.6h-1.6zM356.3 477.5h1.6v1.6h-1.6zM356.4 475.2h1.6v1.6h-1.6zM357.5 478.7h1.6v1.6h-1.6zM355.8 478.3h1.6v1.6h-1.6zM358.7 475.9h1.6v1.6h-1.6zM358.1 478.5h1.6v1.6h-1.6zM358.4 473.9h1.6v1.6h-1.6zM358.1 475.8h1.6v1.6h-1.6zM360.0 474.5h1.6v1.6h-1.6zM359.0 475.2h1.6v1.6h-1.6zM359.5 478.5h1.6v1.6h-1.6zM359.9 475.7h1.6v1.6h-1.6zM359.9 475.2h1.6v1.6h-1.6zM360.9 479.8h1.6v1.6h-1.6zM361.3 478.8h1.6v1.6h-1.6zM362.8 479.9h1.6v1.6h-1.6zM362.5 479.9h1.6v1.6h-1.6zM362.8 477.0h1.6v1.6h-1.6zM362.0 479.0h1.6v1.6h-1.6zM363.7 479.1h1.6v1.6h-1.6zM363.8 477.1h1.6v1.6h-1.6zM363.2 475.8h1.6v1.6h-1.6zM362.5 477.6h1.6v1.6h-1.6zM362.7 475.0h1.6v1.6h-1.6zM364.1 474.7h1.6v1.6h-1.6zM364.2 474.9h1.6v1.6h-1.6zM364.3 477.6h1.6v1.6h-1.6zM365.4 476.5h1.6v1.6h-1.6zM365.6 473.1h1.6v1.6h-1.6zM365.0 472.7h1.6v1.6h-1.6zM365.6 476.7h1.6v1.6h-1.6zM366.0 473.0h1.6v1.6h-1.6zM366.9 473.8h1.6v1.6h-1.6zM365.0 474.3h1.6v1.6h-1.6zM364.7 473.1h1.6v1.6h-1.6zM366.4 473.2h1.6v1.6h-1.6zM367.5 473.7h1.6v1.6h-1.6zM366.6 473.3h1.6v1.6h-1.6zM366.0 469.2h1.6v1.6h-1.6zM367.4 470.2h1.6v1.6h-1.6zM366.0 471.9h1.6v1.6h-1.6zM366.0 471.9h1.6v1.6h-1.6zM368.3 470.6h1.6v1.6h-1.6zM368.5 466.5h1.6v1.6h-1.6zM367.8 467.7h1.6v1.6h-1.6zM368.5 469.5h1.6v1.6h-1.6zM369.4 465.4h1.6v1.6h-1.6zM369.3 467.1h1.6v1.6h-1.6zM368.7 465.7h1.6v1.6h-1.6zM369.5 467.7h1.6v1.6h-1.6zM370.2 471.1h1.6v1.6h-1.6zM369.3 468.9h1.6v1.6h-1.6zM370.3 467.2h1.6v1.6h-1.6zM370.0 469.4h1.6v1.6h-1.6zM371.2 471.4h1.6v1.6h-1.6zM371.3 468.2h1.6v1.6h-1.6zM369.6 472.3h1.6v1.6h-1.6zM370.5 469.2h1.6v1.6h-1.6zM372.9 472.6h1.6v1.6h-1.6zM373.0 470.2h1.6v1.6h-1.6zM372.9 473.5h1.6v1.6h-1.6zM372.2 470.8h1.6v1.6h-1.6zM373.3 470.6h1.6v1.6h-1.6zM373.6 471.5h1.6v1.6h-1.6zM374.5 472.3h1.6v1.6h-1.6zM372.5 471.9h1.6v1.6h-1.6zM373.0 475.7h1.6v1.6h-1.6zM373.4 476.8h1.6v1.6h-1.6zM373.7 473.8h1.6v1.6h-1.6zM374.1 473.3h1.6v1.6h-1.6zM376.3 477.1h1.6v1.6h-1.6zM374.4 475.8h1.6v1.6h-1.6zM376.3 475.1h1.6v1.6h-1.6zM375.3 475.3h1.6v1.6h-1.6zM377.7 478.0h1.6v1.6h-1.6zM377.4 477.8h1.6v1.6h-1.6zM375.6 478.6h1.6v1.6h-1.6zM377.1 477.6h1.6v1.6h-1.6zM378.0 479.4h1.6v1.6h-1.6zM378.1 480.3h1.6v1.6h-1.6zM377.0 476.8h1.6v1.6h-1.6zM379.9 479.3h1.6v1.6h-1.6zM378.2 480.4h1.6v1.6h-1.6zM379.3 478.0h1.6v1.6h-1.6zM377.7 483.2h1.6v1.6h-1.6zM378.7 479.5h1.6v1.6h-1.6zM378.6 481.0h1.6v1.6h-1.6zM380.8 484.1h1.6v1.6h-1.6zM380.4 482.2h1.6v1.6h-1.6zM379.1 484.8h1.6v1.6h-1.6zM380.2 483.9h1.6v1.6h-1.6zM381.5 482.5h1.6v1.6h-1.6zM379.5 486.1h1.6v1.6h-1.6zM379.3 482.6h1.6v1.6h-1.6zM381.3 486.4h1.6v1.6h-1.6zM382.2 486.0h1.6v1.6h-1.6zM381.5 487.7h1.6v1.6h-1.6zM380.9 485.7h1.6v1.6h-1.6zM382.4 488.8h1.6v1.6h-1.6zM381.1 486.6h1.6v1.6h-1.6zM381.4 486.9h1.6v1.6h-1.6zM380.7 485.1h1.6v1.6h-1.6zM383.4 483.5h1.6v1.6h-1.6zM383.8 485.3h1.6v1.6h-1.6zM382.2 484.4h1.6v1.6h-1.6zM381.6 484.3h1.6v1.6h-1.6zM383.3 485.3h1.6v1.6h-1.6zM382.1 482.2h1.6v1.6h-1.6zM381.7 482.2h1.6v1.6h-1.6zM382.8 483.4h1.6v1.6h-1.6zM382.0 482.3h1.6v1.6h-1.6zM384.2 483.3h1.6v1.6h-1.6zM382.4 483.3h1.6v1.6h-1.6zM383.4 479.0h1.6v1.6h-1.6zM383.6 483.3h1.6v1.6h-1.6zM383.2 480.9h1.6v1.6h-1.6zM385.5 480.7h1.6v1.6h-1.6zM385.7 477.4h1.6v1.6h-1.6zM384.4 478.9h1.6v1.6h-1.6zM384.4 481.1h1.6v1.6h-1.6zM383.9 477.5h1.6v1.6h-1.6zM386.0 476.6h1.6v1.6h-1.6zM385.7 476.8h1.6v1.6h-1.6zM386.6 475.8h1.6v1.6h-1.6zM387.1 474.4h1.6v1.6h-1.6zM386.0 478.1h1.6v1.6h-1.6zM386.9 475.8h1.6v1.6h-1.6zM385.5 474.9h1.6v1.6h-1.6zM385.0 476.2h1.6v1.6h-1.6zM386.1 476.4h1.6v1.6h-1.6zM387.8 476.6h1.6v1.6h-1.6zM386.8 474.4h1.6v1.6h-1.6zM386.5 471.0h1.6v1.6h-1.6zM386.3 472.9h1.6v1.6h-1.6zM388.5 471.8h1.6v1.6h-1.6zM388.5 473.5h1.6v1.6h-1.6zM387.4 471.5h1.6v1.6h-1.6zM386.7 470.8h1.6v1.6h-1.6zM389.2 470.1h1.6v1.6h-1.6zM388.4 469.5h1.6v1.6h-1.6zM388.3 470.9h1.6v1.6h-1.6zM387.9 467.8h1.6v1.6h-1.6zM390.2 468.1h1.6v1.6h-1.6zM389.2 467.5h1.6v1.6h-1.6zM387.6 468.8h1.6v1.6h-1.6zM389.1 467.7h1.6v1.6h-1.6zM389.6 469.6h1.6v1.6h-1.6zM389.9 469.0h1.6v1.6h-1.6zM390.6 465.6h1.6v1.6h-1.6zM390.2 467.1h1.6v1.6h-1.6zM388.7 465.6h1.6v1.6h-1.6zM389.5 465.9h1.6v1.6h-1.6zM391.4 464.0h1.6v1.6h-1.6zM390.9 463.4h1.6v1.6h-1.6zM390.5 463.2h1.6v1.6h-1.6zM392.0 462.9h1.6v1.6h-1.6zM390.1 461.6h1.6v1.6h-1.6zM392.2 464.5h1.6v1.6h-1.6zM391.4 460.9h1.6v1.6h-1.6zM391.9 462.1h1.6v1.6h-1.6zM392.2 460.0h1.6v1.6h-1.6zM391.5 460.1h1.6v1.6h-1.6zM391.3 461.9h1.6v1.6h-1.6zM391.2 460.1h1.6v1.6h-1.6zM392.6 461.6h1.6v1.6h-1.6zM393.0 460.4h1.6v1.6h-1.6zM392.1 458.9h1.6v1.6h-1.6zM392.7 457.9h1.6v1.6h-1.6zM394.0 458.4h1.6v1.6h-1.6zM392.3 457.3h1.6v1.6h-1.6zM394.2 455.1h1.6v1.6h-1.6zM394.7 457.7h1.6v1.6h-1.6zM393.5 455.5h1.6v1.6h-1.6zM393.8 453.6h1.6v1.6h-1.6zM394.5 456.3h1.6v1.6h-1.6zM393.4 454.2h1.6v1.6h-1.6zM394.4 455.8h1.6v1.6h-1.6zM395.4 454.6h1.6v1.6h-1.6zM395.8 455.8h1.6v1.6h-1.6zM395.8 453.9h1.6v1.6h-1.6zM397.0 455.8h1.6v1.6h-1.6zM395.1 456.9h1.6v1.6h-1.6zM396.0 455.9h1.6v1.6h-1.6zM396.0 458.6h1.6v1.6h-1.6zM396.8 455.4h1.6v1.6h-1.6zM397.5 456.1h1.6v1.6h-1.6zM397.0 455.5h1.6v1.6h-1.6zM396.9 459.1h1.6v1.6h-1.6zM399.0 459.8h1.6v1.6h-1.6zM398.2 455.0h1.6v1.6h-1.6zM398.5 456.5h1.6v1.6h-1.6zM399.4 456.3h1.6v1.6h-1.6zM399.1 455.5h1.6v1.6h-1.6zM399.6 453.3h1.6v1.6h-1.6zM399.4 456.1h1.6v1.6h-1.6zM400.6 455.6h1.6v1.6h-1.6zM400.2 452.7h1.6v1.6h-1.6zM399.6 452.5h1.6v1.6h-1.6zM401.2 451.0h1.6v1.6h-1.6zM401.3 454.8h1.6v1.6h-1.6zM401.4 452.4h1.6v1.6h-1.6zM400.7 453.9h1.6v1.6h-1.6zM401.6 453.1h1.6v1.6h-1.6zM401.7 450.2h1.6v1.6h-1.6zM400.3 448.6h1.6v1.6h-1.6zM401.3 452.5h1.6v1.6h-1.6zM403.4 451.4h1.6v1.6h-1.6zM403.8 449.7h1.6v1.6h-1.6zM401.4 448.0h1.6v1.6h-1.6zM403.3 450.0h1.6v1.6h-1.6zM403.0 447.7h1.6v1.6h-1.6zM403.9 447.3h1.6v1.6h-1.6zM403.5 447.7h1.6v1.6h-1.6zM404.0 448.8h1.6v1.6h-1.6zM404.2 447.5h1.6v1.6h-1.6zM403.1 447.7h1.6v1.6h-1.6zM403.2 446.2h1.6v1.6h-1.6zM405.5 445.2h1.6v1.6h-1.6zM405.4 445.7h1.6v1.6h-1.6zM402.8 444.6h1.6v1.6h-1.6zM405.2 445.0h1.6v1.6h-1.6zM403.3 445.7h1.6v1.6h-1.6zM403.4 442.5h1.6v1.6h-1.6zM406.1 441.1h1.6v1.6h-1.6zM405.0 443.6h1.6v1.6h-1.6zM406.2 440.8h1.6v1.6h-1.6zM406.4 438.9h1.6v1.6h-1.6zM405.2 441.2h1.6v1.6h-1.6zM404.7 439.0h1.6v1.6h-1.6zM406.0 438.3h1.6v1.6h-1.6zM405.0 441.1h1.6v1.6h-1.6zM406.8 440.1h1.6v1.6h-1.6zM404.2 438.0h1.6v1.6h-1.6zM406.5 440.5h1.6v1.6h-1.6zM407.0 435.6h1.6v1.6h-1.6zM404.4 438.6h1.6v1.6h-1.6zM404.7 437.2h1.6v1.6h-1.6zM404.5 438.4h1.6v1.6h-1.6zM404.6 436.0h1.6v1.6h-1.6zM406.7 437.0h1.6v1.6h-1.6zM406.6 435.2h1.6v1.6h-1.6zM404.8 433.6h1.6v1.6h-1.6zM404.9 436.7h1.6v1.6h-1.6zM405.4 432.3h1.6v1.6h-1.6zM405.8 431.6h1.6v1.6h-1.6zM405.9 434.0h1.6v1.6h-1.6zM408.0 433.8h1.6v1.6h-1.6zM406.7 432.8h1.6v1.6h-1.6zM407.8 431.6h1.6v1.6h-1.6zM407.5 430.5h1.6v1.6h-1.6zM406.0 431.1h1.6v1.6h-1.6zM406.7 428.4h1.6v1.6h-1.6zM406.3 427.7h1.6v1.6h-1.6zM406.2 427.3h1.6v1.6h-1.6zM407.6 430.0h1.6v1.6h-1.6zM408.9 428.5h1.6v1.6h-1.6zM406.6 429.6h1.6v1.6h-1.6zM407.2 429.9h1.6v1.6h-1.6zM407.0 426.9h1.6v1.6h-1.6zM407.8 424.6h1.6v1.6h-1.6zM408.1 425.3h1.6v1.6h-1.6zM407.7 428.6h1.6v1.6h-1.6zM409.4 425.0h1.6v1.6h-1.6zM408.8 424.8h1.6v1.6h-1.6zM409.2 422.8h1.6v1.6h-1.6zM409.5 424.4h1.6v1.6h-1.6zM407.8 423.3h1.6v1.6h-1.6zM407.3 421.7h1.6v1.6h-1.6zM407.7 421.5h1.6v1.6h-1.6zM407.6 423.0h1.6v1.6h-1.6zM409.5 422.6h1.6v1.6h-1.6zM408.6 423.5h1.6v1.6h-1.6zM409.5 422.0h1.6v1.6h-1.6zM408.1 420.8h1.6v1.6h-1.6zM409.1 419.7h1.6v1.6h-1.6zM409.4 417.8h1.6v1.6h-1.6zM407.3 421.0h1.6v1.6h-1.6zM409.8 418.3h1.6v1.6h-1.6zM407.5 419.6h1.6v1.6h-1.6zM407.3 419.9h1.6v1.6h-1.6zM408.9 418.6h1.6v1.6h-1.6zM408.2 416.6h1.6v1.6h-1.6zM407.2 415.4h1.6v1.6h-1.6zM407.5 415.8h1.6v1.6h-1.6zM408.0 416.8h1.6v1.6h-1.6zM408.3 420.7h1.6v1.6h-1.6zM407.9 423.0h1.6v1.6h-1.6zM409.9 425.9h1.6v1.6h-1.6zM409.6 427.1h1.6v1.6h-1.6zM409.0 431.9h1.6v1.6h-1.6zM409.8 432.6h1.6v1.6h-1.6zM409.7 435.0h1.6v1.6h-1.6zM409.2 438.2h1.6v1.6h-1.6zM408.9 439.1h1.6v1.6h-1.6zM410.4 442.7h1.6v1.6h-1.6zM408.8 446.5h1.6v1.6h-1.6zM409.3 448.3h1.6v1.6h-1.6zM410.0 449.5h1.6v1.6h-1.6zM410.3 453.9h1.6v1.6h-1.6zM409.8 455.7h1.6v1.6h-1.6zM410.6 457.1h1.6v1.6h-1.6zM410.7 460.7h1.6v1.6h-1.6zM410.0 462.7h1.6v1.6h-1.6zM411.5 463.3h1.6v1.6h-1.6zM409.8 466.7h1.6v1.6h-1.6zM411.1 468.4h1.6v1.6h-1.6zM411.7 473.4h1.6v1.6h-1.6zM411.9 474.8h1.6v1.6h-1.6zM410.3 476.3h1.6v1.6h-1.6zM411.1 479.8h1.6v1.6h-1.6zM411.6 482.3h1.6v1.6h-1.6zM410.7 483.4h1.6v1.6h-1.6zM411.6 486.9h1.6v1.6h-1.6zM411.3 490.1h1.6v1.6h-1.6zM411.8 492.0h1.6v1.6h-1.6zM424.9 525.8h1.6v1.6h-1.6zM412.5 545.2h1.6v1.6h-1.6zM424.9 497.2h1.6v1.6h-1.6zM413.6 530.3h1.6v1.6h-1.6zM417.1 539.7h1.6v1.6h-1.6zM424.2 504.1h1.6v1.6h-1.6zM421.5 546.2h1.6v1.6h-1.6zM414.1 507.2h1.6v1.6h-1.6zM423.1 527.5h1.6v1.6h-1.6zM417.5 537.9h1.6v1.6h-1.6zM413.2 539.6h1.6v1.6h-1.6zM427.1 521.4h1.6v1.6h-1.6zM426.1 509.5h1.6v1.6h-1.6zM419.8 516.9h1.6v1.6h-1.6zM420.8 512.7h1.6v1.6h-1.6zM427.5 541.7h1.6v1.6h-1.6zM412.3 547.3h1.6v1.6h-1.6zM419.2 533.5h1.6v1.6h-1.6zM417.6 498.0h1.6v1.6h-1.6zM423.9 521.7h1.6v1.6h-1.6zM416.0 500.4h1.6v1.6h-1.6zM424.4 505.4h1.6v1.6h-1.6zM415.7 545.3h1.6v1.6h-1.6zM421.4 541.3h1.6v1.6h-1.6zM427.4 493.4h1.6v1.6h-1.6zM414.3 530.9h1.6v1.6h-1.6zM421.5 493.5h1.6v1.6h-1.6zM427.4 548.4h1.6v1.6h-1.6zM413.5 526.7h1.6v1.6h-1.6zM422.2 549.1h1.6v1.6h-1.6zM411.9 515.3h1.6v1.6h-1.6zM414.7 524.2h1.6v1.6h-1.6zM421.1 528.6h1.6v1.6h-1.6zM422.0 514.8h1.6v1.6h-1.6zM413.8 499.8h1.6v1.6h-1.6zM414.0 548.4h1.6v1.6h-1.6zM422.5 512.3h1.6v1.6h-1.6zM426.7 497.4h1.6v1.6h-1.6zM420.5 534.8h1.6v1.6h-1.6zM417.5 542.2h1.6v1.6h-1.6zM422.0 535.4h1.6v1.6h-1.6zM413.8 523.6h1.6v1.6h-1.6zM417.3 547.6h1.6v1.6h-1.6zM425.8 541.5h1.6v1.6h-1.6zM417.3 524.3h1.6v1.6h-1.6zM420.2 535.0h1.6v1.6h-1.6zM424.3 534.0h1.6v1.6h-1.6zM412.2 506.7h1.6v1.6h-1.6zM425.9 535.1h1.6v1.6h-1.6zM417.0 498.6h1.6v1.6h-1.6zM424.8 557.5h1.6v1.6h-1.6zM425.5 560.7h1.6v1.6h-1.6zM427.6 568.9h1.6v1.6h-1.6zM428.2 575.1h1.6v1.6h-1.6zM428.2 581.1h1.6v1.6h-1.6zM427.7 591.4h1.6v1.6h-1.6zM427.8 598.8h1.6v1.6h-1.6zM428.1 610.2h1.6v1.6h-1.6zM428.8 614.5h1.6v1.6h-1.6zM429.5 622.9h1.6v1.6h-1.6zM429.4 632.9h1.6v1.6h-1.6zM429.5 638.6h1.6v1.6h-1.6zM429.9 646.8h1.6v1.6h-1.6zM431.0 651.6h1.6v1.6h-1.6zM430.4 659.0h1.6v1.6h-1.6zM430.5 672.1h1.6v1.6h-1.6zM430.9 675.3h1.6v1.6h-1.6zM430.9 685.2h1.6v1.6h-1.6zM431.5 696.8h1.6v1.6h-1.6zM432.2 706.0h1.6v1.6h-1.6zM432.0 711.3h1.6v1.6h-1.6zM433.1 723.7h1.6v1.6h-1.6zM433.0 731.7h1.6v1.6h-1.6zM433.4 741.0h1.6v1.6h-1.6zM432.6 741.7h1.6v1.6h-1.6zM433.2 751.6h1.6v1.6h-1.6zM433.9 760.9h1.6v1.6h-1.6zM433.8 768.2h1.6v1.6h-1.6zM433.6 780.6h1.6v1.6h-1.6zM434.1 782.5h1.6v1.6h-1.6zM434.8 793.5h1.6v1.6h-1.6zM434.1 800.4h1.6v1.6h-1.6zM434.5 805.3h1.6v1.6h-1.6zM435.2 820.2h1.6v1.6h-1.6zM435.0 822.1h1.6v1.6h-1.6zM434.9 829.4h1.6v1.6h-1.6zM435.5 845.4h1.6v1.6h-1.6zM434.9 850.1h1.6v1.6h-1.6zM435.1 855.5h1.6v1.6h-1.6zM435.3 867.6h1.6v1.6h-1.6zM435.7 872.5h1.6v1.6h-1.6zM487.2 276.2h1.6v1.6h-1.6zM487.2 329.2h1.6v1.6h-1.6zM486.8 429.2h1.6v1.6h-1.6zM487.0 477.2h1.6v1.6h-1.6zM487.1 522.0h1.6v1.6h-1.6zM486.7 572.4h1.6v1.6h-1.6zM487.3 618.9h1.6v1.6h-1.6zM487.3 664.6h1.6v1.6h-1.6zM487.4 716.0h1.6v1.6h-1.6zM487.2 755.7h1.6v1.6h-1.6zM487.2 802.9h1.6v1.6h-1.6zM487.3 839.0h1.6v1.6h-1.6zM487.2 880.0h1.6v1.6h-1.6zM468.5 349.2h1.6v1.6h-1.6zM468.5 500.2h1.6v1.6h-1.6zM469.0 643.2h1.6v1.6h-1.6zM469.0 795.1h1.6v1.6h-1.6zM554.9 879.6h1.6v1.6h-1.6zM554.4 879.7h1.6v1.6h-1.6zM552.8 879.9h1.6v1.6h-1.6zM553.0 875.9h1.6v1.6h-1.6zM555.2 874.1h1.6v1.6h-1.6zM554.5 875.8h1.6v1.6h-1.6zM555.1 874.4h1.6v1.6h-1.6zM553.9 874.7h1.6v1.6h-1.6zM555.2 869.9h1.6v1.6h-1.6zM555.8 871.5h1.6v1.6h-1.6zM556.5 869.2h1.6v1.6h-1.6zM555.0 867.0h1.6v1.6h-1.6zM555.9 866.4h1.6v1.6h-1.6zM556.2 870.0h1.6v1.6h-1.6zM554.3 865.8h1.6v1.6h-1.6zM556.7 863.5h1.6v1.6h-1.6zM556.4 862.0h1.6v1.6h-1.6zM556.9 863.1h1.6v1.6h-1.6zM554.6 862.6h1.6v1.6h-1.6zM555.1 860.7h1.6v1.6h-1.6zM555.3 862.2h1.6v1.6h-1.6zM557.8 862.2h1.6v1.6h-1.6zM555.4 858.6h1.6v1.6h-1.6zM556.8 858.8h1.6v1.6h-1.6zM558.0 856.3h1.6v1.6h-1.6zM555.9 854.9h1.6v1.6h-1.6zM556.9 856.0h1.6v1.6h-1.6zM555.8 855.2h1.6v1.6h-1.6zM555.6 854.9h1.6v1.6h-1.6zM557.6 856.2h1.6v1.6h-1.6zM557.2 855.2h1.6v1.6h-1.6zM558.5 849.7h1.6v1.6h-1.6zM556.3 849.9h1.6v1.6h-1.6zM557.4 849.9h1.6v1.6h-1.6zM557.1 848.5h1.6v1.6h-1.6zM558.6 847.8h1.6v1.6h-1.6zM558.7 849.4h1.6v1.6h-1.6zM559.3 844.4h1.6v1.6h-1.6zM558.7 848.3h1.6v1.6h-1.6zM558.6 842.1h1.6v1.6h-1.6zM558.7 841.4h1.6v1.6h-1.6zM557.3 841.6h1.6v1.6h-1.6zM557.3 839.2h1.6v1.6h-1.6zM559.4 843.0h1.6v1.6h-1.6zM557.8 837.5h1.6v1.6h-1.6zM560.0 841.7h1.6v1.6h-1.6zM558.3 837.7h1.6v1.6h-1.6zM559.2 838.8h1.6v1.6h-1.6zM557.7 834.6h1.6v1.6h-1.6zM558.0 837.4h1.6v1.6h-1.6zM558.6 837.4h1.6v1.6h-1.6zM558.3 835.2h1.6v1.6h-1.6zM559.0 836.3h1.6v1.6h-1.6zM559.3 838.7h1.6v1.6h-1.6zM560.8 841.4h1.6v1.6h-1.6zM561.1 842.2h1.6v1.6h-1.6zM559.3 840.3h1.6v1.6h-1.6zM560.7 844.4h1.6v1.6h-1.6zM560.3 844.8h1.6v1.6h-1.6zM559.7 842.1h1.6v1.6h-1.6zM561.0 847.5h1.6v1.6h-1.6zM560.8 845.6h1.6v1.6h-1.6zM561.6 847.1h1.6v1.6h-1.6zM562.9 846.3h1.6v1.6h-1.6zM562.5 846.6h1.6v1.6h-1.6zM560.7 849.7h1.6v1.6h-1.6zM561.2 849.0h1.6v1.6h-1.6zM561.0 848.9h1.6v1.6h-1.6zM563.0 846.0h1.6v1.6h-1.6zM563.1 844.9h1.6v1.6h-1.6zM561.4 844.3h1.6v1.6h-1.6zM563.8 847.0h1.6v1.6h-1.6zM561.9 844.4h1.6v1.6h-1.6zM561.3 840.6h1.6v1.6h-1.6zM561.5 843.7h1.6v1.6h-1.6zM561.4 838.6h1.6v1.6h-1.6zM564.0 839.8h1.6v1.6h-1.6zM562.3 839.1h1.6v1.6h-1.6zM562.7 841.0h1.6v1.6h-1.6zM562.9 839.4h1.6v1.6h-1.6zM562.2 839.4h1.6v1.6h-1.6zM563.7 832.3h1.6v1.6h-1.6zM564.1 836.8h1.6v1.6h-1.6zM563.4 834.1h1.6v1.6h-1.6zM564.6 833.2h1.6v1.6h-1.6zM563.7 830.4h1.6v1.6h-1.6zM563.2 832.7h1.6v1.6h-1.6zM563.4 827.1h1.6v1.6h-1.6zM565.4 828.8h1.6v1.6h-1.6zM564.2 826.2h1.6v1.6h-1.6zM563.7 825.7h1.6v1.6h-1.6zM563.7 823.8h1.6v1.6h-1.6zM563.2 824.5h1.6v1.6h-1.6zM565.9 825.8h1.6v1.6h-1.6zM564.4 826.0h1.6v1.6h-1.6zM563.9 820.1h1.6v1.6h-1.6zM566.0 822.8h1.6v1.6h-1.6zM565.8 818.4h1.6v1.6h-1.6zM566.0 817.7h1.6v1.6h-1.6zM563.5 820.2h1.6v1.6h-1.6zM566.0 821.0h1.6v1.6h-1.6zM564.9 820.2h1.6v1.6h-1.6zM564.0 818.6h1.6v1.6h-1.6zM567.0 813.4h1.6v1.6h-1.6zM564.8 815.2h1.6v1.6h-1.6zM566.8 813.9h1.6v1.6h-1.6zM567.9 814.5h1.6v1.6h-1.6zM568.0 812.4h1.6v1.6h-1.6zM568.2 812.9h1.6v1.6h-1.6zM568.6 813.3h1.6v1.6h-1.6zM567.0 811.5h1.6v1.6h-1.6zM566.6 806.8h1.6v1.6h-1.6zM568.8 810.0h1.6v1.6h-1.6zM567.4 806.4h1.6v1.6h-1.6zM568.9 804.2h1.6v1.6h-1.6zM567.2 803.1h1.6v1.6h-1.6zM567.8 802.4h1.6v1.6h-1.6zM567.5 805.9h1.6v1.6h-1.6zM569.5 805.7h1.6v1.6h-1.6zM569.6 803.4h1.6v1.6h-1.6zM570.1 798.9h1.6v1.6h-1.6zM568.0 801.4h1.6v1.6h-1.6zM568.3 799.3h1.6v1.6h-1.6zM570.3 801.4h1.6v1.6h-1.6zM569.3 798.1h1.6v1.6h-1.6zM568.6 799.0h1.6v1.6h-1.6zM570.1 798.3h1.6v1.6h-1.6zM571.0 793.5h1.6v1.6h-1.6zM570.8 794.5h1.6v1.6h-1.6zM571.3 795.2h1.6v1.6h-1.6zM571.0 792.0h1.6v1.6h-1.6zM569.0 789.9h1.6v1.6h-1.6zM571.3 787.6h1.6v1.6h-1.6zM569.5 787.9h1.6v1.6h-1.6zM571.4 788.2h1.6v1.6h-1.6zM569.9 786.4h1.6v1.6h-1.6zM570.9 787.9h1.6v1.6h-1.6zM571.6 785.6h1.6v1.6h-1.6zM569.9 786.7h1.6v1.6h-1.6zM570.0 781.8h1.6v1.6h-1.6zM571.3 785.5h1.6v1.6h-1.6zM570.0 789.9h1.6v1.6h-1.6zM569.7 784.1h1.6v1.6h-1.6zM572.4 787.9h1.6v1.6h-1.6zM572.6 790.6h1.6v1.6h-1.6zM573.4 788.1h1.6v1.6h-1.6zM573.1 787.9h1.6v1.6h-1.6zM573.0 781.6h1.6v1.6h-1.6zM570.5 783.9h1.6v1.6h-1.6zM571.1 789.0h1.6v1.6h-1.6zM571.7 787.4h1.6v1.6h-1.6zM570.6 788.1h1.6v1.6h-1.6zM572.8 787.8h1.6v1.6h-1.6zM572.0 786.7h1.6v1.6h-1.6zM571.6 778.1h1.6v1.6h-1.6zM572.1 777.2h1.6v1.6h-1.6zM572.0 778.1h1.6v1.6h-1.6zM572.7 777.1h1.6v1.6h-1.6zM575.4 785.8h1.6v1.6h-1.6zM573.3 775.7h1.6v1.6h-1.6zM575.0 774.9h1.6v1.6h-1.6zM572.6 781.4h1.6v1.6h-1.6zM573.9 782.2h1.6v1.6h-1.6zM574.2 774.5h1.6v1.6h-1.6zM574.4 781.2h1.6v1.6h-1.6zM573.1 780.6h1.6v1.6h-1.6zM576.2 781.2h1.6v1.6h-1.6zM573.5 775.9h1.6v1.6h-1.6zM573.3 772.2h1.6v1.6h-1.6zM574.6 771.2h1.6v1.6h-1.6zM573.2 772.2h1.6v1.6h-1.6zM574.9 779.0h1.6v1.6h-1.6zM577.3 777.4h1.6v1.6h-1.6zM574.4 776.8h1.6v1.6h-1.6zM574.9 775.5h1.6v1.6h-1.6zM575.0 772.3h1.6v1.6h-1.6zM576.8 774.3h1.6v1.6h-1.6zM576.2 770.7h1.6v1.6h-1.6zM576.2 770.1h1.6v1.6h-1.6zM575.9 766.2h1.6v1.6h-1.6zM576.6 772.8h1.6v1.6h-1.6zM575.2 774.7h1.6v1.6h-1.6zM575.8 771.2h1.6v1.6h-1.6zM576.0 769.5h1.6v1.6h-1.6zM578.4 769.9h1.6v1.6h-1.6zM579.3 765.6h1.6v1.6h-1.6zM576.7 768.2h1.6v1.6h-1.6zM579.6 763.7h1.6v1.6h-1.6zM579.9 765.5h1.6v1.6h-1.6zM578.1 764.0h1.6v1.6h-1.6zM577.1 765.9h1.6v1.6h-1.6zM577.7 761.9h1.6v1.6h-1.6zM580.4 763.9h1.6v1.6h-1.6zM578.0 759.4h1.6v1.6h-1.6zM579.9 766.1h1.6v1.6h-1.6zM577.4 764.3h1.6v1.6h-1.6zM579.7 763.0h1.6v1.6h-1.6zM579.5 762.8h1.6v1.6h-1.6zM580.5 759.0h1.6v1.6h-1.6zM579.9 761.0h1.6v1.6h-1.6zM581.8 763.7h1.6v1.6h-1.6zM578.7 760.4h1.6v1.6h-1.6zM579.3 763.4h1.6v1.6h-1.6zM580.9 762.2h1.6v1.6h-1.6zM579.0 754.1h1.6v1.6h-1.6zM580.0 754.5h1.6v1.6h-1.6zM579.6 754.9h1.6v1.6h-1.6zM581.8 761.7h1.6v1.6h-1.6zM579.6 762.0h1.6v1.6h-1.6zM582.3 760.4h1.6v1.6h-1.6zM580.0 751.5h1.6v1.6h-1.6zM582.3 755.7h1.6v1.6h-1.6zM582.7 750.5h1.6v1.6h-1.6zM582.5 758.8h1.6v1.6h-1.6zM582.5 752.5h1.6v1.6h-1.6zM584.3 754.1h1.6v1.6h-1.6zM580.9 750.2h1.6v1.6h-1.6zM582.1 750.8h1.6v1.6h-1.6zM581.3 747.5h1.6v1.6h-1.6zM582.1 747.1h1.6v1.6h-1.6zM584.8 752.4h1.6v1.6h-1.6zM582.6 746.7h1.6v1.6h-1.6zM583.4 754.6h1.6v1.6h-1.6zM585.0 750.8h1.6v1.6h-1.6zM583.3 753.8h1.6v1.6h-1.6zM582.7 746.1h1.6v1.6h-1.6zM585.8 748.2h1.6v1.6h-1.6zM582.8 750.1h1.6v1.6h-1.6zM582.5 744.1h1.6v1.6h-1.6zM585.1 749.4h1.6v1.6h-1.6zM586.1 745.6h1.6v1.6h-1.6zM585.7 747.5h1.6v1.6h-1.6zM585.6 750.3h1.6v1.6h-1.6zM586.1 749.4h1.6v1.6h-1.6zM586.4 742.9h1.6v1.6h-1.6zM586.6 748.7h1.6v1.6h-1.6zM586.2 738.6h1.6v1.6h-1.6zM586.6 744.6h1.6v1.6h-1.6zM584.2 742.4h1.6v1.6h-1.6zM585.3 745.2h1.6v1.6h-1.6zM585.4 741.3h1.6v1.6h-1.6zM585.1 739.7h1.6v1.6h-1.6zM586.0 737.2h1.6v1.6h-1.6zM585.2 745.1h1.6v1.6h-1.6zM675.2 600.5h1.6v1.6h-1.6zM673.9 597.2h1.6v1.6h-1.6zM676.6 597.5h1.6v1.6h-1.6zM677.6 593.5h1.6v1.6h-1.6zM674.8 591.4h1.6v1.6h-1.6zM674.3 592.6h1.6v1.6h-1.6zM676.1 589.3h1.6v1.6h-1.6zM673.8 585.2h1.6v1.6h-1.6zM677.6 581.8h1.6v1.6h-1.6zM677.4 583.8h1.6v1.6h-1.6zM676.3 580.7h1.6v1.6h-1.6zM675.7 579.0h1.6v1.6h-1.6zM677.3 576.1h1.6v1.6h-1.6zM674.3 576.2h1.6v1.6h-1.6zM675.8 570.8h1.6v1.6h-1.6zM675.4 569.2h1.6v1.6h-1.6zM675.2 566.6h1.6v1.6h-1.6zM675.6 564.9h1.6v1.6h-1.6zM677.2 566.6h1.6v1.6h-1.6zM676.3 560.6h1.6v1.6h-1.6zM674.9 560.0h1.6v1.6h-1.6zM675.8 560.8h1.6v1.6h-1.6zM678.0 557.3h1.6v1.6h-1.6zM675.8 553.8h1.6v1.6h-1.6zM676.0 552.1h1.6v1.6h-1.6zM678.0 552.6h1.6v1.6h-1.6zM676.8 549.6h1.6v1.6h-1.6zM678.1 545.2h1.6v1.6h-1.6zM676.5 547.2h1.6v1.6h-1.6zM677.9 542.8h1.6v1.6h-1.6zM677.1 539.1h1.6v1.6h-1.6zM676.6 539.3h1.6v1.6h-1.6zM678.1 536.4h1.6v1.6h-1.6zM677.5 565.7h1.6v1.6h-1.6zM678.4 566.4h1.6v1.6h-1.6zM677.5 568.6h1.6v1.6h-1.6zM679.5 569.2h1.6v1.6h-1.6zM680.2 568.1h1.6v1.6h-1.6zM679.2 567.8h1.6v1.6h-1.6zM678.8 564.6h1.6v1.6h-1.6zM680.3 563.4h1.6v1.6h-1.6zM679.3 566.0h1.6v1.6h-1.6zM680.7 564.8h1.6v1.6h-1.6zM680.3 571.1h1.6v1.6h-1.6zM681.5 571.0h1.6v1.6h-1.6zM682.2 573.0h1.6v1.6h-1.6zM682.5 567.7h1.6v1.6h-1.6zM683.1 572.8h1.6v1.6h-1.6zM683.0 567.8h1.6v1.6h-1.6zM683.1 569.4h1.6v1.6h-1.6zM683.4 569.7h1.6v1.6h-1.6zM685.5 568.5h1.6v1.6h-1.6zM683.3 571.9h1.6v1.6h-1.6zM684.5 571.7h1.6v1.6h-1.6zM684.6 572.1h1.6v1.6h-1.6zM686.2 567.0h1.6v1.6h-1.6zM687.1 572.9h1.6v1.6h-1.6zM688.3 570.2h1.6v1.6h-1.6zM688.9 564.4h1.6v1.6h-1.6zM689.2 570.6h1.6v1.6h-1.6zM689.5 571.1h1.6v1.6h-1.6zM688.9 567.1h1.6v1.6h-1.6zM688.7 565.8h1.6v1.6h-1.6zM689.1 563.3h1.6v1.6h-1.6zM690.0 565.7h1.6v1.6h-1.6zM689.8 569.3h1.6v1.6h-1.6zM689.4 563.0h1.6v1.6h-1.6zM691.6 561.5h1.6v1.6h-1.6zM691.5 565.6h1.6v1.6h-1.6zM689.9 561.8h1.6v1.6h-1.6zM691.0 564.9h1.6v1.6h-1.6zM690.0 565.2h1.6v1.6h-1.6zM691.2 562.3h1.6v1.6h-1.6zM691.3 557.5h1.6v1.6h-1.6zM692.9 560.3h1.6v1.6h-1.6zM693.1 562.4h1.6v1.6h-1.6zM692.8 563.1h1.6v1.6h-1.6zM694.2 560.7h1.6v1.6h-1.6zM693.6 558.7h1.6v1.6h-1.6zM692.8 558.0h1.6v1.6h-1.6zM695.1 555.3h1.6v1.6h-1.6zM695.1 560.7h1.6v1.6h-1.6zM694.7 555.3h1.6v1.6h-1.6zM695.1 557.5h1.6v1.6h-1.6zM693.8 558.2h1.6v1.6h-1.6zM695.2 552.6h1.6v1.6h-1.6zM694.2 555.0h1.6v1.6h-1.6zM694.0 553.1h1.6v1.6h-1.6zM694.0 552.0h1.6v1.6h-1.6zM696.4 549.2h1.6v1.6h-1.6zM697.1 552.7h1.6v1.6h-1.6zM695.7 554.0h1.6v1.6h-1.6zM697.2 555.8h1.6v1.6h-1.6zM695.3 557.3h1.6v1.6h-1.6zM697.3 555.4h1.6v1.6h-1.6zM695.0 557.8h1.6v1.6h-1.6zM696.0 553.0h1.6v1.6h-1.6zM696.8 555.0h1.6v1.6h-1.6zM695.6 560.3h1.6v1.6h-1.6zM697.2 557.8h1.6v1.6h-1.6zM696.4 561.8h1.6v1.6h-1.6zM695.8 559.0h1.6v1.6h-1.6zM697.4 555.7h1.6v1.6h-1.6zM698.0 561.2h1.6v1.6h-1.6zM697.4 560.9h1.6v1.6h-1.6zM696.5 558.0h1.6v1.6h-1.6zM697.0 559.0h1.6v1.6h-1.6zM697.5 559.3h1.6v1.6h-1.6zM697.7 561.5h1.6v1.6h-1.6zM698.4 566.8h1.6v1.6h-1.6zM697.6 560.4h1.6v1.6h-1.6zM697.3 561.7h1.6v1.6h-1.6zM698.8 566.3h1.6v1.6h-1.6zM698.8 567.2h1.6v1.6h-1.6zM700.3 570.1h1.6v1.6h-1.6zM699.5 568.2h1.6v1.6h-1.6zM700.6 567.9h1.6v1.6h-1.6zM699.1 567.0h1.6v1.6h-1.6zM698.4 571.3h1.6v1.6h-1.6zM698.4 569.0h1.6v1.6h-1.6zM700.1 568.7h1.6v1.6h-1.6zM699.6 567.7h1.6v1.6h-1.6zM699.6 571.7h1.6v1.6h-1.6zM698.5 575.1h1.6v1.6h-1.6zM698.7 570.5h1.6v1.6h-1.6zM701.6 568.9h1.6v1.6h-1.6zM700.6 572.7h1.6v1.6h-1.6zM700.0 572.2h1.6v1.6h-1.6zM700.9 567.8h1.6v1.6h-1.6zM701.7 568.6h1.6v1.6h-1.6zM702.8 567.2h1.6v1.6h-1.6zM701.0 567.6h1.6v1.6h-1.6zM701.1 564.6h1.6v1.6h-1.6zM702.0 561.9h1.6v1.6h-1.6zM701.7 563.6h1.6v1.6h-1.6zM701.9 566.6h1.6v1.6h-1.6zM703.6 561.6h1.6v1.6h-1.6zM702.4 566.3h1.6v1.6h-1.6zM702.4 562.7h1.6v1.6h-1.6zM704.1 559.3h1.6v1.6h-1.6zM704.1 560.1h1.6v1.6h-1.6zM705.3 564.0h1.6v1.6h-1.6zM705.7 557.8h1.6v1.6h-1.6zM704.7 558.4h1.6v1.6h-1.6zM706.1 559.0h1.6v1.6h-1.6zM705.2 561.3h1.6v1.6h-1.6zM706.8 560.2h1.6v1.6h-1.6zM704.7 561.5h1.6v1.6h-1.6zM707.2 553.8h1.6v1.6h-1.6zM706.4 556.9h1.6v1.6h-1.6zM706.8 556.4h1.6v1.6h-1.6zM707.6 559.4h1.6v1.6h-1.6zM708.3 554.8h1.6v1.6h-1.6zM706.4 561.1h1.6v1.6h-1.6zM708.1 562.1h1.6v1.6h-1.6zM708.2 563.6h1.6v1.6h-1.6zM708.7 563.8h1.6v1.6h-1.6zM709.3 561.1h1.6v1.6h-1.6zM709.4 562.5h1.6v1.6h-1.6zM707.5 558.6h1.6v1.6h-1.6zM707.3 559.9h1.6v1.6h-1.6zM707.6 564.2h1.6v1.6h-1.6zM709.3 561.0h1.6v1.6h-1.6zM708.9 562.4h1.6v1.6h-1.6zM710.7 563.8h1.6v1.6h-1.6zM708.1 564.4h1.6v1.6h-1.6zM709.8 564.4h1.6v1.6h-1.6zM709.8 569.0h1.6v1.6h-1.6zM711.4 564.1h1.6v1.6h-1.6zM709.2 570.2h1.6v1.6h-1.6zM710.6 569.0h1.6v1.6h-1.6zM709.4 568.7h1.6v1.6h-1.6zM711.2 567.0h1.6v1.6h-1.6zM712.3 566.5h1.6v1.6h-1.6zM710.7 574.2h1.6v1.6h-1.6zM712.1 567.7h1.6v1.6h-1.6zM711.6 571.0h1.6v1.6h-1.6zM710.4 573.4h1.6v1.6h-1.6zM710.6 573.5h1.6v1.6h-1.6zM712.2 573.6h1.6v1.6h-1.6zM713.9 573.1h1.6v1.6h-1.6zM713.3 571.2h1.6v1.6h-1.6zM712.0 572.2h1.6v1.6h-1.6zM713.1 569.3h1.6v1.6h-1.6zM712.1 567.8h1.6v1.6h-1.6zM712.1 573.9h1.6v1.6h-1.6zM713.4 566.8h1.6v1.6h-1.6zM714.2 568.7h1.6v1.6h-1.6zM713.6 570.0h1.6v1.6h-1.6zM712.2 568.9h1.6v1.6h-1.6zM712.7 568.6h1.6v1.6h-1.6zM712.4 568.6h1.6v1.6h-1.6zM715.0 566.7h1.6v1.6h-1.6zM714.9 569.6h1.6v1.6h-1.6zM715.1 569.4h1.6v1.6h-1.6zM713.5 564.7h1.6v1.6h-1.6zM715.6 564.1h1.6v1.6h-1.6zM715.6 566.2h1.6v1.6h-1.6zM713.2 564.5h1.6v1.6h-1.6zM714.6 563.9h1.6v1.6h-1.6zM713.9 560.1h1.6v1.6h-1.6zM715.1 559.7h1.6v1.6h-1.6zM714.4 559.5h1.6v1.6h-1.6zM714.8 557.3h1.6v1.6h-1.6zM714.3 560.8h1.6v1.6h-1.6zM714.4 558.5h1.6v1.6h-1.6zM715.0 558.2h1.6v1.6h-1.6zM714.5 559.6h1.6v1.6h-1.6zM717.0 558.5h1.6v1.6h-1.6zM715.4 558.3h1.6v1.6h-1.6zM717.2 560.4h1.6v1.6h-1.6zM714.8 554.5h1.6v1.6h-1.6zM716.2 554.1h1.6v1.6h-1.6zM715.9 555.0h1.6v1.6h-1.6zM715.4 557.5h1.6v1.6h-1.6zM715.7 551.9h1.6v1.6h-1.6zM717.1 556.0h1.6v1.6h-1.6zM715.6 549.5h1.6v1.6h-1.6zM718.4 551.6h1.6v1.6h-1.6zM718.9 550.9h1.6v1.6h-1.6zM716.5 556.0h1.6v1.6h-1.6zM717.1 556.3h1.6v1.6h-1.6zM718.4 553.1h1.6v1.6h-1.6zM719.1 552.1h1.6v1.6h-1.6zM720.0 558.9h1.6v1.6h-1.6zM720.4 555.9h1.6v1.6h-1.6zM719.9 559.4h1.6v1.6h-1.6zM721.9 554.2h1.6v1.6h-1.6zM722.3 554.7h1.6v1.6h-1.6zM720.3 553.7h1.6v1.6h-1.6zM722.4 557.2h1.6v1.6h-1.6zM721.2 558.5h1.6v1.6h-1.6zM722.5 553.7h1.6v1.6h-1.6zM722.2 553.3h1.6v1.6h-1.6zM722.3 553.2h1.6v1.6h-1.6zM721.7 551.1h1.6v1.6h-1.6zM721.0 553.6h1.6v1.6h-1.6zM722.3 547.9h1.6v1.6h-1.6zM723.6 549.8h1.6v1.6h-1.6zM721.1 552.1h1.6v1.6h-1.6zM721.3 552.7h1.6v1.6h-1.6zM721.8 552.3h1.6v1.6h-1.6zM722.5 551.7h1.6v1.6h-1.6zM722.7 544.6h1.6v1.6h-1.6zM722.5 550.4h1.6v1.6h-1.6zM723.8 544.4h1.6v1.6h-1.6zM721.9 545.9h1.6v1.6h-1.6zM724.3 542.2h1.6v1.6h-1.6zM723.2 549.0h1.6v1.6h-1.6zM722.5 541.7h1.6v1.6h-1.6zM722.2 543.5h1.6v1.6h-1.6zM722.2 546.3h1.6v1.6h-1.6zM725.2 539.9h1.6v1.6h-1.6zM723.2 540.3h1.6v1.6h-1.6zM723.2 539.3h1.6v1.6h-1.6zM722.7 544.2h1.6v1.6h-1.6zM725.2 540.3h1.6v1.6h-1.6zM723.7 536.5h1.6v1.6h-1.6zM724.8 535.6h1.6v1.6h-1.6zM723.7 539.6h1.6v1.6h-1.6zM726.1 536.2h1.6v1.6h-1.6zM726.4 539.7h1.6v1.6h-1.6zM724.4 534.5h1.6v1.6h-1.6zM725.2 536.3h1.6v1.6h-1.6zM723.9 535.4h1.6v1.6h-1.6zM724.9 533.3h1.6v1.6h-1.6zM725.2 537.8h1.6v1.6h-1.6zM726.5 533.3h1.6v1.6h-1.6zM726.5 529.9h1.6v1.6h-1.6zM726.4 535.4h1.6v1.6h-1.6zM724.5 535.4h1.6v1.6h-1.6zM725.2 534.6h1.6v1.6h-1.6zM727.4 534.9h1.6v1.6h-1.6zM726.2 532.7h1.6v1.6h-1.6zM726.8 529.7h1.6v1.6h-1.6zM727.1 529.5h1.6v1.6h-1.6zM725.9 527.4h1.6v1.6h-1.6zM726.7 525.4h1.6v1.6h-1.6zM725.7 531.6h1.6v1.6h-1.6zM727.6 529.1h1.6v1.6h-1.6zM727.5 524.1h1.6v1.6h-1.6zM725.9 526.7h1.6v1.6h-1.6zM726.8 526.5h1.6v1.6h-1.6zM726.3 525.7h1.6v1.6h-1.6zM728.0 521.3h1.6v1.6h-1.6zM728.7 525.8h1.6v1.6h-1.6zM728.0 520.3h1.6v1.6h-1.6zM727.7 523.6h1.6v1.6h-1.6zM729.4 525.2h1.6v1.6h-1.6zM728.9 523.9h1.6v1.6h-1.6zM729.2 522.3h1.6v1.6h-1.6zM729.8 520.0h1.6v1.6h-1.6zM728.0 518.0h1.6v1.6h-1.6zM730.0 522.4h1.6v1.6h-1.6zM729.5 521.0h1.6v1.6h-1.6zM729.8 521.9h1.6v1.6h-1.6zM729.0 518.4h1.6v1.6h-1.6zM728.0 515.2h1.6v1.6h-1.6zM730.6 518.6h1.6v1.6h-1.6zM728.3 515.4h1.6v1.6h-1.6zM730.6 518.8h1.6v1.6h-1.6zM728.5 513.1h1.6v1.6h-1.6zM730.0 513.0h1.6v1.6h-1.6zM730.2 517.1h1.6v1.6h-1.6zM729.6 510.0h1.6v1.6h-1.6zM729.3 514.6h1.6v1.6h-1.6zM730.4 509.8h1.6v1.6h-1.6zM730.6 513.0h1.6v1.6h-1.6zM730.6 510.4h1.6v1.6h-1.6zM730.8 513.9h1.6v1.6h-1.6zM730.3 506.0h1.6v1.6h-1.6zM731.5 510.6h1.6v1.6h-1.6zM731.3 510.3h1.6v1.6h-1.6zM728.9 506.3h1.6v1.6h-1.6zM731.7 505.3h1.6v1.6h-1.6zM731.2 507.2h1.6v1.6h-1.6zM731.0 502.5h1.6v1.6h-1.6zM730.8 502.5h1.6v1.6h-1.6zM729.6 507.3h1.6v1.6h-1.6zM730.9 500.7h1.6v1.6h-1.6zM730.5 506.1h1.6v1.6h-1.6zM729.7 499.9h1.6v1.6h-1.6zM732.0 499.7h1.6v1.6h-1.6zM730.9 505.0h1.6v1.6h-1.6zM732.0 504.9h1.6v1.6h-1.6zM732.1 497.2h1.6v1.6h-1.6zM729.4 498.3h1.6v1.6h-1.6zM732.0 501.6h1.6v1.6h-1.6zM730.3 497.2h1.6v1.6h-1.6zM729.8 498.9h1.6v1.6h-1.6zM730.9 500.9h1.6v1.6h-1.6zM729.6 494.1h1.6v1.6h-1.6zM731.0 495.8h1.6v1.6h-1.6zM730.9 498.2h1.6v1.6h-1.6zM731.5 496.5h1.6v1.6h-1.6zM731.2 490.5h1.6v1.6h-1.6zM730.3 496.1h1.6v1.6h-1.6zM732.7 491.5h1.6v1.6h-1.6zM732.2 495.0h1.6v1.6h-1.6zM730.6 489.0h1.6v1.6h-1.6zM731.8 495.2h1.6v1.6h-1.6zM731.3 489.2h1.6v1.6h-1.6zM732.8 490.7h1.6v1.6h-1.6zM732.3 491.5h1.6v1.6h-1.6zM731.8 487.3h1.6v1.6h-1.6zM732.9 487.0h1.6v1.6h-1.6zM731.9 486.7h1.6v1.6h-1.6zM731.0 486.8h1.6v1.6h-1.6zM732.1 490.1h1.6v1.6h-1.6zM732.5 488.5h1.6v1.6h-1.6zM733.7 493.1h1.6v1.6h-1.6zM733.8 492.1h1.6v1.6h-1.6zM732.9 491.1h1.6v1.6h-1.6zM734.9 492.9h1.6v1.6h-1.6zM734.2 490.7h1.6v1.6h-1.6zM733.1 498.1h1.6v1.6h-1.6zM734.7 496.3h1.6v1.6h-1.6zM734.0 492.1h1.6v1.6h-1.6zM733.3 495.7h1.6v1.6h-1.6zM735.8 500.2h1.6v1.6h-1.6zM734.6 495.3h1.6v1.6h-1.6zM734.4 494.7h1.6v1.6h-1.6zM736.9 502.4h1.6v1.6h-1.6zM735.7 502.2h1.6v1.6h-1.6zM736.7 499.3h1.6v1.6h-1.6zM735.7 500.5h1.6v1.6h-1.6zM737.0 497.0h1.6v1.6h-1.6zM735.8 503.5h1.6v1.6h-1.6zM735.5 499.9h1.6v1.6h-1.6zM738.3 501.7h1.6v1.6h-1.6zM737.1 504.3h1.6v1.6h-1.6zM736.7 499.7h1.6v1.6h-1.6zM738.4 501.5h1.6v1.6h-1.6zM737.2 506.4h1.6v1.6h-1.6zM737.1 505.9h1.6v1.6h-1.6zM738.3 505.3h1.6v1.6h-1.6zM737.1 510.4h1.6v1.6h-1.6zM737.9 505.3h1.6v1.6h-1.6zM737.9 509.2h1.6v1.6h-1.6zM739.8 506.1h1.6v1.6h-1.6zM740.0 505.5h1.6v1.6h-1.6zM740.3 508.1h1.6v1.6h-1.6zM739.8 506.2h1.6v1.6h-1.6zM739.5 501.7h1.6v1.6h-1.6zM738.6 504.7h1.6v1.6h-1.6zM741.1 500.7h1.6v1.6h-1.6zM739.0 506.5h1.6v1.6h-1.6zM738.6 506.9h1.6v1.6h-1.6zM739.9 505.1h1.6v1.6h-1.6zM739.5 497.9h1.6v1.6h-1.6zM739.9 505.5h1.6v1.6h-1.6zM740.0 501.6h1.6v1.6h-1.6zM739.1 499.5h1.6v1.6h-1.6zM740.4 496.7h1.6v1.6h-1.6zM740.8 499.4h1.6v1.6h-1.6zM741.6 501.1h1.6v1.6h-1.6zM739.6 496.2h1.6v1.6h-1.6zM740.1 497.4h1.6v1.6h-1.6zM741.3 500.1h1.6v1.6h-1.6zM741.6 495.2h1.6v1.6h-1.6zM741.7 494.1h1.6v1.6h-1.6zM741.2 496.1h1.6v1.6h-1.6zM741.0 492.3h1.6v1.6h-1.6zM743.0 493.0h1.6v1.6h-1.6zM742.1 494.4h1.6v1.6h-1.6zM740.5 489.1h1.6v1.6h-1.6zM742.1 489.1h1.6v1.6h-1.6zM742.5 488.4h1.6v1.6h-1.6zM742.3 491.1h1.6v1.6h-1.6zM742.7 488.8h1.6v1.6h-1.6zM741.6 490.0h1.6v1.6h-1.6zM740.9 489.9h1.6v1.6h-1.6zM743.7 489.0h1.6v1.6h-1.6zM741.8 484.3h1.6v1.6h-1.6zM743.8 484.5h1.6v1.6h-1.6zM743.0 488.1h1.6v1.6h-1.6zM742.2 490.0h1.6v1.6h-1.6zM744.0 487.2h1.6v1.6h-1.6zM744.6 486.9h1.6v1.6h-1.6zM743.0 485.0h1.6v1.6h-1.6zM742.6 486.6h1.6v1.6h-1.6zM744.1 480.3h1.6v1.6h-1.6zM743.1 484.5h1.6v1.6h-1.6zM746.0 479.1h1.6v1.6h-1.6zM745.8 483.6h1.6v1.6h-1.6zM743.6 480.3h1.6v1.6h-1.6zM744.6 482.0h1.6v1.6h-1.6zM746.0 480.8h1.6v1.6h-1.6zM746.8 482.0h1.6v1.6h-1.6zM745.8 477.5h1.6v1.6h-1.6zM745.7 476.2h1.6v1.6h-1.6zM745.6 478.0h1.6v1.6h-1.6zM745.5 479.0h1.6v1.6h-1.6zM745.2 480.7h1.6v1.6h-1.6zM747.7 480.5h1.6v1.6h-1.6zM746.6 478.3h1.6v1.6h-1.6zM746.8 474.7h1.6v1.6h-1.6zM748.4 474.7h1.6v1.6h-1.6zM747.0 473.2h1.6v1.6h-1.6zM746.5 471.6h1.6v1.6h-1.6zM747.9 475.7h1.6v1.6h-1.6zM746.8 474.0h1.6v1.6h-1.6zM747.9 468.3h1.6v1.6h-1.6zM748.6 472.7h1.6v1.6h-1.6zM747.3 473.5h1.6v1.6h-1.6zM746.6 472.5h1.6v1.6h-1.6zM748.6 471.6h1.6v1.6h-1.6zM749.4 466.7h1.6v1.6h-1.6zM748.5 466.3h1.6v1.6h-1.6zM747.2 468.7h1.6v1.6h-1.6zM749.2 467.5h1.6v1.6h-1.6zM746.9 463.2h1.6v1.6h-1.6zM748.8 467.4h1.6v1.6h-1.6zM748.4 463.1h1.6v1.6h-1.6zM748.9 465.9h1.6v1.6h-1.6zM747.9 462.2h1.6v1.6h-1.6zM750.1 463.5h1.6v1.6h-1.6zM747.8 459.7h1.6v1.6h-1.6zM750.3 464.9h1.6v1.6h-1.6zM750.1 460.8h1.6v1.6h-1.6zM750.1 460.2h1.6v1.6h-1.6zM748.7 464.6h1.6v1.6h-1.6zM748.9 458.1h1.6v1.6h-1.6zM748.5 458.8h1.6v1.6h-1.6zM748.8 462.7h1.6v1.6h-1.6zM750.1 460.0h1.6v1.6h-1.6zM749.7 460.2h1.6v1.6h-1.6zM750.8 453.9h1.6v1.6h-1.6zM748.8 455.4h1.6v1.6h-1.6zM748.8 458.3h1.6v1.6h-1.6zM749.4 453.8h1.6v1.6h-1.6zM751.1 458.8h1.6v1.6h-1.6zM751.5 458.2h1.6v1.6h-1.6zM750.1 452.6h1.6v1.6h-1.6zM749.3 451.9h1.6v1.6h-1.6zM750.2 456.5h1.6v1.6h-1.6zM750.3 452.5h1.6v1.6h-1.6zM749.9 454.2h1.6v1.6h-1.6zM750.5 453.2h1.6v1.6h-1.6zM749.6 452.3h1.6v1.6h-1.6zM751.5 453.0h1.6v1.6h-1.6zM750.7 451.9h1.6v1.6h-1.6zM752.2 445.9h1.6v1.6h-1.6zM752.5 447.2h1.6v1.6h-1.6zM751.9 447.7h1.6v1.6h-1.6zM752.3 444.3h1.6v1.6h-1.6zM751.1 442.7h1.6v1.6h-1.6zM750.7 443.8h1.6v1.6h-1.6zM751.7 447.5h1.6v1.6h-1.6zM751.0 447.6h1.6v1.6h-1.6zM752.2 444.9h1.6v1.6h-1.6zM751.8 440.7h1.6v1.6h-1.6zM752.2 443.4h1.6v1.6h-1.6zM752.8 442.9h1.6v1.6h-1.6zM754.3 444.0h1.6v1.6h-1.6zM754.9 439.4h1.6v1.6h-1.6zM755.5 439.5h1.6v1.6h-1.6zM756.7 439.4h1.6v1.6h-1.6zM756.4 445.3h1.6v1.6h-1.6zM755.3 441.5h1.6v1.6h-1.6zM756.3 438.5h1.6v1.6h-1.6zM758.9 441.4h1.6v1.6h-1.6zM759.0 437.9h1.6v1.6h-1.6zM758.1 437.6h1.6v1.6h-1.6zM757.8 437.9h1.6v1.6h-1.6zM760.1 442.2h1.6v1.6h-1.6zM757.8 438.6h1.6v1.6h-1.6zM760.1 439.6h1.6v1.6h-1.6zM758.4 440.2h1.6v1.6h-1.6zM758.9 433.8h1.6v1.6h-1.6zM760.7 438.8h1.6v1.6h-1.6zM760.4 434.2h1.6v1.6h-1.6zM759.8 436.3h1.6v1.6h-1.6zM759.0 436.7h1.6v1.6h-1.6zM762.1 436.5h1.6v1.6h-1.6zM760.9 435.2h1.6v1.6h-1.6zM762.0 434.4h1.6v1.6h-1.6zM760.2 434.6h1.6v1.6h-1.6zM761.4 435.6h1.6v1.6h-1.6zM761.0 429.0h1.6v1.6h-1.6zM763.6 427.9h1.6v1.6h-1.6zM761.1 427.2h1.6v1.6h-1.6zM763.5 428.9h1.6v1.6h-1.6zM763.0 433.4h1.6v1.6h-1.6zM764.2 432.5h1.6v1.6h-1.6zM762.3 431.1h1.6v1.6h-1.6zM763.1 428.8h1.6v1.6h-1.6zM764.2 430.5h1.6v1.6h-1.6zM763.5 428.8h1.6v1.6h-1.6zM765.8 429.6h1.6v1.6h-1.6zM764.3 428.1h1.6v1.6h-1.6zM765.2 428.1h1.6v1.6h-1.6zM765.0 430.4h1.6v1.6h-1.6zM766.2 430.3h1.6v1.6h-1.6zM765.7 433.6h1.6v1.6h-1.6zM765.8 431.3h1.6v1.6h-1.6zM767.8 436.6h1.6v1.6h-1.6zM768.4 433.2h1.6v1.6h-1.6zM766.4 434.4h1.6v1.6h-1.6zM767.4 437.6h1.6v1.6h-1.6zM768.4 435.8h1.6v1.6h-1.6zM768.4 433.7h1.6v1.6h-1.6zM769.4 438.2h1.6v1.6h-1.6zM769.3 434.3h1.6v1.6h-1.6zM770.4 440.9h1.6v1.6h-1.6zM768.5 436.4h1.6v1.6h-1.6zM770.2 438.4h1.6v1.6h-1.6zM769.8 438.1h1.6v1.6h-1.6zM771.0 437.5h1.6v1.6h-1.6zM769.5 442.8h1.6v1.6h-1.6zM770.8 440.8h1.6v1.6h-1.6zM769.9 439.5h1.6v1.6h-1.6zM771.7 441.5h1.6v1.6h-1.6zM771.4 441.1h1.6v1.6h-1.6zM770.9 442.3h1.6v1.6h-1.6zM770.9 444.5h1.6v1.6h-1.6zM772.7 443.9h1.6v1.6h-1.6zM771.8 442.3h1.6v1.6h-1.6zM772.8 443.2h1.6v1.6h-1.6zM770.7 446.7h1.6v1.6h-1.6zM772.1 449.2h1.6v1.6h-1.6zM771.5 446.2h1.6v1.6h-1.6zM771.8 451.2h1.6v1.6h-1.6zM772.5 451.0h1.6v1.6h-1.6zM772.1 451.2h1.6v1.6h-1.6zM771.5 453.1h1.6v1.6h-1.6zM773.2 452.0h1.6v1.6h-1.6zM773.0 447.0h1.6v1.6h-1.6zM772.2 450.1h1.6v1.6h-1.6zM774.5 454.9h1.6v1.6h-1.6zM773.5 453.8h1.6v1.6h-1.6zM772.6 456.7h1.6v1.6h-1.6zM772.7 457.3h1.6v1.6h-1.6zM774.2 450.9h1.6v1.6h-1.6zM774.4 458.7h1.6v1.6h-1.6zM772.8 452.3h1.6v1.6h-1.6zM774.5 456.7h1.6v1.6h-1.6zM775.6 459.6h1.6v1.6h-1.6zM775.1 456.5h1.6v1.6h-1.6zM774.3 458.4h1.6v1.6h-1.6zM776.4 456.2h1.6v1.6h-1.6zM776.0 456.8h1.6v1.6h-1.6zM774.8 458.2h1.6v1.6h-1.6zM775.6 460.0h1.6v1.6h-1.6zM776.2 463.1h1.6v1.6h-1.6zM775.6 462.5h1.6v1.6h-1.6zM776.7 462.1h1.6v1.6h-1.6zM778.4 465.3h1.6v1.6h-1.6zM779.3 463.2h1.6v1.6h-1.6zM778.0 465.1h1.6v1.6h-1.6zM777.5 463.4h1.6v1.6h-1.6zM779.1 458.1h1.6v1.6h-1.6zM779.6 463.5h1.6v1.6h-1.6zM779.4 456.0h1.6v1.6h-1.6zM780.2 456.6h1.6v1.6h-1.6zM780.0 455.8h1.6v1.6h-1.6zM779.4 455.2h1.6v1.6h-1.6zM780.3 453.8h1.6v1.6h-1.6zM778.9 455.4h1.6v1.6h-1.6zM780.7 455.2h1.6v1.6h-1.6zM778.8 453.2h1.6v1.6h-1.6zM779.4 451.2h1.6v1.6h-1.6zM779.6 452.3h1.6v1.6h-1.6zM780.9 450.4h1.6v1.6h-1.6zM780.4 452.1h1.6v1.6h-1.6zM781.7 449.4h1.6v1.6h-1.6zM780.3 449.1h1.6v1.6h-1.6zM782.2 449.2h1.6v1.6h-1.6zM779.7 454.2h1.6v1.6h-1.6zM780.0 448.7h1.6v1.6h-1.6zM780.8 448.8h1.6v1.6h-1.6zM780.5 446.7h1.6v1.6h-1.6zM783.0 450.1h1.6v1.6h-1.6zM782.2 444.4h1.6v1.6h-1.6zM783.5 446.8h1.6v1.6h-1.6zM781.7 445.4h1.6v1.6h-1.6zM781.0 448.9h1.6v1.6h-1.6zM783.5 446.0h1.6v1.6h-1.6zM781.9 443.4h1.6v1.6h-1.6zM783.3 441.9h1.6v1.6h-1.6zM784.2 441.4h1.6v1.6h-1.6zM782.7 444.9h1.6v1.6h-1.6zM781.7 445.1h1.6v1.6h-1.6zM783.7 440.1h1.6v1.6h-1.6zM783.4 445.7h1.6v1.6h-1.6zM782.9 438.7h1.6v1.6h-1.6zM784.2 437.7h1.6v1.6h-1.6zM783.0 439.4h1.6v1.6h-1.6zM784.1 440.0h1.6v1.6h-1.6zM784.6 439.5h1.6v1.6h-1.6zM784.5 440.3h1.6v1.6h-1.6zM784.4 441.5h1.6v1.6h-1.6zM784.7 433.8h1.6v1.6h-1.6zM784.4 440.0h1.6v1.6h-1.6zM785.3 433.8h1.6v1.6h-1.6zM782.9 432.0h1.6v1.6h-1.6zM785.7 434.9h1.6v1.6h-1.6zM785.1 432.0h1.6v1.6h-1.6zM785.4 434.5h1.6v1.6h-1.6zM783.8 431.0h1.6v1.6h-1.6zM786.4 428.8h1.6v1.6h-1.6zM783.7 432.9h1.6v1.6h-1.6zM784.5 434.6h1.6v1.6h-1.6zM786.3 432.3h1.6v1.6h-1.6zM785.3 431.7h1.6v1.6h-1.6zM786.9 431.1h1.6v1.6h-1.6zM786.2 437.6h1.6v1.6h-1.6zM785.0 433.1h1.6v1.6h-1.6zM785.2 440.4h1.6v1.6h-1.6zM785.6 434.1h1.6v1.6h-1.6zM785.5 434.0h1.6v1.6h-1.6zM787.6 435.9h1.6v1.6h-1.6zM786.4 438.1h1.6v1.6h-1.6zM787.5 442.0h1.6v1.6h-1.6zM786.4 441.2h1.6v1.6h-1.6zM786.7 437.6h1.6v1.6h-1.6zM788.2 439.3h1.6v1.6h-1.6zM787.0 443.0h1.6v1.6h-1.6zM788.0 444.4h1.6v1.6h-1.6zM789.1 440.2h1.6v1.6h-1.6zM787.7 442.0h1.6v1.6h-1.6zM788.3 440.6h1.6v1.6h-1.6zM789.7 445.8h1.6v1.6h-1.6zM789.1 438.3h1.6v1.6h-1.6zM790.2 442.6h1.6v1.6h-1.6zM789.4 441.3h1.6v1.6h-1.6zM791.2 443.0h1.6v1.6h-1.6zM791.8 437.8h1.6v1.6h-1.6zM792.1 438.4h1.6v1.6h-1.6zM792.3 441.1h1.6v1.6h-1.6zM790.1 437.6h1.6v1.6h-1.6zM790.9 441.7h1.6v1.6h-1.6zM791.5 441.1h1.6v1.6h-1.6zM792.7 442.2h1.6v1.6h-1.6zM792.7 440.5h1.6v1.6h-1.6zM792.3 444.3h1.6v1.6h-1.6zM790.6 441.7h1.6v1.6h-1.6zM792.0 447.0h1.6v1.6h-1.6zM791.2 444.2h1.6v1.6h-1.6zM790.8 441.9h1.6v1.6h-1.6zM793.2 443.2h1.6v1.6h-1.6zM792.7 444.2h1.6v1.6h-1.6zM790.9 448.8h1.6v1.6h-1.6zM791.4 445.6h1.6v1.6h-1.6zM792.5 444.3h1.6v1.6h-1.6zM792.4 450.9h1.6v1.6h-1.6zM792.9 452.4h1.6v1.6h-1.6zM793.5 450.1h1.6v1.6h-1.6zM791.4 451.5h1.6v1.6h-1.6zM791.2 448.4h1.6v1.6h-1.6zM792.3 448.4h1.6v1.6h-1.6zM793.4 453.8h1.6v1.6h-1.6zM792.6 453.4h1.6v1.6h-1.6zM793.4 452.8h1.6v1.6h-1.6zM792.4 458.1h1.6v1.6h-1.6zM793.7 457.3h1.6v1.6h-1.6zM793.5 455.6h1.6v1.6h-1.6zM793.3 457.2h1.6v1.6h-1.6zM794.4 454.5h1.6v1.6h-1.6zM792.5 460.8h1.6v1.6h-1.6zM793.6 454.6h1.6v1.6h-1.6zM791.6 455.5h1.6v1.6h-1.6zM793.0 457.9h1.6v1.6h-1.6zM792.6 461.9h1.6v1.6h-1.6zM794.4 456.7h1.6v1.6h-1.6zM792.5 460.9h1.6v1.6h-1.6zM793.9 460.4h1.6v1.6h-1.6zM794.6 458.3h1.6v1.6h-1.6zM793.1 466.2h1.6v1.6h-1.6zM793.9 463.1h1.6v1.6h-1.6zM793.9 467.1h1.6v1.6h-1.6zM794.2 465.3h1.6v1.6h-1.6zM793.3 464.3h1.6v1.6h-1.6zM794.2 465.6h1.6v1.6h-1.6zM792.8 468.5h1.6v1.6h-1.6zM794.9 462.8h1.6v1.6h-1.6zM793.7 465.6h1.6v1.6h-1.6zM795.1 464.2h1.6v1.6h-1.6zM795.5 467.2h1.6v1.6h-1.6zM795.0 472.5h1.6v1.6h-1.6zM796.2 469.9h1.6v1.6h-1.6zM794.9 469.6h1.6v1.6h-1.6zM796.3 472.6h1.6v1.6h-1.6zM796.3 472.6h1.6v1.6h-1.6zM794.5 470.2h1.6v1.6h-1.6zM794.3 471.1h1.6v1.6h-1.6zM795.2 471.6h1.6v1.6h-1.6zM796.2 477.6h1.6v1.6h-1.6zM796.6 472.8h1.6v1.6h-1.6zM796.9 473.6h1.6v1.6h-1.6zM797.1 471.3h1.6v1.6h-1.6zM797.3 477.3h1.6v1.6h-1.6zM795.1 480.5h1.6v1.6h-1.6zM796.2 474.7h1.6v1.6h-1.6zM795.1 477.3h1.6v1.6h-1.6zM797.6 475.8h1.6v1.6h-1.6zM796.7 479.7h1.6v1.6h-1.6zM795.9 482.0h1.6v1.6h-1.6zM796.5 482.5h1.6v1.6h-1.6zM797.9 478.2h1.6v1.6h-1.6zM796.0 483.7h1.6v1.6h-1.6zM797.3 480.3h1.6v1.6h-1.6zM795.9 481.3h1.6v1.6h-1.6zM796.1 482.0h1.6v1.6h-1.6zM795.9 485.3h1.6v1.6h-1.6zM796.3 482.9h1.6v1.6h-1.6zM798.6 485.8h1.6v1.6h-1.6zM798.4 486.0h1.6v1.6h-1.6zM798.5 486.3h1.6v1.6h-1.6zM798.7 483.5h1.6v1.6h-1.6zM798.4 488.9h1.6v1.6h-1.6zM799.0 487.4h1.6v1.6h-1.6zM798.0 486.6h1.6v1.6h-1.6zM799.5 486.6h1.6v1.6h-1.6zM797.2 492.2h1.6v1.6h-1.6zM796.8 491.4h1.6v1.6h-1.6zM799.6 492.6h1.6v1.6h-1.6zM799.7 493.8h1.6v1.6h-1.6zM797.0 493.7h1.6v1.6h-1.6zM797.2 495.5h1.6v1.6h-1.6zM797.5 494.8h1.6v1.6h-1.6zM799.7 492.1h1.6v1.6h-1.6zM797.9 494.5h1.6v1.6h-1.6zM800.4 491.9h1.6v1.6h-1.6zM798.3 495.3h1.6v1.6h-1.6zM800.0 497.1h1.6v1.6h-1.6zM800.5 492.6h1.6v1.6h-1.6zM800.7 499.4h1.6v1.6h-1.6zM802.1 495.2h1.6v1.6h-1.6zM802.6 492.5h1.6v1.6h-1.6zM802.4 496.5h1.6v1.6h-1.6zM803.7 495.6h1.6v1.6h-1.6zM803.1 495.3h1.6v1.6h-1.6zM802.6 500.6h1.6v1.6h-1.6zM801.9 495.1h1.6v1.6h-1.6zM804.5 493.9h1.6v1.6h-1.6zM802.4 496.6h1.6v1.6h-1.6zM803.9 497.3h1.6v1.6h-1.6zM804.6 497.0h1.6v1.6h-1.6zM804.7 494.7h1.6v1.6h-1.6zM803.8 489.5h1.6v1.6h-1.6zM804.8 488.3h1.6v1.6h-1.6zM804.9 494.9h1.6v1.6h-1.6zM805.0 490.4h1.6v1.6h-1.6zM805.5 489.1h1.6v1.6h-1.6zM804.4 492.3h1.6v1.6h-1.6zM804.5 488.6h1.6v1.6h-1.6zM803.3 489.6h1.6v1.6h-1.6zM804.8 490.1h1.6v1.6h-1.6zM804.0 487.4h1.6v1.6h-1.6zM804.2 486.1h1.6v1.6h-1.6zM805.8 487.7h1.6v1.6h-1.6zM804.6 485.4h1.6v1.6h-1.6zM806.2 488.4h1.6v1.6h-1.6zM804.9 481.9h1.6v1.6h-1.6zM807.0 487.3h1.6v1.6h-1.6zM806.1 488.2h1.6v1.6h-1.6zM807.0 482.5h1.6v1.6h-1.6zM807.2 489.2h1.6v1.6h-1.6zM804.9 485.8h1.6v1.6h-1.6zM806.5 488.8h1.6v1.6h-1.6zM805.4 487.1h1.6v1.6h-1.6zM804.6 487.6h1.6v1.6h-1.6zM805.2 487.5h1.6v1.6h-1.6zM806.4 487.1h1.6v1.6h-1.6zM806.9 493.5h1.6v1.6h-1.6zM805.1 493.3h1.6v1.6h-1.6zM806.5 493.4h1.6v1.6h-1.6zM806.3 489.4h1.6v1.6h-1.6zM806.5 492.0h1.6v1.6h-1.6zM806.8 493.0h1.6v1.6h-1.6zM806.2 494.6h1.6v1.6h-1.6zM807.4 491.4h1.6v1.6h-1.6zM807.1 493.4h1.6v1.6h-1.6zM806.2 496.7h1.6v1.6h-1.6zM807.2 494.7h1.6v1.6h-1.6zM806.2 495.9h1.6v1.6h-1.6zM805.9 496.1h1.6v1.6h-1.6zM805.4 494.6h1.6v1.6h-1.6zM808.0 500.9h1.6v1.6h-1.6zM806.3 498.6h1.6v1.6h-1.6zM806.9 501.9h1.6v1.6h-1.6zM805.7 502.6h1.6v1.6h-1.6zM807.7 505.3h1.6v1.6h-1.6zM805.5 500.8h1.6v1.6h-1.6zM807.3 502.7h1.6v1.6h-1.6zM807.3 505.0h1.6v1.6h-1.6zM805.7 504.6h1.6v1.6h-1.6zM806.8 504.2h1.6v1.6h-1.6zM805.7 501.0h1.6v1.6h-1.6zM805.8 501.3h1.6v1.6h-1.6zM807.6 507.3h1.6v1.6h-1.6zM807.7 502.4h1.6v1.6h-1.6zM807.4 509.1h1.6v1.6h-1.6zM805.8 507.7h1.6v1.6h-1.6zM805.6 504.9h1.6v1.6h-1.6zM806.0 509.2h1.6v1.6h-1.6zM807.6 512.9h1.6v1.6h-1.6zM806.8 509.7h1.6v1.6h-1.6zM808.2 512.1h1.6v1.6h-1.6zM807.9 511.7h1.6v1.6h-1.6zM806.2 508.7h1.6v1.6h-1.6zM807.7 508.4h1.6v1.6h-1.6zM808.2 514.0h1.6v1.6h-1.6zM807.4 516.3h1.6v1.6h-1.6zM807.6 511.8h1.6v1.6h-1.6zM808.5 516.5h1.6v1.6h-1.6zM808.9 514.3h1.6v1.6h-1.6zM809.0 511.8h1.6v1.6h-1.6zM807.7 519.3h1.6v1.6h-1.6zM809.0 515.1h1.6v1.6h-1.6zM806.4 517.1h1.6v1.6h-1.6zM807.6 522.0h1.6v1.6h-1.6zM807.7 516.9h1.6v1.6h-1.6zM806.6 519.0h1.6v1.6h-1.6zM807.0 521.9h1.6v1.6h-1.6zM809.1 524.0h1.6v1.6h-1.6zM809.1 522.7h1.6v1.6h-1.6zM808.8 518.8h1.6v1.6h-1.6zM807.6 522.0h1.6v1.6h-1.6zM807.3 521.2h1.6v1.6h-1.6zM807.2 525.9h1.6v1.6h-1.6zM807.8 527.8h1.6v1.6h-1.6zM807.2 523.7h1.6v1.6h-1.6zM809.4 528.3h1.6v1.6h-1.6zM808.1 524.6h1.6v1.6h-1.6zM807.7 523.0h1.6v1.6h-1.6zM807.2 523.0h1.6v1.6h-1.6zM806.8 530.5h1.6v1.6h-1.6zM808.7 530.0h1.6v1.6h-1.6zM809.1 530.3h1.6v1.6h-1.6zM809.5 529.9h1.6v1.6h-1.6zM807.0 527.1h1.6v1.6h-1.6zM808.1 527.5h1.6v1.6h-1.6zM806.9 530.6h1.6v1.6h-1.6zM809.4 533.8h1.6v1.6h-1.6zM809.9 531.2h1.6v1.6h-1.6zM807.5 530.6h1.6v1.6h-1.6zM807.1 530.1h1.6v1.6h-1.6zM808.8 532.3h1.6v1.6h-1.6zM807.7 531.1h1.6v1.6h-1.6zM808.9 533.7h1.6v1.6h-1.6zM808.6 539.7h1.6v1.6h-1.6zM809.4 533.6h1.6v1.6h-1.6zM808.0 537.0h1.6v1.6h-1.6zM808.1 538.2h1.6v1.6h-1.6zM810.3 538.4h1.6v1.6h-1.6zM808.0 535.4h1.6v1.6h-1.6zM810.2 540.9h1.6v1.6h-1.6zM809.3 537.6h1.6v1.6h-1.6zM809.9 542.4h1.6v1.6h-1.6zM808.9 544.2h1.6v1.6h-1.6zM810.2 545.5h1.6v1.6h-1.6zM807.6 539.0h1.6v1.6h-1.6zM808.8 544.7h1.6v1.6h-1.6zM808.6 546.9h1.6v1.6h-1.6zM807.7 542.2h1.6v1.6h-1.6zM807.7 543.0h1.6v1.6h-1.6zM807.8 544.5h1.6v1.6h-1.6zM809.0 546.5h1.6v1.6h-1.6zM809.3 549.4h1.6v1.6h-1.6zM810.5 548.2h1.6v1.6h-1.6zM809.5 548.4h1.6v1.6h-1.6zM808.3 549.9h1.6v1.6h-1.6zM809.7 545.2h1.6v1.6h-1.6zM809.9 547.0h1.6v1.6h-1.6zM808.9 551.1h1.6v1.6h-1.6zM809.4 546.4h1.6v1.6h-1.6zM810.0 547.2h1.6v1.6h-1.6zM809.1 554.2h1.6v1.6h-1.6zM809.6 549.0h1.6v1.6h-1.6zM810.5 556.0h1.6v1.6h-1.6zM810.0 554.3h1.6v1.6h-1.6zM809.8 555.9h1.6v1.6h-1.6zM810.5 556.5h1.6v1.6h-1.6zM809.9 550.8h1.6v1.6h-1.6zM808.4 552.7h1.6v1.6h-1.6zM810.0 557.8h1.6v1.6h-1.6zM809.5 557.1h1.6v1.6h-1.6zM809.4 559.7h1.6v1.6h-1.6zM810.3 561.1h1.6v1.6h-1.6zM810.5 566.5h1.6v1.6h-1.6zM810.7 566.9h1.6v1.6h-1.6zM810.8 576.1h1.6v1.6h-1.6zM811.4 579.5h1.6v1.6h-1.6zM811.8 584.1h1.6v1.6h-1.6zM811.6 587.6h1.6v1.6h-1.6zM811.7 595.5h1.6v1.6h-1.6zM812.8 598.8h1.6v1.6h-1.6zM812.4 605.3h1.6v1.6h-1.6zM812.3 605.3h1.6v1.6h-1.6zM813.5 612.7h1.6v1.6h-1.6zM812.6 615.9h1.6v1.6h-1.6zM813.5 620.6h1.6v1.6h-1.6zM813.6 626.3h1.6v1.6h-1.6zM813.6 631.7h1.6v1.6h-1.6zM813.6 636.6h1.6v1.6h-1.6zM814.2 639.7h1.6v1.6h-1.6zM814.9 641.9h1.6v1.6h-1.6zM814.7 647.0h1.6v1.6h-1.6zM814.5 654.3h1.6v1.6h-1.6zM815.6 658.4h1.6v1.6h-1.6zM815.2 663.6h1.6v1.6h-1.6zM815.9 668.8h1.6v1.6h-1.6zM815.7 670.5h1.6v1.6h-1.6zM815.5 677.0h1.6v1.6h-1.6zM816.0 683.0h1.6v1.6h-1.6zM816.0 685.3h1.6v1.6h-1.6zM816.5 691.6h1.6v1.6h-1.6zM816.4 696.1h1.6v1.6h-1.6zM816.7 696.4h1.6v1.6h-1.6zM817.3 701.0h1.6v1.6h-1.6zM816.8 705.7h1.6v1.6h-1.6zM817.8 711.5h1.6v1.6h-1.6zM817.4 716.4h1.6v1.6h-1.6zM817.8 720.8h1.6v1.6h-1.6zM817.9 726.8h1.6v1.6h-1.6zM818.1 729.4h1.6v1.6h-1.6zM817.4 732.5h1.6v1.6h-1.6zM818.2 740.2h1.6v1.6h-1.6zM818.1 743.6h1.6v1.6h-1.6zM818.4 749.7h1.6v1.6h-1.6zM818.1 752.3h1.6v1.6h-1.6zM819.1 758.8h1.6v1.6h-1.6zM819.0 760.5h1.6v1.6h-1.6zM818.7 764.4h1.6v1.6h-1.6zM818.6 770.7h1.6v1.6h-1.6zM818.6 773.1h1.6v1.6h-1.6zM819.5 776.8h1.6v1.6h-1.6zM819.3 782.7h1.6v1.6h-1.6zM819.4 790.4h1.6v1.6h-1.6zM819.6 795.7h1.6v1.6h-1.6zM819.8 798.1h1.6v1.6h-1.6zM820.0 801.6h1.6v1.6h-1.6zM820.0 807.7h1.6v1.6h-1.6zM819.8 809.9h1.6v1.6h-1.6zM820.4 815.3h1.6v1.6h-1.6zM820.2 820.6h1.6v1.6h-1.6zM820.8 824.6h1.6v1.6h-1.6zM820.0 827.4h1.6v1.6h-1.6zM820.1 833.8h1.6v1.6h-1.6zM820.1 839.7h1.6v1.6h-1.6zM821.0 844.6h1.6v1.6h-1.6zM820.8 848.0h1.6v1.6h-1.6zM821.0 851.8h1.6v1.6h-1.6zM820.3 857.7h1.6v1.6h-1.6zM821.4 861.5h1.6v1.6h-1.6zM821.0 864.2h1.6v1.6h-1.6zM820.9 870.3h1.6v1.6h-1.6zM820.6 872.2h1.6v1.6h-1.6zM821.6 879.2h1.6v1.6h-1.6zM784.1 493.8h1.6v1.6h-1.6zM781.3 464.4h1.6v1.6h-1.6zM780.7 466.9h1.6v1.6h-1.6zM784.8 468.9h1.6v1.6h-1.6zM777.0 491.5h1.6v1.6h-1.6zM783.2 474.0h1.6v1.6h-1.6zM777.1 462.8h1.6v1.6h-1.6zM781.9 488.6h1.6v1.6h-1.6zM776.7 470.8h1.6v1.6h-1.6zM780.1 461.4h1.6v1.6h-1.6zM780.7 484.3h1.6v1.6h-1.6zM779.5 461.2h1.6v1.6h-1.6zM782.9 475.8h1.6v1.6h-1.6zM781.7 476.8h1.6v1.6h-1.6zM777.8 465.6h1.6v1.6h-1.6zM785.1 475.4h1.6v1.6h-1.6zM782.8 472.4h1.6v1.6h-1.6zM779.9 475.5h1.6v1.6h-1.6zM783.4 492.9h1.6v1.6h-1.6zM779.3 472.1h1.6v1.6h-1.6zM781.9 465.3h1.6v1.6h-1.6zM781.3 486.6h1.6v1.6h-1.6zM780.3 482.0h1.6v1.6h-1.6zM779.9 476.1h1.6v1.6h-1.6zM776.8 466.4h1.6v1.6h-1.6zM950.8 851.7h1.6v1.6h-1.6zM951.1 852.6h1.6v1.6h-1.6zM951.0 853.4h1.6v1.6h-1.6zM951.1 857.0h1.6v1.6h-1.6zM950.9 858.4h1.6v1.6h-1.6zM950.8 861.9h1.6v1.6h-1.6zM950.8 861.4h1.6v1.6h-1.6zM950.9 863.8h1.6v1.6h-1.6zM951.4 866.3h1.6v1.6h-1.6zM951.3 866.8h1.6v1.6h-1.6zM950.6 868.1h1.6v1.6h-1.6zM951.4 870.7h1.6v1.6h-1.6zM951.5 872.0h1.6v1.6h-1.6zM950.8 873.1h1.6v1.6h-1.6zM951.3 876.1h1.6v1.6h-1.6zM951.4 877.3h1.6v1.6h-1.6zM951.6 879.0h1.6v1.6h-1.6zM951.4 880.1h1.6v1.6h-1.6zM964.9 877.3h1.6v1.6h-1.6zM966.2 878.4h1.6v1.6h-1.6zM965.8 877.0h1.6v1.6h-1.6zM966.4 877.9h1.6v1.6h-1.6zM966.2 874.9h1.6v1.6h-1.6zM965.7 875.0h1.6v1.6h-1.6zM965.5 873.4h1.6v1.6h-1.6zM966.6 874.6h1.6v1.6h-1.6zM964.7 874.0h1.6v1.6h-1.6zM966.5 872.3h1.6v1.6h-1.6zM966.9 867.9h1.6v1.6h-1.6zM966.1 869.8h1.6v1.6h-1.6zM965.3 869.5h1.6v1.6h-1.6zM966.7 865.7h1.6v1.6h-1.6zM967.7 867.2h1.6v1.6h-1.6zM968.2 867.7h1.6v1.6h-1.6zM966.7 866.6h1.6v1.6h-1.6zM965.6 864.4h1.6v1.6h-1.6zM966.8 861.8h1.6v1.6h-1.6zM966.8 862.3h1.6v1.6h-1.6zM966.3 861.3h1.6v1.6h-1.6zM966.6 863.1h1.6v1.6h-1.6zM968.2 862.6h1.6v1.6h-1.6zM970.4 859.1h1.6v1.6h-1.6zM967.9 861.7h1.6v1.6h-1.6zM969.7 860.0h1.6v1.6h-1.6zM969.2 859.1h1.6v1.6h-1.6zM971.4 861.0h1.6v1.6h-1.6zM969.9 859.4h1.6v1.6h-1.6zM973.0 855.7h1.6v1.6h-1.6zM971.3 860.6h1.6v1.6h-1.6zM973.6 856.9h1.6v1.6h-1.6zM971.6 854.5h1.6v1.6h-1.6zM972.1 854.4h1.6v1.6h-1.6zM974.1 852.6h1.6v1.6h-1.6zM975.0 853.5h1.6v1.6h-1.6zM974.6 853.7h1.6v1.6h-1.6zM974.6 854.7h1.6v1.6h-1.6zM972.7 851.4h1.6v1.6h-1.6zM974.4 849.5h1.6v1.6h-1.6zM975.0 852.6h1.6v1.6h-1.6zM974.1 851.9h1.6v1.6h-1.6zM974.2 852.0h1.6v1.6h-1.6zM974.3 848.8h1.6v1.6h-1.6zM973.8 849.9h1.6v1.6h-1.6zM975.0 847.8h1.6v1.6h-1.6zM974.8 844.9h1.6v1.6h-1.6zM974.2 844.3h1.6v1.6h-1.6zM975.2 844.6h1.6v1.6h-1.6zM975.1 843.1h1.6v1.6h-1.6zM974.4 845.9h1.6v1.6h-1.6zM975.3 843.8h1.6v1.6h-1.6zM975.6 841.3h1.6v1.6h-1.6zM976.0 843.4h1.6v1.6h-1.6zM976.6 842.7h1.6v1.6h-1.6zM975.7 841.4h1.6v1.6h-1.6zM975.4 837.6h1.6v1.6h-1.6zM975.3 839.4h1.6v1.6h-1.6zM976.6 840.0h1.6v1.6h-1.6zM975.1 838.9h1.6v1.6h-1.6zM974.9 837.4h1.6v1.6h-1.6zM974.8 832.5h1.6v1.6h-1.6zM976.3 832.7h1.6v1.6h-1.6zM977.4 835.2h1.6v1.6h-1.6zM976.9 831.0h1.6v1.6h-1.6zM976.0 833.0h1.6v1.6h-1.6zM977.6 830.1h1.6v1.6h-1.6zM975.6 829.7h1.6v1.6h-1.6zM976.7 829.4h1.6v1.6h-1.6zM977.8 827.8h1.6v1.6h-1.6zM977.2 826.9h1.6v1.6h-1.6zM978.2 826.4h1.6v1.6h-1.6zM978.8 825.3h1.6v1.6h-1.6zM977.2 828.6h1.6v1.6h-1.6zM976.4 824.5h1.6v1.6h-1.6zM976.5 824.0h1.6v1.6h-1.6zM979.3 821.3h1.6v1.6h-1.6zM979.2 820.5h1.6v1.6h-1.6zM977.7 820.9h1.6v1.6h-1.6zM978.9 820.9h1.6v1.6h-1.6zM977.3 817.5h1.6v1.6h-1.6zM977.8 822.4h1.6v1.6h-1.6zM978.8 819.9h1.6v1.6h-1.6zM979.4 815.6h1.6v1.6h-1.6zM979.8 818.5h1.6v1.6h-1.6zM977.5 817.9h1.6v1.6h-1.6zM979.4 816.0h1.6v1.6h-1.6zM978.2 812.5h1.6v1.6h-1.6zM979.5 816.6h1.6v1.6h-1.6zM978.3 813.1h1.6v1.6h-1.6zM979.2 813.1h1.6v1.6h-1.6zM981.4 809.4h1.6v1.6h-1.6zM980.4 812.0h1.6v1.6h-1.6zM981.6 808.2h1.6v1.6h-1.6zM980.9 807.4h1.6v1.6h-1.6zM980.1 809.8h1.6v1.6h-1.6zM981.1 809.0h1.6v1.6h-1.6zM980.3 813.4h1.6v1.6h-1.6zM981.3 811.9h1.6v1.6h-1.6zM980.6 815.3h1.6v1.6h-1.6zM981.0 811.4h1.6v1.6h-1.6zM981.2 816.3h1.6v1.6h-1.6zM981.6 816.6h1.6v1.6h-1.6zM980.7 815.5h1.6v1.6h-1.6zM981.9 818.4h1.6v1.6h-1.6zM981.0 820.3h1.6v1.6h-1.6zM981.3 815.7h1.6v1.6h-1.6zM981.6 817.5h1.6v1.6h-1.6zM980.8 819.8h1.6v1.6h-1.6zM981.7 818.0h1.6v1.6h-1.6zM981.2 820.6h1.6v1.6h-1.6zM982.4 822.8h1.6v1.6h-1.6zM981.8 822.3h1.6v1.6h-1.6zM983.1 824.9h1.6v1.6h-1.6zM983.6 825.8h1.6v1.6h-1.6zM982.6 825.2h1.6v1.6h-1.6zM982.4 828.4h1.6v1.6h-1.6zM981.7 824.7h1.6v1.6h-1.6zM982.5 826.5h1.6v1.6h-1.6zM984.0 828.9h1.6v1.6h-1.6zM984.2 831.1h1.6v1.6h-1.6zM983.9 831.3h1.6v1.6h-1.6zM982.5 830.7h1.6v1.6h-1.6zM982.0 829.5h1.6v1.6h-1.6zM982.7 831.5h1.6v1.6h-1.6zM984.1 831.3h1.6v1.6h-1.6zM984.7 831.2h1.6v1.6h-1.6zM983.4 836.0h1.6v1.6h-1.6zM982.4 838.0h1.6v1.6h-1.6zM983.5 835.8h1.6v1.6h-1.6zM984.4 835.4h1.6v1.6h-1.6zM983.6 839.8h1.6v1.6h-1.6zM982.7 836.1h1.6v1.6h-1.6zM983.3 836.0h1.6v1.6h-1.6zM985.2 839.6h1.6v1.6h-1.6zM984.9 839.7h1.6v1.6h-1.6zM984.0 844.2h1.6v1.6h-1.6zM984.3 843.7h1.6v1.6h-1.6zM985.0 842.3h1.6v1.6h-1.6zM985.4 841.2h1.6v1.6h-1.6zM984.2 845.2h1.6v1.6h-1.6zM983.5 846.4h1.6v1.6h-1.6zM983.8 847.3h1.6v1.6h-1.6zM984.3 847.4h1.6v1.6h-1.6zM984.6 845.4h1.6v1.6h-1.6zM984.6 849.2h1.6v1.6h-1.6zM983.8 843.3h1.6v1.6h-1.6zM984.6 844.2h1.6v1.6h-1.6zM984.6 842.5h1.6v1.6h-1.6zM986.0 847.1h1.6v1.6h-1.6zM985.0 840.7h1.6v1.6h-1.6zM984.3 844.6h1.6v1.6h-1.6zM984.6 839.2h1.6v1.6h-1.6zM984.8 841.1h1.6v1.6h-1.6zM985.2 840.6h1.6v1.6h-1.6zM985.3 842.6h1.6v1.6h-1.6zM986.4 836.7h1.6v1.6h-1.6zM986.6 837.3h1.6v1.6h-1.6zM984.5 838.6h1.6v1.6h-1.6zM984.8 839.0h1.6v1.6h-1.6zM985.3 833.8h1.6v1.6h-1.6zM984.8 833.2h1.6v1.6h-1.6zM986.0 831.6h1.6v1.6h-1.6zM984.4 834.3h1.6v1.6h-1.6zM985.3 831.8h1.6v1.6h-1.6zM984.4 833.9h1.6v1.6h-1.6zM984.1 830.4h1.6v1.6h-1.6zM985.0 831.0h1.6v1.6h-1.6zM986.6 832.0h1.6v1.6h-1.6zM985.5 827.9h1.6v1.6h-1.6zM984.2 830.2h1.6v1.6h-1.6zM986.9 825.6h1.6v1.6h-1.6zM985.5 828.6h1.6v1.6h-1.6zM985.8 824.8h1.6v1.6h-1.6zM987.3 824.9h1.6v1.6h-1.6zM985.0 826.2h1.6v1.6h-1.6zM986.1 822.6h1.6v1.6h-1.6zM986.9 820.9h1.6v1.6h-1.6zM984.7 822.0h1.6v1.6h-1.6zM984.7 819.4h1.6v1.6h-1.6zM986.9 820.5h1.6v1.6h-1.6zM987.0 820.0h1.6v1.6h-1.6zM984.8 820.7h1.6v1.6h-1.6zM986.4 817.4h1.6v1.6h-1.6zM987.0 818.9h1.6v1.6h-1.6zM985.8 814.2h1.6v1.6h-1.6zM986.4 813.8h1.6v1.6h-1.6zM987.9 816.4h1.6v1.6h-1.6zM986.3 815.6h1.6v1.6h-1.6zM985.5 813.8h1.6v1.6h-1.6zM986.7 814.7h1.6v1.6h-1.6zM985.9 814.6h1.6v1.6h-1.6zM987.6 810.8h1.6v1.6h-1.6zM986.9 809.9h1.6v1.6h-1.6zM988.0 809.3h1.6v1.6h-1.6zM987.0 808.7h1.6v1.6h-1.6zM988.2 806.0h1.6v1.6h-1.6zM987.8 810.3h1.6v1.6h-1.6zM987.9 806.5h1.6v1.6h-1.6zM986.7 803.9h1.6v1.6h-1.6zM987.7 808.3h1.6v1.6h-1.6zM988.5 807.4h1.6v1.6h-1.6zM987.5 805.9h1.6v1.6h-1.6zM986.9 801.6h1.6v1.6h-1.6zM988.4 804.2h1.6v1.6h-1.6zM988.8 799.6h1.6v1.6h-1.6zM987.6 798.5h1.6v1.6h-1.6zM987.6 797.2h1.6v1.6h-1.6zM988.1 796.6h1.6v1.6h-1.6zM989.3 796.9h1.6v1.6h-1.6zM989.0 797.0h1.6v1.6h-1.6zM988.5 794.8h1.6v1.6h-1.6zM988.4 790.7h1.6v1.6h-1.6zM989.7 790.9h1.6v1.6h-1.6zM989.5 789.0h1.6v1.6h-1.6zM988.8 785.2h1.6v1.6h-1.6zM989.2 782.8h1.6v1.6h-1.6zM989.1 781.2h1.6v1.6h-1.6zM989.2 778.6h1.6v1.6h-1.6zM989.3 776.1h1.6v1.6h-1.6zM988.8 772.6h1.6v1.6h-1.6zM988.7 771.1h1.6v1.6h-1.6zM990.1 768.8h1.6v1.6h-1.6zM989.2 767.7h1.6v1.6h-1.6zM989.3 763.6h1.6v1.6h-1.6zM990.3 762.1h1.6v1.6h-1.6zM989.1 760.4h1.6v1.6h-1.6zM989.5 758.8h1.6v1.6h-1.6zM990.6 756.5h1.6v1.6h-1.6zM990.5 752.7h1.6v1.6h-1.6zM989.5 752.4h1.6v1.6h-1.6zM990.7 748.6h1.6v1.6h-1.6zM989.8 747.2h1.6v1.6h-1.6zM990.2 745.1h1.6v1.6h-1.6zM990.2 743.6h1.6v1.6h-1.6zM989.7 740.4h1.6v1.6h-1.6zM991.0 738.4h1.6v1.6h-1.6zM990.0 735.2h1.6v1.6h-1.6zM990.0 734.8h1.6v1.6h-1.6zM990.4 730.3h1.6v1.6h-1.6zM991.3 729.0h1.6v1.6h-1.6zM990.4 726.8h1.6v1.6h-1.6zM990.5 724.2h1.6v1.6h-1.6zM990.2 723.1h1.6v1.6h-1.6zM990.7 721.0h1.6v1.6h-1.6zM990.6 718.3h1.6v1.6h-1.6zM990.5 716.3h1.6v1.6h-1.6zM991.1 714.2h1.6v1.6h-1.6zM991.0 712.4h1.6v1.6h-1.6zM991.3 709.3h1.6v1.6h-1.6zM991.9 708.7h1.6v1.6h-1.6zM991.3 706.9h1.6v1.6h-1.6zM992.2 702.1h1.6v1.6h-1.6zM992.3 701.2h1.6v1.6h-1.6zM991.8 699.6h1.6v1.6h-1.6zM992.7 697.5h1.6v1.6h-1.6zM992.5 694.6h1.6v1.6h-1.6zM992.7 692.6h1.6v1.6h-1.6zM993.4 689.7h1.6v1.6h-1.6zM993.0 686.8h1.6v1.6h-1.6zM992.9 684.2h1.6v1.6h-1.6zM993.3 684.1h1.6v1.6h-1.6zM992.7 680.5h1.6v1.6h-1.6zM993.9 678.8h1.6v1.6h-1.6zM993.1 674.7h1.6v1.6h-1.6zM993.8 673.3h1.6v1.6h-1.6zM993.4 672.6h1.6v1.6h-1.6zM993.8 668.2h1.6v1.6h-1.6zM994.7 667.8h1.6v1.6h-1.6zM994.1 664.9h1.6v1.6h-1.6zM993.9 663.6h1.6v1.6h-1.6zM994.5 661.3h1.6v1.6h-1.6zM995.0 657.9h1.6v1.6h-1.6zM995.0 655.5h1.6v1.6h-1.6zM995.2 652.8h1.6v1.6h-1.6zM995.7 653.1h1.6v1.6h-1.6zM995.8 652.1h1.6v1.6h-1.6zM993.6 650.9h1.6v1.6h-1.6zM994.4 648.0h1.6v1.6h-1.6zM993.1 648.6h1.6v1.6h-1.6zM995.2 649.4h1.6v1.6h-1.6zM995.7 646.2h1.6v1.6h-1.6zM995.9 644.5h1.6v1.6h-1.6zM993.6 648.0h1.6v1.6h-1.6zM993.7 643.2h1.6v1.6h-1.6zM993.4 646.0h1.6v1.6h-1.6zM994.5 641.5h1.6v1.6h-1.6zM995.4 641.0h1.6v1.6h-1.6zM993.2 639.5h1.6v1.6h-1.6zM995.1 641.9h1.6v1.6h-1.6zM995.9 642.7h1.6v1.6h-1.6zM994.2 640.3h1.6v1.6h-1.6zM995.5 641.6h1.6v1.6h-1.6zM993.3 637.8h1.6v1.6h-1.6zM995.8 639.0h1.6v1.6h-1.6zM996.1 635.6h1.6v1.6h-1.6zM994.3 637.7h1.6v1.6h-1.6zM996.1 632.1h1.6v1.6h-1.6zM993.6 633.5h1.6v1.6h-1.6zM993.7 634.0h1.6v1.6h-1.6zM996.2 634.1h1.6v1.6h-1.6zM995.1 632.5h1.6v1.6h-1.6zM995.3 631.0h1.6v1.6h-1.6zM995.4 628.6h1.6v1.6h-1.6zM995.0 627.0h1.6v1.6h-1.6zM996.2 627.0h1.6v1.6h-1.6zM994.7 625.6h1.6v1.6h-1.6zM994.2 626.9h1.6v1.6h-1.6zM993.9 626.8h1.6v1.6h-1.6zM995.6 623.3h1.6v1.6h-1.6zM994.7 625.9h1.6v1.6h-1.6zM995.0 622.2h1.6v1.6h-1.6zM993.8 623.9h1.6v1.6h-1.6zM993.7 622.6h1.6v1.6h-1.6zM993.8 621.7h1.6v1.6h-1.6zM994.9 619.1h1.6v1.6h-1.6zM994.0 620.1h1.6v1.6h-1.6zM994.4 617.6h1.6v1.6h-1.6zM995.0 620.8h1.6v1.6h-1.6zM995.4 618.3h1.6v1.6h-1.6zM996.5 615.7h1.6v1.6h-1.6zM997.0 618.7h1.6v1.6h-1.6zM996.9 617.5h1.6v1.6h-1.6zM994.2 616.1h1.6v1.6h-1.6zM994.1 614.0h1.6v1.6h-1.6zM994.8 616.3h1.6v1.6h-1.6zM995.5 615.0h1.6v1.6h-1.6zM996.7 611.9h1.6v1.6h-1.6zM995.9 608.0h1.6v1.6h-1.6zM994.9 608.6h1.6v1.6h-1.6zM997.1 611.7h1.6v1.6h-1.6zM996.8 610.8h1.6v1.6h-1.6zM996.1 609.3h1.6v1.6h-1.6zM994.8 608.8h1.6v1.6h-1.6zM995.7 606.5h1.6v1.6h-1.6zM997.7 606.1h1.6v1.6h-1.6zM996.8 608.4h1.6v1.6h-1.6zM996.6 605.8h1.6v1.6h-1.6zM996.8 606.8h1.6v1.6h-1.6zM996.9 606.9h1.6v1.6h-1.6zM998.1 610.2h1.6v1.6h-1.6zM997.5 613.6h1.6v1.6h-1.6zM998.5 614.8h1.6v1.6h-1.6zM998.6 611.9h1.6v1.6h-1.6zM996.2 614.2h1.6v1.6h-1.6zM997.6 611.6h1.6v1.6h-1.6zM998.4 613.4h1.6v1.6h-1.6zM996.3 618.5h1.6v1.6h-1.6zM997.6 619.2h1.6v1.6h-1.6zM999.4 615.3h1.6v1.6h-1.6zM998.6 616.7h1.6v1.6h-1.6zM998.4 617.7h1.6v1.6h-1.6zM997.6 621.0h1.6v1.6h-1.6zM999.5 620.4h1.6v1.6h-1.6zM997.3 621.6h1.6v1.6h-1.6zM997.4 622.4h1.6v1.6h-1.6zM998.2 624.8h1.6v1.6h-1.6zM997.4 624.4h1.6v1.6h-1.6zM1000.0 621.2h1.6v1.6h-1.6zM997.8 626.9h1.6v1.6h-1.6zM997.4 625.7h1.6v1.6h-1.6zM999.0 626.1h1.6v1.6h-1.6zM999.3 625.6h1.6v1.6h-1.6zM998.2 627.8h1.6v1.6h-1.6zM998.1 626.8h1.6v1.6h-1.6zM999.0 626.7h1.6v1.6h-1.6zM1000.7 632.8h1.6v1.6h-1.6zM999.5 628.0h1.6v1.6h-1.6zM999.3 629.7h1.6v1.6h-1.6zM1000.2 630.2h1.6v1.6h-1.6zM998.3 633.0h1.6v1.6h-1.6zM1000.6 633.0h1.6v1.6h-1.6zM998.3 636.8h1.6v1.6h-1.6zM1001.0 632.9h1.6v1.6h-1.6zM999.5 634.6h1.6v1.6h-1.6zM999.9 637.8h1.6v1.6h-1.6zM1000.3 635.4h1.6v1.6h-1.6zM999.6 641.8h1.6v1.6h-1.6zM1000.7 638.0h1.6v1.6h-1.6zM1000.4 640.6h1.6v1.6h-1.6zM1001.9 641.1h1.6v1.6h-1.6zM999.6 639.8h1.6v1.6h-1.6zM999.4 643.7h1.6v1.6h-1.6zM1001.3 641.7h1.6v1.6h-1.6zM1000.7 646.5h1.6v1.6h-1.6zM1000.4 642.2h1.6v1.6h-1.6zM1002.0 647.8h1.6v1.6h-1.6zM1000.6 649.2h1.6v1.6h-1.6zM1001.8 644.4h1.6v1.6h-1.6zM1000.9 648.0h1.6v1.6h-1.6zM1003.0 650.4h1.6v1.6h-1.6zM1001.8 648.7h1.6v1.6h-1.6zM1001.0 648.9h1.6v1.6h-1.6zM1002.1 652.4h1.6v1.6h-1.6zM1000.9 652.4h1.6v1.6h-1.6zM1001.0 652.4h1.6v1.6h-1.6zM1002.6 655.2h1.6v1.6h-1.6z" fill="#0000c0"/></svg>
</body></html>
